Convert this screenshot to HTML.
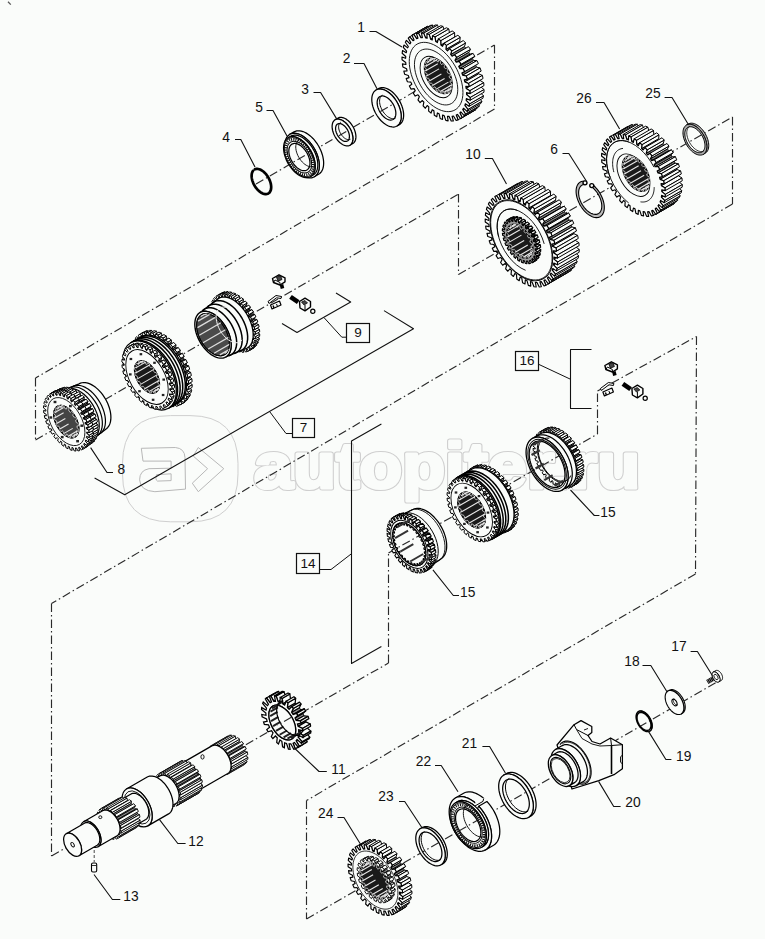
<!DOCTYPE html>
<html><head><meta charset="utf-8"><style>
html,body{margin:0;padding:0;background:#fafcfa;width:765px;height:939px;overflow:hidden}
svg{display:block}
text{font-family:"Liberation Sans",sans-serif;fill:#111}
</style></head><body>
<svg width="765" height="939" viewBox="0 0 765 939">
<defs><clipPath id="c1"><path d="M452.12,83.75 L452.05,82.14 L451.86,80.47 L451.52,78.76 L451.07,77.02 L450.49,75.26 L449.79,73.51 L448.98,71.78 L448.06,70.09 L447.06,68.46 L445.96,66.89 L444.80,65.41 L443.57,64.03 L442.29,62.76 L440.97,61.62 L439.62,60.61 L438.27,59.75 L436.91,59.04 L435.56,58.50 L434.24,58.12 L432.96,57.91 L431.73,57.87 L430.57,58.00 L429.47,58.31 L428.47,58.78 L427.55,59.42 L426.74,60.21 L426.04,61.15 L425.46,62.24 L425.01,63.45 L424.67,64.78 L424.48,66.22 L424.41,67.75 L424.48,69.36 L424.67,71.03 L425.01,72.74 L425.46,74.48 L426.04,76.24 L426.74,77.99 L427.55,79.72 L428.47,81.41 L429.47,83.04 L430.57,84.61 L431.73,86.09 L432.96,87.47 L434.24,88.74 L435.56,89.88 L436.91,90.89 L438.27,91.75 L439.62,92.46 L440.97,93.00 L442.29,93.38 L443.57,93.59 L444.80,93.63 L445.96,93.50 L447.06,93.19 L448.06,92.72 L448.98,92.08 L449.79,91.29 L450.49,90.35 L451.07,89.26 L451.52,88.05 L451.86,86.72 L452.05,85.28Z"/></clipPath><clipPath id="c2"><path d="M532.96,248.80 L532.90,247.27 L532.71,245.69 L532.40,244.06 L531.96,242.40 L531.41,240.74 L530.75,239.07 L529.98,237.43 L529.11,235.83 L528.15,234.27 L527.11,232.78 L526.01,231.38 L524.84,230.07 L523.62,228.86 L522.37,227.77 L521.09,226.82 L519.80,226.00 L518.51,225.33 L517.23,224.81 L515.98,224.45 L514.76,224.25 L513.59,224.21 L512.49,224.34 L511.45,224.63 L510.49,225.08 L509.62,225.68 L508.85,226.44 L508.19,227.33 L507.64,228.36 L507.20,229.51 L506.89,230.78 L506.70,232.15 L506.64,233.60 L506.70,235.13 L506.89,236.71 L507.20,238.34 L507.64,240.00 L508.19,241.66 L508.85,243.33 L509.62,244.97 L510.49,246.57 L511.45,248.13 L512.49,249.62 L513.59,251.02 L514.76,252.33 L515.98,253.54 L517.23,254.63 L518.51,255.58 L519.80,256.40 L521.09,257.07 L522.37,257.59 L523.62,257.95 L524.84,258.15 L526.01,258.19 L527.11,258.06 L528.15,257.77 L529.11,257.32 L529.98,256.72 L530.75,255.96 L531.41,255.07 L531.96,254.04 L532.40,252.89 L532.71,251.62 L532.90,250.25Z"/></clipPath><clipPath id="c3"><path d="M649.68,181.60 L649.62,180.01 L649.42,178.37 L649.09,176.67 L648.64,174.95 L648.07,173.22 L647.38,171.49 L646.58,169.78 L645.67,168.11 L644.68,166.50 L643.60,164.95 L642.45,163.49 L641.23,162.13 L639.97,160.87 L638.67,159.74 L637.34,158.75 L636.00,157.90 L634.66,157.20 L633.33,156.66 L632.03,156.29 L630.76,156.08 L629.55,156.04 L628.40,156.17 L627.32,156.47 L626.32,156.94 L625.42,157.57 L624.62,158.35 L623.93,159.28 L623.36,160.35 L622.90,161.55 L622.58,162.87 L622.38,164.29 L622.31,165.80 L622.38,167.39 L622.58,169.03 L622.90,170.73 L623.36,172.45 L623.93,174.18 L624.62,175.91 L625.42,177.62 L626.32,179.29 L627.32,180.90 L628.40,182.45 L629.55,183.91 L630.76,185.27 L632.03,186.53 L633.33,187.66 L634.66,188.65 L636.00,189.50 L637.34,190.20 L638.67,190.74 L639.97,191.11 L641.23,191.32 L642.45,191.36 L643.60,191.23 L644.68,190.93 L645.67,190.46 L646.58,189.83 L647.38,189.05 L648.07,188.12 L648.64,187.05 L649.09,185.85 L649.42,184.53 L649.62,183.11Z"/></clipPath><clipPath id="c4"><path d="M78.86,428.85 L78.80,427.39 L78.62,425.88 L78.32,424.33 L77.90,422.75 L77.37,421.16 L76.74,419.57 L76.01,418.01 L75.18,416.47 L74.27,414.99 L73.28,413.57 L72.22,412.23 L71.11,410.98 L69.95,409.83 L68.75,408.79 L67.53,407.88 L66.30,407.10 L65.07,406.46 L63.85,405.96 L62.65,405.62 L61.49,405.43 L60.38,405.39 L59.32,405.52 L58.33,405.79 L57.42,406.22 L56.59,406.80 L55.86,407.52 L55.23,408.37 L54.70,409.35 L54.28,410.45 L53.98,411.66 L53.80,412.96 L53.74,414.35 L53.80,415.81 L53.98,417.32 L54.28,418.87 L54.70,420.45 L55.23,422.04 L55.86,423.63 L56.59,425.19 L57.42,426.73 L58.33,428.21 L59.32,429.63 L60.38,430.97 L61.49,432.22 L62.65,433.37 L63.85,434.41 L65.07,435.32 L66.30,436.10 L67.53,436.74 L68.75,437.24 L69.95,437.58 L71.11,437.77 L72.22,437.81 L73.28,437.68 L74.27,437.41 L75.18,436.98 L76.01,436.40 L76.74,435.68 L77.37,434.83 L77.90,433.85 L78.32,432.75 L78.62,431.54 L78.80,430.24Z"/></clipPath><clipPath id="c5"><path d="M159.56,384.25 L159.50,382.79 L159.32,381.28 L159.02,379.73 L158.60,378.15 L158.07,376.56 L157.44,374.97 L156.71,373.41 L155.88,371.87 L154.97,370.39 L153.98,368.97 L152.92,367.63 L151.81,366.38 L150.65,365.23 L149.45,364.19 L148.23,363.28 L147.00,362.50 L145.77,361.86 L144.55,361.36 L143.35,361.02 L142.19,360.83 L141.08,360.79 L140.02,360.92 L139.03,361.19 L138.12,361.62 L137.29,362.20 L136.56,362.92 L135.93,363.77 L135.40,364.75 L134.98,365.85 L134.68,367.06 L134.50,368.36 L134.44,369.75 L134.50,371.21 L134.68,372.72 L134.98,374.27 L135.40,375.85 L135.93,377.44 L136.56,379.03 L137.29,380.59 L138.12,382.13 L139.03,383.61 L140.02,385.03 L141.08,386.37 L142.19,387.62 L143.35,388.77 L144.55,389.81 L145.77,390.72 L147.00,391.50 L148.23,392.14 L149.45,392.64 L150.65,392.98 L151.81,393.17 L152.92,393.21 L153.98,393.08 L154.97,392.81 L155.88,392.38 L156.71,391.80 L157.44,391.08 L158.07,390.23 L158.60,389.25 L159.02,388.15 L159.32,386.94 L159.50,385.64Z"/></clipPath><clipPath id="c6"><path d="M229.28,344.10 L229.20,342.21 L228.97,340.25 L228.58,338.24 L228.04,336.19 L227.36,334.13 L226.54,332.07 L225.59,330.04 L224.51,328.05 L223.33,326.13 L222.05,324.29 L220.67,322.55 L219.23,320.93 L217.73,319.44 L216.18,318.10 L214.60,316.91 L213.00,315.90 L211.40,315.07 L209.82,314.43 L208.27,313.98 L206.77,313.73 L205.33,313.69 L203.95,313.85 L202.67,314.20 L201.49,314.76 L200.41,315.51 L199.46,316.44 L198.64,317.55 L197.96,318.82 L197.42,320.25 L197.03,321.81 L196.80,323.50 L196.72,325.30 L196.80,327.19 L197.03,329.15 L197.42,331.16 L197.96,333.21 L198.64,335.27 L199.46,337.33 L200.41,339.36 L201.49,341.35 L202.67,343.27 L203.95,345.11 L205.33,346.85 L206.77,348.47 L208.27,349.96 L209.82,351.30 L211.40,352.49 L213.00,353.50 L214.60,354.33 L216.18,354.97 L217.73,355.42 L219.23,355.67 L220.67,355.71 L222.05,355.55 L223.33,355.20 L224.51,354.64 L225.59,353.89 L226.54,352.96 L227.36,351.85 L228.04,350.58 L228.58,349.15 L228.97,347.59 L229.20,345.90Z"/></clipPath><clipPath id="c7"><path d="M485.56,518.00 L485.49,516.39 L485.29,514.72 L484.96,513.01 L484.50,511.27 L483.92,509.51 L483.22,507.76 L482.41,506.03 L481.50,504.34 L480.49,502.71 L479.40,501.14 L478.23,499.66 L477.00,498.28 L475.72,497.01 L474.40,495.87 L473.06,494.86 L471.70,494.00 L470.34,493.29 L469.00,492.75 L467.68,492.37 L466.40,492.16 L465.17,492.12 L464.00,492.25 L462.91,492.56 L461.90,493.03 L460.99,493.67 L460.18,494.46 L459.48,495.40 L458.90,496.49 L458.44,497.70 L458.11,499.03 L457.91,500.47 L457.84,502.00 L457.91,503.61 L458.11,505.28 L458.44,506.99 L458.90,508.73 L459.48,510.49 L460.18,512.24 L460.99,513.97 L461.90,515.66 L462.91,517.29 L464.00,518.86 L465.17,520.34 L466.40,521.72 L467.68,522.99 L469.00,524.13 L470.34,525.14 L471.70,526.00 L473.06,526.71 L474.40,527.25 L475.72,527.63 L477.00,527.84 L478.23,527.88 L479.40,527.75 L480.49,527.44 L481.50,526.97 L482.41,526.33 L483.22,525.54 L483.92,524.60 L484.50,523.51 L484.96,522.30 L485.29,520.97 L485.49,519.53Z"/></clipPath><clipPath id="c8"><path d="M297.46,727.35 L297.40,725.99 L297.23,724.59 L296.95,723.14 L296.57,721.67 L296.07,720.19 L295.49,718.71 L294.80,717.25 L294.03,715.83 L293.18,714.45 L292.26,713.13 L291.28,711.88 L290.24,710.71 L289.16,709.64 L288.04,708.68 L286.91,707.83 L285.76,707.10 L284.62,706.50 L283.48,706.04 L282.37,705.72 L281.29,705.54 L280.25,705.51 L279.27,705.63 L278.35,705.88 L277.50,706.28 L276.73,706.82 L276.04,707.49 L275.45,708.28 L274.96,709.20 L274.58,710.22 L274.30,711.35 L274.13,712.56 L274.07,713.85 L274.13,715.21 L274.30,716.61 L274.58,718.06 L274.96,719.53 L275.45,721.01 L276.04,722.49 L276.73,723.95 L277.50,725.37 L278.35,726.75 L279.27,728.07 L280.25,729.32 L281.29,730.49 L282.37,731.56 L283.48,732.52 L284.62,733.37 L285.76,734.10 L286.91,734.70 L288.04,735.16 L289.16,735.48 L290.24,735.66 L291.28,735.69 L292.26,735.57 L293.18,735.32 L294.03,734.92 L294.80,734.38 L295.49,733.71 L296.07,732.92 L296.57,732.00 L296.95,730.98 L297.23,729.85 L297.40,728.64Z"/></clipPath><clipPath id="c9"><path d="M388.69,888.85 L388.62,887.19 L388.41,885.47 L388.07,883.71 L387.60,881.91 L387.00,880.10 L386.28,878.29 L385.45,876.51 L384.50,874.77 L383.47,873.08 L382.34,871.46 L381.14,869.94 L379.87,868.51 L378.55,867.21 L377.19,866.03 L375.80,864.99 L374.40,864.10 L373.00,863.37 L371.61,862.81 L370.25,862.42 L368.93,862.20 L367.66,862.16 L366.46,862.30 L365.33,862.61 L364.30,863.10 L363.35,863.76 L362.52,864.57 L361.80,865.55 L361.20,866.66 L360.73,867.92 L360.39,869.29 L360.18,870.77 L360.11,872.35 L360.18,874.01 L360.39,875.73 L360.73,877.49 L361.20,879.29 L361.80,881.10 L362.52,882.91 L363.35,884.69 L364.30,886.43 L365.33,888.12 L366.46,889.74 L367.66,891.26 L368.93,892.69 L370.25,893.99 L371.61,895.17 L373.00,896.21 L374.40,897.10 L375.80,897.83 L377.19,898.39 L378.55,898.78 L379.87,899.00 L381.14,899.04 L382.34,898.90 L383.47,898.59 L384.50,898.10 L385.45,897.44 L386.28,896.63 L387.00,895.65 L387.60,894.54 L388.07,893.28 L388.41,891.91 L388.62,890.43Z"/></clipPath></defs>
<rect width="765" height="939" fill="#fafcfa"/>
<path d="M170.5,415.6 L190,415.6 Q238,415.6 238,463.6 L238,473.8 Q238,521.8 190,521.8 L170.5,521.8 Q122.5,521.8 122.5,473.8 L122.5,463.6 Q122.5,415.6 170.5,415.6 Z" fill="none" stroke="#cfcfcf" stroke-width="1"/>
<text x="254" y="488" font-size="64" font-weight="bold" textLength="386" lengthAdjust="spacingAndGlyphs" style="font-family:'Liberation Sans',sans-serif;fill:#fafcfa;stroke:#cfcfcf;stroke-width:5.2;stroke-linejoin:round">autopiter.ru</text>
<text x="254" y="488" font-size="64" font-weight="bold" textLength="386" lengthAdjust="spacingAndGlyphs" style="font-family:'Liberation Sans',sans-serif;fill:#fafcfa;stroke:#fafcfa;stroke-width:3.2;stroke-linejoin:round">autopiter.ru</text>
<path d="M141.3,448.3 L175.3,447.5 Q184.7,448.3 185.0,457.7 L185.5,489.1 L154.9,491.7 Q140.1,490.8 139.6,479.8 Q139.6,470.4 149.0,468.7 L171.1,468.2 L171.1,461.1 L143.0,461.1 Z M156.6,474.7 L171.1,473.8 L171.1,480.6 L157.5,481.1 Q154.9,479.8 156.6,474.7 Z" fill="none" stroke="#b8b8b8" stroke-width="1"/>
<polygon points="193.2,456.0 198.3,447.5 223.8,468.7 198.3,491.7 192.3,483.2 207.6,468.7" fill="none" stroke="#b8b8b8" stroke-width="1" stroke-linejoin="miter"/>
<polyline points="8.00,1.80 10.80,4.60" fill="none" stroke="#555" stroke-width="1.30" stroke-linejoin="round" />
<polyline points="256.00,184.00 494.50,45.00" fill="none" stroke="#2a2a2a" stroke-width="1.15" stroke-linejoin="round" stroke-dasharray="8.5 3 1.5 3" stroke-linecap="butt"/>
<polyline points="494.50,45.00 494.50,109.00" fill="none" stroke="#2a2a2a" stroke-width="1.15" stroke-linejoin="round" stroke-dasharray="8.5 3 1.5 3" stroke-linecap="butt"/>
<polyline points="494.50,109.00 35.50,378.00" fill="none" stroke="#2a2a2a" stroke-width="1.15" stroke-linejoin="round" stroke-dasharray="8.5 3 1.5 3" stroke-linecap="butt"/>
<polyline points="35.50,378.00 35.50,440.00" fill="none" stroke="#2a2a2a" stroke-width="1.15" stroke-linejoin="round" stroke-dasharray="8.5 3 1.5 3" stroke-linecap="butt"/>
<polyline points="35.50,440.00 458.50,194.00" fill="none" stroke="#2a2a2a" stroke-width="1.15" stroke-linejoin="round" stroke-dasharray="8.5 3 1.5 3" stroke-linecap="butt"/>
<polyline points="458.50,194.00 458.50,274.50" fill="none" stroke="#2a2a2a" stroke-width="1.15" stroke-linejoin="round" stroke-dasharray="8.5 3 1.5 3" stroke-linecap="butt"/>
<polyline points="458.50,274.50 732.50,117.00" fill="none" stroke="#2a2a2a" stroke-width="1.15" stroke-linejoin="round" stroke-dasharray="8.5 3 1.5 3" stroke-linecap="butt"/>
<polyline points="732.50,117.00 732.50,204.00" fill="none" stroke="#2a2a2a" stroke-width="1.15" stroke-linejoin="round" stroke-dasharray="8.5 3 1.5 3" stroke-linecap="butt"/>
<polyline points="732.50,204.00 51.50,603.50" fill="none" stroke="#2a2a2a" stroke-width="1.15" stroke-linejoin="round" stroke-dasharray="8.5 3 1.5 3" stroke-linecap="butt"/>
<polyline points="51.50,603.50 51.50,856.00" fill="none" stroke="#2a2a2a" stroke-width="1.15" stroke-linejoin="round" stroke-dasharray="8.5 3 1.5 3" stroke-linecap="butt"/>
<polyline points="51.50,856.00 388.50,663.00" fill="none" stroke="#2a2a2a" stroke-width="1.15" stroke-linejoin="round" stroke-dasharray="8.5 3 1.5 3" stroke-linecap="butt"/>
<polyline points="388.50,663.00 388.50,553.00" fill="none" stroke="#2a2a2a" stroke-width="1.15" stroke-linejoin="round" stroke-dasharray="8.5 3 1.5 3" stroke-linecap="butt"/>
<polyline points="388.50,553.00 597.50,434.00" fill="none" stroke="#2a2a2a" stroke-width="1.15" stroke-linejoin="round" stroke-dasharray="8.5 3 1.5 3" stroke-linecap="butt"/>
<polyline points="597.50,434.00 597.50,391.00" fill="none" stroke="#2a2a2a" stroke-width="1.15" stroke-linejoin="round" stroke-dasharray="8.5 3 1.5 3" stroke-linecap="butt"/>
<polyline points="597.50,391.00 696.50,336.50" fill="none" stroke="#2a2a2a" stroke-width="1.15" stroke-linejoin="round" stroke-dasharray="8.5 3 1.5 3" stroke-linecap="butt"/>
<polyline points="696.50,336.50 695.50,574.00" fill="none" stroke="#2a2a2a" stroke-width="1.15" stroke-linejoin="round" stroke-dasharray="8.5 3 1.5 3" stroke-linecap="butt"/>
<polyline points="695.50,574.00 306.50,800.50" fill="none" stroke="#2a2a2a" stroke-width="1.15" stroke-linejoin="round" stroke-dasharray="8.5 3 1.5 3" stroke-linecap="butt"/>
<polyline points="306.50,800.50 306.50,919.00" fill="none" stroke="#2a2a2a" stroke-width="1.15" stroke-linejoin="round" stroke-dasharray="8.5 3 1.5 3" stroke-linecap="butt"/>
<polyline points="306.50,919.00 722.00,679.00" fill="none" stroke="#2a2a2a" stroke-width="1.15" stroke-linejoin="round" stroke-dasharray="8.5 3 1.5 3" stroke-linecap="butt"/>
<polyline points="282.00,323.50 297.00,332.50 350.70,302.00 336.00,293.00" fill="none" stroke="#111" stroke-width="1.10" stroke-linejoin="round" />
<polyline points="324.00,317.60 341.80,337.20 346.50,337.20" fill="none" stroke="#111" stroke-width="1.00" stroke-linejoin="round" />
<polyline points="94.60,478.00 124.70,494.70 413.50,328.70 384.00,310.60" fill="none" stroke="#111" stroke-width="1.10" stroke-linejoin="round" />
<polyline points="269.60,411.50 286.00,433.50 292.00,433.50" fill="none" stroke="#111" stroke-width="1.00" stroke-linejoin="round" />
<polyline points="381.40,424.00 351.50,441.00 351.50,663.40 381.40,646.40" fill="none" stroke="#111" stroke-width="1.10" stroke-linejoin="round" />
<polyline points="319.20,569.50 331.00,569.50 351.50,553.70" fill="none" stroke="#111" stroke-width="1.00" stroke-linejoin="round" />
<polyline points="591.50,349.50 570.50,349.50 570.50,408.50 591.50,408.50" fill="none" stroke="#111" stroke-width="1.10" stroke-linejoin="round" />
<polyline points="538.00,364.00 570.00,379.00" fill="none" stroke="#111" stroke-width="1.00" stroke-linejoin="round" />
<rect x="346.5" y="323.5" width="23.0" height="19.0" fill="#fafcfa" stroke="#111" stroke-width="1.2"/>
<text x="358.0" y="337.0" font-size="13.5" text-anchor="middle" >9</text>
<rect x="292.5" y="418.5" width="22.0" height="19.0" fill="#fafcfa" stroke="#111" stroke-width="1.2"/>
<text x="303.5" y="432.0" font-size="13.5" text-anchor="middle" >7</text>
<rect x="296.5" y="553.5" width="23.0" height="20.0" fill="#fafcfa" stroke="#111" stroke-width="1.2"/>
<text x="308.0" y="568.0" font-size="13.5" text-anchor="middle" >14</text>
<rect x="515.5" y="351.5" width="23.0" height="19.0" fill="#fafcfa" stroke="#111" stroke-width="1.2"/>
<text x="527.0" y="365.0" font-size="13.5" text-anchor="middle" >16</text>
<polyline points="252.92,170.96 252.48,171.70 252.13,172.54 251.86,173.47 251.69,174.48 251.62,175.56 251.64,176.69 251.76,177.88 251.97,179.10 252.28,180.34 252.68,181.60 253.16,182.85 253.73,184.09 254.37,185.31 255.08,186.48 255.86,187.61 256.69,188.68 257.56,189.68 258.47,190.59 259.42,191.42 260.38,192.15 261.35,192.77 262.32,193.28 263.28,193.68 264.23,193.95 265.14,194.10 266.02,194.13 266.86,194.03 267.64,193.81 268.36,193.46 269.01,193.00 269.58,192.43 270.07,191.74 270.48,190.96 270.80,190.08 271.02,189.11 271.15,188.08 271.18,186.97 271.12,185.81 270.96,184.61 270.71,183.38 270.36,182.13 269.93,180.88 269.41,179.62 268.81,178.39 268.14,177.19 267.40,176.03 266.60,174.93 265.75,173.89 264.86,172.93 263.93,172.05 262.98,171.26 262.01,170.58 261.04,170.00 260.07,169.54 259.12,169.19 258.18,168.97 257.28,168.87 256.42,168.90 255.61,169.05 254.85,169.32" fill="none" stroke="#000" stroke-width="2.70" stroke-linejoin="round" stroke-linecap="round"/>
<polygon points="314.25,176.81 315.39,176.02 316.40,175.03 317.27,173.85 318.00,172.49 318.57,170.98 318.99,169.31 319.24,167.51 319.32,165.60 319.24,163.59 318.99,161.51 318.57,159.36 318.00,157.19 317.27,154.99 316.40,152.80 315.39,150.64 314.25,148.53 312.99,146.48 311.62,144.53 310.16,142.68 308.63,140.95 307.03,139.36 305.38,137.94 303.70,136.68 302.00,135.60 300.30,134.72 298.62,134.03 296.97,133.56 295.37,133.30 293.83,133.25 292.38,133.41 291.01,133.80 289.75,134.39 294.08,131.89 295.34,131.30 296.71,130.91 298.16,130.75 299.70,130.80 301.30,131.06 302.95,131.53 304.63,132.22 306.33,133.10 308.03,134.18 309.71,135.44 311.36,136.86 312.96,138.45 314.49,140.18 315.95,142.03 317.32,143.98 318.58,146.03 319.72,148.14 320.73,150.30 321.60,152.49 322.33,154.69 322.90,156.86 323.32,159.01 323.57,161.09 323.65,163.10 323.57,165.01 323.32,166.81 322.90,168.48 322.33,169.99 321.60,171.35 320.73,172.53 319.72,173.52 318.58,174.31" fill="#fafcfa" stroke="#000" stroke-width="1.25" stroke-linejoin="round" />
<path d="M319.32,165.60 L319.24,163.59 L318.99,161.51 L318.57,159.36 L318.00,157.19 L317.27,154.99 L316.40,152.80 L315.39,150.64 L314.25,148.53 L312.99,146.48 L311.62,144.53 L310.16,142.68 L308.63,140.95 L307.03,139.36 L305.38,137.94 L303.70,136.68 L302.00,135.60 L300.30,134.72 L298.62,134.03 L296.97,133.56 L295.37,133.30 L293.83,133.25 L292.38,133.41 L291.01,133.80 L289.75,134.39 L288.61,135.18 L287.60,136.17 L286.72,137.35 L286.00,138.71 L285.42,140.22 L285.01,141.89 L284.76,143.69 L284.68,145.60 L284.76,147.61 L285.01,149.69 L285.42,151.84 L286.00,154.01 L286.72,156.21 L287.60,158.40 L288.61,160.56 L289.75,162.67 L291.01,164.72 L292.38,166.67 L293.83,168.52 L295.37,170.25 L296.97,171.84 L298.62,173.26 L300.30,174.52 L302.00,175.60 L303.70,176.48 L305.38,177.17 L307.03,177.64 L308.63,177.90 L310.16,177.95 L311.62,177.79 L312.99,177.40 L314.25,176.81 L315.39,176.02 L316.40,175.03 L317.27,173.85 L318.00,172.49 L318.57,170.98 L318.99,169.31 L319.24,167.51Z M317.15,164.35 L317.08,162.59 L316.86,160.77 L316.50,158.89 L316.00,156.99 L315.36,155.07 L314.60,153.15 L313.71,151.26 L312.71,149.41 L311.61,147.62 L310.42,145.91 L309.14,144.29 L307.80,142.78 L306.40,141.39 L304.95,140.14 L303.48,139.04 L302.00,138.10 L300.51,137.33 L299.04,136.73 L297.60,136.31 L296.20,136.08 L294.85,136.04 L293.58,136.19 L292.38,136.52 L291.28,137.04 L290.28,137.73 L289.40,138.60 L288.63,139.63 L288.00,140.82 L287.50,142.15 L287.13,143.60 L286.92,145.18 L286.84,146.85 L286.92,148.61 L287.13,150.43 L287.50,152.31 L288.00,154.21 L288.63,156.13 L289.40,158.05 L290.28,159.94 L291.28,161.79 L292.38,163.58 L293.58,165.29 L294.85,166.91 L296.20,168.42 L297.60,169.81 L299.04,171.06 L300.51,172.16 L302.00,173.10 L303.48,173.87 L304.95,174.47 L306.40,174.89 L307.80,175.12 L309.14,175.16 L310.42,175.01 L311.61,174.68 L312.71,174.16 L313.71,173.47 L314.60,172.60 L315.36,171.57 L316.00,170.38 L316.50,169.05 L316.86,167.60 L317.08,166.02Z" fill="#fafcfa" stroke="#000" stroke-width="1.25" fill-rule="evenodd"/>
<polygon points="310.61,176.51 311.65,175.78 312.58,174.87 313.38,173.80 314.04,172.56 314.57,171.17 314.94,169.64 315.17,168.00 315.25,166.25 315.17,164.41 314.94,162.50 314.57,160.54 314.04,158.55 313.38,156.54 312.58,154.54 311.65,152.56 310.61,150.63 309.45,148.76 308.20,146.97 306.87,145.27 305.46,143.69 304.00,142.24 302.49,140.94 300.95,139.78 299.40,138.80 297.85,137.99 296.31,137.37 294.80,136.93 293.34,136.69 291.93,136.65 290.60,136.80 289.35,137.15 288.19,137.69 290.79,136.19 291.94,135.65 293.19,135.30 294.53,135.15 295.93,135.19 297.40,135.43 298.91,135.87 300.44,136.49 302.00,137.30 303.55,138.28 305.09,139.44 306.60,140.74 308.06,142.19 309.47,143.77 310.80,145.47 312.05,147.26 313.20,149.13 314.25,151.06 315.18,153.04 315.97,155.04 316.64,157.05 317.16,159.04 317.54,161.00 317.77,162.91 317.85,164.75 317.77,166.50 317.54,168.14 317.16,169.67 316.64,171.06 315.97,172.30 315.18,173.37 314.25,174.28 313.20,175.01" fill="#fafcfa" stroke="#000" stroke-width="1.25" stroke-linejoin="round" />
<path d="M315.25,166.25 L315.17,164.41 L314.94,162.50 L314.57,160.54 L314.04,158.55 L313.38,156.54 L312.58,154.54 L311.65,152.56 L310.61,150.63 L309.45,148.76 L308.20,146.97 L306.87,145.27 L305.46,143.69 L304.00,142.24 L302.49,140.94 L300.95,139.78 L299.40,138.80 L297.85,137.99 L296.31,137.37 L294.80,136.93 L293.34,136.69 L291.93,136.65 L290.60,136.80 L289.35,137.15 L288.19,137.69 L287.15,138.42 L286.22,139.33 L285.42,140.40 L284.76,141.64 L284.23,143.03 L283.86,144.56 L283.63,146.20 L283.55,147.95 L283.63,149.79 L283.86,151.70 L284.23,153.66 L284.76,155.65 L285.42,157.66 L286.22,159.66 L287.15,161.64 L288.19,163.57 L289.35,165.44 L290.60,167.23 L291.93,168.93 L293.34,170.51 L294.80,171.96 L296.31,173.26 L297.85,174.42 L299.40,175.40 L300.95,176.21 L302.49,176.83 L304.00,177.27 L305.46,177.51 L306.87,177.55 L308.20,177.40 L309.45,177.05 L310.61,176.51 L311.65,175.78 L312.58,174.87 L313.38,173.80 L314.04,172.56 L314.57,171.17 L314.94,169.64 L315.17,168.00Z M309.97,163.20 L309.91,161.97 L309.76,160.70 L309.51,159.40 L309.16,158.07 L308.72,156.73 L308.18,155.39 L307.57,154.08 L306.87,152.79 L306.10,151.54 L305.27,150.35 L304.38,149.22 L303.44,148.16 L302.47,147.20 L301.46,146.32 L300.44,145.56 L299.40,144.90 L298.36,144.36 L297.34,143.94 L296.33,143.65 L295.36,143.49 L294.42,143.47 L293.53,143.57 L292.70,143.80 L291.93,144.16 L291.23,144.65 L290.62,145.25 L290.08,145.97 L289.64,146.80 L289.29,147.72 L289.04,148.74 L288.89,149.83 L288.83,151.00 L288.89,152.23 L289.04,153.50 L289.29,154.80 L289.64,156.13 L290.08,157.47 L290.62,158.81 L291.23,160.12 L291.93,161.41 L292.70,162.66 L293.53,163.85 L294.42,164.98 L295.36,166.04 L296.33,167.00 L297.34,167.88 L298.36,168.64 L299.40,169.30 L300.44,169.84 L301.46,170.26 L302.47,170.55 L303.44,170.71 L304.38,170.73 L305.27,170.63 L306.10,170.40 L306.87,170.04 L307.57,169.55 L308.18,168.95 L308.72,168.23 L309.16,167.40 L309.51,166.48 L309.76,165.46 L309.91,164.37Z" fill="#fafcfa" stroke="#000" stroke-width="1.25" fill-rule="evenodd"/>
<ellipse cx="299.40" cy="157.10" rx="11.24" ry="19.47" transform="rotate(-30 299.40 157.10)" fill="none" stroke="#111" stroke-width="2.6" stroke-dasharray="1.1 1.1"/>
<ellipse cx="299.40" cy="157.10" rx="12.30" ry="21.31" transform="rotate(-30 299.40 157.10)" fill="none" stroke="#000" stroke-width="0.90" />
<ellipse cx="299.40" cy="157.10" rx="10.04" ry="17.39" transform="rotate(-30 299.40 157.10)" fill="none" stroke="#000" stroke-width="0.90" />
<polyline points="298.86,140.16 297.95,140.83 297.18,141.72 296.57,142.80 296.12,144.05 295.85,145.46 295.76,147.00 295.85,148.64 296.12,150.37 296.57,152.13 297.18,153.92 297.95,155.69 298.86,157.41 299.90,159.07 301.05,160.62 302.28,162.04 303.59,163.31 304.95,164.40 306.33,165.30 307.71,165.99 309.06,166.46 310.37,166.71 311.61,166.72 312.76,166.49 313.80,166.04" fill="none" stroke="#000" stroke-width="0.90" stroke-linejoin="round" />
<polygon points="349.85,145.23 350.53,144.75 351.14,144.16 351.67,143.45 352.10,142.64 352.44,141.73 352.69,140.73 352.84,139.65 352.89,138.50 352.84,137.29 352.69,136.04 352.44,134.76 352.10,133.45 351.67,132.13 351.14,130.82 350.53,129.53 349.85,128.26 349.09,127.03 348.27,125.86 347.40,124.75 346.48,123.71 345.52,122.76 344.53,121.90 343.52,121.15 342.50,120.50 341.48,119.97 340.47,119.56 339.48,119.28 338.52,119.12 337.60,119.09 336.73,119.19 335.91,119.42 335.15,119.77 338.18,118.02 338.94,117.67 339.76,117.44 340.63,117.34 341.55,117.37 342.51,117.53 343.50,117.81 344.51,118.22 345.53,118.75 346.55,119.40 347.56,120.15 348.55,121.01 349.51,121.96 350.43,123.00 351.30,124.11 352.12,125.28 352.88,126.51 353.56,127.78 354.17,129.07 354.70,130.38 355.13,131.70 355.48,133.01 355.72,134.29 355.87,135.54 355.92,136.75 355.87,137.90 355.72,138.98 355.48,139.98 355.13,140.89 354.70,141.70 354.17,142.41 353.56,143.00 352.88,143.48" fill="#fafcfa" stroke="#000" stroke-width="1.25" stroke-linejoin="round" />
<path d="M352.89,138.50 L352.84,137.29 L352.69,136.04 L352.44,134.76 L352.10,133.45 L351.67,132.13 L351.14,130.82 L350.53,129.53 L349.85,128.26 L349.09,127.03 L348.27,125.86 L347.40,124.75 L346.48,123.71 L345.52,122.76 L344.53,121.90 L343.52,121.15 L342.50,120.50 L341.48,119.97 L340.47,119.56 L339.48,119.28 L338.52,119.12 L337.60,119.09 L336.73,119.19 L335.91,119.42 L335.15,119.77 L334.47,120.25 L333.86,120.84 L333.33,121.55 L332.90,122.36 L332.56,123.27 L332.31,124.27 L332.16,125.35 L332.11,126.50 L332.16,127.71 L332.31,128.96 L332.56,130.24 L332.90,131.55 L333.33,132.87 L333.86,134.18 L334.47,135.47 L335.15,136.74 L335.91,137.97 L336.73,139.14 L337.60,140.25 L338.52,141.29 L339.48,142.24 L340.47,143.10 L341.48,143.85 L342.50,144.50 L343.52,145.03 L344.53,145.44 L345.52,145.72 L346.48,145.88 L347.40,145.91 L348.27,145.81 L349.09,145.58 L349.85,145.23 L350.53,144.75 L351.14,144.16 L351.67,143.45 L352.10,142.64 L352.44,141.73 L352.69,140.73 L352.84,139.65Z M349.43,136.50 L349.39,135.70 L349.30,134.86 L349.13,134.01 L348.90,133.13 L348.61,132.26 L348.26,131.38 L347.86,130.52 L347.40,129.67 L346.90,128.85 L346.35,128.07 L345.77,127.33 L345.15,126.64 L344.51,126.01 L343.85,125.43 L343.18,124.93 L342.50,124.50 L341.82,124.15 L341.15,123.87 L340.49,123.68 L339.85,123.58 L339.23,123.56 L338.65,123.63 L338.10,123.78 L337.60,124.01 L337.14,124.33 L336.74,124.73 L336.39,125.20 L336.10,125.74 L335.87,126.35 L335.70,127.02 L335.61,127.74 L335.57,128.50 L335.61,129.30 L335.70,130.14 L335.87,130.99 L336.10,131.87 L336.39,132.74 L336.74,133.62 L337.14,134.48 L337.60,135.33 L338.10,136.15 L338.65,136.93 L339.23,137.67 L339.85,138.36 L340.49,138.99 L341.15,139.57 L341.82,140.07 L342.50,140.50 L343.18,140.85 L343.85,141.13 L344.51,141.32 L345.15,141.42 L345.77,141.44 L346.35,141.37 L346.90,141.22 L347.40,140.99 L347.86,140.67 L348.26,140.27 L348.61,139.80 L348.90,139.26 L349.13,138.65 L349.30,137.98 L349.39,137.26Z" fill="#fafcfa" stroke="#000" stroke-width="1.25" fill-rule="evenodd"/>
<polyline points="340.63,122.26 340.03,122.71 339.53,123.29 339.13,123.99 338.84,124.82 338.66,125.74 338.60,126.75 338.66,127.83 338.84,128.96 339.13,130.12 339.53,131.29 340.03,132.45 340.63,133.58 341.31,134.66 342.07,135.68 342.88,136.61 343.74,137.44 344.63,138.16 345.53,138.75 346.44,139.20 347.32,139.51 348.18,139.67 349.00,139.68 349.75,139.53 350.43,139.24" fill="none" stroke="#000" stroke-width="1.00" stroke-linejoin="round" />
<polygon points="396.91,126.03 397.88,125.36 398.74,124.51 399.48,123.51 400.10,122.36 400.59,121.07 400.94,119.65 401.15,118.13 401.22,116.50 401.15,114.79 400.94,113.02 400.59,111.20 400.10,109.35 399.48,107.48 398.74,105.62 397.88,103.79 396.91,101.99 395.84,100.25 394.68,98.59 393.44,97.01 392.13,95.55 390.77,94.20 389.37,92.98 387.94,91.92 386.50,91.00 385.06,90.25 383.63,89.67 382.23,89.26 380.87,89.04 379.56,89.00 378.32,89.14 377.16,89.47 376.09,89.97 378.51,88.57 379.59,88.07 380.75,87.74 381.98,87.60 383.29,87.64 384.65,87.86 386.05,88.27 387.48,88.85 388.92,89.60 390.37,90.52 391.80,91.58 393.20,92.80 394.56,94.15 395.86,95.61 397.10,97.19 398.26,98.85 399.34,100.59 400.31,102.39 401.17,104.22 401.91,106.08 402.53,107.95 403.01,109.80 403.36,111.62 403.58,113.39 403.65,115.10 403.58,116.73 403.36,118.25 403.01,119.67 402.53,120.96 401.91,122.11 401.17,123.11 400.31,123.96 399.34,124.63" fill="#fafcfa" stroke="#000" stroke-width="1.25" stroke-linejoin="round" />
<path d="M401.22,116.50 L401.15,114.79 L400.94,113.02 L400.59,111.20 L400.10,109.35 L399.48,107.48 L398.74,105.62 L397.88,103.79 L396.91,101.99 L395.84,100.25 L394.68,98.59 L393.44,97.01 L392.13,95.55 L390.77,94.20 L389.37,92.98 L387.94,91.92 L386.50,91.00 L385.06,90.25 L383.63,89.67 L382.23,89.26 L380.87,89.04 L379.56,89.00 L378.32,89.14 L377.16,89.47 L376.09,89.97 L375.12,90.64 L374.26,91.49 L373.52,92.49 L372.90,93.64 L372.41,94.93 L372.06,96.35 L371.85,97.87 L371.78,99.50 L371.85,101.21 L372.06,102.98 L372.41,104.80 L372.90,106.65 L373.52,108.52 L374.26,110.38 L375.12,112.21 L376.09,114.01 L377.16,115.75 L378.32,117.41 L379.56,118.99 L380.87,120.45 L382.23,121.80 L383.63,123.02 L385.06,124.08 L386.50,125.00 L387.94,125.75 L389.37,126.33 L390.77,126.74 L392.13,126.96 L393.44,127.00 L394.68,126.86 L395.84,126.53 L396.91,126.03 L397.88,125.36 L398.74,124.51 L399.48,123.51 L400.10,122.36 L400.59,121.07 L400.94,119.65 L401.15,118.13Z M395.85,113.40 L395.81,112.32 L395.67,111.19 L395.45,110.03 L395.14,108.86 L394.75,107.67 L394.28,106.49 L393.73,105.32 L393.11,104.18 L392.43,103.08 L391.70,102.02 L390.91,101.02 L390.08,100.09 L389.22,99.23 L388.32,98.46 L387.42,97.78 L386.50,97.20 L385.58,96.72 L384.68,96.35 L383.78,96.10 L382.92,95.96 L382.09,95.93 L381.30,96.02 L380.57,96.23 L379.89,96.54 L379.27,96.97 L378.72,97.51 L378.25,98.15 L377.86,98.88 L377.55,99.70 L377.33,100.60 L377.19,101.57 L377.15,102.60 L377.19,103.68 L377.33,104.81 L377.55,105.97 L377.86,107.14 L378.25,108.33 L378.72,109.51 L379.27,110.68 L379.89,111.82 L380.57,112.92 L381.30,113.98 L382.09,114.98 L382.92,115.91 L383.78,116.77 L384.68,117.54 L385.58,118.22 L386.50,118.80 L387.42,119.28 L388.32,119.65 L389.22,119.90 L390.08,120.04 L390.91,120.07 L391.70,119.98 L392.43,119.77 L393.11,119.46 L393.73,119.03 L394.28,118.49 L394.75,117.85 L395.14,117.12 L395.45,116.30 L395.67,115.40 L395.81,114.43Z" fill="#fafcfa" stroke="#000" stroke-width="1.25" fill-rule="evenodd"/>
<polyline points="382.31,95.14 381.50,95.74 380.82,96.52 380.28,97.48 379.89,98.59 379.65,99.84 379.57,101.20 379.65,102.66 379.89,104.18 380.28,105.74 380.82,107.32 381.50,108.89 382.31,110.42 383.23,111.88 384.25,113.25 385.35,114.51 386.50,115.63 387.70,116.60 388.92,117.40 390.15,118.01 391.35,118.43 392.50,118.64 393.60,118.65 394.62,118.46 395.54,118.06" fill="none" stroke="#000" stroke-width="1.00" stroke-linejoin="round" />
<polygon points="457.66,114.34 459.66,112.94 461.45,111.19 462.98,109.11 464.26,106.73 465.27,104.06 466.00,101.13 466.44,97.97 466.58,94.60 466.44,91.07 466.00,87.39 465.27,83.62 464.26,79.79 462.98,75.93 461.45,72.08 459.66,68.27 457.66,64.55 455.44,60.96 453.04,57.51 450.47,54.25 447.77,51.21 444.95,48.42 442.05,45.91 439.09,43.69 436.10,41.80 433.11,40.24 430.15,39.04 427.25,38.21 424.43,37.74 421.73,37.66 419.16,37.95 416.76,38.62 414.54,39.66 428.40,31.66 430.62,30.62 433.02,29.95 435.59,29.66 438.29,29.74 441.11,30.21 444.01,31.04 446.97,32.24 449.96,33.80 452.94,35.69 455.90,37.91 458.81,40.42 461.62,43.21 464.33,46.25 466.89,49.51 469.30,52.96 471.51,56.55 473.52,60.27 475.30,64.08 476.84,67.93 478.12,71.79 479.13,75.62 479.85,79.39 480.29,83.07 480.44,86.60 480.29,89.97 479.85,93.13 479.13,96.06 478.12,98.73 476.84,101.11 475.30,103.19 473.52,104.94 471.51,106.34" fill="#777" stroke="none" stroke-width="0.00" stroke-linejoin="round" />
<polygon points="412.98,40.71 409.74,36.77 423.59,28.77 426.84,32.71" fill="#fafcfa" stroke="#000" stroke-width="1.00" stroke-linejoin="round" />
<polygon points="458.07,119.83 456.24,115.05 470.10,107.05 471.93,111.83" fill="#fafcfa" stroke="#000" stroke-width="1.00" stroke-linejoin="round" />
<polygon points="413.78,34.31 411.99,35.20 425.85,27.20 427.63,26.31" fill="#fafcfa" stroke="#000" stroke-width="1.00" stroke-linejoin="round" />
<polygon points="460.53,118.61 462.17,117.47 476.02,109.47 474.39,110.61" fill="#fafcfa" stroke="#000" stroke-width="1.00" stroke-linejoin="round" />
<polygon points="416.67,38.66 413.78,34.31 427.63,26.31 430.53,30.66" fill="#fafcfa" stroke="#000" stroke-width="1.00" stroke-linejoin="round" />
<polygon points="462.17,117.47 459.82,112.81 473.67,104.81 476.02,109.47" fill="#fafcfa" stroke="#000" stroke-width="1.00" stroke-linejoin="round" />
<polygon points="417.97,38.23 416.67,38.66 430.53,30.66 431.83,30.23" fill="#777" stroke="#000" stroke-width="0.70" stroke-linejoin="round" />
<polygon points="459.82,112.81 460.82,111.87 474.68,103.87 473.67,104.81" fill="#777" stroke="#000" stroke-width="0.70" stroke-linejoin="round" />
<polygon points="418.46,33.09 416.42,33.45 430.28,25.45 432.31,25.09" fill="#fafcfa" stroke="#000" stroke-width="1.00" stroke-linejoin="round" />
<polygon points="464.21,115.57 465.51,113.95 479.37,105.95 478.06,107.57" fill="#fafcfa" stroke="#000" stroke-width="1.00" stroke-linejoin="round" />
<polygon points="420.92,37.71 418.46,33.09 432.31,25.09 434.77,29.71" fill="#fafcfa" stroke="#000" stroke-width="1.00" stroke-linejoin="round" />
<polygon points="465.51,113.95 462.71,109.53 476.57,101.53 479.37,105.95" fill="#fafcfa" stroke="#000" stroke-width="1.00" stroke-linejoin="round" />
<polygon points="422.38,37.65 420.92,37.71 434.77,29.71 436.23,29.65" fill="#777" stroke="#000" stroke-width="0.70" stroke-linejoin="round" />
<polygon points="462.71,109.53 463.48,108.28 477.34,100.28 476.57,101.53" fill="#777" stroke="#000" stroke-width="0.70" stroke-linejoin="round" />
<polygon points="423.65,33.13 421.41,32.96 435.27,24.96 437.50,25.13" fill="#fafcfa" stroke="#000" stroke-width="1.00" stroke-linejoin="round" />
<polygon points="467.07,111.41 468.01,109.37 481.87,101.37 480.93,103.41" fill="#fafcfa" stroke="#000" stroke-width="1.00" stroke-linejoin="round" />
<polygon points="425.60,37.89 423.65,33.13 437.50,25.13 439.46,29.89" fill="#fafcfa" stroke="#000" stroke-width="1.00" stroke-linejoin="round" />
<polygon points="427.17,38.19 425.60,37.89 439.46,29.89 441.03,30.19" fill="#777" stroke="#000" stroke-width="0.70" stroke-linejoin="round" />
<polygon points="468.01,109.37 464.84,105.32 478.70,97.32 481.87,101.37" fill="#fafcfa" stroke="#000" stroke-width="1.00" stroke-linejoin="round" />
<polygon points="464.84,105.32 465.35,103.80 479.21,95.80 478.70,97.32" fill="#777" stroke="#000" stroke-width="0.70" stroke-linejoin="round" />
<polygon points="429.19,34.43 426.83,33.73 440.69,25.73 443.05,26.43" fill="#fafcfa" stroke="#000" stroke-width="1.00" stroke-linejoin="round" />
<polygon points="432.23,39.85 430.59,39.20 444.45,31.20 446.08,31.85" fill="#777" stroke="#000" stroke-width="0.70" stroke-linejoin="round" />
<polygon points="430.59,39.20 429.19,34.43 443.05,26.43 444.45,31.20" fill="#fafcfa" stroke="#000" stroke-width="1.00" stroke-linejoin="round" />
<polygon points="469.05,106.27 469.60,103.85 483.45,95.85 482.90,98.27" fill="#fafcfa" stroke="#000" stroke-width="1.00" stroke-linejoin="round" />
<polygon points="466.15,100.30 466.38,98.54 480.24,90.54 480.00,92.30" fill="#777" stroke="#000" stroke-width="0.70" stroke-linejoin="round" />
<polygon points="469.60,103.85 466.15,100.30 480.00,92.30 483.45,95.85" fill="#fafcfa" stroke="#000" stroke-width="1.00" stroke-linejoin="round" />
<polygon points="437.39,42.58 435.74,41.59 449.59,33.59 451.25,34.58" fill="#777" stroke="#000" stroke-width="0.70" stroke-linejoin="round" />
<polygon points="466.58,94.60 466.54,92.66 480.40,84.66 480.44,86.60" fill="#777" stroke="#000" stroke-width="0.70" stroke-linejoin="round" />
<polygon points="435.74,41.59 434.94,36.95 448.80,28.95 449.59,33.59" fill="#fafcfa" stroke="#000" stroke-width="1.00" stroke-linejoin="round" />
<polygon points="434.94,36.95 432.51,35.75 446.37,27.75 448.80,28.95" fill="#fafcfa" stroke="#000" stroke-width="1.00" stroke-linejoin="round" />
<polygon points="470.21,97.56 466.58,94.60 480.44,86.60 484.07,89.56" fill="#fafcfa" stroke="#000" stroke-width="1.00" stroke-linejoin="round" />
<polygon points="470.07,100.29 470.21,97.56 484.07,89.56 483.93,92.29" fill="#fafcfa" stroke="#000" stroke-width="1.00" stroke-linejoin="round" />
<polygon points="442.52,46.30 440.89,45.01 454.75,37.01 456.38,38.30" fill="#777" stroke="#000" stroke-width="0.70" stroke-linejoin="round" />
<polygon points="466.15,88.40 465.82,86.34 479.68,78.34 480.00,80.40" fill="#777" stroke="#000" stroke-width="0.70" stroke-linejoin="round" />
<polygon points="440.89,45.01 440.72,40.63 454.58,32.63 454.75,37.01" fill="#fafcfa" stroke="#000" stroke-width="1.00" stroke-linejoin="round" />
<polygon points="469.85,90.69 466.15,88.40 480.00,80.40 483.71,82.69" fill="#fafcfa" stroke="#000" stroke-width="1.00" stroke-linejoin="round" />
<polygon points="440.72,40.63 438.30,38.95 452.16,30.95 454.58,32.63" fill="#fafcfa" stroke="#000" stroke-width="1.00" stroke-linejoin="round" />
<polygon points="470.12,93.63 469.85,90.69 483.71,82.69 483.98,85.63" fill="#fafcfa" stroke="#000" stroke-width="1.00" stroke-linejoin="round" />
<polygon points="447.47,50.90 445.91,49.34 459.77,41.34 461.32,42.90" fill="#777" stroke="#000" stroke-width="0.70" stroke-linejoin="round" />
<polygon points="464.84,81.87 464.25,79.74 478.11,71.74 478.70,73.87" fill="#777" stroke="#000" stroke-width="0.70" stroke-linejoin="round" />
<polygon points="445.91,49.34 446.37,45.35 460.22,37.35 459.77,41.34" fill="#fafcfa" stroke="#000" stroke-width="1.00" stroke-linejoin="round" />
<polygon points="468.52,83.41 464.84,81.87 478.70,73.87 482.37,75.41" fill="#fafcfa" stroke="#000" stroke-width="1.00" stroke-linejoin="round" />
<polygon points="452.08,56.25 450.65,54.47 464.51,46.47 465.94,48.25" fill="#777" stroke="#000" stroke-width="0.70" stroke-linejoin="round" />
<polygon points="462.71,75.20 461.87,73.07 475.72,65.07 476.57,67.20" fill="#777" stroke="#000" stroke-width="0.70" stroke-linejoin="round" />
<polygon points="446.37,45.35 444.02,43.25 457.88,35.25 460.22,37.35" fill="#fafcfa" stroke="#000" stroke-width="1.00" stroke-linejoin="round" />
<polygon points="469.19,86.50 468.52,83.41 482.37,75.41 483.05,78.50" fill="#fafcfa" stroke="#000" stroke-width="1.00" stroke-linejoin="round" />
<polygon points="456.24,62.20 454.97,60.25 468.82,52.25 470.10,54.20" fill="#777" stroke="#000" stroke-width="0.70" stroke-linejoin="round" />
<polygon points="459.82,68.58 458.74,66.50 472.60,58.50 473.67,60.58" fill="#777" stroke="#000" stroke-width="0.70" stroke-linejoin="round" />
<polygon points="450.65,54.47 451.72,50.99 465.58,42.99 464.51,46.47" fill="#fafcfa" stroke="#000" stroke-width="1.00" stroke-linejoin="round" />
<polygon points="466.25,75.96 462.71,75.20 476.57,67.20 480.10,67.96" fill="#fafcfa" stroke="#000" stroke-width="1.00" stroke-linejoin="round" />
<polygon points="454.97,60.25 456.62,57.37 470.48,49.37 468.82,52.25" fill="#fafcfa" stroke="#000" stroke-width="1.00" stroke-linejoin="round" />
<polygon points="463.11,68.53 459.82,68.58 473.67,60.58 476.97,60.53" fill="#fafcfa" stroke="#000" stroke-width="1.00" stroke-linejoin="round" />
<polygon points="451.72,50.99 449.52,48.52 463.37,40.52 465.58,42.99" fill="#fafcfa" stroke="#000" stroke-width="1.00" stroke-linejoin="round" />
<polygon points="467.31,79.10 466.25,75.96 480.10,67.96 481.17,71.10" fill="#fafcfa" stroke="#000" stroke-width="1.00" stroke-linejoin="round" />
<polygon points="459.20,61.34 456.24,62.20 470.10,54.20 473.06,53.34" fill="#fafcfa" stroke="#000" stroke-width="1.00" stroke-linejoin="round" />
<polygon points="458.74,66.50 460.93,64.32 474.79,56.32 472.60,58.50" fill="#fafcfa" stroke="#000" stroke-width="1.00" stroke-linejoin="round" />
<polygon points="456.62,57.37 454.63,54.61 468.48,46.61 470.48,49.37" fill="#fafcfa" stroke="#000" stroke-width="1.00" stroke-linejoin="round" />
<polygon points="464.53,71.63 463.11,68.53 476.97,60.53 478.39,63.63" fill="#fafcfa" stroke="#000" stroke-width="1.00" stroke-linejoin="round" />
<polygon points="460.93,64.32 459.20,61.34 473.06,53.34 474.79,56.32" fill="#fafcfa" stroke="#000" stroke-width="1.00" stroke-linejoin="round" />
<polygon points="466.58,94.60 466.54,92.66 470.12,93.63 469.85,90.69 466.15,88.40 465.82,86.34 469.19,86.50 468.52,83.41 464.84,81.87 464.25,79.74 467.31,79.10 466.25,75.96 462.71,75.20 461.87,73.07 464.53,71.63 463.11,68.53 459.82,68.58 458.74,66.50 460.93,64.32 459.20,61.34 456.24,62.20 454.97,60.25 456.62,57.37 454.63,54.61 452.08,56.25 450.65,54.47 451.72,50.99 449.52,48.52 447.47,50.90 445.91,49.34 446.37,45.35 444.02,43.25 442.52,46.30 440.89,45.01 440.72,40.63 438.30,38.95 437.39,42.58 435.74,41.59 434.94,36.95 432.51,35.75 432.23,39.85 430.59,39.20 429.19,34.43 426.83,33.73 427.17,38.19 425.60,37.89 423.65,33.13 421.41,32.96 422.38,37.65 420.92,37.71 418.46,33.09 416.42,33.45 417.97,38.23 416.67,38.66 413.78,34.31 411.99,35.20 414.09,39.94 412.98,40.71 409.74,36.77 408.26,38.15 410.84,42.71 409.95,43.81 406.45,40.38 405.33,42.21 408.32,46.46 407.68,47.86 404.03,45.04 403.28,47.28 406.60,51.10 406.23,52.75 402.52,50.62 402.17,53.21 405.73,56.48 405.63,58.33 401.98,56.97 402.05,59.81 405.73,62.45 405.91,64.46 402.42,63.88 402.90,66.91 406.60,68.84 407.06,70.94 403.83,71.18 404.70,74.31 408.32,75.46 409.05,77.60 406.17,78.64 407.42,81.78 410.84,82.13 411.81,84.24 409.37,86.06 410.95,89.11 414.09,88.65 415.27,90.67 413.34,93.21 415.21,96.09 417.97,94.84 419.33,96.71 417.96,99.90 420.07,102.53 422.38,100.51 423.87,102.19 423.11,105.93 425.39,108.23 427.17,105.50 428.77,106.94 428.63,111.13 431.02,113.03 432.23,109.68 433.88,110.82 434.36,115.35 436.80,116.79 437.39,112.92 439.05,113.74 440.15,118.46 442.55,119.41 442.52,115.12 444.13,115.59 445.81,120.38 448.12,120.81 447.47,116.22 448.99,116.34 451.20,121.05 453.34,120.95 452.08,116.20 453.47,115.96 456.16,120.45 458.07,119.83 456.24,115.05 457.45,114.45 460.53,118.61 462.17,117.47 459.82,112.81 460.82,111.87 464.21,115.57 465.51,113.95 462.71,109.53 463.48,108.28 467.07,111.41 468.01,109.37 464.84,105.32 465.35,103.80 469.05,106.27 469.60,103.85 466.15,100.30 466.38,98.54 470.07,100.29 470.21,97.56" fill="#fafcfa" stroke="#000" stroke-width="1.15" stroke-linejoin="round" />
<polyline points="462.95,92.50 462.82,89.39 462.43,86.15 461.79,82.83 460.90,79.46 459.78,76.06 458.42,72.67 456.85,69.32 455.08,66.04 453.13,62.87 451.02,59.84 448.76,56.97 446.37,54.29 443.89,51.83 441.34,49.62 438.73,47.67 436.10,46.00 433.47,44.63 430.86,43.57 428.31,42.84 425.83,42.43 423.44,42.35 421.18,42.61 419.07,43.20 417.12,44.12 415.35,45.35 413.78,46.89 412.42,48.72 411.30,50.82 410.41,53.17 409.77,55.75 409.38,58.54 409.25,61.50 409.38,64.61 409.77,67.85 410.41,71.17 411.30,74.54 412.42,77.94 413.78,81.33 415.35,84.68 417.12,87.96 419.07,91.13 421.18,94.16 423.44,97.03 425.83,99.71 428.31,102.17 430.86,104.38 433.47,106.33 436.10,108.00 438.73,109.37 441.34,110.43 443.89,111.16 446.37,111.57 448.76,111.65 451.02,111.39 453.13,110.80 455.08,109.88 456.85,108.65 458.42,107.11 459.78,105.28 460.90,103.18 461.79,100.83 462.43,98.25 462.82,95.46 462.95,92.50" fill="none" stroke="#000" stroke-width="0.90" stroke-linejoin="round" />
<polyline points="457.75,89.50 457.65,86.99 457.33,84.38 456.82,81.70 456.10,78.98 455.19,76.24 454.10,73.50 452.84,70.80 451.41,68.16 449.84,65.60 448.13,63.16 446.31,60.84 444.39,58.69 442.38,56.71 440.32,54.92 438.22,53.35 436.10,52.00 433.98,50.90 431.88,50.04 429.82,49.45 427.81,49.12 425.89,49.06 424.07,49.27 422.36,49.74 420.79,50.48 419.36,51.48 418.10,52.72 417.01,54.19 416.10,55.88 415.38,57.78 414.87,59.86 414.55,62.11 414.45,64.50 414.55,67.01 414.87,69.62 415.38,72.30 416.10,75.02 417.01,77.76 418.10,80.50 419.36,83.20 420.79,85.84 422.36,88.40 424.07,90.84 425.89,93.16 427.81,95.31 429.82,97.29 431.88,99.08 433.98,100.65 436.10,102.00 438.22,103.10 440.32,103.96 442.38,104.55 444.39,104.88 446.31,104.94 448.13,104.73 449.84,104.26 451.41,103.52 452.84,102.52 454.10,101.28 455.19,99.81 456.10,98.12 456.82,96.22 457.33,94.14 457.65,91.89 457.75,89.50" fill="none" stroke="#000" stroke-width="0.90" stroke-linejoin="round" />
<ellipse cx="436.10" cy="77.00" rx="13.08" ry="22.66" transform="rotate(-30 436.10 77.00)" fill="none" stroke="#000" stroke-width="0.90" />
<polygon points="452.12,83.75 452.05,82.14 451.86,80.47 451.52,78.76 451.07,77.02 450.49,75.26 449.79,73.51 448.98,71.78 448.06,70.09 447.06,68.46 445.96,66.89 444.80,65.41 443.57,64.03 442.29,62.76 440.97,61.62 439.62,60.61 438.27,59.75 436.91,59.04 435.56,58.50 434.24,58.12 432.96,57.91 431.73,57.87 430.57,58.00 429.47,58.31 428.47,58.78 427.55,59.42 426.74,60.21 426.04,61.15 425.46,62.24 425.01,63.45 424.67,64.78 424.48,66.22 424.41,67.75 424.48,69.36 424.67,71.03 425.01,72.74 425.46,74.48 426.04,76.24 426.74,77.99 427.55,79.72 428.47,81.41 429.47,83.04 430.57,84.61 431.73,86.09 432.96,87.47 434.24,88.74 435.56,89.88 436.91,90.89 438.27,91.75 439.62,92.46 440.97,93.00 442.29,93.38 443.57,93.59 444.80,93.63 445.96,93.50 447.06,93.19 448.06,92.72 448.98,92.08 449.79,91.29 450.49,90.35 451.07,89.26 451.52,88.05 451.86,86.72 452.05,85.28" fill="#1a1a1a" stroke="#000" stroke-width="1.25" stroke-linejoin="round" />
<g clip-path="url(#c1)"><line x1="429.25" y1="60.14" x2="441.38" y2="53.14" stroke="#e8e8e8" stroke-width="1.1"/><line x1="426.91" y1="62.51" x2="439.03" y2="55.51" stroke="#e8e8e8" stroke-width="1.1"/><line x1="425.67" y1="66.18" x2="437.80" y2="59.18" stroke="#e8e8e8" stroke-width="1.1"/><line x1="425.67" y1="70.78" x2="437.80" y2="63.78" stroke="#e8e8e8" stroke-width="1.1"/><line x1="426.91" y1="75.87" x2="439.03" y2="68.87" stroke="#e8e8e8" stroke-width="1.1"/><line x1="429.25" y1="80.95" x2="441.38" y2="73.95" stroke="#e8e8e8" stroke-width="1.1"/><line x1="432.48" y1="85.52" x2="444.60" y2="78.52" stroke="#e8e8e8" stroke-width="1.1"/><line x1="436.27" y1="89.14" x2="448.40" y2="82.14" stroke="#e8e8e8" stroke-width="1.1"/><line x1="440.26" y1="91.44" x2="452.38" y2="84.44" stroke="#e8e8e8" stroke-width="1.1"/><line x1="444.05" y1="92.21" x2="456.18" y2="85.21" stroke="#e8e8e8" stroke-width="1.1"/><line x1="447.28" y1="91.36" x2="459.40" y2="84.36" stroke="#e8e8e8" stroke-width="1.1"/></g>
<polygon points="450.18,82.63 450.09,80.90 451.97,81.31 451.55,78.86 449.60,78.04 449.06,76.16 450.67,75.78 449.68,73.26 447.91,73.23 446.98,71.39 448.15,70.25 446.69,67.91 445.27,68.66 444.04,67.05 444.67,65.26 442.88,63.32 441.95,64.79 440.53,63.55 440.56,61.30 438.61,59.96 438.27,61.99 436.81,61.25 436.23,58.75 434.32,58.13 434.58,60.54 433.23,60.37 432.09,57.86 430.40,58.04 431.26,60.57 430.13,61.00 428.56,58.73 427.26,59.67 428.62,62.10 427.84,63.06 425.98,61.26 425.20,62.88 426.93,64.95 426.57,66.38 424.60,65.21 424.41,67.35 426.35,68.87 426.44,70.60 424.56,70.19 424.98,72.64 426.93,73.46 427.47,75.34 425.86,75.72 426.85,78.24 428.62,78.27 429.55,80.11 428.38,81.25 429.84,83.59 431.26,82.84 432.49,84.45 431.86,86.24 433.65,88.18 434.58,86.71 436.00,87.95 435.97,90.20 437.92,91.54 438.27,89.51 439.72,90.25 440.30,92.75 442.21,93.37 441.95,90.96 443.30,91.13 444.44,93.64 446.13,93.46 445.27,90.93 446.40,90.50 447.97,92.77 449.27,91.83 447.91,89.40 448.69,88.44 450.55,90.24 451.33,88.62 449.60,86.55 449.96,85.12 451.93,86.29 452.12,84.15" fill="none" stroke="#e8e8e8" stroke-width="0.70" stroke-linejoin="round" />
<polygon points="544.43,280.18 546.57,278.69 548.47,276.82 550.12,274.60 551.48,272.06 552.56,269.21 553.34,266.07 553.81,262.69 553.96,259.10 553.81,255.32 553.34,251.40 552.56,247.38 551.48,243.28 550.12,239.16 548.47,235.04 546.57,230.98 544.43,227.01 542.06,223.16 539.49,219.48 536.75,216.00 533.86,212.76 530.85,209.78 527.75,207.09 524.59,204.72 521.40,202.70 518.21,201.04 515.05,199.75 511.95,198.86 508.94,198.37 506.05,198.28 503.31,198.59 500.74,199.31 498.37,200.42 520.03,187.92 522.39,186.81 524.96,186.09 527.70,185.78 530.59,185.87 533.60,186.36 536.70,187.25 539.86,188.54 543.05,190.20 546.24,192.22 549.40,194.59 552.50,197.28 555.51,200.26 558.40,203.50 561.14,206.98 563.71,210.66 566.08,214.51 568.22,218.48 570.13,222.54 571.77,226.66 573.13,230.78 574.21,234.88 574.99,238.90 575.46,242.82 575.61,246.60 575.46,250.19 574.99,253.57 574.21,256.71 573.13,259.56 571.77,262.10 570.13,264.32 568.22,266.19 566.08,267.68" fill="#777" stroke="none" stroke-width="0.00" stroke-linejoin="round" />
<polygon points="545.92,285.21 543.96,280.44 565.61,267.94 567.57,272.71" fill="#fafcfa" stroke="#000" stroke-width="1.00" stroke-linejoin="round" />
<polygon points="543.96,280.44 545.14,279.74 566.79,267.24 565.61,267.94" fill="#777" stroke="#000" stroke-width="0.70" stroke-linejoin="round" />
<polygon points="499.53,199.81 496.53,195.57 518.19,183.07 521.18,187.31" fill="#fafcfa" stroke="#000" stroke-width="1.00" stroke-linejoin="round" />
<polygon points="500.81,199.28 499.53,199.81 521.18,187.31 522.46,186.78" fill="#777" stroke="#000" stroke-width="0.70" stroke-linejoin="round" />
<polygon points="548.30,283.80 549.88,282.55 571.53,270.05 569.95,271.30" fill="#fafcfa" stroke="#000" stroke-width="1.00" stroke-linejoin="round" />
<polygon points="549.88,282.55 547.43,277.92 569.08,265.42 571.53,270.05" fill="#fafcfa" stroke="#000" stroke-width="1.00" stroke-linejoin="round" />
<polygon points="547.43,277.92 548.41,276.90 570.06,264.40 569.08,265.42" fill="#777" stroke="#000" stroke-width="0.70" stroke-linejoin="round" />
<polygon points="501.08,193.98 499.10,194.50 520.75,182.00 522.73,181.48" fill="#fafcfa" stroke="#000" stroke-width="1.00" stroke-linejoin="round" />
<polygon points="503.69,198.52 501.08,193.98 522.73,181.48 525.34,186.02" fill="#fafcfa" stroke="#000" stroke-width="1.00" stroke-linejoin="round" />
<polygon points="505.12,198.34 503.69,198.52 525.34,186.02 526.77,185.84" fill="#777" stroke="#000" stroke-width="0.70" stroke-linejoin="round" />
<polygon points="551.84,280.50 553.09,278.79 574.74,266.29 573.49,268.00" fill="#fafcfa" stroke="#000" stroke-width="1.00" stroke-linejoin="round" />
<polygon points="553.09,278.79 550.23,274.42 571.88,261.92 574.74,266.29" fill="#fafcfa" stroke="#000" stroke-width="1.00" stroke-linejoin="round" />
<polygon points="550.23,274.42 550.97,273.11 572.62,260.61 571.88,261.92" fill="#777" stroke="#000" stroke-width="0.70" stroke-linejoin="round" />
<polygon points="506.15,193.59 503.96,193.60 525.61,181.10 527.80,181.09" fill="#fafcfa" stroke="#000" stroke-width="1.00" stroke-linejoin="round" />
<polygon points="508.30,198.31 506.15,193.59 527.80,181.09 529.95,185.81" fill="#fafcfa" stroke="#000" stroke-width="1.00" stroke-linejoin="round" />
<polygon points="509.85,198.48 508.30,198.31 529.95,185.81 531.50,185.98" fill="#777" stroke="#000" stroke-width="0.70" stroke-linejoin="round" />
<polygon points="554.59,276.15 555.49,274.05 577.14,261.55 576.24,263.65" fill="#fafcfa" stroke="#000" stroke-width="1.00" stroke-linejoin="round" />
<polygon points="555.49,274.05 552.29,270.04 573.94,257.54 577.14,261.55" fill="#fafcfa" stroke="#000" stroke-width="1.00" stroke-linejoin="round" />
<polygon points="552.29,270.04 552.78,268.47 574.43,255.97 573.94,257.54" fill="#777" stroke="#000" stroke-width="0.70" stroke-linejoin="round" />
<polygon points="511.61,194.41 509.28,193.91 530.93,181.41 533.26,181.91" fill="#fafcfa" stroke="#000" stroke-width="1.00" stroke-linejoin="round" />
<polygon points="513.25,199.19 511.61,194.41 533.26,181.91 534.90,186.69" fill="#fafcfa" stroke="#000" stroke-width="1.00" stroke-linejoin="round" />
<polygon points="514.89,199.70 513.25,199.19 534.90,186.69 536.54,187.20" fill="#777" stroke="#000" stroke-width="0.70" stroke-linejoin="round" />
<polygon points="556.48,270.88 557.00,268.42 578.65,255.92 578.13,258.38" fill="#fafcfa" stroke="#000" stroke-width="1.00" stroke-linejoin="round" />
<polygon points="553.54,264.89 553.77,263.10 575.42,250.60 575.19,252.39" fill="#777" stroke="#000" stroke-width="0.70" stroke-linejoin="round" />
<polygon points="557.00,268.42 553.54,264.89 575.19,252.39 578.65,255.92" fill="#fafcfa" stroke="#000" stroke-width="1.00" stroke-linejoin="round" />
<polygon points="520.09,201.97 518.41,201.13 540.06,188.63 541.74,189.47" fill="#777" stroke="#000" stroke-width="0.70" stroke-linejoin="round" />
<polygon points="517.33,196.41 514.90,195.43 536.55,182.93 538.98,183.91" fill="#fafcfa" stroke="#000" stroke-width="1.00" stroke-linejoin="round" />
<polygon points="518.41,201.13 517.33,196.41 538.98,183.91 540.06,188.63" fill="#fafcfa" stroke="#000" stroke-width="1.00" stroke-linejoin="round" />
<polygon points="553.96,259.10 553.92,257.14 575.57,244.64 575.61,246.60" fill="#777" stroke="#000" stroke-width="0.70" stroke-linejoin="round" />
<polygon points="557.59,262.07 553.96,259.10 575.61,246.60 579.24,249.57" fill="#fafcfa" stroke="#000" stroke-width="1.00" stroke-linejoin="round" />
<polygon points="557.46,264.82 557.59,262.07 579.24,249.57 579.11,252.32" fill="#fafcfa" stroke="#000" stroke-width="1.00" stroke-linejoin="round" />
<polygon points="525.32,205.24 523.65,204.09 545.30,191.59 546.98,192.74" fill="#777" stroke="#000" stroke-width="0.70" stroke-linejoin="round" />
<polygon points="523.65,204.09 523.15,199.56 544.80,187.06 545.30,191.59" fill="#fafcfa" stroke="#000" stroke-width="1.00" stroke-linejoin="round" />
<polygon points="523.15,199.56 520.70,198.10 542.35,185.60 544.80,187.06" fill="#fafcfa" stroke="#000" stroke-width="1.00" stroke-linejoin="round" />
<polygon points="553.54,252.83 553.23,250.74 574.88,238.24 575.19,240.33" fill="#777" stroke="#000" stroke-width="0.70" stroke-linejoin="round" />
<polygon points="557.24,255.16 553.54,252.83 575.19,240.33 578.90,242.66" fill="#fafcfa" stroke="#000" stroke-width="1.00" stroke-linejoin="round" />
<polygon points="530.46,209.42 528.84,207.99 550.49,195.49 552.11,196.92" fill="#777" stroke="#000" stroke-width="0.70" stroke-linejoin="round" />
<polygon points="557.50,258.12 557.24,255.16 578.90,242.66 579.16,245.62" fill="#fafcfa" stroke="#000" stroke-width="1.00" stroke-linejoin="round" />
<polygon points="528.84,207.99 528.93,203.76 550.58,191.26 550.49,195.49" fill="#fafcfa" stroke="#000" stroke-width="1.00" stroke-linejoin="round" />
<polygon points="552.29,246.23 551.71,244.07 573.37,231.57 573.94,233.73" fill="#777" stroke="#000" stroke-width="0.70" stroke-linejoin="round" />
<polygon points="528.93,203.76 526.52,201.87 548.17,189.37 550.58,191.26" fill="#fafcfa" stroke="#000" stroke-width="1.00" stroke-linejoin="round" />
<polygon points="535.36,214.39 533.82,212.72 555.48,200.22 557.01,201.89" fill="#777" stroke="#000" stroke-width="0.70" stroke-linejoin="round" />
<polygon points="555.97,247.86 552.29,246.23 573.94,233.73 577.62,235.36" fill="#fafcfa" stroke="#000" stroke-width="1.00" stroke-linejoin="round" />
<polygon points="550.23,239.47 549.41,237.31 571.07,224.81 571.88,226.97" fill="#777" stroke="#000" stroke-width="0.70" stroke-linejoin="round" />
<polygon points="556.62,250.96 555.97,247.86 577.62,235.36 578.27,238.46" fill="#fafcfa" stroke="#000" stroke-width="1.00" stroke-linejoin="round" />
<polygon points="533.82,212.72 534.51,208.91 556.16,196.41 555.48,200.22" fill="#fafcfa" stroke="#000" stroke-width="1.00" stroke-linejoin="round" />
<polygon points="539.90,220.04 538.49,218.16 560.14,205.66 561.55,207.54" fill="#777" stroke="#000" stroke-width="0.70" stroke-linejoin="round" />
<polygon points="547.43,232.74 546.39,230.62 568.04,218.12 569.08,220.24" fill="#777" stroke="#000" stroke-width="0.70" stroke-linejoin="round" />
<polygon points="543.96,226.21 542.72,224.18 564.37,211.68 565.61,213.71" fill="#777" stroke="#000" stroke-width="0.70" stroke-linejoin="round" />
<polygon points="534.51,208.91 532.20,206.64 553.85,194.14 556.16,196.41" fill="#fafcfa" stroke="#000" stroke-width="1.00" stroke-linejoin="round" />
<polygon points="553.80,240.36 550.23,239.47 571.88,226.97 575.45,227.86" fill="#fafcfa" stroke="#000" stroke-width="1.00" stroke-linejoin="round" />
<polygon points="538.49,218.16 539.75,214.87 561.40,202.37 560.14,205.66" fill="#fafcfa" stroke="#000" stroke-width="1.00" stroke-linejoin="round" />
<polygon points="542.58,218.63 539.90,220.04 561.55,207.54 564.23,206.13" fill="#fafcfa" stroke="#000" stroke-width="1.00" stroke-linejoin="round" />
<polygon points="554.82,243.52 553.80,240.36 575.45,227.86 576.47,231.02" fill="#fafcfa" stroke="#000" stroke-width="1.00" stroke-linejoin="round" />
<polygon points="550.79,232.86 547.43,232.74 569.08,220.24 572.44,220.36" fill="#fafcfa" stroke="#000" stroke-width="1.00" stroke-linejoin="round" />
<polygon points="542.72,224.18 544.52,221.48 566.17,208.98 564.37,211.68" fill="#fafcfa" stroke="#000" stroke-width="1.00" stroke-linejoin="round" />
<polygon points="546.39,230.62 548.69,228.59 570.34,216.09 568.04,218.12" fill="#fafcfa" stroke="#000" stroke-width="1.00" stroke-linejoin="round" />
<polygon points="547.02,225.56 543.96,226.21 565.61,213.71 568.67,213.06" fill="#fafcfa" stroke="#000" stroke-width="1.00" stroke-linejoin="round" />
<polygon points="539.75,214.87 537.60,212.27 559.25,199.77 561.40,202.37" fill="#fafcfa" stroke="#000" stroke-width="1.00" stroke-linejoin="round" />
<polygon points="552.15,236.00 550.79,232.86 572.44,220.36 573.80,223.50" fill="#fafcfa" stroke="#000" stroke-width="1.00" stroke-linejoin="round" />
<polygon points="544.52,221.48 542.58,218.63 564.23,206.13 566.17,208.98" fill="#fafcfa" stroke="#000" stroke-width="1.00" stroke-linejoin="round" />
<polygon points="548.69,228.59 547.02,225.56 568.67,213.06 570.34,216.09" fill="#fafcfa" stroke="#000" stroke-width="1.00" stroke-linejoin="round" />
<polygon points="553.96,259.10 553.92,257.14 557.50,258.12 557.24,255.16 553.54,252.83 553.23,250.74 556.62,250.96 555.97,247.86 552.29,246.23 551.71,244.07 554.82,243.52 553.80,240.36 550.23,239.47 549.41,237.31 552.15,236.00 550.79,232.86 547.43,232.74 546.39,230.62 548.69,228.59 547.02,225.56 543.96,226.21 542.72,224.18 544.52,221.48 542.58,218.63 539.90,220.04 538.49,218.16 539.75,214.87 537.60,212.27 535.36,214.39 533.82,212.72 534.51,208.91 532.20,206.64 530.46,209.42 528.84,207.99 528.93,203.76 526.52,201.87 525.32,205.24 523.65,204.09 523.15,199.56 520.70,198.10 520.09,201.97 518.41,201.13 517.33,196.41 514.90,195.43 514.89,199.70 513.25,199.19 511.61,194.41 509.28,193.91 509.85,198.48 508.30,198.31 506.15,193.59 503.96,193.60 505.12,198.34 503.69,198.52 501.08,193.98 499.10,194.50 500.81,199.28 499.53,199.81 496.53,195.57 494.81,196.58 497.03,201.29 495.95,202.15 492.64,198.31 491.22,199.80 493.88,204.31 493.02,205.48 489.48,202.15 488.40,204.06 491.44,208.27 490.83,209.71 487.16,206.97 486.44,209.27 489.78,213.05 489.42,214.73 485.72,212.66 485.39,215.27 488.94,218.54 488.85,220.42 485.20,219.06 485.26,221.93 488.94,224.59 489.12,226.62 485.62,226.02 486.08,229.06 489.78,231.04 490.23,233.17 486.97,233.34 487.81,236.48 491.44,237.74 492.14,239.91 489.21,240.84 490.41,244.00 493.88,244.51 494.81,246.66 492.29,248.33 493.81,251.43 497.03,251.16 498.17,253.24 496.11,255.61 497.92,258.56 500.81,257.54 502.13,259.49 500.60,262.50 502.65,265.23 505.12,263.46 506.59,265.24 505.62,268.81 507.86,271.25 509.85,268.79 511.44,270.35 511.05,274.38 513.42,276.46 514.89,273.38 516.54,274.67 516.75,279.07 519.19,280.74 520.09,277.11 521.77,278.11 522.57,282.75 525.01,283.98 525.32,279.89 526.99,280.57 528.35,285.34 530.74,286.08 530.46,281.65 532.06,281.98 533.96,286.76 536.23,286.99 535.36,282.33 536.86,282.32 539.25,286.97 541.34,286.70 539.90,281.92 541.25,281.57 544.07,285.98 545.92,285.21 543.96,280.44 545.14,279.74 548.30,283.80 549.88,282.55 547.43,277.92 548.41,276.90 551.84,280.50 553.09,278.79 550.23,274.42 550.97,273.11 554.59,276.15 555.49,274.05 552.29,270.04 552.78,268.47 556.48,270.88 557.00,268.42 553.54,264.89 553.77,263.10 557.46,264.82 557.59,262.07" fill="#fafcfa" stroke="#000" stroke-width="1.15" stroke-linejoin="round" />
<ellipse cx="521.40" cy="240.30" rx="25.60" ry="44.34" transform="rotate(-30 521.40 240.30)" fill="none" stroke="#000" stroke-width="0.90" />
<polyline points="552.14,258.05 552.00,254.48 551.55,250.78 550.82,246.98 549.80,243.11 548.51,239.22 546.96,235.34 545.17,231.50 543.14,227.75 540.90,224.12 538.48,220.64 535.89,217.36 533.17,214.29 530.32,211.48 527.40,208.94 524.41,206.71 521.40,204.80 518.39,203.23 515.40,202.02 512.48,201.18 509.63,200.71 506.91,200.62 504.32,200.92 501.90,201.60 499.66,202.65 497.63,204.06 495.84,205.82 494.29,207.91 493.00,210.32 491.98,213.01 491.25,215.97 490.80,219.16 490.66,222.55 490.80,226.12 491.25,229.82 491.98,233.62 493.00,237.49 494.29,241.38 495.84,245.26 497.63,249.10 499.66,252.85 501.90,256.48 504.32,259.96 506.91,263.24 509.63,266.31 512.48,269.12 515.40,271.66 518.39,273.89 521.40,275.80 524.41,277.37 527.40,278.58 530.32,279.42 533.17,279.89 535.89,279.98 538.48,279.68 540.90,279.00 543.14,277.95 545.17,276.54 546.96,274.78 548.51,272.69 549.80,270.28 550.82,267.59 551.55,264.63 552.00,261.44 552.14,258.05" fill="none" stroke="#000" stroke-width="0.90" stroke-linejoin="round" />
<polyline points="517.19,210.29 515.47,209.73 513.77,209.32 512.12,209.07 510.52,209.00 508.97,209.08 507.49,209.33 506.09,209.75 504.76,210.33 503.52,211.06 502.38,211.95 501.34,212.99 500.40,214.18 499.57,215.50 498.86,216.95 498.27,218.53 497.80,220.22 497.46,222.02 497.24,223.91 497.15,225.89 497.19,227.95 497.36,230.07 497.65,232.25 498.07,234.47 498.61,236.72" fill="none" stroke="#000" stroke-width="0.90" stroke-linejoin="round" />
<polyline points="525.61,270.31 521.05,268.09 516.50,264.89 512.12,260.81 508.08,256.00 504.50,250.63 501.54,244.89 499.28,238.99 497.80,233.13 497.17,227.53 497.41,222.39 498.50,217.88 500.40,214.18 503.05,211.40 506.36,209.65 510.20,209.00 514.45,209.46 518.94,211.02 523.51,213.63 528.02,217.18 532.28,221.56 536.16,226.61 539.51,232.14 542.22,237.97 544.19,243.88" fill="none" stroke="#000" stroke-width="0.90" stroke-linejoin="round" />
<polygon points="530.70,260.08 531.72,259.37 532.62,258.49 533.40,257.44 534.04,256.23 534.55,254.88 534.92,253.40 535.14,251.80 535.22,250.10 535.14,248.31 534.92,246.46 534.55,244.55 534.04,242.61 533.40,240.66 532.62,238.71 531.72,236.79 530.70,234.91 529.58,233.09 528.36,231.34 527.07,229.70 525.70,228.16 524.27,226.75 522.81,225.48 521.31,224.36 519.80,223.40 518.29,222.61 516.79,222.01 515.33,221.58 513.90,221.35 512.53,221.31 511.24,221.46 510.02,221.79 508.90,222.32 512.36,220.32 513.48,219.79 514.70,219.46 516.00,219.31 517.36,219.35 518.79,219.58 520.26,220.01 521.75,220.61 523.26,221.40 524.78,222.36 526.27,223.48 527.74,224.75 529.16,226.16 530.53,227.70 531.83,229.34 533.04,231.09 534.16,232.91 535.18,234.79 536.08,236.71 536.86,238.66 537.51,240.61 538.02,242.55 538.38,244.46 538.61,246.31 538.68,248.10 538.61,249.80 538.38,251.40 538.02,252.88 537.51,254.23 536.86,255.44 536.08,256.49 535.18,257.37 534.16,258.08" fill="#333" stroke="none" stroke-width="0.00" stroke-linejoin="round" />
<polygon points="509.27,222.12 507.57,219.70 511.03,217.70 512.74,220.12" fill="#fafcfa" stroke="#000" stroke-width="1.10" stroke-linejoin="round" />
<polygon points="532.03,262.70 533.23,261.90 536.69,259.90 535.49,260.70" fill="#fafcfa" stroke="#000" stroke-width="1.10" stroke-linejoin="round" />
<polygon points="510.19,221.73 509.27,222.12 512.74,220.12 513.65,219.73" fill="#333" stroke="#000" stroke-width="0.77" stroke-linejoin="round" />
<polygon points="533.23,261.90 531.85,259.26 535.32,257.26 536.69,259.90" fill="#fafcfa" stroke="#000" stroke-width="1.10" stroke-linejoin="round" />
<polygon points="531.85,259.26 532.57,258.54 536.03,256.54 535.32,257.26" fill="#333" stroke="#000" stroke-width="0.77" stroke-linejoin="round" />
<polygon points="510.66,218.70 509.20,219.01 512.67,217.01 514.12,216.70" fill="#fafcfa" stroke="#000" stroke-width="1.10" stroke-linejoin="round" />
<polygon points="512.04,221.34 510.66,218.70 514.12,216.70 515.51,219.34" fill="#fafcfa" stroke="#000" stroke-width="1.10" stroke-linejoin="round" />
<polygon points="513.11,221.30 512.04,221.34 515.51,219.34 516.58,219.30" fill="#333" stroke="#000" stroke-width="0.77" stroke-linejoin="round" />
<polygon points="534.51,260.63 535.39,259.37 538.85,257.37 537.97,258.63" fill="#fafcfa" stroke="#000" stroke-width="1.10" stroke-linejoin="round" />
<polygon points="535.39,259.37 533.69,256.94 537.15,254.94 538.85,257.37" fill="#fafcfa" stroke="#000" stroke-width="1.10" stroke-linejoin="round" />
<polygon points="533.69,256.94 534.17,255.94 537.63,253.94 537.15,254.94" fill="#333" stroke="#000" stroke-width="0.77" stroke-linejoin="round" />
<polygon points="514.21,218.83 512.57,218.63 516.03,216.63 517.67,216.83" fill="#fafcfa" stroke="#000" stroke-width="1.10" stroke-linejoin="round" />
<polygon points="515.20,221.56 514.21,218.83 517.67,216.83 518.67,219.56" fill="#fafcfa" stroke="#000" stroke-width="1.10" stroke-linejoin="round" />
<polygon points="516.37,221.87 515.20,221.56 518.67,219.56 519.83,219.87" fill="#333" stroke="#000" stroke-width="0.77" stroke-linejoin="round" />
<polygon points="536.25,257.58 536.76,255.93 540.23,253.93 539.71,255.58" fill="#fafcfa" stroke="#000" stroke-width="1.10" stroke-linejoin="round" />
<polygon points="536.76,255.93 534.83,253.84 538.29,251.84 540.23,253.93" fill="#fafcfa" stroke="#000" stroke-width="1.10" stroke-linejoin="round" />
<polygon points="534.83,253.84 535.05,252.59 538.52,250.59 538.29,251.84" fill="#333" stroke="#000" stroke-width="0.77" stroke-linejoin="round" />
<polygon points="518.04,220.08 516.29,219.38 519.76,217.38 521.50,218.08" fill="#fafcfa" stroke="#000" stroke-width="1.10" stroke-linejoin="round" />
<polygon points="519.80,223.40 518.59,222.76 522.05,220.76 523.26,221.40" fill="#333" stroke="#000" stroke-width="0.77" stroke-linejoin="round" />
<polygon points="518.59,222.76 518.04,220.08 521.50,218.08 522.05,220.76" fill="#fafcfa" stroke="#000" stroke-width="1.10" stroke-linejoin="round" />
<polygon points="535.22,250.10 535.17,248.68 538.63,246.68 538.68,248.10" fill="#333" stroke="#000" stroke-width="0.77" stroke-linejoin="round" />
<polygon points="537.16,253.71 537.29,251.75 540.75,249.75 540.62,251.71" fill="#fafcfa" stroke="#000" stroke-width="1.10" stroke-linejoin="round" />
<polygon points="537.29,251.75 535.22,250.10 538.68,248.10 540.75,249.75" fill="#fafcfa" stroke="#000" stroke-width="1.10" stroke-linejoin="round" />
<polygon points="523.23,225.83 522.04,224.88 525.50,222.88 526.69,223.83" fill="#333" stroke="#000" stroke-width="0.77" stroke-linejoin="round" />
<polygon points="522.04,224.88 521.95,222.40 525.42,220.40 525.50,222.88" fill="#fafcfa" stroke="#000" stroke-width="1.10" stroke-linejoin="round" />
<polygon points="521.95,222.40 520.19,221.23 523.66,219.23 525.42,220.40" fill="#fafcfa" stroke="#000" stroke-width="1.10" stroke-linejoin="round" />
<polygon points="534.83,245.92 534.51,244.38 537.98,242.38 538.29,243.92" fill="#333" stroke="#000" stroke-width="0.77" stroke-linejoin="round" />
<polygon points="536.94,247.04 534.83,245.92 538.29,243.92 540.40,245.04" fill="#fafcfa" stroke="#000" stroke-width="1.10" stroke-linejoin="round" />
<polygon points="537.20,249.21 536.94,247.04 540.40,245.04 540.67,247.21" fill="#fafcfa" stroke="#000" stroke-width="1.10" stroke-linejoin="round" />
<polygon points="526.49,229.02 525.38,227.83 528.84,225.83 529.95,227.02" fill="#333" stroke="#000" stroke-width="0.77" stroke-linejoin="round" />
<polygon points="533.69,241.50 533.12,239.93 536.59,237.93 537.15,239.50" fill="#333" stroke="#000" stroke-width="0.77" stroke-linejoin="round" />
<polygon points="525.38,227.83 525.76,225.65 529.23,223.65 528.84,225.83" fill="#fafcfa" stroke="#000" stroke-width="1.10" stroke-linejoin="round" />
<polygon points="529.41,232.83 528.44,231.44 531.90,229.44 532.88,230.83" fill="#333" stroke="#000" stroke-width="0.77" stroke-linejoin="round" />
<polygon points="531.85,237.06 531.06,235.55 534.52,233.55 535.32,235.06" fill="#333" stroke="#000" stroke-width="0.77" stroke-linejoin="round" />
<polygon points="525.76,225.65 524.07,224.08 527.54,222.08 529.23,223.65" fill="#fafcfa" stroke="#000" stroke-width="1.10" stroke-linejoin="round" />
<polygon points="535.73,242.04 533.69,241.50 537.15,239.50 539.19,240.04" fill="#fafcfa" stroke="#000" stroke-width="1.10" stroke-linejoin="round" />
<polygon points="536.38,244.31 535.73,242.04 539.19,240.04 539.84,242.31" fill="#fafcfa" stroke="#000" stroke-width="1.10" stroke-linejoin="round" />
<polygon points="528.44,231.44 529.27,229.69 532.74,227.69 531.90,229.44" fill="#fafcfa" stroke="#000" stroke-width="1.10" stroke-linejoin="round" />
<polygon points="533.72,237.00 531.85,237.06 535.32,235.06 537.18,235.00" fill="#fafcfa" stroke="#000" stroke-width="1.10" stroke-linejoin="round" />
<polygon points="531.01,232.17 529.41,232.83 532.88,230.83 534.48,230.17" fill="#fafcfa" stroke="#000" stroke-width="1.10" stroke-linejoin="round" />
<polygon points="531.06,235.55 532.31,234.30 535.77,232.30 534.52,233.55" fill="#fafcfa" stroke="#000" stroke-width="1.10" stroke-linejoin="round" />
<polygon points="529.27,229.69 527.74,227.79 531.21,225.79 532.74,227.69" fill="#fafcfa" stroke="#000" stroke-width="1.10" stroke-linejoin="round" />
<polygon points="534.72,239.26 533.72,237.00 537.18,235.00 538.18,237.26" fill="#fafcfa" stroke="#000" stroke-width="1.10" stroke-linejoin="round" />
<polygon points="532.31,234.30 531.01,232.17 534.48,230.17 535.77,232.30" fill="#fafcfa" stroke="#000" stroke-width="1.10" stroke-linejoin="round" />
<polygon points="535.22,250.10 535.17,248.68 537.20,249.21 536.94,247.04 534.83,245.92 534.51,244.38 536.38,244.31 535.73,242.04 533.69,241.50 533.12,239.93 534.72,239.26 533.72,237.00 531.85,237.06 531.06,235.55 532.31,234.30 531.01,232.17 529.41,232.83 528.44,231.44 529.27,229.69 527.74,227.79 526.49,229.02 525.38,227.83 525.76,225.65 524.07,224.08 523.23,225.83 522.04,224.88 521.95,222.40 520.19,221.23 519.80,223.40 518.59,222.76 518.04,220.08 516.29,219.38 516.37,221.87 515.20,221.56 514.21,218.83 512.57,218.63 513.11,221.30 512.04,221.34 510.66,218.70 509.20,219.01 510.19,221.73 509.27,222.12 507.57,219.70 506.37,220.50 507.75,223.14 507.03,223.86 505.09,221.77 504.21,223.03 505.91,225.46 505.43,226.46 503.35,224.82 502.84,226.47 504.77,228.56 504.55,229.81 502.44,228.69 502.31,230.65 504.38,232.30 504.43,233.72 502.40,233.19 502.66,235.36 504.77,236.48 505.09,238.02 503.22,238.09 503.87,240.36 505.91,240.90 506.48,242.47 504.88,243.14 505.88,245.40 507.75,245.34 508.54,246.85 507.29,248.10 508.59,250.23 510.19,249.57 511.16,250.96 510.33,252.71 511.86,254.61 513.11,253.38 514.22,254.57 513.84,256.75 515.53,258.32 516.37,256.57 517.56,257.52 517.65,260.00 519.41,261.17 519.80,259.00 521.01,259.64 521.56,262.32 523.31,263.02 523.23,260.53 524.40,260.84 525.39,263.57 527.03,263.77 526.49,261.10 527.56,261.06 528.94,263.70 530.40,263.39 529.41,260.67 530.33,260.28 532.03,262.70 533.23,261.90 531.85,259.26 532.57,258.54 534.51,260.63 535.39,259.37 533.69,256.94 534.17,255.94 536.25,257.58 536.76,255.93 534.83,253.84 535.05,252.59 537.16,253.71 537.29,251.75" fill="#999" stroke="#000" stroke-width="1.10" stroke-linejoin="round" />
<polygon points="532.96,248.80 532.90,247.27 532.71,245.69 532.40,244.06 531.96,242.40 531.41,240.74 530.75,239.07 529.98,237.43 529.11,235.83 528.15,234.27 527.11,232.78 526.01,231.38 524.84,230.07 523.62,228.86 522.37,227.77 521.09,226.82 519.80,226.00 518.51,225.33 517.23,224.81 515.98,224.45 514.76,224.25 513.59,224.21 512.49,224.34 511.45,224.63 510.49,225.08 509.62,225.68 508.85,226.44 508.19,227.33 507.64,228.36 507.20,229.51 506.89,230.78 506.70,232.15 506.64,233.60 506.70,235.13 506.89,236.71 507.20,238.34 507.64,240.00 508.19,241.66 508.85,243.33 509.62,244.97 510.49,246.57 511.45,248.13 512.49,249.62 513.59,251.02 514.76,252.33 515.98,253.54 517.23,254.63 518.51,255.58 519.80,256.40 521.09,257.07 522.37,257.59 523.62,257.95 524.84,258.15 526.01,258.19 527.11,258.06 528.15,257.77 529.11,257.32 529.98,256.72 530.75,255.96 531.41,255.07 531.96,254.04 532.40,252.89 532.71,251.62 532.90,250.25" fill="#1a1a1a" stroke="#000" stroke-width="1.25" stroke-linejoin="round" />
<g clip-path="url(#c2)"><line x1="512.02" y1="225.99" x2="524.14" y2="218.99" stroke="#e8e8e8" stroke-width="1.1"/><line x1="509.31" y1="228.15" x2="521.44" y2="221.15" stroke="#e8e8e8" stroke-width="1.1"/><line x1="507.87" y1="231.89" x2="520.00" y2="224.89" stroke="#e8e8e8" stroke-width="1.1"/><line x1="507.87" y1="236.74" x2="520.00" y2="229.74" stroke="#e8e8e8" stroke-width="1.1"/><line x1="509.31" y1="242.14" x2="521.44" y2="235.14" stroke="#e8e8e8" stroke-width="1.1"/><line x1="512.02" y1="247.42" x2="524.14" y2="240.42" stroke="#e8e8e8" stroke-width="1.1"/><line x1="515.66" y1="251.95" x2="527.78" y2="244.95" stroke="#e8e8e8" stroke-width="1.1"/><line x1="519.80" y1="255.18" x2="531.92" y2="248.18" stroke="#e8e8e8" stroke-width="1.1"/><line x1="523.94" y1="256.73" x2="536.07" y2="249.73" stroke="#e8e8e8" stroke-width="1.1"/><line x1="527.58" y1="256.41" x2="539.71" y2="249.41" stroke="#e8e8e8" stroke-width="1.1"/></g>
<polygon points="531.12,247.74 531.02,245.90 532.79,246.22 532.29,243.61 530.44,242.87 529.81,240.89 531.27,240.36 530.12,237.71 528.47,237.80 527.40,235.91 528.37,234.60 526.70,232.24 525.46,233.15 524.08,231.57 524.43,229.65 522.45,227.84 521.77,229.46 520.23,228.39 519.94,226.08 517.88,225.05 517.83,227.19 516.34,226.76 515.43,224.34 513.54,224.21 514.14,226.61 512.86,226.87 511.44,224.63 509.96,225.43 511.13,227.79 510.22,228.70 508.47,226.92 507.56,228.54 509.16,230.59 508.73,232.05 506.86,230.93 506.64,233.18 508.48,234.66 508.58,236.50 506.81,236.18 507.31,238.79 509.16,239.53 509.79,241.51 508.33,242.04 509.48,244.69 511.13,244.60 512.20,246.49 511.23,247.80 512.90,250.16 514.14,249.25 515.52,250.83 515.17,252.75 517.15,254.56 517.83,252.94 519.37,254.01 519.66,256.32 521.72,257.35 521.77,255.21 523.26,255.64 524.17,258.06 526.06,258.19 525.46,255.79 526.74,255.53 528.16,257.77 529.64,256.97 528.47,254.61 529.38,253.70 531.13,255.48 532.04,253.86 530.44,251.81 530.87,250.35 532.74,251.47 532.96,249.22" fill="none" stroke="#e8e8e8" stroke-width="0.70" stroke-linejoin="round" />
<polygon points="584.91,181.23 583.67,181.18 582.49,181.29 581.38,181.58 580.36,182.03 579.43,182.65 578.59,183.42 577.87,184.34 577.26,185.41 576.78,186.60 576.42,187.92 576.19,189.34 576.09,190.85 576.12,192.45 576.29,194.11 576.58,195.82 577.00,197.57 577.55,199.33 578.22,201.09 578.99,202.84 579.88,204.56 580.86,206.22 581.92,207.82 583.07,209.35 584.28,210.78 585.55,212.10 586.86,213.31 588.20,214.38 589.56,215.31 590.93,216.10 592.29,216.73 593.63,217.19 594.94,217.49 596.20,217.62 597.41,217.58 598.55,217.36 599.61,216.98 600.58,216.44 601.46,215.73 602.23,214.87 602.89,213.87 603.43,212.73 603.84,211.47 604.13,210.09 604.29,208.61 604.31,207.05 604.20,205.41 603.96,203.72 603.59,201.99 603.10,200.23 602.49,198.47 601.76,196.71 600.92,194.98 599.98,193.29 598.95,191.66 597.84,190.10 596.65,188.63 595.41,187.26 594.11,186.00 592.78,184.87 591.43,183.87 591.21,186.63 592.32,187.45 593.42,188.38 594.48,189.42 595.50,190.54 596.48,191.75 597.39,193.04 598.24,194.38 599.01,195.77 599.70,197.19 600.30,198.63 600.81,200.08 601.21,201.53 601.51,202.95 601.71,204.34 601.80,205.69 601.78,206.97 601.65,208.19 601.41,209.32 601.07,210.36 600.63,211.30 600.09,212.12 599.46,212.83 598.74,213.41 597.93,213.86 597.06,214.17 596.12,214.34 595.13,214.38 594.09,214.27 593.02,214.03 591.92,213.64 590.80,213.13 589.67,212.48 588.55,211.71 587.45,210.83 586.37,209.84 585.33,208.75 584.34,207.58 583.40,206.33 582.52,205.01 581.71,203.64 580.99,202.23 580.35,200.79 579.80,199.34 579.35,197.90 579.00,196.46 578.76,195.05 578.63,193.69 578.60,192.37 578.68,191.13 578.87,189.96 579.17,188.88 579.57,187.90 580.07,187.02 580.66,186.26 581.34,185.63 582.11,185.12 582.95,184.75 583.86,184.52 584.83,184.42 585.85,184.47" fill="#bbb" stroke="#000" stroke-width="1.10" stroke-linejoin="round" />
<circle cx="584.99" cy="182.87" r="2.0" fill="#fafcfa" stroke="#000" stroke-width="1.4"/>
<circle cx="591.76" cy="185.61" r="2.0" fill="#fafcfa" stroke="#000" stroke-width="1.4"/>
<polygon points="653.49,209.99 655.36,208.69 657.02,207.06 658.45,205.13 659.64,202.90 660.58,200.42 661.26,197.68 661.67,194.74 661.81,191.60 661.67,188.31 661.26,184.89 660.58,181.37 659.64,177.80 658.45,174.20 657.02,170.61 655.36,167.07 653.49,163.60 651.42,160.25 649.18,157.04 646.79,154.00 644.27,151.17 641.65,148.57 638.94,146.23 636.18,144.17 633.40,142.40 630.62,140.95 627.86,139.83 625.15,139.05 622.53,138.62 620.01,138.54 617.62,138.82 615.38,139.44 613.31,140.41 630.37,130.56 632.44,129.59 634.68,128.97 637.07,128.69 639.59,128.77 642.21,129.20 644.92,129.98 647.68,131.10 650.46,132.55 653.24,134.32 656.00,136.38 658.71,138.72 661.33,141.32 663.85,144.15 666.24,147.19 668.48,150.40 670.55,153.75 672.42,157.22 674.08,160.76 675.51,164.35 676.70,167.95 677.64,171.52 678.32,175.04 678.73,178.46 678.87,181.75 678.73,184.89 678.32,187.83 677.64,190.57 676.70,193.05 675.51,195.28 674.08,197.21 672.42,198.84 670.55,200.14" fill="#777" stroke="none" stroke-width="0.00" stroke-linejoin="round" />
<polygon points="653.33,215.42 651.66,210.87 668.72,201.02 670.39,205.57" fill="#fafcfa" stroke="#000" stroke-width="1.00" stroke-linejoin="round" />
<polygon points="613.96,140.06 611.06,136.06 628.12,126.21 631.02,130.21" fill="#fafcfa" stroke="#000" stroke-width="1.00" stroke-linejoin="round" />
<polygon points="655.74,214.34 657.34,213.31 674.40,203.46 672.80,204.49" fill="#fafcfa" stroke="#000" stroke-width="1.00" stroke-linejoin="round" />
<polygon points="615.14,139.53 613.96,140.06 631.02,130.21 632.20,129.68" fill="#777" stroke="#000" stroke-width="0.70" stroke-linejoin="round" />
<polygon points="657.34,213.31 655.16,208.85 672.22,199.00 674.40,203.46" fill="#fafcfa" stroke="#000" stroke-width="1.00" stroke-linejoin="round" />
<polygon points="655.16,208.85 656.15,207.98 673.21,198.13 672.22,199.00" fill="#777" stroke="#000" stroke-width="0.70" stroke-linejoin="round" />
<polygon points="615.35,134.45 613.47,134.98 630.53,125.13 632.41,124.60" fill="#fafcfa" stroke="#000" stroke-width="1.00" stroke-linejoin="round" />
<polygon points="617.85,138.77 615.35,134.45 632.41,124.60 634.91,128.92" fill="#fafcfa" stroke="#000" stroke-width="1.00" stroke-linejoin="round" />
<polygon points="659.35,211.55 660.63,210.04 677.69,200.19 676.41,201.70" fill="#fafcfa" stroke="#000" stroke-width="1.00" stroke-linejoin="round" />
<polygon points="619.20,138.59 617.85,138.77 634.91,128.92 636.26,128.74" fill="#777" stroke="#000" stroke-width="0.70" stroke-linejoin="round" />
<polygon points="660.63,210.04 658.00,205.80 675.06,195.95 677.69,200.19" fill="#fafcfa" stroke="#000" stroke-width="1.00" stroke-linejoin="round" />
<polygon points="658.00,205.80 658.75,204.63 675.82,194.78 675.06,195.95" fill="#777" stroke="#000" stroke-width="0.70" stroke-linejoin="round" />
<polygon points="620.18,134.08 618.10,134.08 635.16,124.23 637.24,124.23" fill="#fafcfa" stroke="#000" stroke-width="1.00" stroke-linejoin="round" />
<polygon points="622.21,138.59 620.18,134.08 637.24,124.23 639.27,128.74" fill="#fafcfa" stroke="#000" stroke-width="1.00" stroke-linejoin="round" />
<polygon points="623.68,138.77 622.21,138.59 639.27,128.74 640.75,128.92" fill="#777" stroke="#000" stroke-width="0.70" stroke-linejoin="round" />
<polygon points="662.17,207.65 663.09,205.71 680.15,195.86 679.23,197.80" fill="#fafcfa" stroke="#000" stroke-width="1.00" stroke-linejoin="round" />
<polygon points="663.09,205.71 660.09,201.83 677.15,191.98 680.15,195.86" fill="#fafcfa" stroke="#000" stroke-width="1.00" stroke-linejoin="round" />
<polygon points="660.09,201.83 660.59,200.38 677.65,190.53 677.15,191.98" fill="#777" stroke="#000" stroke-width="0.70" stroke-linejoin="round" />
<polygon points="625.42,134.97 623.18,134.44 640.24,124.59 642.48,125.12" fill="#fafcfa" stroke="#000" stroke-width="1.00" stroke-linejoin="round" />
<polygon points="626.91,139.52 625.42,134.97 642.48,125.12 643.97,129.67" fill="#fafcfa" stroke="#000" stroke-width="1.00" stroke-linejoin="round" />
<polygon points="628.47,140.05 626.91,139.52 643.97,129.67 645.53,130.20" fill="#777" stroke="#000" stroke-width="0.70" stroke-linejoin="round" />
<polygon points="664.11,202.77 664.65,200.45 681.71,190.60 681.17,192.92" fill="#fafcfa" stroke="#000" stroke-width="1.00" stroke-linejoin="round" />
<polygon points="661.37,197.05 661.61,195.37 678.67,185.52 678.43,187.20" fill="#777" stroke="#000" stroke-width="0.70" stroke-linejoin="round" />
<polygon points="664.65,200.45 661.37,197.05 678.43,187.20 681.71,190.60" fill="#fafcfa" stroke="#000" stroke-width="1.00" stroke-linejoin="round" />
<polygon points="633.40,142.40 631.81,141.54 648.88,131.69 650.46,132.55" fill="#777" stroke="#000" stroke-width="0.70" stroke-linejoin="round" />
<polygon points="630.90,137.07 628.58,136.04 645.64,126.19 647.96,127.22" fill="#fafcfa" stroke="#000" stroke-width="1.00" stroke-linejoin="round" />
<polygon points="631.81,141.54 630.90,137.07 647.96,127.22 648.88,131.69" fill="#fafcfa" stroke="#000" stroke-width="1.00" stroke-linejoin="round" />
<polygon points="661.81,191.60 661.76,189.74 678.82,179.89 678.87,181.75" fill="#777" stroke="#000" stroke-width="0.70" stroke-linejoin="round" />
<polygon points="665.26,194.43 661.81,191.60 678.87,181.75 682.32,184.58" fill="#fafcfa" stroke="#000" stroke-width="1.00" stroke-linejoin="round" />
<polygon points="665.12,197.04 665.26,194.43 682.32,184.58 682.18,187.19" fill="#fafcfa" stroke="#000" stroke-width="1.00" stroke-linejoin="round" />
<polygon points="638.33,145.75 636.76,144.57 653.82,134.72 655.39,135.90" fill="#777" stroke="#000" stroke-width="0.70" stroke-linejoin="round" />
<polygon points="636.76,144.57 636.45,140.33 653.52,130.48 653.82,134.72" fill="#fafcfa" stroke="#000" stroke-width="1.00" stroke-linejoin="round" />
<polygon points="661.37,185.66 661.06,183.68 678.12,173.83 678.43,175.81" fill="#777" stroke="#000" stroke-width="0.70" stroke-linejoin="round" />
<polygon points="636.45,140.33 634.12,138.83 651.18,128.98 653.52,130.48" fill="#fafcfa" stroke="#000" stroke-width="1.00" stroke-linejoin="round" />
<polygon points="664.90,187.82 661.37,185.66 678.43,175.81 681.96,177.97" fill="#fafcfa" stroke="#000" stroke-width="1.00" stroke-linejoin="round" />
<polygon points="665.17,190.66 664.90,187.82 681.96,177.97 682.23,180.81" fill="#fafcfa" stroke="#000" stroke-width="1.00" stroke-linejoin="round" />
<polygon points="643.12,149.99 641.61,148.54 658.67,138.69 660.18,140.14" fill="#777" stroke="#000" stroke-width="0.70" stroke-linejoin="round" />
<polygon points="660.09,179.39 659.51,177.35 676.57,167.50 677.15,169.54" fill="#777" stroke="#000" stroke-width="0.70" stroke-linejoin="round" />
<polygon points="641.61,148.54 641.92,144.66 658.98,134.81 658.67,138.69" fill="#fafcfa" stroke="#000" stroke-width="1.00" stroke-linejoin="round" />
<polygon points="641.92,144.66 639.64,142.72 656.71,132.87 658.98,134.81" fill="#fafcfa" stroke="#000" stroke-width="1.00" stroke-linejoin="round" />
<polygon points="663.59,180.83 660.09,179.39 677.15,169.54 680.65,170.98" fill="#fafcfa" stroke="#000" stroke-width="1.00" stroke-linejoin="round" />
<polygon points="647.60,154.99 646.21,153.32 663.27,143.47 664.66,145.14" fill="#777" stroke="#000" stroke-width="0.70" stroke-linejoin="round" />
<polygon points="658.00,173.00 657.17,170.96 674.23,161.11 675.06,163.15" fill="#777" stroke="#000" stroke-width="0.70" stroke-linejoin="round" />
<polygon points="664.25,183.80 663.59,180.83 680.65,170.98 681.32,173.95" fill="#fafcfa" stroke="#000" stroke-width="1.00" stroke-linejoin="round" />
<polygon points="651.66,160.62 650.42,158.76 667.48,148.91 668.72,150.77" fill="#777" stroke="#000" stroke-width="0.70" stroke-linejoin="round" />
<polygon points="655.16,166.68 654.11,164.70 671.17,154.85 672.22,156.83" fill="#777" stroke="#000" stroke-width="0.70" stroke-linejoin="round" />
<polygon points="646.21,153.32 647.12,149.91 664.18,140.06 663.27,143.47" fill="#fafcfa" stroke="#000" stroke-width="1.00" stroke-linejoin="round" />
<polygon points="661.35,173.67 658.00,173.00 675.06,163.15 678.42,163.82" fill="#fafcfa" stroke="#000" stroke-width="1.00" stroke-linejoin="round" />
<polygon points="657.17,170.96 659.66,169.52 676.73,159.67 674.23,161.11" fill="#fafcfa" stroke="#000" stroke-width="1.00" stroke-linejoin="round" />
<polygon points="647.12,149.91 644.98,147.60 662.04,137.75 664.18,140.06" fill="#fafcfa" stroke="#000" stroke-width="1.00" stroke-linejoin="round" />
<polygon points="650.42,158.76 651.91,155.93 668.97,146.08 667.48,148.91" fill="#fafcfa" stroke="#000" stroke-width="1.00" stroke-linejoin="round" />
<polygon points="658.27,166.55 655.16,166.68 672.22,156.83 675.33,156.70" fill="#fafcfa" stroke="#000" stroke-width="1.00" stroke-linejoin="round" />
<polygon points="654.43,159.70 651.66,160.62 668.72,150.77 671.49,149.85" fill="#fafcfa" stroke="#000" stroke-width="1.00" stroke-linejoin="round" />
<polygon points="654.11,164.70 656.13,162.53 673.19,152.68 671.17,154.85" fill="#fafcfa" stroke="#000" stroke-width="1.00" stroke-linejoin="round" />
<polygon points="662.40,176.68 661.35,173.67 678.42,163.82 679.46,166.83" fill="#fafcfa" stroke="#000" stroke-width="1.00" stroke-linejoin="round" />
<polygon points="651.91,155.93 649.96,153.32 667.02,143.47 668.97,146.08" fill="#fafcfa" stroke="#000" stroke-width="1.00" stroke-linejoin="round" />
<polygon points="659.66,169.52 658.27,166.55 675.33,156.70 676.73,159.67" fill="#fafcfa" stroke="#000" stroke-width="1.00" stroke-linejoin="round" />
<polygon points="656.13,162.53 654.43,159.70 671.49,149.85 673.19,152.68" fill="#fafcfa" stroke="#000" stroke-width="1.00" stroke-linejoin="round" />
<polygon points="661.81,191.60 661.76,189.74 665.17,190.66 664.90,187.82 661.37,185.66 661.06,183.68 664.25,183.80 663.59,180.83 660.09,179.39 659.51,177.35 662.40,176.68 661.35,173.67 658.00,173.00 657.17,170.96 659.66,169.52 658.27,166.55 655.16,166.68 654.11,164.70 656.13,162.53 654.43,159.70 651.66,160.62 650.42,158.76 651.91,155.93 649.96,153.32 647.60,154.99 646.21,153.32 647.12,149.91 644.98,147.60 643.12,149.99 641.61,148.54 641.92,144.66 639.64,142.72 638.33,145.75 636.76,144.57 636.45,140.33 634.12,138.83 633.40,142.40 631.81,141.54 630.90,137.07 628.58,136.04 628.47,140.05 626.91,139.52 625.42,134.97 623.18,134.44 623.68,138.77 622.21,138.59 620.18,134.08 618.10,134.08 619.20,138.59 617.85,138.77 615.35,134.45 613.47,134.98 615.14,139.53 613.96,140.06 611.06,136.06 609.46,137.09 611.64,141.55 610.65,142.42 607.45,138.85 606.17,140.36 608.80,144.60 608.05,145.77 604.63,142.75 603.71,144.69 606.71,148.57 606.21,150.02 602.69,147.63 602.15,149.95 605.43,153.35 605.19,155.03 601.68,153.36 601.54,155.97 604.99,158.80 605.04,160.66 601.63,159.74 601.90,162.58 605.43,164.74 605.74,166.72 602.55,166.60 603.21,169.57 606.71,171.01 607.29,173.05 604.40,173.72 605.45,176.73 608.80,177.40 609.63,179.44 607.14,180.88 608.53,183.85 611.64,183.72 612.69,185.70 610.67,187.87 612.37,190.70 615.14,189.78 616.38,191.64 614.89,194.47 616.84,197.08 619.20,195.41 620.59,197.08 619.68,200.49 621.82,202.80 623.68,200.41 625.19,201.86 624.88,205.74 627.16,207.68 628.47,204.65 630.04,205.83 630.35,210.07 632.68,211.57 633.40,208.00 634.99,208.86 635.90,213.33 638.22,214.36 638.33,210.35 639.89,210.88 641.38,215.43 643.62,215.96 643.12,211.63 644.59,211.81 646.62,216.32 648.70,216.32 647.60,211.81 648.95,211.63 651.45,215.95 653.33,215.42 651.66,210.87 652.84,210.34 655.74,214.34 657.34,213.31 655.16,208.85 656.15,207.98 659.35,211.55 660.63,210.04 658.00,205.80 658.75,204.63 662.17,207.65 663.09,205.71 660.09,201.83 660.59,200.38 664.11,202.77 664.65,200.45 661.37,197.05 661.61,195.37 665.12,197.04 665.26,194.43" fill="#fafcfa" stroke="#000" stroke-width="1.15" stroke-linejoin="round" />
<polyline points="628.74,141.98 626.64,141.30 624.59,140.83 622.59,140.58 620.66,140.56 618.81,140.75 617.06,141.17 615.41,141.80 613.87,142.65 612.46,143.71 611.19,144.97 610.05,146.42 609.07,148.05 608.24,149.86 607.57,151.83 607.07,153.95 606.73,156.21 606.57,158.58 606.58,161.07 606.76,163.64 607.11,166.29 607.63,168.99 608.31,171.74 609.15,174.51 610.15,177.28" fill="none" stroke="#000" stroke-width="0.90" stroke-linejoin="round" />
<polyline points="628.74,203.04 624.59,199.39 620.66,195.13 617.06,190.36 613.87,185.20 611.19,179.78 609.07,174.25 607.57,168.75 606.73,163.40 606.58,158.36 607.11,153.75 608.31,149.69 610.15,146.28 612.59,143.60 615.55,141.74 618.98,140.73 622.77,140.60 626.83,141.35 631.06,142.97 635.35,145.41 639.59,148.61 643.67,152.49 647.49,156.95 650.95,161.88 653.97,167.15" fill="none" stroke="#000" stroke-width="0.90" stroke-linejoin="round" />
<polyline points="623.01,148.42 621.98,148.55 620.99,148.78 620.04,149.10 619.14,149.51 618.28,150.00 617.48,150.58 616.73,151.24 616.03,151.99 615.40,152.81 614.83,153.71 614.32,154.68 613.87,155.72 613.49,156.82 613.18,157.99 612.93,159.21 612.76,160.49 612.65,161.82 612.62,163.20 612.65,164.62 612.76,166.07 612.93,167.55 613.18,169.06 613.49,170.59 613.87,172.13" fill="none" stroke="#000" stroke-width="0.90" stroke-linejoin="round" />
<polyline points="640.51,201.86 641.49,201.98 642.46,202.03 643.40,202.01 644.31,201.93 645.20,201.77 646.05,201.55 646.88,201.25 647.66,200.89 648.41,200.46 649.13,199.97 649.80,199.42 650.43,198.80 651.01,198.11 651.55,197.37 652.04,196.58 652.48,195.72 652.88,194.82 653.22,193.86 653.51,192.86 653.76,191.81 653.94,190.71 654.08,189.58 654.16,188.41 654.18,187.20" fill="none" stroke="#000" stroke-width="0.90" stroke-linejoin="round" />
<ellipse cx="633.40" cy="175.20" rx="13.44" ry="23.27" transform="rotate(-30 633.40 175.20)" fill="none" stroke="#000" stroke-width="0.90" />
<polygon points="649.68,181.60 649.62,180.01 649.42,178.37 649.09,176.67 648.64,174.95 648.07,173.22 647.38,171.49 646.58,169.78 645.67,168.11 644.68,166.50 643.60,164.95 642.45,163.49 641.23,162.13 639.97,160.87 638.67,159.74 637.34,158.75 636.00,157.90 634.66,157.20 633.33,156.66 632.03,156.29 630.76,156.08 629.55,156.04 628.40,156.17 627.32,156.47 626.32,156.94 625.42,157.57 624.62,158.35 623.93,159.28 623.36,160.35 622.90,161.55 622.58,162.87 622.38,164.29 622.31,165.80 622.38,167.39 622.58,169.03 622.90,170.73 623.36,172.45 623.93,174.18 624.62,175.91 625.42,177.62 626.32,179.29 627.32,180.90 628.40,182.45 629.55,183.91 630.76,185.27 632.03,186.53 633.33,187.66 634.66,188.65 636.00,189.50 637.34,190.20 638.67,190.74 639.97,191.11 641.23,191.32 642.45,191.36 643.60,191.23 644.68,190.93 645.67,190.46 646.58,189.83 647.38,189.05 648.07,188.12 648.64,187.05 649.09,185.85 649.42,184.53 649.62,183.11" fill="#1a1a1a" stroke="#000" stroke-width="1.25" stroke-linejoin="round" />
<g clip-path="url(#c3)"><line x1="627.10" y1="158.28" x2="640.95" y2="150.28" stroke="#e8e8e8" stroke-width="1.1"/><line x1="624.78" y1="160.62" x2="638.64" y2="152.62" stroke="#e8e8e8" stroke-width="1.1"/><line x1="623.56" y1="164.25" x2="637.42" y2="156.25" stroke="#e8e8e8" stroke-width="1.1"/><line x1="623.56" y1="168.80" x2="637.42" y2="160.80" stroke="#e8e8e8" stroke-width="1.1"/><line x1="624.78" y1="173.82" x2="638.64" y2="165.82" stroke="#e8e8e8" stroke-width="1.1"/><line x1="627.10" y1="178.84" x2="640.95" y2="170.84" stroke="#e8e8e8" stroke-width="1.1"/><line x1="630.28" y1="183.35" x2="644.14" y2="175.35" stroke="#e8e8e8" stroke-width="1.1"/><line x1="634.03" y1="186.92" x2="647.89" y2="178.92" stroke="#e8e8e8" stroke-width="1.1"/><line x1="637.97" y1="189.19" x2="651.82" y2="181.19" stroke="#e8e8e8" stroke-width="1.1"/><line x1="641.71" y1="189.95" x2="655.57" y2="181.95" stroke="#e8e8e8" stroke-width="1.1"/><line x1="644.90" y1="189.12" x2="658.76" y2="181.12" stroke="#e8e8e8" stroke-width="1.1"/></g>
<polygon points="647.77,180.49 647.68,178.78 649.53,179.19 649.11,176.77 647.19,175.96 646.66,174.11 648.25,173.73 647.27,171.24 645.52,171.21 644.60,169.40 645.76,168.27 644.32,165.96 642.91,166.70 641.70,165.11 642.32,163.34 640.55,161.43 639.63,162.88 638.24,161.65 638.27,159.43 636.34,158.10 636.00,160.11 634.56,159.38 633.99,156.91 632.10,156.30 632.36,158.68 631.02,158.51 629.90,156.04 628.24,156.21 629.08,158.71 627.97,159.13 626.41,156.89 625.13,157.82 626.48,160.22 625.70,161.17 623.87,159.39 623.09,160.99 624.81,163.04 624.45,164.44 622.50,163.29 622.32,165.41 624.23,166.91 624.32,168.62 622.46,168.21 622.88,170.63 624.81,171.44 625.33,173.29 623.75,173.67 624.73,176.16 626.48,176.19 627.39,178.00 626.23,179.13 627.68,181.44 629.08,180.70 630.30,182.29 629.67,184.06 631.44,185.97 632.36,184.52 633.76,185.75 633.73,187.97 635.65,189.30 636.00,187.29 637.44,188.02 638.01,190.49 639.90,191.10 639.63,188.72 640.97,188.89 642.09,191.36 643.76,191.19 642.91,188.69 644.03,188.27 645.58,190.51 646.86,189.58 645.52,187.18 646.29,186.23 648.13,188.01 648.90,186.41 647.19,184.36 647.55,182.96 649.49,184.11 649.68,181.99" fill="none" stroke="#e8e8e8" stroke-width="0.70" stroke-linejoin="round" />
<polygon points="703.35,154.34 704.14,153.79 704.84,153.10 705.44,152.29 705.94,151.36 706.34,150.31 706.62,149.16 706.79,147.92 706.85,146.60 706.79,145.21 706.62,143.78 706.34,142.30 705.94,140.79 705.44,139.28 704.84,137.77 704.14,136.28 703.35,134.82 702.48,133.41 701.54,132.06 700.53,130.78 699.47,129.59 698.37,128.50 697.23,127.51 696.07,126.64 694.90,125.90 693.73,125.29 692.57,124.82 691.43,124.49 690.33,124.31 689.27,124.28 688.26,124.39 687.32,124.66 686.45,125.06 688.35,123.96 689.22,123.56 690.17,123.29 691.17,123.18 692.23,123.21 693.34,123.39 694.47,123.72 695.63,124.19 696.81,124.80 697.98,125.54 699.14,126.41 700.27,127.40 701.38,128.49 702.44,129.68 703.44,130.96 704.39,132.31 705.26,133.72 706.04,135.18 706.74,136.67 707.35,138.18 707.85,139.69 708.24,141.20 708.53,142.68 708.70,144.11 708.76,145.50 708.70,146.82 708.53,148.06 708.24,149.21 707.85,150.26 707.35,151.19 706.74,152.00 706.04,152.69 705.26,153.24" fill="#aaa" stroke="#000" stroke-width="1.00" stroke-linejoin="round" />
<path d="M706.85,146.60 L706.79,145.21 L706.62,143.78 L706.34,142.30 L705.94,140.79 L705.44,139.28 L704.84,137.77 L704.14,136.28 L703.35,134.82 L702.48,133.41 L701.54,132.06 L700.53,130.78 L699.47,129.59 L698.37,128.50 L697.23,127.51 L696.07,126.64 L694.90,125.90 L693.73,125.29 L692.57,124.82 L691.43,124.49 L690.33,124.31 L689.27,124.28 L688.26,124.39 L687.32,124.66 L686.45,125.06 L685.66,125.61 L684.96,126.30 L684.36,127.11 L683.86,128.04 L683.46,129.09 L683.18,130.24 L683.01,131.48 L682.95,132.80 L683.01,134.19 L683.18,135.62 L683.46,137.10 L683.86,138.61 L684.36,140.12 L684.96,141.63 L685.66,143.12 L686.45,144.58 L687.32,145.99 L688.26,147.34 L689.27,148.62 L690.33,149.81 L691.43,150.90 L692.57,151.89 L693.73,152.76 L694.90,153.50 L696.07,154.11 L697.23,154.58 L698.37,154.91 L699.47,155.09 L700.53,155.12 L701.54,155.01 L702.48,154.74 L703.35,154.34 L704.14,153.79 L704.84,153.10 L705.44,152.29 L705.94,151.36 L706.34,150.31 L706.62,149.16 L706.79,147.92Z M704.95,145.50 L704.90,144.34 L704.75,143.13 L704.51,141.88 L704.18,140.62 L703.76,139.35 L703.25,138.08 L702.67,136.82 L702.00,135.60 L701.27,134.41 L700.48,133.28 L699.64,132.20 L698.74,131.20 L697.82,130.28 L696.86,129.45 L695.88,128.72 L694.90,128.10 L693.92,127.59 L692.94,127.19 L691.98,126.92 L691.06,126.76 L690.16,126.74 L689.32,126.83 L688.53,127.05 L687.80,127.40 L687.13,127.86 L686.55,128.43 L686.04,129.12 L685.62,129.90 L685.29,130.78 L685.05,131.75 L684.90,132.79 L684.85,133.90 L684.90,135.06 L685.05,136.27 L685.29,137.52 L685.62,138.78 L686.04,140.05 L686.55,141.32 L687.13,142.58 L687.80,143.80 L688.53,144.99 L689.32,146.12 L690.16,147.20 L691.06,148.20 L691.98,149.12 L692.94,149.95 L693.92,150.68 L694.90,151.30 L695.88,151.81 L696.86,152.21 L697.82,152.48 L698.74,152.64 L699.64,152.66 L700.48,152.57 L701.27,152.35 L702.00,152.00 L702.67,151.54 L703.25,150.97 L703.76,150.28 L704.18,149.50 L704.51,148.62 L704.75,147.65 L704.90,146.61Z" fill="#aaa" stroke="#000" stroke-width="1.00" fill-rule="evenodd"/>
<polyline points="689.70,126.30 688.84,126.94 688.11,127.78 687.52,128.80 687.10,130.00 686.85,131.34 686.76,132.80 686.85,134.36 687.10,136.00 687.52,137.68 688.11,139.38 688.84,141.06 689.70,142.70 690.69,144.27 691.78,145.75 692.96,147.10 694.21,148.30 695.49,149.34 696.81,150.20 698.12,150.86 699.41,151.31 700.65,151.54 701.83,151.55 702.92,151.33 703.91,150.90" fill="none" stroke="#000" stroke-width="0.80" stroke-linejoin="round" />
<polygon points="90.22,441.03 91.56,440.09 92.75,438.93 93.77,437.54 94.63,435.95 95.30,434.17 95.79,432.21 96.08,430.10 96.18,427.85 96.08,425.49 95.79,423.04 95.30,420.52 94.63,417.96 93.77,415.38 92.75,412.81 91.56,410.27 90.22,407.79 88.74,405.39 87.13,403.09 85.42,400.91 83.61,398.89 81.73,397.02 79.80,395.34 77.82,393.86 75.83,392.60 73.83,391.56 71.86,390.76 69.92,390.20 68.04,389.89 66.23,389.84 64.52,390.03 62.92,390.48 61.44,391.17 79.11,383.80 80.47,383.16 81.94,382.75 83.50,382.57 85.16,382.62 86.88,382.91 88.65,383.42 90.46,384.15 92.28,385.10 94.11,386.26 95.91,387.61 97.69,389.15 99.41,390.85 101.06,392.71 102.63,394.70 104.09,396.80 105.45,399.00 106.67,401.27 107.76,403.59 108.70,405.95 109.48,408.30 110.10,410.65 110.54,412.95 110.81,415.19 110.90,417.35 110.81,419.41 110.54,421.34 110.10,423.13 109.48,424.76 108.70,426.22 107.76,427.48 106.67,428.55 105.45,429.40" fill="#fafcfa" stroke="#000" stroke-width="1.25" stroke-linejoin="round" />
<polyline points="92.14,439.20 94.12,438.13 95.83,436.61 97.22,434.66 98.26,432.31 98.95,429.62 99.26,426.64 99.19,423.41 98.74,420.01 97.92,416.49 96.74,412.93 95.24,409.39 93.42,405.94 91.34,402.65 89.03,399.57 86.53,396.77 83.90,394.30 81.18,392.21 78.42,390.54 75.68,389.32 73.00,388.56 70.45,388.30 68.07,388.52 65.89,389.24 63.98,390.43" fill="none" stroke="#000" stroke-width="1.20" stroke-linejoin="round" />
<polyline points="95.37,436.74 97.32,435.69 98.99,434.20 100.35,432.28 101.38,429.98 102.05,427.34 102.36,424.41 102.29,421.24 101.85,417.90 101.04,414.45 99.89,410.95 98.41,407.48 96.63,404.09 94.59,400.86 92.32,397.84 89.87,395.09 87.28,392.67 84.61,390.61 81.90,388.97 79.21,387.77 76.58,387.03 74.08,386.77 71.73,386.99 69.60,387.69 67.72,388.86" fill="none" stroke="#000" stroke-width="1.20" stroke-linejoin="round" />
<polyline points="98.60,434.28 100.51,433.26 102.15,431.79 103.49,429.91 104.50,427.65 105.16,425.06 105.46,422.18 105.39,419.07 104.96,415.79 104.17,412.40 103.03,408.97 101.58,405.56 99.84,402.24 97.83,399.06 95.60,396.10 93.20,393.40 90.66,391.03 88.04,389.01 85.38,387.40 82.74,386.22 80.16,385.49 77.70,385.24 75.40,385.46 73.31,386.14 71.47,387.29" fill="none" stroke="#000" stroke-width="1.20" stroke-linejoin="round" />
<ellipse cx="75.83" cy="416.10" rx="16.62" ry="28.78" transform="rotate(-30 75.83 416.10)" fill="#fafcfa" stroke="#000" stroke-width="1.25" />
<polygon points="84.96,443.92 86.30,442.99 87.48,441.83 88.50,440.45 89.35,438.86 90.02,437.09 90.51,435.14 90.80,433.04 90.90,430.80 90.80,428.45 90.51,426.01 90.02,423.50 89.35,420.95 88.50,418.39 87.48,415.83 86.30,413.30 84.96,410.83 83.49,408.43 81.89,406.14 80.18,403.98 78.39,401.96 76.51,400.10 74.58,398.43 72.62,396.96 70.63,395.70 68.64,394.67 66.68,393.87 64.75,393.31 62.88,393.00 61.08,392.95 59.37,393.14 57.77,393.59 56.30,394.28 61.50,391.28 62.97,390.59 64.57,390.14 66.27,389.95 68.07,390.00 69.94,390.31 71.87,390.87 73.84,391.67 75.83,392.70 77.81,393.96 79.78,395.43 81.71,397.10 83.58,398.96 85.38,400.98 87.08,403.14 88.68,405.43 90.16,407.83 91.49,410.30 92.68,412.83 93.70,415.39 94.55,417.95 95.22,420.50 95.70,423.01 95.99,425.45 96.09,427.80 95.99,430.04 95.70,432.14 95.22,434.09 94.55,435.86 93.70,437.45 92.68,438.83 91.49,439.99 90.16,440.92" fill="#555" stroke="none" stroke-width="0.00" stroke-linejoin="round" />
<polygon points="55.89,391.20 54.40,392.00 59.60,389.00 61.08,388.20" fill="#fafcfa" stroke="#000" stroke-width="1.00" stroke-linejoin="round" />
<polygon points="86.86,446.20 85.61,443.51 90.80,440.51 92.06,443.20" fill="#fafcfa" stroke="#000" stroke-width="1.00" stroke-linejoin="round" />
<polygon points="85.61,443.51 86.34,442.95 91.54,439.95 90.80,440.51" fill="#555" stroke="#000" stroke-width="0.70" stroke-linejoin="round" />
<polygon points="57.54,393.68 55.89,391.20 61.08,388.20 62.74,390.68" fill="#fafcfa" stroke="#000" stroke-width="1.00" stroke-linejoin="round" />
<polygon points="58.42,393.38 57.54,393.68 62.74,390.68 63.61,390.38" fill="#555" stroke="#000" stroke-width="0.70" stroke-linejoin="round" />
<polygon points="88.21,445.17 89.41,443.93 94.60,440.93 93.40,442.17" fill="#fafcfa" stroke="#000" stroke-width="1.00" stroke-linejoin="round" />
<polygon points="59.22,390.33 57.50,390.64 62.69,387.64 64.42,387.33" fill="#fafcfa" stroke="#000" stroke-width="1.00" stroke-linejoin="round" />
<polygon points="89.41,443.93 87.86,441.37 93.06,438.37 94.60,440.93" fill="#fafcfa" stroke="#000" stroke-width="1.00" stroke-linejoin="round" />
<polygon points="87.86,441.37 88.42,440.57 93.62,437.57 93.06,438.37" fill="#555" stroke="#000" stroke-width="0.70" stroke-linejoin="round" />
<polygon points="60.61,392.98 59.22,390.33 64.42,387.33 65.80,389.98" fill="#fafcfa" stroke="#000" stroke-width="1.00" stroke-linejoin="round" />
<polygon points="61.60,392.94 60.61,392.98 65.80,389.98 66.79,389.94" fill="#555" stroke="#000" stroke-width="0.70" stroke-linejoin="round" />
<polygon points="90.44,442.46 91.31,440.80 96.51,437.80 95.64,439.46" fill="#fafcfa" stroke="#000" stroke-width="1.00" stroke-linejoin="round" />
<polygon points="91.31,440.80 89.53,438.46 94.72,435.46 96.51,437.80" fill="#fafcfa" stroke="#000" stroke-width="1.00" stroke-linejoin="round" />
<polygon points="62.95,390.44 61.04,390.26 66.24,387.26 68.14,387.44" fill="#fafcfa" stroke="#000" stroke-width="1.00" stroke-linejoin="round" />
<polygon points="89.53,438.46 89.90,437.46 95.10,434.46 94.72,435.46" fill="#555" stroke="#000" stroke-width="0.70" stroke-linejoin="round" />
<polygon points="64.01,393.16 62.95,390.44 68.14,387.44 69.21,390.16" fill="#fafcfa" stroke="#000" stroke-width="1.00" stroke-linejoin="round" />
<polygon points="65.08,393.39 64.01,393.16 69.21,390.16 70.28,390.39" fill="#555" stroke="#000" stroke-width="0.70" stroke-linejoin="round" />
<polygon points="92.00,438.96 92.51,436.94 97.71,433.94 97.20,435.96" fill="#fafcfa" stroke="#000" stroke-width="1.00" stroke-linejoin="round" />
<polygon points="92.51,436.94 90.55,434.90 95.75,431.90 97.71,433.94" fill="#fafcfa" stroke="#000" stroke-width="1.00" stroke-linejoin="round" />
<polygon points="90.55,434.90 90.73,433.72 95.92,430.72 95.75,431.90" fill="#555" stroke="#000" stroke-width="0.70" stroke-linejoin="round" />
<polygon points="66.93,391.52 64.91,390.86 70.11,387.86 72.13,388.52" fill="#fafcfa" stroke="#000" stroke-width="1.00" stroke-linejoin="round" />
<polygon points="68.76,394.72 67.65,394.23 72.84,391.23 73.96,391.72" fill="#555" stroke="#000" stroke-width="0.70" stroke-linejoin="round" />
<polygon points="67.65,394.23 66.93,391.52 72.13,388.52 72.84,391.23" fill="#fafcfa" stroke="#000" stroke-width="1.00" stroke-linejoin="round" />
<polygon points="90.90,430.80 90.86,429.49 96.06,426.49 96.09,427.80" fill="#555" stroke="#000" stroke-width="0.70" stroke-linejoin="round" />
<polygon points="92.84,434.78 92.97,432.47 98.17,429.47 98.03,431.78" fill="#fafcfa" stroke="#000" stroke-width="1.00" stroke-linejoin="round" />
<polygon points="92.97,432.47 90.90,430.80 96.09,427.80 98.17,429.47" fill="#fafcfa" stroke="#000" stroke-width="1.00" stroke-linejoin="round" />
<polygon points="72.50,396.88 71.38,396.15 76.58,393.15 77.70,393.88" fill="#555" stroke="#000" stroke-width="0.70" stroke-linejoin="round" />
<polygon points="71.04,393.54 68.98,392.42 74.18,389.42 76.24,390.54" fill="#fafcfa" stroke="#000" stroke-width="1.00" stroke-linejoin="round" />
<polygon points="71.38,396.15 71.04,393.54 76.24,390.54 76.58,393.15" fill="#fafcfa" stroke="#000" stroke-width="1.00" stroke-linejoin="round" />
<polygon points="90.55,426.30 90.31,424.90 95.51,421.90 95.75,423.30" fill="#555" stroke="#000" stroke-width="0.70" stroke-linejoin="round" />
<polygon points="76.18,399.80 75.09,398.85 80.28,395.85 81.37,396.80" fill="#555" stroke="#000" stroke-width="0.70" stroke-linejoin="round" />
<polygon points="92.67,427.55 90.55,426.30 95.75,423.30 97.86,424.55" fill="#fafcfa" stroke="#000" stroke-width="1.00" stroke-linejoin="round" />
<polygon points="92.91,430.06 92.67,427.55 97.86,424.55 98.11,427.06" fill="#fafcfa" stroke="#000" stroke-width="1.00" stroke-linejoin="round" />
<polygon points="75.09,398.85 75.14,396.44 80.34,393.44 80.28,395.85" fill="#fafcfa" stroke="#000" stroke-width="1.00" stroke-linejoin="round" />
<polygon points="75.14,396.44 73.10,394.89 78.30,391.89 80.34,393.44" fill="#fafcfa" stroke="#000" stroke-width="1.00" stroke-linejoin="round" />
<polygon points="89.53,421.56 89.09,420.11 94.29,417.11 94.72,418.56" fill="#555" stroke="#000" stroke-width="0.70" stroke-linejoin="round" />
<polygon points="79.66,403.37 78.64,402.23 83.84,399.23 84.86,400.37" fill="#555" stroke="#000" stroke-width="0.70" stroke-linejoin="round" />
<polygon points="91.61,422.34 89.53,421.56 94.72,418.56 96.81,419.34" fill="#fafcfa" stroke="#000" stroke-width="1.00" stroke-linejoin="round" />
<polygon points="78.64,402.23 79.09,400.10 84.28,397.10 83.84,399.23" fill="#fafcfa" stroke="#000" stroke-width="1.00" stroke-linejoin="round" />
<polygon points="92.23,424.97 91.61,422.34 96.81,419.34 97.43,421.97" fill="#fafcfa" stroke="#000" stroke-width="1.00" stroke-linejoin="round" />
<polygon points="87.86,416.73 87.24,415.29 92.44,412.29 93.06,413.73" fill="#555" stroke="#000" stroke-width="0.70" stroke-linejoin="round" />
<polygon points="82.84,407.48 81.93,406.20 87.12,403.20 88.04,404.48" fill="#555" stroke="#000" stroke-width="0.70" stroke-linejoin="round" />
<polygon points="79.09,400.10 77.14,398.18 82.34,395.18 84.28,397.10" fill="#fafcfa" stroke="#000" stroke-width="1.00" stroke-linejoin="round" />
<polygon points="85.61,411.98 84.83,410.60 90.02,407.60 90.80,408.98" fill="#555" stroke="#000" stroke-width="0.70" stroke-linejoin="round" />
<polygon points="89.84,417.02 87.86,416.73 93.06,413.73 95.04,414.02" fill="#fafcfa" stroke="#000" stroke-width="1.00" stroke-linejoin="round" />
<polygon points="81.93,406.20 82.74,404.41 87.94,401.41 87.12,403.20" fill="#fafcfa" stroke="#000" stroke-width="1.00" stroke-linejoin="round" />
<polygon points="87.24,415.29 88.71,414.37 93.90,411.37 92.44,412.29" fill="#fafcfa" stroke="#000" stroke-width="1.00" stroke-linejoin="round" />
<polygon points="84.42,406.76 82.84,407.48 88.04,404.48 89.62,403.76" fill="#fafcfa" stroke="#000" stroke-width="1.00" stroke-linejoin="round" />
<polygon points="87.42,411.77 85.61,411.98 90.80,408.98 92.61,408.77" fill="#fafcfa" stroke="#000" stroke-width="1.00" stroke-linejoin="round" />
<polygon points="84.83,410.60 85.99,409.22 91.18,406.22 90.02,407.60" fill="#fafcfa" stroke="#000" stroke-width="1.00" stroke-linejoin="round" />
<polygon points="90.81,419.68 89.84,417.02 95.04,414.02 96.01,416.68" fill="#fafcfa" stroke="#000" stroke-width="1.00" stroke-linejoin="round" />
<polygon points="82.74,404.41 80.96,402.18 86.15,399.18 87.94,401.41" fill="#fafcfa" stroke="#000" stroke-width="1.00" stroke-linejoin="round" />
<polygon points="88.71,414.37 87.42,411.77 92.61,408.77 93.90,411.37" fill="#fafcfa" stroke="#000" stroke-width="1.00" stroke-linejoin="round" />
<polygon points="85.99,409.22 84.42,406.76 89.62,403.76 91.18,406.22" fill="#fafcfa" stroke="#000" stroke-width="1.00" stroke-linejoin="round" />
<polygon points="90.90,430.80 90.86,429.49 92.91,430.06 92.67,427.55 90.55,426.30 90.31,424.90 92.23,424.97 91.61,422.34 89.53,421.56 89.09,420.11 90.81,419.68 89.84,417.02 87.86,416.73 87.24,415.29 88.71,414.37 87.42,411.77 85.61,411.98 84.83,410.60 85.99,409.22 84.42,406.76 82.84,407.48 81.93,406.20 82.74,404.41 80.96,402.18 79.66,403.37 78.64,402.23 79.09,400.10 77.14,398.18 76.18,399.80 75.09,398.85 75.14,396.44 73.10,394.89 72.50,396.88 71.38,396.15 71.04,393.54 68.98,392.42 68.76,394.72 67.65,394.23 66.93,391.52 64.91,390.86 65.08,393.39 64.01,393.16 62.95,390.44 61.04,390.26 61.60,392.94 60.61,392.98 59.22,390.33 57.50,390.64 58.42,393.38 57.54,393.68 55.89,391.20 54.40,392.00 55.65,394.69 54.92,395.25 53.05,393.03 51.85,394.27 53.40,396.83 52.84,397.63 50.82,395.74 49.95,397.40 51.73,399.74 51.36,400.74 49.26,399.24 48.75,401.26 50.71,403.30 50.53,404.48 48.42,403.42 48.29,405.73 50.37,407.40 50.40,408.71 48.35,408.14 48.59,410.65 50.71,411.90 50.95,413.30 49.03,413.23 49.65,415.86 51.73,416.64 52.17,418.09 50.45,418.52 51.42,421.18 53.40,421.47 54.02,422.91 52.55,423.83 53.84,426.43 55.65,426.22 56.43,427.60 55.27,428.98 56.84,431.44 58.42,430.72 59.33,432.00 58.52,433.79 60.30,436.02 61.60,434.83 62.62,435.97 62.18,438.10 64.12,440.02 65.08,438.40 66.17,439.35 66.12,441.76 68.16,443.31 68.76,441.32 69.88,442.05 70.22,444.66 72.28,445.78 72.50,443.48 73.62,443.97 74.33,446.68 76.35,447.34 76.18,444.81 77.25,445.04 78.32,447.76 80.22,447.94 79.66,445.26 80.65,445.22 82.04,447.87 83.76,447.56 82.84,444.82 83.72,444.52 85.38,447.00 86.86,446.20 85.61,443.51 86.34,442.95 88.21,445.17 89.41,443.93 87.86,441.37 88.42,440.57 90.44,442.46 91.31,440.80 89.53,438.46 89.90,437.46 92.00,438.96 92.51,436.94 90.55,434.90 90.73,433.72 92.84,434.78 92.97,432.47" fill="#fafcfa" stroke="#000" stroke-width="1.00" stroke-linejoin="round" />
<polygon points="80.75,446.63 82.10,445.69 83.29,444.52 84.32,443.13 85.18,441.53 85.86,439.74 86.35,437.78 86.64,435.66 86.74,433.40 86.64,431.03 86.35,428.57 85.86,426.04 85.18,423.47 84.32,420.88 83.29,418.30 82.10,415.75 80.75,413.26 79.27,410.84 77.65,408.53 75.93,406.35 74.12,404.31 72.23,402.44 70.29,400.76 68.30,399.27 66.30,398.00 64.30,396.96 62.31,396.15 60.37,395.59 58.48,395.28 56.67,395.22 54.95,395.42 53.33,395.87 51.85,396.57 56.18,394.07 57.66,393.37 59.28,392.92 61.00,392.72 62.81,392.78 64.70,393.09 66.64,393.65 68.63,394.46 70.63,395.50 72.63,396.77 74.62,398.26 76.56,399.94 78.45,401.81 80.26,403.85 81.98,406.03 83.60,408.34 85.08,410.76 86.43,413.25 87.62,415.80 88.66,418.38 89.51,420.97 90.19,423.54 90.68,426.07 90.97,428.53 91.07,430.90 90.97,433.16 90.68,435.28 90.19,437.24 89.51,439.03 88.66,440.63 87.62,442.02 86.43,443.19 85.08,444.13" fill="#555" stroke="none" stroke-width="0.00" stroke-linejoin="round" />
<polygon points="51.27,393.16 49.75,393.97 54.08,391.47 55.60,390.66" fill="#fafcfa" stroke="#000" stroke-width="1.00" stroke-linejoin="round" />
<polygon points="82.85,449.23 81.40,446.22 85.73,443.72 87.18,446.73" fill="#fafcfa" stroke="#000" stroke-width="1.00" stroke-linejoin="round" />
<polygon points="81.40,446.22 82.14,445.66 86.47,443.16 85.73,443.72" fill="#555" stroke="#000" stroke-width="0.70" stroke-linejoin="round" />
<polygon points="53.10,395.96 51.27,393.16 55.60,390.66 57.43,393.46" fill="#fafcfa" stroke="#000" stroke-width="1.00" stroke-linejoin="round" />
<polygon points="53.98,395.66 53.10,395.96 57.43,393.46 58.31,393.16" fill="#555" stroke="#000" stroke-width="0.70" stroke-linejoin="round" />
<polygon points="84.22,448.18 85.44,446.91 89.77,444.41 88.55,445.68" fill="#fafcfa" stroke="#000" stroke-width="1.00" stroke-linejoin="round" />
<polygon points="54.67,392.27 52.91,392.59 57.24,390.09 59.00,389.77" fill="#fafcfa" stroke="#000" stroke-width="1.00" stroke-linejoin="round" />
<polygon points="85.44,446.91 83.68,444.06 88.01,441.56 89.77,444.41" fill="#fafcfa" stroke="#000" stroke-width="1.00" stroke-linejoin="round" />
<polygon points="83.68,444.06 84.25,443.25 88.58,440.75 88.01,441.56" fill="#555" stroke="#000" stroke-width="0.70" stroke-linejoin="round" />
<polygon points="56.19,395.25 54.67,392.27 59.00,389.77 60.52,392.75" fill="#fafcfa" stroke="#000" stroke-width="1.00" stroke-linejoin="round" />
<polygon points="57.19,395.21 56.19,395.25 60.52,392.75 61.52,392.71" fill="#555" stroke="#000" stroke-width="0.70" stroke-linejoin="round" />
<polygon points="86.50,445.42 87.38,443.72 91.71,441.22 90.83,442.92" fill="#fafcfa" stroke="#000" stroke-width="1.00" stroke-linejoin="round" />
<polygon points="87.38,443.72 85.36,441.13 89.69,438.63 91.71,441.22" fill="#fafcfa" stroke="#000" stroke-width="1.00" stroke-linejoin="round" />
<polygon points="58.47,392.38 56.53,392.20 60.86,389.70 62.80,389.88" fill="#fafcfa" stroke="#000" stroke-width="1.00" stroke-linejoin="round" />
<polygon points="85.36,441.13 85.74,440.12 90.07,437.62 89.69,438.63" fill="#555" stroke="#000" stroke-width="0.70" stroke-linejoin="round" />
<polygon points="59.63,395.44 58.47,392.38 62.80,389.88 63.96,392.94" fill="#fafcfa" stroke="#000" stroke-width="1.00" stroke-linejoin="round" />
<polygon points="60.71,395.67 59.63,395.44 63.96,392.94 65.04,393.17" fill="#555" stroke="#000" stroke-width="0.70" stroke-linejoin="round" />
<polygon points="88.09,441.84 88.61,439.79 92.94,437.29 92.42,439.34" fill="#fafcfa" stroke="#000" stroke-width="1.00" stroke-linejoin="round" />
<polygon points="86.39,437.54 86.57,436.35 90.90,433.85 90.72,435.04" fill="#555" stroke="#000" stroke-width="0.70" stroke-linejoin="round" />
<polygon points="88.61,439.79 86.39,437.54 90.72,435.04 92.94,437.29" fill="#fafcfa" stroke="#000" stroke-width="1.00" stroke-linejoin="round" />
<polygon points="62.53,393.49 60.47,392.81 64.80,390.31 66.86,390.99" fill="#fafcfa" stroke="#000" stroke-width="1.00" stroke-linejoin="round" />
<polygon points="64.41,397.01 63.29,396.52 67.62,394.02 68.74,394.51" fill="#555" stroke="#000" stroke-width="0.70" stroke-linejoin="round" />
<polygon points="63.29,396.52 62.53,393.49 66.86,390.99 67.62,394.02" fill="#fafcfa" stroke="#000" stroke-width="1.00" stroke-linejoin="round" />
<polygon points="86.74,433.40 86.71,432.07 91.04,429.57 91.07,430.90" fill="#555" stroke="#000" stroke-width="0.70" stroke-linejoin="round" />
<polygon points="88.94,437.58 89.07,435.23 93.40,432.73 93.27,435.08" fill="#fafcfa" stroke="#000" stroke-width="1.00" stroke-linejoin="round" />
<polygon points="89.07,435.23 86.74,433.40 91.07,430.90 93.40,432.73" fill="#fafcfa" stroke="#000" stroke-width="1.00" stroke-linejoin="round" />
<polygon points="68.19,399.19 67.06,398.45 71.39,395.95 72.52,396.69" fill="#555" stroke="#000" stroke-width="0.70" stroke-linejoin="round" />
<polygon points="66.72,395.55 64.62,394.40 68.95,391.90 71.05,393.05" fill="#fafcfa" stroke="#000" stroke-width="1.00" stroke-linejoin="round" />
<polygon points="67.06,398.45 66.72,395.55 71.05,393.05 71.39,395.95" fill="#fafcfa" stroke="#000" stroke-width="1.00" stroke-linejoin="round" />
<polygon points="86.39,428.86 86.15,427.45 90.48,424.95 90.72,426.36" fill="#555" stroke="#000" stroke-width="0.70" stroke-linejoin="round" />
<polygon points="71.89,402.13 70.80,401.17 75.13,398.67 76.22,399.63" fill="#555" stroke="#000" stroke-width="0.70" stroke-linejoin="round" />
<polygon points="88.76,430.21 86.39,428.86 90.72,426.36 93.09,427.71" fill="#fafcfa" stroke="#000" stroke-width="1.00" stroke-linejoin="round" />
<polygon points="89.01,432.77 88.76,430.21 93.09,427.71 93.34,430.27" fill="#fafcfa" stroke="#000" stroke-width="1.00" stroke-linejoin="round" />
<polygon points="70.80,401.17 70.90,398.50 75.23,396.00 75.13,398.67" fill="#fafcfa" stroke="#000" stroke-width="1.00" stroke-linejoin="round" />
<polygon points="70.90,398.50 68.82,396.92 73.15,394.42 75.23,396.00" fill="#fafcfa" stroke="#000" stroke-width="1.00" stroke-linejoin="round" />
<polygon points="85.36,424.08 84.92,422.62 89.25,420.12 89.69,421.58" fill="#555" stroke="#000" stroke-width="0.70" stroke-linejoin="round" />
<polygon points="75.41,405.73 74.38,404.59 78.71,402.09 79.74,403.23" fill="#555" stroke="#000" stroke-width="0.70" stroke-linejoin="round" />
<polygon points="87.69,424.90 85.36,424.08 89.69,421.58 92.02,422.40" fill="#fafcfa" stroke="#000" stroke-width="1.00" stroke-linejoin="round" />
<polygon points="74.38,404.59 74.92,402.23 79.25,399.73 78.71,402.09" fill="#fafcfa" stroke="#000" stroke-width="1.00" stroke-linejoin="round" />
<polygon points="83.68,419.21 83.05,417.76 87.38,415.26 88.01,416.71" fill="#555" stroke="#000" stroke-width="0.70" stroke-linejoin="round" />
<polygon points="78.62,409.88 77.69,408.59 82.02,406.09 82.95,407.38" fill="#555" stroke="#000" stroke-width="0.70" stroke-linejoin="round" />
<polygon points="88.32,427.58 87.69,424.90 92.02,422.40 92.65,425.08" fill="#fafcfa" stroke="#000" stroke-width="1.00" stroke-linejoin="round" />
<polygon points="81.40,414.42 80.62,413.03 84.95,410.53 85.73,411.92" fill="#555" stroke="#000" stroke-width="0.70" stroke-linejoin="round" />
<polygon points="74.92,402.23 72.94,400.27 77.27,397.77 79.25,399.73" fill="#fafcfa" stroke="#000" stroke-width="1.00" stroke-linejoin="round" />
<polygon points="85.88,419.48 83.68,419.21 88.01,416.71 90.21,416.98" fill="#fafcfa" stroke="#000" stroke-width="1.00" stroke-linejoin="round" />
<polygon points="77.69,408.59 78.65,406.63 82.98,404.13 82.02,406.09" fill="#fafcfa" stroke="#000" stroke-width="1.00" stroke-linejoin="round" />
<polygon points="83.05,417.76 84.73,416.78 89.06,414.28 87.38,415.26" fill="#fafcfa" stroke="#000" stroke-width="1.00" stroke-linejoin="round" />
<polygon points="80.36,409.03 78.62,409.88 82.95,407.38 84.69,406.53" fill="#fafcfa" stroke="#000" stroke-width="1.00" stroke-linejoin="round" />
<polygon points="83.41,414.12 81.40,414.42 85.73,411.92 87.74,411.62" fill="#fafcfa" stroke="#000" stroke-width="1.00" stroke-linejoin="round" />
<polygon points="80.62,413.03 81.95,411.53 86.28,409.03 84.95,410.53" fill="#fafcfa" stroke="#000" stroke-width="1.00" stroke-linejoin="round" />
<polygon points="86.87,422.19 85.88,419.48 90.21,416.98 91.20,419.69" fill="#fafcfa" stroke="#000" stroke-width="1.00" stroke-linejoin="round" />
<polygon points="78.65,406.63 76.83,404.36 81.16,401.86 82.98,404.13" fill="#fafcfa" stroke="#000" stroke-width="1.00" stroke-linejoin="round" />
<polygon points="84.73,416.78 83.41,414.12 87.74,411.62 89.06,414.28" fill="#fafcfa" stroke="#000" stroke-width="1.00" stroke-linejoin="round" />
<polygon points="81.95,411.53 80.36,409.03 84.69,406.53 86.28,409.03" fill="#fafcfa" stroke="#000" stroke-width="1.00" stroke-linejoin="round" />
<path d="M86.74,433.40 L86.71,432.07 L89.01,432.77 L88.76,430.21 L86.39,428.86 L86.15,427.45 L88.32,427.58 L87.69,424.90 L85.36,424.08 L84.92,422.62 L86.87,422.19 L85.88,419.48 L83.68,419.21 L83.05,417.76 L84.73,416.78 L83.41,414.12 L81.40,414.42 L80.62,413.03 L81.95,411.53 L80.36,409.03 L78.62,409.88 L77.69,408.59 L78.65,406.63 L76.83,404.36 L75.41,405.73 L74.38,404.59 L74.92,402.23 L72.94,400.27 L71.89,402.13 L70.80,401.17 L70.90,398.50 L68.82,396.92 L68.19,399.19 L67.06,398.45 L66.72,395.55 L64.62,394.40 L64.41,397.01 L63.29,396.52 L62.53,393.49 L60.47,392.81 L60.71,395.67 L59.63,395.44 L58.47,392.38 L56.53,392.20 L57.19,395.21 L56.19,395.25 L54.67,392.27 L52.91,392.59 L53.98,395.66 L53.10,395.96 L51.27,393.16 L49.75,393.97 L51.20,396.98 L50.46,397.54 L48.38,395.02 L47.16,396.29 L48.92,399.14 L48.35,399.95 L46.10,397.78 L45.22,399.48 L47.24,402.07 L46.86,403.08 L44.51,401.36 L43.99,403.41 L46.21,405.66 L46.03,406.85 L43.66,405.62 L43.53,407.97 L45.86,409.80 L45.89,411.13 L43.59,410.43 L43.84,412.99 L46.21,414.34 L46.45,415.75 L44.28,415.62 L44.91,418.30 L47.24,419.12 L47.68,420.58 L45.73,421.01 L46.72,423.72 L48.92,423.99 L49.55,425.44 L47.87,426.42 L49.19,429.08 L51.20,428.78 L51.98,430.17 L50.65,431.67 L52.24,434.17 L53.98,433.32 L54.91,434.61 L53.95,436.57 L55.77,438.84 L57.19,437.47 L58.22,438.61 L57.68,440.97 L59.66,442.93 L60.71,441.07 L61.80,442.03 L61.70,444.70 L63.78,446.28 L64.41,444.01 L65.54,444.75 L65.88,447.65 L67.98,448.80 L68.19,446.19 L69.31,446.68 L70.07,449.71 L72.13,450.39 L71.89,447.53 L72.97,447.76 L74.13,450.82 L76.07,451.00 L75.41,447.99 L76.41,447.95 L77.93,450.93 L79.69,450.61 L78.62,447.54 L79.50,447.24 L81.33,450.04 L82.85,449.23 L81.40,446.22 L82.14,445.66 L84.22,448.18 L85.44,446.91 L83.68,444.06 L84.25,443.25 L86.50,445.42 L87.38,443.72 L85.36,441.13 L85.74,440.12 L88.09,441.84 L88.61,439.79 L86.39,437.54 L86.57,436.35 L88.94,437.58 L89.07,435.23Z M78.86,428.85 L78.80,427.39 L78.62,425.88 L78.32,424.33 L77.90,422.75 L77.37,421.16 L76.74,419.57 L76.01,418.01 L75.18,416.47 L74.27,414.99 L73.28,413.57 L72.22,412.23 L71.11,410.98 L69.95,409.83 L68.75,408.79 L67.53,407.88 L66.30,407.10 L65.07,406.46 L63.85,405.96 L62.65,405.62 L61.49,405.43 L60.38,405.39 L59.32,405.52 L58.33,405.79 L57.42,406.22 L56.59,406.80 L55.86,407.52 L55.23,408.37 L54.70,409.35 L54.28,410.45 L53.98,411.66 L53.80,412.96 L53.74,414.35 L53.80,415.81 L53.98,417.32 L54.28,418.87 L54.70,420.45 L55.23,422.04 L55.86,423.63 L56.59,425.19 L57.42,426.73 L58.33,428.21 L59.32,429.63 L60.38,430.97 L61.49,432.22 L62.65,433.37 L63.85,434.41 L65.07,435.32 L66.30,436.10 L67.53,436.74 L68.75,437.24 L69.95,437.58 L71.11,437.77 L72.22,437.81 L73.28,437.68 L74.27,437.41 L75.18,436.98 L76.01,436.40 L76.74,435.68 L77.37,434.83 L77.90,433.85 L78.32,432.75 L78.62,431.54 L78.80,430.24Z" fill="#fafcfa" stroke="#000" stroke-width="1.00" fill-rule="evenodd"/>
<ellipse cx="66.30" cy="421.60" rx="15.20" ry="26.33" transform="rotate(-30 66.30 421.60)" fill="none" stroke="#000" stroke-width="0.80" />
<rect x="80.4" y="424.5" width="2.8" height="2.4" fill="#222"/>
<rect x="69.0" y="404.9" width="2.8" height="2.4" fill="#222"/>
<rect x="53.6" y="400.8" width="2.8" height="2.4" fill="#222"/>
<rect x="49.4" y="416.3" width="2.8" height="2.4" fill="#222"/>
<rect x="60.8" y="435.9" width="2.8" height="2.4" fill="#222"/>
<rect x="76.2" y="440.0" width="2.8" height="2.4" fill="#222"/>
<polygon points="78.86,428.85 78.80,427.39 78.62,425.88 78.32,424.33 77.90,422.75 77.37,421.16 76.74,419.57 76.01,418.01 75.18,416.47 74.27,414.99 73.28,413.57 72.22,412.23 71.11,410.98 69.95,409.83 68.75,408.79 67.53,407.88 66.30,407.10 65.07,406.46 63.85,405.96 62.65,405.62 61.49,405.43 60.38,405.39 59.32,405.52 58.33,405.79 57.42,406.22 56.59,406.80 55.86,407.52 55.23,408.37 54.70,409.35 54.28,410.45 53.98,411.66 53.80,412.96 53.74,414.35 53.80,415.81 53.98,417.32 54.28,418.87 54.70,420.45 55.23,422.04 55.86,423.63 56.59,425.19 57.42,426.73 58.33,428.21 59.32,429.63 60.38,430.97 61.49,432.22 62.65,433.37 63.85,434.41 65.07,435.32 66.30,436.10 67.53,436.74 68.75,437.24 69.95,437.58 71.11,437.77 72.22,437.81 73.28,437.68 74.27,437.41 75.18,436.98 76.01,436.40 76.74,435.68 77.37,434.83 77.90,433.85 78.32,432.75 78.62,431.54 78.80,430.24" fill="#444" stroke="#000" stroke-width="1.25" stroke-linejoin="round" />
<g clip-path="url(#c4)"><line x1="59.88" y1="406.80" x2="68.54" y2="401.80" stroke="#e8e8e8" stroke-width="1.1"/><line x1="56.69" y1="408.64" x2="65.35" y2="403.64" stroke="#e8e8e8" stroke-width="1.1"/><line x1="54.97" y1="412.46" x2="63.63" y2="407.46" stroke="#e8e8e8" stroke-width="1.1"/><line x1="54.97" y1="417.66" x2="63.63" y2="412.66" stroke="#e8e8e8" stroke-width="1.1"/><line x1="56.69" y1="423.47" x2="65.35" y2="418.47" stroke="#e8e8e8" stroke-width="1.1"/><line x1="59.88" y1="428.99" x2="68.54" y2="423.99" stroke="#e8e8e8" stroke-width="1.1"/><line x1="64.05" y1="433.38" x2="72.71" y2="428.38" stroke="#e8e8e8" stroke-width="1.1"/><line x1="68.55" y1="435.98" x2="77.21" y2="430.98" stroke="#e8e8e8" stroke-width="1.1"/><line x1="72.72" y1="436.40" x2="81.38" y2="431.40" stroke="#e8e8e8" stroke-width="1.1"/><line x1="75.91" y1="434.56" x2="84.57" y2="429.56" stroke="#e8e8e8" stroke-width="1.1"/></g>
<polygon points="77.10,427.84 76.97,425.86 78.64,426.07 78.05,423.26 76.28,422.59 75.53,420.46 76.82,419.76 75.45,416.96 73.94,417.19 72.68,415.23 73.40,413.74 71.47,411.37 70.43,412.47 68.86,410.97 68.89,408.91 66.69,407.33 66.30,409.13 64.65,408.32 64.00,406.02 61.86,405.47 62.17,407.69 60.69,407.71 59.45,405.49 57.70,406.07 58.66,408.37 57.59,409.20 55.94,407.42 54.86,409.03 56.32,411.07 55.81,412.58 54.01,411.51 53.75,413.90 55.50,415.37 55.63,417.34 53.96,417.13 54.55,419.94 56.32,420.61 57.07,422.74 55.78,423.44 57.15,426.24 58.66,426.01 59.92,427.97 59.20,429.46 61.13,431.83 62.17,430.73 63.74,432.23 63.71,434.29 65.91,435.87 66.30,434.07 67.95,434.88 68.60,437.18 70.74,437.73 70.43,435.51 71.91,435.49 73.15,437.71 74.90,437.13 73.94,434.83 75.01,434.00 76.66,435.78 77.74,434.17 76.28,432.13 76.79,430.62 78.59,431.69 78.85,429.30" fill="none" stroke="#e8e8e8" stroke-width="0.70" stroke-linejoin="round" />
<polygon points="179.10,402.59 180.88,401.35 182.46,399.80 183.82,397.97 184.95,395.85 185.85,393.49 186.49,390.89 186.88,388.08 187.01,385.10 186.88,381.97 186.49,378.71 185.85,375.37 184.95,371.97 183.82,368.55 182.46,365.14 180.88,361.77 179.10,358.47 177.13,355.28 175.00,352.23 172.73,349.34 170.33,346.64 167.83,344.17 165.26,341.94 162.64,339.98 159.99,338.30 157.34,336.92 154.72,335.86 152.15,335.12 149.65,334.71 147.25,334.63 144.98,334.89 142.85,335.49 140.88,336.41 144.35,334.41 146.31,333.49 148.44,332.89 150.72,332.63 153.11,332.71 155.61,333.12 158.18,333.86 160.81,334.92 163.45,336.30 166.10,337.98 168.73,339.94 171.30,342.17 173.79,344.64 176.19,347.34 178.47,350.23 180.60,353.28 182.56,356.47 184.34,359.77 185.92,363.14 187.28,366.55 188.42,369.97 189.31,373.37 189.96,376.71 190.34,379.97 190.47,383.10 190.34,386.08 189.96,388.89 189.31,391.49 188.42,393.85 187.28,395.97 185.92,397.80 184.34,399.35 182.56,400.59" fill="#555" stroke="none" stroke-width="0.00" stroke-linejoin="round" />
<polygon points="178.08,405.75 177.36,403.43 180.82,401.43 181.55,403.75" fill="#fafcfa" stroke="#000" stroke-width="1.00" stroke-linejoin="round" />
<polygon points="141.56,336.04 140.02,334.09 143.48,332.09 145.03,334.04" fill="#fafcfa" stroke="#000" stroke-width="1.00" stroke-linejoin="round" />
<polygon points="179.96,404.91 181.69,403.81 185.15,401.81 183.43,402.91" fill="#fafcfa" stroke="#000" stroke-width="1.00" stroke-linejoin="round" />
<polygon points="142.62,335.57 141.56,336.04 145.03,334.04 146.09,333.57" fill="#555" stroke="#000" stroke-width="0.70" stroke-linejoin="round" />
<polygon points="181.69,403.81 180.69,401.51 184.15,399.51 185.15,401.81" fill="#fafcfa" stroke="#000" stroke-width="1.00" stroke-linejoin="round" />
<polygon points="180.69,401.51 181.57,400.74 185.03,398.74 184.15,399.51" fill="#555" stroke="#000" stroke-width="0.70" stroke-linejoin="round" />
<polygon points="143.91,332.69 141.90,333.25 145.36,331.25 147.38,330.69" fill="#fafcfa" stroke="#000" stroke-width="1.00" stroke-linejoin="round" />
<polygon points="145.27,334.84 143.91,332.69 147.38,330.69 148.74,332.84" fill="#fafcfa" stroke="#000" stroke-width="1.00" stroke-linejoin="round" />
<polygon points="183.25,402.44 184.64,400.83 188.10,398.83 186.72,400.44" fill="#fafcfa" stroke="#000" stroke-width="1.00" stroke-linejoin="round" />
<polygon points="146.48,334.68 145.27,334.84 148.74,332.84 149.94,332.68" fill="#555" stroke="#000" stroke-width="0.70" stroke-linejoin="round" />
<polygon points="184.64,400.83 183.39,398.61 186.85,396.61 188.10,398.83" fill="#fafcfa" stroke="#000" stroke-width="1.00" stroke-linejoin="round" />
<polygon points="183.39,398.61 184.07,397.56 187.53,395.56 186.85,396.61" fill="#555" stroke="#000" stroke-width="0.70" stroke-linejoin="round" />
<polygon points="148.30,332.42 146.05,332.41 149.52,330.41 151.76,330.42" fill="#fafcfa" stroke="#000" stroke-width="1.00" stroke-linejoin="round" />
<polygon points="149.43,334.68 148.30,332.42 151.76,330.42 152.90,332.68" fill="#fafcfa" stroke="#000" stroke-width="1.00" stroke-linejoin="round" />
<polygon points="185.83,398.97 186.83,396.90 190.30,394.90 189.30,396.97" fill="#fafcfa" stroke="#000" stroke-width="1.00" stroke-linejoin="round" />
<polygon points="150.75,334.85 149.43,334.68 152.90,332.68 154.21,332.85" fill="#555" stroke="#000" stroke-width="0.70" stroke-linejoin="round" />
<polygon points="186.83,396.90 185.38,394.83 188.84,392.83 190.30,394.90" fill="#fafcfa" stroke="#000" stroke-width="1.00" stroke-linejoin="round" />
<polygon points="185.38,394.83 185.83,393.54 189.29,391.54 188.84,392.83" fill="#555" stroke="#000" stroke-width="0.70" stroke-linejoin="round" />
<polygon points="153.03,333.27 150.63,332.70 154.09,330.70 156.50,331.27" fill="#fafcfa" stroke="#000" stroke-width="1.00" stroke-linejoin="round" />
<polygon points="153.91,335.59 153.03,333.27 156.50,331.27 157.38,333.59" fill="#fafcfa" stroke="#000" stroke-width="1.00" stroke-linejoin="round" />
<polygon points="155.30,336.07 153.91,335.59 157.38,333.59 158.76,334.07" fill="#555" stroke="#000" stroke-width="0.70" stroke-linejoin="round" />
<polygon points="187.63,394.61 188.21,392.13 191.68,390.13 191.09,392.61" fill="#fafcfa" stroke="#000" stroke-width="1.00" stroke-linejoin="round" />
<polygon points="188.21,392.13 186.60,390.28 190.06,388.28 191.68,390.13" fill="#fafcfa" stroke="#000" stroke-width="1.00" stroke-linejoin="round" />
<polygon points="186.60,390.28 186.81,388.79 190.27,386.79 190.06,388.28" fill="#555" stroke="#000" stroke-width="0.70" stroke-linejoin="round" />
<polygon points="157.98,335.22 155.49,334.11 158.96,332.11 161.45,333.22" fill="#fafcfa" stroke="#000" stroke-width="1.00" stroke-linejoin="round" />
<polygon points="158.58,337.53 157.98,335.22 161.45,333.22 162.04,335.53" fill="#fafcfa" stroke="#000" stroke-width="1.00" stroke-linejoin="round" />
<polygon points="159.99,338.30 158.58,337.53 162.04,335.53 163.45,336.30" fill="#555" stroke="#000" stroke-width="0.70" stroke-linejoin="round" />
<polygon points="188.58,389.48 188.74,386.68 192.20,384.68 192.05,387.48" fill="#fafcfa" stroke="#000" stroke-width="1.00" stroke-linejoin="round" />
<polygon points="188.74,386.68 187.01,385.10 190.47,383.10 192.20,384.68" fill="#fafcfa" stroke="#000" stroke-width="1.00" stroke-linejoin="round" />
<polygon points="187.01,385.10 186.97,383.45 190.44,381.45 190.47,383.10" fill="#555" stroke="#000" stroke-width="0.70" stroke-linejoin="round" />
<polygon points="163.00,338.22 160.49,336.59 163.96,334.59 166.46,336.22" fill="#fafcfa" stroke="#000" stroke-width="1.00" stroke-linejoin="round" />
<polygon points="164.68,341.48 163.28,340.43 166.75,338.43 168.15,339.48" fill="#555" stroke="#000" stroke-width="0.70" stroke-linejoin="round" />
<polygon points="163.28,340.43 163.00,338.22 166.46,336.22 166.75,338.43" fill="#fafcfa" stroke="#000" stroke-width="1.00" stroke-linejoin="round" />
<polygon points="188.67,383.74 188.39,380.70 191.85,378.70 192.14,381.74" fill="#fafcfa" stroke="#000" stroke-width="1.00" stroke-linejoin="round" />
<polygon points="186.60,379.45 186.32,377.68 189.78,375.68 190.06,377.45" fill="#555" stroke="#000" stroke-width="0.70" stroke-linejoin="round" />
<polygon points="188.39,380.70 186.60,379.45 190.06,377.45 191.85,378.70" fill="#fafcfa" stroke="#000" stroke-width="1.00" stroke-linejoin="round" />
<polygon points="169.23,345.52 167.89,344.22 171.35,342.22 172.70,343.52" fill="#555" stroke="#000" stroke-width="0.70" stroke-linejoin="round" />
<polygon points="167.92,342.16 165.48,340.08 168.94,338.08 171.38,340.16" fill="#fafcfa" stroke="#000" stroke-width="1.00" stroke-linejoin="round" />
<polygon points="167.89,344.22 167.92,342.16 171.38,340.16 171.35,342.22" fill="#fafcfa" stroke="#000" stroke-width="1.00" stroke-linejoin="round" />
<polygon points="185.38,373.49 184.86,371.67 188.33,369.67 188.84,371.49" fill="#555" stroke="#000" stroke-width="0.70" stroke-linejoin="round" />
<polygon points="187.18,374.39 185.38,373.49 188.84,371.49 190.64,372.39" fill="#fafcfa" stroke="#000" stroke-width="1.00" stroke-linejoin="round" />
<polygon points="187.89,377.58 187.18,374.39 190.64,372.39 191.35,375.58" fill="#fafcfa" stroke="#000" stroke-width="1.00" stroke-linejoin="round" />
<polygon points="173.50,350.28 172.26,348.78 175.72,346.78 176.96,348.28" fill="#555" stroke="#000" stroke-width="0.70" stroke-linejoin="round" />
<polygon points="183.39,367.41 182.65,365.59 186.12,363.59 186.85,365.41" fill="#555" stroke="#000" stroke-width="0.70" stroke-linejoin="round" />
<polygon points="172.26,348.78 172.59,346.94 176.06,344.94 175.72,346.78" fill="#fafcfa" stroke="#000" stroke-width="1.00" stroke-linejoin="round" />
<polygon points="172.59,346.94 170.29,344.45 173.76,342.45 176.06,344.94" fill="#fafcfa" stroke="#000" stroke-width="1.00" stroke-linejoin="round" />
<polygon points="177.36,355.63 176.25,353.97 179.72,351.97 180.82,353.63" fill="#555" stroke="#000" stroke-width="0.70" stroke-linejoin="round" />
<polygon points="185.14,367.92 183.39,367.41 186.85,365.41 188.60,365.92" fill="#fafcfa" stroke="#000" stroke-width="1.00" stroke-linejoin="round" />
<polygon points="180.69,361.40 179.75,359.63 183.22,357.63 184.15,359.40" fill="#555" stroke="#000" stroke-width="0.70" stroke-linejoin="round" />
<polygon points="174.80,349.59 173.50,350.28 176.96,348.28 178.26,347.59" fill="#fafcfa" stroke="#000" stroke-width="1.00" stroke-linejoin="round" />
<polygon points="186.26,371.16 185.14,367.92 188.60,365.92 189.72,369.16" fill="#fafcfa" stroke="#000" stroke-width="1.00" stroke-linejoin="round" />
<polygon points="182.65,365.59 183.83,364.70 187.29,362.70 186.12,363.59" fill="#fafcfa" stroke="#000" stroke-width="1.00" stroke-linejoin="round" />
<polygon points="176.25,353.97 176.89,352.40 180.35,350.40 179.72,351.97" fill="#fafcfa" stroke="#000" stroke-width="1.00" stroke-linejoin="round" />
<polygon points="182.33,361.51 180.69,361.40 184.15,359.40 185.80,359.51" fill="#fafcfa" stroke="#000" stroke-width="1.00" stroke-linejoin="round" />
<polygon points="178.85,355.33 177.36,355.63 180.82,353.63 182.32,353.33" fill="#fafcfa" stroke="#000" stroke-width="1.00" stroke-linejoin="round" />
<polygon points="179.75,359.63 180.67,358.38 184.14,356.38 183.22,357.63" fill="#fafcfa" stroke="#000" stroke-width="1.00" stroke-linejoin="round" />
<polygon points="176.89,352.40 174.80,349.59 178.26,347.59 180.35,350.40" fill="#fafcfa" stroke="#000" stroke-width="1.00" stroke-linejoin="round" />
<polygon points="183.83,364.70 182.33,361.51 185.80,359.51 187.29,362.70" fill="#fafcfa" stroke="#000" stroke-width="1.00" stroke-linejoin="round" />
<polygon points="180.67,358.38 178.85,355.33 182.32,353.33 184.14,356.38" fill="#fafcfa" stroke="#000" stroke-width="1.00" stroke-linejoin="round" />
<polygon points="187.01,385.10 186.97,383.45 188.67,383.74 188.39,380.70 186.60,379.45 186.32,377.68 187.89,377.58 187.18,374.39 185.38,373.49 184.86,371.67 186.26,371.16 185.14,367.92 183.39,367.41 182.65,365.59 183.83,364.70 182.33,361.51 180.69,361.40 179.75,359.63 180.67,358.38 178.85,355.33 177.36,355.63 176.25,353.97 176.89,352.40 174.80,349.59 173.50,350.28 172.26,348.78 172.59,346.94 170.29,344.45 169.23,345.52 167.89,344.22 167.92,342.16 165.48,340.08 164.68,341.48 163.28,340.43 163.00,338.22 160.49,336.59 159.99,338.30 158.58,337.53 157.98,335.22 155.49,334.11 155.30,336.07 153.91,335.59 153.03,333.27 150.63,332.70 150.75,334.85 149.43,334.68 148.30,332.42 146.05,332.41 146.48,334.68 145.27,334.84 143.91,332.69 141.90,333.25 142.62,335.57 141.56,336.04 140.02,334.09 138.29,335.19 139.29,337.49 138.41,338.26 136.73,336.56 135.35,338.17 136.59,340.39 135.92,341.44 134.15,340.03 133.15,342.10 134.60,344.17 134.15,345.46 132.35,344.39 131.77,346.87 133.38,348.72 133.17,350.21 131.40,349.52 131.24,352.32 132.97,353.90 133.01,355.55 131.31,355.26 131.59,358.30 133.38,359.55 133.66,361.32 132.09,361.42 132.80,364.61 134.60,365.51 135.12,367.33 133.72,367.84 134.84,371.08 136.59,371.59 137.33,373.41 136.15,374.30 137.65,377.49 139.29,377.60 140.23,379.37 139.31,380.62 141.13,383.67 142.62,383.37 143.73,385.03 143.09,386.60 145.18,389.41 146.48,388.72 147.72,390.22 147.39,392.06 149.69,394.55 150.75,393.48 152.09,394.78 152.07,396.84 154.50,398.92 155.30,397.52 156.70,398.57 156.98,400.78 159.49,402.41 159.99,400.70 161.40,401.47 162.00,403.78 164.49,404.89 164.68,402.93 166.07,403.41 166.95,405.73 169.35,406.30 169.23,404.15 170.55,404.32 171.68,406.58 173.93,406.59 173.50,404.32 174.71,404.16 176.07,406.31 178.08,405.75 177.36,403.43 178.42,402.96 179.96,404.91 181.69,403.81 180.69,401.51 181.57,400.74 183.25,402.44 184.64,400.83 183.39,398.61 184.07,397.56 185.83,398.97 186.83,396.90 185.38,394.83 185.83,393.54 187.63,394.61 188.21,392.13 186.60,390.28 186.81,388.79 188.58,389.48 188.74,386.68" fill="#fafcfa" stroke="#000" stroke-width="1.00" stroke-linejoin="round" />
<polygon points="168.46,408.17 170.22,406.94 171.78,405.42 173.12,403.60 174.24,401.51 175.12,399.18 175.76,396.61 176.14,393.84 176.27,390.90 176.14,387.81 175.76,384.60 175.12,381.30 174.24,377.94 173.12,374.56 171.78,371.19 170.22,367.87 168.46,364.61 166.52,361.46 164.42,358.45 162.17,355.60 159.81,352.94 157.34,350.50 154.80,348.30 152.21,346.36 149.60,344.70 146.98,343.34 144.39,342.29 141.86,341.56 139.39,341.15 137.02,341.08 134.78,341.33 132.68,341.92 130.74,342.83 141.13,336.83 143.07,335.92 145.17,335.33 147.42,335.08 149.78,335.15 152.25,335.56 154.79,336.29 157.38,337.34 159.99,338.70 162.60,340.36 165.19,342.30 167.73,344.50 170.20,346.94 172.56,349.60 174.81,352.45 176.91,355.46 178.85,358.61 180.61,361.87 182.17,365.19 183.51,368.56 184.63,371.94 185.52,375.30 186.15,378.60 186.54,381.81 186.66,384.90 186.54,387.84 186.15,390.61 185.52,393.18 184.63,395.51 183.51,397.60 182.17,399.42 180.61,400.94 178.85,402.17" fill="#fafcfa" stroke="#000" stroke-width="1.25" stroke-linejoin="round" />
<polyline points="168.04,408.24 170.69,406.82 172.97,404.79 174.82,402.18 176.22,399.06 177.13,395.46 177.55,391.48 177.45,387.17 176.85,382.63 175.76,377.94 174.19,373.19 172.18,368.46 169.76,363.86 166.98,359.46 163.90,355.36 160.56,351.63 157.05,348.33 153.42,345.54 149.73,343.31 146.07,341.67 142.51,340.67 139.10,340.32 135.92,340.62 133.02,341.57 130.46,343.16" fill="none" stroke="#000" stroke-width="1.50" stroke-linejoin="round" />
<polyline points="170.64,406.74 173.29,405.32 175.57,403.29 177.42,400.68 178.81,397.56 179.73,393.96 180.14,389.98 180.05,385.67 179.45,381.13 178.36,376.44 176.79,371.69 174.77,366.96 172.36,362.36 169.58,357.96 166.49,353.86 163.16,350.13 159.65,346.83 156.01,344.04 152.33,341.81 148.67,340.17 145.11,339.17 141.70,338.82 138.52,339.12 135.62,340.07 133.06,341.66" fill="none" stroke="#000" stroke-width="1.50" stroke-linejoin="round" />
<polyline points="173.24,405.24 175.89,403.82 178.16,401.79 180.02,399.18 181.41,396.06 182.33,392.46 182.74,388.48 182.65,384.17 182.05,379.63 180.95,374.94 179.38,370.19 177.37,365.46 174.95,360.86 172.18,356.46 169.09,352.36 165.76,348.63 162.24,345.33 158.61,342.54 154.93,340.31 151.27,338.67 147.70,337.67 144.30,337.32 141.11,337.62 138.22,338.57 135.66,340.16" fill="none" stroke="#000" stroke-width="1.50" stroke-linejoin="round" />
<polyline points="175.84,403.74 178.49,402.32 180.76,400.29 182.61,397.68 184.01,394.56 184.93,390.96 185.34,386.98 185.25,382.67 184.65,378.13 183.55,373.44 181.98,368.69 179.97,363.96 177.55,359.36 174.77,354.96 171.69,350.86 168.36,347.13 164.84,343.83 161.21,341.04 157.53,338.81 153.87,337.17 150.30,336.17 146.89,335.82 143.71,336.12 140.81,337.07 138.26,338.66" fill="none" stroke="#000" stroke-width="1.50" stroke-linejoin="round" />
<ellipse cx="149.60" cy="375.50" rx="21.78" ry="37.72" transform="rotate(-30 149.60 375.50)" fill="#fafcfa" stroke="#000" stroke-width="1.20" />
<polygon points="163.17,405.00 164.67,403.95 166.01,402.64 167.16,401.09 168.12,399.30 168.88,397.30 169.42,395.10 169.75,392.72 169.86,390.20 169.75,387.55 169.42,384.80 168.88,381.97 168.12,379.09 167.16,376.20 166.01,373.31 164.67,370.46 163.17,367.67 161.50,364.97 159.70,362.38 157.78,359.94 155.75,357.66 153.64,355.57 151.46,353.68 149.24,352.02 147.00,350.60 144.76,349.43 142.54,348.53 140.36,347.91 138.25,347.56 136.22,347.49 134.30,347.72 132.50,348.22 130.83,349.00 133.43,347.50 135.09,346.72 136.90,346.22 138.82,345.99 140.85,346.06 142.96,346.41 145.14,347.03 147.36,347.93 149.60,349.10 151.84,350.52 154.06,352.18 156.23,354.07 158.35,356.16 160.38,358.44 162.30,360.88 164.10,363.47 165.76,366.17 167.27,368.96 168.61,371.81 169.76,374.70 170.72,377.59 171.48,380.47 172.02,383.30 172.35,386.05 172.46,388.70 172.35,391.22 172.02,393.60 171.48,395.80 170.72,397.80 169.76,399.59 168.61,401.14 167.27,402.45 165.76,403.50" fill="#555" stroke="none" stroke-width="0.00" stroke-linejoin="round" />
<polygon points="129.91,349.60 127.90,347.14 130.50,345.64 132.51,348.10" fill="#fafcfa" stroke="#000" stroke-width="1.00" stroke-linejoin="round" />
<polygon points="164.41,407.95 163.17,405.00 165.76,403.50 167.00,406.45" fill="#fafcfa" stroke="#000" stroke-width="1.00" stroke-linejoin="round" />
<polygon points="163.17,405.00 164.09,404.40 166.69,402.90 165.76,403.50" fill="#555" stroke="#000" stroke-width="0.70" stroke-linejoin="round" />
<polygon points="131.45,345.25 129.59,346.05 132.19,344.55 134.05,343.75" fill="#fafcfa" stroke="#000" stroke-width="1.00" stroke-linejoin="round" />
<polygon points="133.20,347.98 131.45,345.25 134.05,343.75 135.80,346.48" fill="#fafcfa" stroke="#000" stroke-width="1.00" stroke-linejoin="round" />
<polygon points="166.10,406.86 167.60,405.48 170.20,403.98 168.70,405.36" fill="#fafcfa" stroke="#000" stroke-width="1.00" stroke-linejoin="round" />
<polygon points="134.30,347.72 133.20,347.98 135.80,346.48 136.90,346.22" fill="#555" stroke="#000" stroke-width="0.70" stroke-linejoin="round" />
<polygon points="167.60,405.48 166.01,402.64 168.61,401.14 170.20,403.98" fill="#fafcfa" stroke="#000" stroke-width="1.00" stroke-linejoin="round" />
<polygon points="166.01,402.64 166.72,401.74 169.32,400.24 168.61,401.14" fill="#555" stroke="#000" stroke-width="0.70" stroke-linejoin="round" />
<polygon points="135.60,344.58 133.46,344.76 136.06,343.26 138.20,343.08" fill="#fafcfa" stroke="#000" stroke-width="1.00" stroke-linejoin="round" />
<polygon points="137.02,347.49 135.60,344.58 138.20,343.08 139.62,345.99" fill="#fafcfa" stroke="#000" stroke-width="1.00" stroke-linejoin="round" />
<polygon points="168.91,403.82 170.01,401.91 172.61,400.41 171.51,402.32" fill="#fafcfa" stroke="#000" stroke-width="1.00" stroke-linejoin="round" />
<polygon points="138.25,347.56 137.02,347.49 139.62,345.99 140.85,346.06" fill="#555" stroke="#000" stroke-width="0.70" stroke-linejoin="round" />
<polygon points="170.01,401.91 168.12,399.30 170.72,397.80 172.61,400.41" fill="#fafcfa" stroke="#000" stroke-width="1.00" stroke-linejoin="round" />
<polygon points="168.12,399.30 168.60,398.12 171.20,396.62 170.72,397.80" fill="#555" stroke="#000" stroke-width="0.70" stroke-linejoin="round" />
<polygon points="140.18,345.15 137.85,344.71 140.44,343.21 142.78,343.65" fill="#fafcfa" stroke="#000" stroke-width="1.00" stroke-linejoin="round" />
<polygon points="141.23,348.12 140.18,345.15 142.78,343.65 143.83,346.62" fill="#fafcfa" stroke="#000" stroke-width="1.00" stroke-linejoin="round" />
<polygon points="142.54,348.53 141.23,348.12 143.83,346.62 145.14,347.03" fill="#555" stroke="#000" stroke-width="0.70" stroke-linejoin="round" />
<polygon points="170.89,399.75 171.53,397.38 174.13,395.88 173.48,398.25" fill="#fafcfa" stroke="#000" stroke-width="1.00" stroke-linejoin="round" />
<polygon points="171.53,397.38 169.42,395.10 172.02,393.60 174.13,395.88" fill="#fafcfa" stroke="#000" stroke-width="1.00" stroke-linejoin="round" />
<polygon points="169.42,395.10 169.65,393.69 172.25,392.19 172.02,393.60" fill="#555" stroke="#000" stroke-width="0.70" stroke-linejoin="round" />
<polygon points="145.03,346.95 142.58,345.90 145.18,344.40 147.63,345.45" fill="#fafcfa" stroke="#000" stroke-width="1.00" stroke-linejoin="round" />
<polygon points="147.00,350.60 145.65,349.87 148.25,348.37 149.60,349.10" fill="#555" stroke="#000" stroke-width="0.70" stroke-linejoin="round" />
<polygon points="145.65,349.87 145.03,346.95 147.63,345.45 148.25,348.37" fill="#fafcfa" stroke="#000" stroke-width="1.00" stroke-linejoin="round" />
<polygon points="171.94,394.81 172.11,392.07 174.71,390.57 174.54,393.31" fill="#fafcfa" stroke="#000" stroke-width="1.00" stroke-linejoin="round" />
<polygon points="169.86,390.20 169.82,388.62 172.42,387.12 172.46,388.70" fill="#555" stroke="#000" stroke-width="0.70" stroke-linejoin="round" />
<polygon points="172.11,392.07 169.86,390.20 172.46,388.70 174.71,390.57" fill="#fafcfa" stroke="#000" stroke-width="1.00" stroke-linejoin="round" />
<polygon points="151.46,353.68 150.13,352.66 152.73,351.16 154.06,352.18" fill="#555" stroke="#000" stroke-width="0.70" stroke-linejoin="round" />
<polygon points="149.95,349.91 147.49,348.29 150.09,346.79 152.55,348.41" fill="#fafcfa" stroke="#000" stroke-width="1.00" stroke-linejoin="round" />
<polygon points="150.13,352.66 149.95,349.91 152.55,348.41 152.73,351.16" fill="#fafcfa" stroke="#000" stroke-width="1.00" stroke-linejoin="round" />
<polygon points="169.42,384.80 169.12,383.11 171.72,381.61 172.02,383.30" fill="#555" stroke="#000" stroke-width="0.70" stroke-linejoin="round" />
<polygon points="171.72,386.18 169.42,384.80 172.02,383.30 174.32,384.68" fill="#fafcfa" stroke="#000" stroke-width="1.00" stroke-linejoin="round" />
<polygon points="172.04,389.18 171.72,386.18 174.32,384.68 174.64,387.68" fill="#fafcfa" stroke="#000" stroke-width="1.00" stroke-linejoin="round" />
<polygon points="155.75,357.66 154.49,356.38 157.09,354.88 158.35,356.16" fill="#555" stroke="#000" stroke-width="0.70" stroke-linejoin="round" />
<polygon points="168.12,379.09 167.57,377.36 170.17,375.86 170.72,377.59" fill="#555" stroke="#000" stroke-width="0.70" stroke-linejoin="round" />
<polygon points="154.49,356.38 154.76,353.90 157.36,352.40 157.09,354.88" fill="#fafcfa" stroke="#000" stroke-width="1.00" stroke-linejoin="round" />
<polygon points="154.76,353.90 152.38,351.78 154.98,350.28 157.36,352.40" fill="#fafcfa" stroke="#000" stroke-width="1.00" stroke-linejoin="round" />
<polygon points="170.39,379.93 168.12,379.09 170.72,377.59 172.99,378.43" fill="#fafcfa" stroke="#000" stroke-width="1.00" stroke-linejoin="round" />
<polygon points="159.70,362.38 158.56,360.90 161.16,359.40 162.30,360.88" fill="#555" stroke="#000" stroke-width="0.70" stroke-linejoin="round" />
<polygon points="171.17,383.08 170.39,379.93 172.99,378.43 173.77,381.58" fill="#fafcfa" stroke="#000" stroke-width="1.00" stroke-linejoin="round" />
<polygon points="166.01,373.31 165.23,371.59 167.83,370.09 168.61,371.81" fill="#555" stroke="#000" stroke-width="0.70" stroke-linejoin="round" />
<polygon points="163.17,367.67 162.19,366.03 164.78,364.53 165.76,366.17" fill="#555" stroke="#000" stroke-width="0.70" stroke-linejoin="round" />
<polygon points="158.56,360.90 159.27,358.78 161.87,357.28 161.16,359.40" fill="#fafcfa" stroke="#000" stroke-width="1.00" stroke-linejoin="round" />
<polygon points="168.15,373.58 166.01,373.31 168.61,371.81 170.75,372.08" fill="#fafcfa" stroke="#000" stroke-width="1.00" stroke-linejoin="round" />
<polygon points="161.36,361.50 159.70,362.38 162.30,360.88 163.96,360.00" fill="#fafcfa" stroke="#000" stroke-width="1.00" stroke-linejoin="round" />
<polygon points="159.27,358.78 157.06,356.24 159.66,354.74 161.87,357.28" fill="#fafcfa" stroke="#000" stroke-width="1.00" stroke-linejoin="round" />
<polygon points="165.23,371.59 166.72,370.43 169.32,368.93 167.83,370.09" fill="#fafcfa" stroke="#000" stroke-width="1.00" stroke-linejoin="round" />
<polygon points="162.19,366.03 163.31,364.37 165.91,362.87 164.78,364.53" fill="#fafcfa" stroke="#000" stroke-width="1.00" stroke-linejoin="round" />
<polygon points="165.10,367.35 163.17,367.67 165.76,366.17 167.70,365.85" fill="#fafcfa" stroke="#000" stroke-width="1.00" stroke-linejoin="round" />
<polygon points="169.38,376.75 168.15,373.58 170.75,372.08 171.98,375.25" fill="#fafcfa" stroke="#000" stroke-width="1.00" stroke-linejoin="round" />
<polygon points="163.31,364.37 161.36,361.50 163.96,360.00 165.91,362.87" fill="#fafcfa" stroke="#000" stroke-width="1.00" stroke-linejoin="round" />
<polygon points="166.72,370.43 165.10,367.35 167.70,365.85 169.32,368.93" fill="#fafcfa" stroke="#000" stroke-width="1.00" stroke-linejoin="round" />
<path d="M169.86,390.20 L169.82,388.62 L172.04,389.18 L171.72,386.18 L169.42,384.80 L169.12,383.11 L171.17,383.08 L170.39,379.93 L168.12,379.09 L167.57,377.36 L169.38,376.75 L168.15,373.58 L166.01,373.31 L165.23,371.59 L166.72,370.43 L165.10,367.35 L163.17,367.67 L162.19,366.03 L163.31,364.37 L161.36,361.50 L159.70,362.38 L158.56,360.90 L159.27,358.78 L157.06,356.24 L155.75,357.66 L154.49,356.38 L154.76,353.90 L152.38,351.78 L151.46,353.68 L150.13,352.66 L149.95,349.91 L147.49,348.29 L147.00,350.60 L145.65,349.87 L145.03,346.95 L142.58,345.90 L142.54,348.53 L141.23,348.12 L140.18,345.15 L137.85,344.71 L138.25,347.56 L137.02,347.49 L135.60,344.58 L133.46,344.76 L134.30,347.72 L133.20,347.98 L131.45,345.25 L129.59,346.05 L130.83,349.00 L129.91,349.60 L127.90,347.14 L126.40,348.52 L127.99,351.36 L127.28,352.26 L125.09,350.18 L123.99,352.09 L125.88,354.70 L125.40,355.88 L123.11,354.25 L122.47,356.62 L124.58,358.90 L124.35,360.31 L122.06,359.19 L121.89,361.93 L124.14,363.80 L124.18,365.38 L121.96,364.82 L122.28,367.82 L124.58,369.20 L124.88,370.89 L122.83,370.92 L123.61,374.07 L125.88,374.91 L126.43,376.64 L124.62,377.25 L125.85,380.42 L127.99,380.69 L128.77,382.41 L127.28,383.57 L128.90,386.65 L130.83,386.33 L131.81,387.97 L130.69,389.63 L132.64,392.50 L134.30,391.62 L135.44,393.10 L134.73,395.22 L136.94,397.76 L138.25,396.34 L139.51,397.62 L139.24,400.10 L141.62,402.22 L142.54,400.32 L143.87,401.34 L144.05,404.09 L146.51,405.71 L147.00,403.40 L148.35,404.13 L148.97,407.05 L151.42,408.10 L151.46,405.47 L152.77,405.88 L153.82,408.85 L156.15,409.29 L155.75,406.44 L156.98,406.51 L158.40,409.42 L160.54,409.24 L159.70,406.28 L160.80,406.02 L162.55,408.75 L164.41,407.95 L163.17,405.00 L164.09,404.40 L166.10,406.86 L167.60,405.48 L166.01,402.64 L166.72,401.74 L168.91,403.82 L170.01,401.91 L168.12,399.30 L168.60,398.12 L170.89,399.75 L171.53,397.38 L169.42,395.10 L169.65,393.69 L171.94,394.81 L172.11,392.07Z M159.56,384.25 L159.50,382.79 L159.32,381.28 L159.02,379.73 L158.60,378.15 L158.07,376.56 L157.44,374.97 L156.71,373.41 L155.88,371.87 L154.97,370.39 L153.98,368.97 L152.92,367.63 L151.81,366.38 L150.65,365.23 L149.45,364.19 L148.23,363.28 L147.00,362.50 L145.77,361.86 L144.55,361.36 L143.35,361.02 L142.19,360.83 L141.08,360.79 L140.02,360.92 L139.03,361.19 L138.12,361.62 L137.29,362.20 L136.56,362.92 L135.93,363.77 L135.40,364.75 L134.98,365.85 L134.68,367.06 L134.50,368.36 L134.44,369.75 L134.50,371.21 L134.68,372.72 L134.98,374.27 L135.40,375.85 L135.93,377.44 L136.56,379.03 L137.29,380.59 L138.12,382.13 L139.03,383.61 L140.02,385.03 L141.08,386.37 L142.19,387.62 L143.35,388.77 L144.55,389.81 L145.77,390.72 L147.00,391.50 L148.23,392.14 L149.45,392.64 L150.65,392.98 L151.81,393.17 L152.92,393.21 L153.98,393.08 L154.97,392.81 L155.88,392.38 L156.71,391.80 L157.44,391.08 L158.07,390.23 L158.60,389.25 L159.02,388.15 L159.32,386.94 L159.50,385.64Z" fill="#fafcfa" stroke="#000" stroke-width="1.00" fill-rule="evenodd"/>
<ellipse cx="147.00" cy="377.00" rx="17.32" ry="30.01" transform="rotate(-30 147.00 377.00)" fill="none" stroke="#000" stroke-width="0.90" />
<rect x="162.4" y="378.5" width="2.6" height="2.2" fill="#222"/>
<rect x="153.2" y="361.7" width="2.6" height="2.2" fill="#222"/>
<rect x="139.6" y="353.1" width="2.6" height="2.2" fill="#222"/>
<rect x="129.6" y="357.9" width="2.6" height="2.2" fill="#222"/>
<rect x="129.0" y="373.3" width="2.6" height="2.2" fill="#222"/>
<rect x="138.2" y="390.1" width="2.6" height="2.2" fill="#222"/>
<rect x="151.8" y="398.7" width="2.6" height="2.2" fill="#222"/>
<rect x="161.8" y="393.9" width="2.6" height="2.2" fill="#222"/>
<polygon points="159.56,384.25 159.50,382.79 159.32,381.28 159.02,379.73 158.60,378.15 158.07,376.56 157.44,374.97 156.71,373.41 155.88,371.87 154.97,370.39 153.98,368.97 152.92,367.63 151.81,366.38 150.65,365.23 149.45,364.19 148.23,363.28 147.00,362.50 145.77,361.86 144.55,361.36 143.35,361.02 142.19,360.83 141.08,360.79 140.02,360.92 139.03,361.19 138.12,361.62 137.29,362.20 136.56,362.92 135.93,363.77 135.40,364.75 134.98,365.85 134.68,367.06 134.50,368.36 134.44,369.75 134.50,371.21 134.68,372.72 134.98,374.27 135.40,375.85 135.93,377.44 136.56,379.03 137.29,380.59 138.12,382.13 139.03,383.61 140.02,385.03 141.08,386.37 142.19,387.62 143.35,388.77 144.55,389.81 145.77,390.72 147.00,391.50 148.23,392.14 149.45,392.64 150.65,392.98 151.81,393.17 152.92,393.21 153.98,393.08 154.97,392.81 155.88,392.38 156.71,391.80 157.44,391.08 158.07,390.23 158.60,389.25 159.02,388.15 159.32,386.94 159.50,385.64" fill="#1a1a1a" stroke="#000" stroke-width="1.10" stroke-linejoin="round" />
<g clip-path="url(#c5)"><line x1="140.58" y1="362.20" x2="157.04" y2="352.70" stroke="#e8e8e8" stroke-width="1.1"/><line x1="137.39" y1="364.04" x2="153.85" y2="354.54" stroke="#e8e8e8" stroke-width="1.1"/><line x1="135.67" y1="367.86" x2="152.12" y2="358.36" stroke="#e8e8e8" stroke-width="1.1"/><line x1="135.67" y1="373.06" x2="152.12" y2="363.56" stroke="#e8e8e8" stroke-width="1.1"/><line x1="137.39" y1="378.87" x2="153.85" y2="369.37" stroke="#e8e8e8" stroke-width="1.1"/><line x1="140.58" y1="384.39" x2="157.04" y2="374.89" stroke="#e8e8e8" stroke-width="1.1"/><line x1="144.75" y1="388.78" x2="161.20" y2="379.28" stroke="#e8e8e8" stroke-width="1.1"/><line x1="149.25" y1="391.38" x2="165.71" y2="381.88" stroke="#e8e8e8" stroke-width="1.1"/><line x1="153.42" y1="391.80" x2="169.87" y2="382.30" stroke="#e8e8e8" stroke-width="1.1"/><line x1="156.61" y1="389.96" x2="173.06" y2="380.46" stroke="#e8e8e8" stroke-width="1.1"/></g>
<polygon points="157.80,383.24 157.67,381.26 159.34,381.47 158.75,378.66 156.98,377.99 156.23,375.86 157.52,375.16 156.15,372.36 154.64,372.59 153.38,370.63 154.10,369.14 152.17,366.77 151.13,367.87 149.56,366.37 149.59,364.31 147.39,362.73 147.00,364.53 145.35,363.72 144.70,361.42 142.56,360.87 142.87,363.09 141.39,363.11 140.15,360.89 138.40,361.47 139.36,363.77 138.29,364.60 136.64,362.82 135.56,364.43 137.02,366.47 136.51,367.98 134.71,366.91 134.45,369.30 136.20,370.76 136.33,372.74 134.66,372.53 135.25,375.34 137.02,376.01 137.77,378.14 136.48,378.84 137.85,381.64 139.36,381.41 140.62,383.37 139.90,384.86 141.83,387.23 142.87,386.13 144.44,387.63 144.41,389.69 146.61,391.27 147.00,389.47 148.65,390.28 149.30,392.58 151.44,393.13 151.13,390.91 152.61,390.89 153.85,393.11 155.60,392.53 154.64,390.23 155.71,389.40 157.36,391.18 158.44,389.57 156.98,387.53 157.49,386.02 159.29,387.09 159.55,384.70" fill="none" stroke="#e8e8e8" stroke-width="0.70" stroke-linejoin="round" />
<polygon points="247.25,348.02 248.58,347.09 249.77,345.93 250.79,344.55 251.64,342.96 252.31,341.19 252.79,339.24 253.09,337.14 253.18,334.90 253.09,332.55 252.79,330.11 252.31,327.60 251.64,325.05 250.79,322.49 249.77,319.93 248.58,317.40 247.25,314.93 245.77,312.53 244.18,310.24 242.47,308.08 240.67,306.06 238.80,304.20 236.87,302.53 234.90,301.06 232.92,299.80 230.93,298.77 228.97,297.97 227.04,297.41 225.16,297.10 223.37,297.05 221.66,297.24 220.06,297.69 218.59,298.38 222.92,295.88 224.39,295.19 225.99,294.74 227.70,294.55 229.49,294.60 231.37,294.91 233.30,295.47 235.26,296.27 237.25,297.30 239.24,298.56 241.20,300.03 243.13,301.70 245.00,303.56 246.80,305.58 248.51,307.74 250.10,310.03 251.58,312.43 252.91,314.90 254.10,317.43 255.12,319.99 255.97,322.55 256.64,325.10 257.12,327.61 257.42,330.05 257.51,332.40 257.42,334.64 257.12,336.74 256.64,338.69 255.97,340.46 255.12,342.05 254.10,343.43 252.91,344.59 251.58,345.52" fill="#555" stroke="none" stroke-width="0.00" stroke-linejoin="round" />
<polygon points="247.09,351.59 245.94,348.65 250.27,346.15 251.42,349.09" fill="#fafcfa" stroke="#000" stroke-width="1.00" stroke-linejoin="round" />
<polygon points="219.10,298.11 217.28,295.47 221.61,292.97 223.43,295.61" fill="#fafcfa" stroke="#000" stroke-width="1.00" stroke-linejoin="round" />
<polygon points="248.56,350.93 249.91,350.07 254.24,347.57 252.89,348.43" fill="#fafcfa" stroke="#000" stroke-width="1.00" stroke-linejoin="round" />
<polygon points="219.89,297.75 219.10,298.11 223.43,295.61 224.22,295.25" fill="#555" stroke="#000" stroke-width="0.70" stroke-linejoin="round" />
<polygon points="249.91,350.07 248.44,347.20 252.77,344.70 254.24,347.57" fill="#fafcfa" stroke="#000" stroke-width="1.00" stroke-linejoin="round" />
<polygon points="248.44,347.20 249.10,346.63 253.43,344.13 252.77,344.70" fill="#555" stroke="#000" stroke-width="0.70" stroke-linejoin="round" />
<polygon points="220.33,294.38 218.75,294.81 223.08,292.31 224.66,291.88" fill="#fafcfa" stroke="#000" stroke-width="1.00" stroke-linejoin="round" />
<polygon points="221.88,297.20 220.33,294.38 224.66,291.88 226.21,294.70" fill="#fafcfa" stroke="#000" stroke-width="1.00" stroke-linejoin="round" />
<polygon points="251.13,349.00 252.22,347.73 256.55,345.23 255.47,346.50" fill="#fafcfa" stroke="#000" stroke-width="1.00" stroke-linejoin="round" />
<polygon points="222.79,297.09 221.88,297.20 226.21,294.70 227.12,294.59" fill="#555" stroke="#000" stroke-width="0.70" stroke-linejoin="round" />
<polygon points="252.22,347.73 250.47,345.03 254.80,342.53 256.55,345.23" fill="#fafcfa" stroke="#000" stroke-width="1.00" stroke-linejoin="round" />
<polygon points="250.47,345.03 250.97,344.25 255.30,341.75 254.80,342.53" fill="#555" stroke="#000" stroke-width="0.70" stroke-linejoin="round" />
<polygon points="223.76,294.16 222.00,294.16 226.33,291.66 228.09,291.66" fill="#fafcfa" stroke="#000" stroke-width="1.00" stroke-linejoin="round" />
<polygon points="225.00,297.09 223.76,294.16 228.09,291.66 229.33,294.59" fill="#fafcfa" stroke="#000" stroke-width="1.00" stroke-linejoin="round" />
<polygon points="225.99,297.21 225.00,297.09 229.33,294.59 230.32,294.71" fill="#555" stroke="#000" stroke-width="0.70" stroke-linejoin="round" />
<polygon points="253.16,346.28 253.94,344.65 258.27,342.15 257.49,343.78" fill="#fafcfa" stroke="#000" stroke-width="1.00" stroke-linejoin="round" />
<polygon points="253.94,344.65 251.96,342.20 256.29,339.70 258.27,342.15" fill="#fafcfa" stroke="#000" stroke-width="1.00" stroke-linejoin="round" />
<polygon points="251.96,342.20 252.30,341.23 256.63,338.73 256.29,339.70" fill="#555" stroke="#000" stroke-width="0.70" stroke-linejoin="round" />
<polygon points="227.47,294.83 225.59,294.38 229.92,291.88 231.80,292.33" fill="#fafcfa" stroke="#000" stroke-width="1.00" stroke-linejoin="round" />
<polygon points="228.36,297.77 227.47,294.83 231.80,292.33 232.69,295.27" fill="#fafcfa" stroke="#000" stroke-width="1.00" stroke-linejoin="round" />
<polygon points="229.40,298.12 228.36,297.77 232.69,295.27 233.73,295.62" fill="#555" stroke="#000" stroke-width="0.70" stroke-linejoin="round" />
<polygon points="254.56,342.86 255.02,340.92 259.35,338.42 258.89,340.36" fill="#fafcfa" stroke="#000" stroke-width="1.00" stroke-linejoin="round" />
<polygon points="252.88,338.79 253.03,337.66 257.36,335.16 257.21,336.29" fill="#555" stroke="#000" stroke-width="0.70" stroke-linejoin="round" />
<polygon points="255.02,340.92 252.88,338.79 257.21,336.29 259.35,338.42" fill="#fafcfa" stroke="#000" stroke-width="1.00" stroke-linejoin="round" />
<polygon points="232.92,299.80 231.86,299.22 236.19,296.72 237.25,297.30" fill="#555" stroke="#000" stroke-width="0.70" stroke-linejoin="round" />
<polygon points="231.35,296.36 229.40,295.49 233.73,292.99 235.68,293.86" fill="#fafcfa" stroke="#000" stroke-width="1.00" stroke-linejoin="round" />
<polygon points="231.86,299.22 231.35,296.36 235.68,293.86 236.19,296.72" fill="#fafcfa" stroke="#000" stroke-width="1.00" stroke-linejoin="round" />
<polygon points="253.18,334.90 253.16,333.66 257.49,331.16 257.51,332.40" fill="#555" stroke="#000" stroke-width="0.70" stroke-linejoin="round" />
<polygon points="255.31,338.85 255.43,336.65 259.76,334.15 259.64,336.35" fill="#fafcfa" stroke="#000" stroke-width="1.00" stroke-linejoin="round" />
<polygon points="255.43,336.65 253.18,334.90 257.51,332.40 259.76,334.15" fill="#fafcfa" stroke="#000" stroke-width="1.00" stroke-linejoin="round" />
<polygon points="236.44,302.19 235.39,301.40 239.72,298.90 240.77,299.69" fill="#555" stroke="#000" stroke-width="0.70" stroke-linejoin="round" />
<polygon points="235.39,301.40 235.27,298.70 239.60,296.20 239.72,298.90" fill="#fafcfa" stroke="#000" stroke-width="1.00" stroke-linejoin="round" />
<polygon points="235.27,298.70 233.31,297.43 237.64,294.93 239.60,296.20" fill="#fafcfa" stroke="#000" stroke-width="1.00" stroke-linejoin="round" />
<polygon points="252.88,330.66 252.66,329.34 256.99,326.84 257.21,328.16" fill="#555" stroke="#000" stroke-width="0.70" stroke-linejoin="round" />
<polygon points="255.16,331.97 252.88,330.66 257.21,328.16 259.49,329.47" fill="#fafcfa" stroke="#000" stroke-width="1.00" stroke-linejoin="round" />
<polygon points="255.38,334.35 255.16,331.97 259.49,329.47 259.71,331.85" fill="#fafcfa" stroke="#000" stroke-width="1.00" stroke-linejoin="round" />
<polygon points="239.85,305.21 238.84,304.24 243.17,301.74 244.18,302.71" fill="#555" stroke="#000" stroke-width="0.70" stroke-linejoin="round" />
<polygon points="251.96,326.19 251.57,324.83 255.90,322.33 256.29,323.69" fill="#555" stroke="#000" stroke-width="0.70" stroke-linejoin="round" />
<polygon points="238.84,304.24 239.13,301.79 243.46,299.29 243.17,301.74" fill="#fafcfa" stroke="#000" stroke-width="1.00" stroke-linejoin="round" />
<polygon points="239.13,301.79 237.21,300.16 241.55,297.66 243.46,299.29" fill="#fafcfa" stroke="#000" stroke-width="1.00" stroke-linejoin="round" />
<polygon points="254.21,327.03 251.96,326.19 256.29,323.69 258.54,324.53" fill="#fafcfa" stroke="#000" stroke-width="1.00" stroke-linejoin="round" />
<polygon points="243.05,308.79 242.12,307.66 246.45,305.16 247.38,306.29" fill="#555" stroke="#000" stroke-width="0.70" stroke-linejoin="round" />
<polygon points="250.47,321.63 249.91,320.27 254.24,317.77 254.80,319.13" fill="#555" stroke="#000" stroke-width="0.70" stroke-linejoin="round" />
<polygon points="254.77,329.52 254.21,327.03 258.54,324.53 259.10,327.02" fill="#fafcfa" stroke="#000" stroke-width="1.00" stroke-linejoin="round" />
<polygon points="245.94,312.80 245.11,311.55 249.44,309.05 250.27,310.30" fill="#555" stroke="#000" stroke-width="0.70" stroke-linejoin="round" />
<polygon points="248.44,317.12 247.74,315.80 252.07,313.30 252.77,314.62" fill="#555" stroke="#000" stroke-width="0.70" stroke-linejoin="round" />
<polygon points="242.12,307.66 242.79,305.53 247.12,303.03 246.45,305.16" fill="#fafcfa" stroke="#000" stroke-width="1.00" stroke-linejoin="round" />
<polygon points="252.61,321.97 250.47,321.63 254.80,319.13 256.94,319.47" fill="#fafcfa" stroke="#000" stroke-width="1.00" stroke-linejoin="round" />
<polygon points="242.79,305.53 240.99,303.59 245.32,301.09 247.12,303.03" fill="#fafcfa" stroke="#000" stroke-width="1.00" stroke-linejoin="round" />
<polygon points="245.11,311.55 246.15,309.81 250.48,307.31 249.44,309.05" fill="#fafcfa" stroke="#000" stroke-width="1.00" stroke-linejoin="round" />
<polygon points="250.42,316.94 248.44,317.12 252.77,314.62 254.75,314.44" fill="#fafcfa" stroke="#000" stroke-width="1.00" stroke-linejoin="round" />
<polygon points="247.69,312.11 245.94,312.80 250.27,310.30 252.02,309.61" fill="#fafcfa" stroke="#000" stroke-width="1.00" stroke-linejoin="round" />
<polygon points="253.49,324.50 252.61,321.97 256.94,319.47 257.82,322.00" fill="#fafcfa" stroke="#000" stroke-width="1.00" stroke-linejoin="round" />
<polygon points="247.74,315.80 249.12,314.49 253.45,311.99 252.07,313.30" fill="#fafcfa" stroke="#000" stroke-width="1.00" stroke-linejoin="round" />
<polygon points="246.15,309.81 244.52,307.61 248.85,305.11 250.48,307.31" fill="#fafcfa" stroke="#000" stroke-width="1.00" stroke-linejoin="round" />
<polygon points="251.59,319.44 250.42,316.94 254.75,314.44 255.92,316.94" fill="#fafcfa" stroke="#000" stroke-width="1.00" stroke-linejoin="round" />
<polygon points="249.12,314.49 247.69,312.11 252.02,309.61 253.45,311.99" fill="#fafcfa" stroke="#000" stroke-width="1.00" stroke-linejoin="round" />
<path d="M253.18,334.90 L253.16,333.66 L255.38,334.35 L255.16,331.97 L252.88,330.66 L252.66,329.34 L254.77,329.52 L254.21,327.03 L251.96,326.19 L251.57,324.83 L253.49,324.50 L252.61,321.97 L250.47,321.63 L249.91,320.27 L251.59,319.44 L250.42,316.94 L248.44,317.12 L247.74,315.80 L249.12,314.49 L247.69,312.11 L245.94,312.80 L245.11,311.55 L246.15,309.81 L244.52,307.61 L243.05,308.79 L242.12,307.66 L242.79,305.53 L240.99,303.59 L239.85,305.21 L238.84,304.24 L239.13,301.79 L237.21,300.16 L236.44,302.19 L235.39,301.40 L235.27,298.70 L233.31,297.43 L232.92,299.80 L231.86,299.22 L231.35,296.36 L229.40,295.49 L229.40,298.12 L228.36,297.77 L227.47,294.83 L225.59,294.38 L225.99,297.21 L225.00,297.09 L223.76,294.16 L222.00,294.16 L222.79,297.09 L221.88,297.20 L220.33,294.38 L218.75,294.81 L219.89,297.75 L219.10,298.11 L217.28,295.47 L215.93,296.33 L217.39,299.20 L216.73,299.77 L214.70,297.40 L213.62,298.67 L215.37,301.37 L214.86,302.15 L212.68,300.12 L211.90,301.75 L213.88,304.20 L213.54,305.17 L211.27,303.54 L210.82,305.48 L212.96,307.61 L212.80,308.74 L210.53,307.55 L210.41,309.75 L212.65,311.50 L212.68,312.74 L210.46,312.05 L210.68,314.43 L212.96,315.74 L213.17,317.06 L211.07,316.88 L211.63,319.37 L213.88,320.21 L214.26,321.57 L212.35,321.90 L213.23,324.43 L215.37,324.77 L215.92,326.13 L214.25,326.96 L215.42,329.46 L217.39,329.28 L218.10,330.60 L216.72,331.91 L218.15,334.29 L219.89,333.60 L220.72,334.85 L219.68,336.59 L221.32,338.79 L222.79,337.61 L223.72,338.74 L223.05,340.87 L224.85,342.81 L225.99,341.19 L226.99,342.16 L226.71,344.61 L228.62,346.24 L229.40,344.21 L230.45,345.00 L230.56,347.70 L232.53,348.97 L232.92,346.60 L233.98,347.18 L234.49,350.04 L236.44,350.91 L236.44,348.28 L237.48,348.63 L238.37,351.57 L240.25,352.02 L239.85,349.19 L240.84,349.31 L242.08,352.24 L243.83,352.24 L243.05,349.31 L243.96,349.20 L245.51,352.02 L247.09,351.59 L245.94,348.65 L246.74,348.29 L248.56,350.93 L249.91,350.07 L248.44,347.20 L249.10,346.63 L251.13,349.00 L252.22,347.73 L250.47,345.03 L250.97,344.25 L253.16,346.28 L253.94,344.65 L251.96,342.20 L252.30,341.23 L254.56,342.86 L255.02,340.92 L252.88,338.79 L253.03,337.66 L255.31,338.85 L255.43,336.65Z M250.24,333.20 L250.16,331.19 L249.91,329.11 L249.49,326.96 L248.92,324.79 L248.19,322.59 L247.32,320.40 L246.31,318.24 L245.17,316.13 L243.91,314.08 L242.54,312.13 L241.08,310.28 L239.55,308.55 L237.95,306.96 L236.30,305.54 L234.62,304.28 L232.92,303.20 L231.22,302.32 L229.54,301.63 L227.89,301.16 L226.29,300.90 L224.75,300.85 L223.30,301.01 L221.93,301.40 L220.67,301.99 L219.53,302.78 L218.52,303.77 L217.64,304.95 L216.92,306.31 L216.34,307.82 L215.93,309.49 L215.68,311.29 L215.60,313.20 L215.68,315.21 L215.93,317.29 L216.34,319.44 L216.92,321.61 L217.64,323.81 L218.52,326.00 L219.53,328.16 L220.67,330.27 L221.93,332.32 L223.30,334.27 L224.75,336.12 L226.29,337.85 L227.89,339.44 L229.54,340.86 L231.22,342.12 L232.92,343.20 L234.62,344.08 L236.30,344.77 L237.95,345.24 L239.55,345.50 L241.08,345.55 L242.54,345.39 L243.91,345.00 L245.17,344.41 L246.31,343.62 L247.32,342.63 L248.19,341.45 L248.92,340.09 L249.49,338.58 L249.91,336.91 L250.16,335.11Z" fill="#fafcfa" stroke="#000" stroke-width="1.00" fill-rule="evenodd"/>
<polygon points="225.86,356.97 227.06,356.14 228.12,355.10 229.04,353.86 229.80,352.44 230.40,350.84 230.84,349.10 231.10,347.21 231.19,345.20 231.10,343.09 230.84,340.90 230.40,338.65 229.80,336.36 229.04,334.06 228.12,331.76 227.06,329.49 225.86,327.28 224.54,325.13 223.10,323.07 221.57,321.13 219.96,319.32 218.28,317.65 216.55,316.15 214.78,314.83 213.00,313.70 211.22,312.77 209.45,312.06 207.72,311.56 206.04,311.28 204.43,311.23 202.90,311.41 201.46,311.81 200.14,312.43 218.59,298.38 220.06,297.69 221.66,297.24 223.37,297.05 225.16,297.10 227.04,297.41 228.97,297.97 230.93,298.77 232.92,299.80 234.90,301.06 236.87,302.53 238.80,304.20 240.67,306.06 242.47,308.08 244.18,310.24 245.77,312.53 247.25,314.93 248.58,317.40 249.77,319.93 250.79,322.49 251.64,325.05 252.31,327.60 252.79,330.11 253.09,332.55 253.18,334.90 253.09,337.14 252.79,339.24 252.31,341.19 251.64,342.96 250.79,344.55 249.77,345.93 248.58,347.09 247.25,348.02" fill="#fafcfa" stroke="#000" stroke-width="1.25" stroke-linejoin="round" />
<polyline points="228.71,355.71 230.82,354.95 232.65,353.69 234.18,351.98 235.36,349.84 236.18,347.32 236.61,344.47 236.65,341.35 236.30,338.03 235.56,334.59 234.44,331.08 232.98,327.59 231.21,324.19 229.15,320.95 226.86,317.94 224.38,315.22 221.76,312.86 219.07,310.89 216.35,309.37 213.67,308.32 211.07,307.76 208.63,307.72 206.38,308.18 204.37,309.15 202.66,310.59" fill="none" stroke="#000" stroke-width="1.50" stroke-linejoin="round" />
<polyline points="233.99,353.50 236.15,352.71 238.04,351.43 239.61,349.66 240.83,347.46 241.67,344.87 242.11,341.94 242.15,338.74 241.79,335.33 241.03,331.79 239.88,328.18 238.38,324.60 236.55,321.10 234.44,317.77 232.08,314.68 229.53,311.89 226.85,309.45 224.08,307.43 221.28,305.87 218.53,304.79 215.86,304.22 213.35,304.17 211.03,304.65 208.97,305.64 207.21,307.12" fill="none" stroke="#000" stroke-width="1.50" stroke-linejoin="round" />
<polyline points="239.26,351.29 241.49,350.48 243.43,349.16 245.04,347.35 246.29,345.09 247.15,342.43 247.61,339.42 247.65,336.13 247.28,332.63 246.49,328.99 245.32,325.29 243.78,321.60 241.90,318.01 239.73,314.59 237.31,311.42 234.69,308.55 231.93,306.05 229.09,303.98 226.22,302.37 223.39,301.26 220.65,300.68 218.07,300.63 215.69,301.12 213.58,302.14 211.76,303.66" fill="none" stroke="#000" stroke-width="1.50" stroke-linejoin="round" />
<path d="M231.19,345.20 L231.10,343.09 L230.84,340.90 L230.40,338.65 L229.80,336.36 L229.04,334.06 L228.12,331.76 L227.06,329.49 L225.86,327.28 L224.54,325.13 L223.10,323.07 L221.57,321.13 L219.96,319.32 L218.28,317.65 L216.55,316.15 L214.78,314.83 L213.00,313.70 L211.22,312.77 L209.45,312.06 L207.72,311.56 L206.04,311.28 L204.43,311.23 L202.90,311.41 L201.46,311.81 L200.14,312.43 L198.94,313.26 L197.88,314.30 L196.96,315.54 L196.20,316.96 L195.60,318.56 L195.16,320.30 L194.90,322.19 L194.81,324.20 L194.90,326.31 L195.16,328.50 L195.60,330.75 L196.20,333.04 L196.96,335.34 L197.88,337.64 L198.94,339.91 L200.14,342.12 L201.46,344.27 L202.90,346.33 L204.43,348.27 L206.04,350.08 L207.72,351.75 L209.45,353.25 L211.22,354.57 L213.00,355.70 L214.78,356.63 L216.55,357.34 L218.28,357.84 L219.96,358.12 L221.57,358.17 L223.10,357.99 L224.54,357.59 L225.86,356.97 L227.06,356.14 L228.12,355.10 L229.04,353.86 L229.80,352.44 L230.40,350.84 L230.84,349.10 L231.10,347.21Z M229.28,344.10 L229.20,342.21 L228.97,340.25 L228.58,338.24 L228.04,336.19 L227.36,334.13 L226.54,332.07 L225.59,330.04 L224.51,328.05 L223.33,326.13 L222.05,324.29 L220.67,322.55 L219.23,320.93 L217.73,319.44 L216.18,318.10 L214.60,316.91 L213.00,315.90 L211.40,315.07 L209.82,314.43 L208.27,313.98 L206.77,313.73 L205.33,313.69 L203.95,313.85 L202.67,314.20 L201.49,314.76 L200.41,315.51 L199.46,316.44 L198.64,317.55 L197.96,318.82 L197.42,320.25 L197.03,321.81 L196.80,323.50 L196.72,325.30 L196.80,327.19 L197.03,329.15 L197.42,331.16 L197.96,333.21 L198.64,335.27 L199.46,337.33 L200.41,339.36 L201.49,341.35 L202.67,343.27 L203.95,345.11 L205.33,346.85 L206.77,348.47 L208.27,349.96 L209.82,351.30 L211.40,352.49 L213.00,353.50 L214.60,354.33 L216.18,354.97 L217.73,355.42 L219.23,355.67 L220.67,355.71 L222.05,355.55 L223.33,355.20 L224.51,354.64 L225.59,353.89 L226.54,352.96 L227.36,351.85 L228.04,350.58 L228.58,349.15 L228.97,347.59 L229.20,345.90Z" fill="#fafcfa" stroke="#000" stroke-width="1.40" fill-rule="evenodd"/>
<polygon points="229.28,344.10 229.20,342.21 228.97,340.25 228.58,338.24 228.04,336.19 227.36,334.13 226.54,332.07 225.59,330.04 224.51,328.05 223.33,326.13 222.05,324.29 220.67,322.55 219.23,320.93 217.73,319.44 216.18,318.10 214.60,316.91 213.00,315.90 211.40,315.07 209.82,314.43 208.27,313.98 206.77,313.73 205.33,313.69 203.95,313.85 202.67,314.20 201.49,314.76 200.41,315.51 199.46,316.44 198.64,317.55 197.96,318.82 197.42,320.25 197.03,321.81 196.80,323.50 196.72,325.30 196.80,327.19 197.03,329.15 197.42,331.16 197.96,333.21 198.64,335.27 199.46,337.33 200.41,339.36 201.49,341.35 202.67,343.27 203.95,345.11 205.33,346.85 206.77,348.47 208.27,349.96 209.82,351.30 211.40,352.49 213.00,353.50 214.60,354.33 216.18,354.97 217.73,355.42 219.23,355.67 220.67,355.71 222.05,355.55 223.33,355.20 224.51,354.64 225.59,353.89 226.54,352.96 227.36,351.85 228.04,350.58 228.58,349.15 228.97,347.59 229.20,345.90" fill="#4a4a4a" stroke="#000" stroke-width="1.00" stroke-linejoin="round" />
<g clip-path="url(#c6)"><line x1="205.21" y1="314.61" x2="229.45" y2="300.61" stroke="#ddd" stroke-width="1.3"/><line x1="200.72" y1="316.53" x2="224.96" y2="302.53" stroke="#ddd" stroke-width="1.3"/><line x1="198.02" y1="321.09" x2="222.26" y2="307.09" stroke="#ddd" stroke-width="1.3"/><line x1="197.50" y1="327.63" x2="221.75" y2="313.63" stroke="#ddd" stroke-width="1.3"/><line x1="199.24" y1="335.20" x2="223.48" y2="321.20" stroke="#ddd" stroke-width="1.3"/><line x1="202.98" y1="342.70" x2="227.23" y2="328.70" stroke="#ddd" stroke-width="1.3"/><line x1="208.18" y1="349.04" x2="232.43" y2="335.04" stroke="#ddd" stroke-width="1.3"/><line x1="214.09" y1="353.28" x2="238.34" y2="339.28" stroke="#ddd" stroke-width="1.3"/><line x1="219.83" y1="354.82" x2="244.08" y2="340.82" stroke="#ddd" stroke-width="1.3"/><line x1="224.58" y1="353.43" x2="248.83" y2="339.43" stroke="#ddd" stroke-width="1.3"/></g>
<polyline points="227.57,307.75 225.33,307.14 223.22,307.03 221.30,307.41 219.62,308.29 218.23,309.62 217.17,311.39 216.47,313.53 216.14,315.98 216.20,318.69 216.64,321.57 217.46,324.54 218.62,327.52 220.11,330.43 221.86,333.19 223.85,335.71 226.00,337.93 228.27,339.79 230.58,341.23 232.87,342.22 235.09,342.72 237.16,342.73 239.03,342.24 240.65,341.26 241.97,339.83" fill="none" stroke="#eee" stroke-width="1.00" stroke-linejoin="round" />
<polygon points="272.50,278.50 279.00,274.80 285.00,277.80 285.00,281.80 280.00,285.00 273.50,282.50" fill="#fafcfa" stroke="#000" stroke-width="1.40" stroke-linejoin="round" />
<polygon points="276.50,277.20 280.50,275.60 282.00,279.50 278.00,281.20" fill="#444" stroke="#000" stroke-width="0.80" stroke-linejoin="round" />
<polyline points="273.50,282.50 275.00,280.00 280.00,282.50 280.00,285.00" fill="none" stroke="#000" stroke-width="1.00" stroke-linejoin="round" />
<polyline points="281.50,284.50 282.50,288.50" fill="none" stroke="#000" stroke-width="3.60" stroke-linejoin="round" />
<polygon points="268.00,301.50 276.00,295.50 281.50,296.50 281.00,298.50 276.50,297.80 269.00,303.50" fill="#fafcfa" stroke="#000" stroke-width="1.00" stroke-linejoin="round" />
<polygon points="270.50,305.00 279.50,301.00 281.00,305.00 272.00,309.00" fill="#fafcfa" stroke="#000" stroke-width="1.20" stroke-linejoin="round" />
<polyline points="273.00,305.50 274.00,308.00" fill="none" stroke="#000" stroke-width="1.40" stroke-linejoin="round" />
<polyline points="276.50,304.00 277.50,306.50" fill="none" stroke="#000" stroke-width="1.00" stroke-linejoin="round" />
<polyline points="290.50,296.80 298.20,302.20" fill="none" stroke="#000" stroke-width="4.60" stroke-linejoin="round" />
<polygon points="299.50,301.50 305.00,298.20 310.50,301.50 310.50,307.00 305.00,310.80 300.00,308.00" fill="#fafcfa" stroke="#000" stroke-width="1.40" stroke-linejoin="round" />
<polygon points="301.50,302.00 305.00,300.50 307.50,303.00 304.00,305.00" fill="#444" stroke="#000" stroke-width="0.70" stroke-linejoin="round" />
<polyline points="305.00,305.00 305.00,310.80" fill="none" stroke="#000" stroke-width="1.00" stroke-linejoin="round" />
<circle cx="312.8" cy="311.3" r="2.1" fill="#fafcfa" stroke="#000" stroke-width="1.2"/>
<polygon points="604.90,365.50 611.40,361.80 617.40,364.80 617.40,368.80 612.40,372.00 605.90,369.50" fill="#fafcfa" stroke="#000" stroke-width="1.40" stroke-linejoin="round" />
<polygon points="608.90,364.20 612.90,362.60 614.40,366.50 610.40,368.20" fill="#444" stroke="#000" stroke-width="0.80" stroke-linejoin="round" />
<polyline points="605.90,369.50 607.40,367.00 612.40,369.50 612.40,372.00" fill="none" stroke="#000" stroke-width="1.00" stroke-linejoin="round" />
<polyline points="613.90,371.50 614.90,375.50" fill="none" stroke="#000" stroke-width="3.60" stroke-linejoin="round" />
<polygon points="600.40,388.50 608.40,382.50 613.90,383.50 613.40,385.50 608.90,384.80 601.40,390.50" fill="#fafcfa" stroke="#000" stroke-width="1.00" stroke-linejoin="round" />
<polygon points="602.90,392.00 611.90,388.00 613.40,392.00 604.40,396.00" fill="#fafcfa" stroke="#000" stroke-width="1.20" stroke-linejoin="round" />
<polyline points="605.40,392.50 606.40,395.00" fill="none" stroke="#000" stroke-width="1.40" stroke-linejoin="round" />
<polyline points="608.90,391.00 609.90,393.50" fill="none" stroke="#000" stroke-width="1.00" stroke-linejoin="round" />
<polyline points="622.90,383.80 630.60,389.20" fill="none" stroke="#000" stroke-width="4.60" stroke-linejoin="round" />
<polygon points="631.90,388.50 637.40,385.20 642.90,388.50 642.90,394.00 637.40,397.80 632.40,395.00" fill="#fafcfa" stroke="#000" stroke-width="1.40" stroke-linejoin="round" />
<polygon points="633.90,389.00 637.40,387.50 639.90,390.00 636.40,392.00" fill="#444" stroke="#000" stroke-width="0.70" stroke-linejoin="round" />
<polyline points="637.40,392.00 637.40,397.80" fill="none" stroke="#000" stroke-width="1.00" stroke-linejoin="round" />
<circle cx="645.2" cy="398.3" r="2.1" fill="#fafcfa" stroke="#000" stroke-width="1.2"/>
<polygon points="428.45,567.47 429.83,566.51 431.06,565.31 432.11,563.88 432.99,562.24 433.69,560.40 434.19,558.39 434.49,556.21 434.59,553.90 434.49,551.47 434.19,548.95 433.69,546.35 432.99,543.72 432.11,541.06 431.06,538.42 429.83,535.80 428.45,533.24 426.93,530.77 425.27,528.40 423.51,526.16 421.65,524.07 419.71,522.15 417.72,520.43 415.68,518.90 413.63,517.60 411.58,516.53 409.54,515.70 407.55,515.13 405.61,514.81 403.75,514.75 401.99,514.96 400.33,515.42 398.81,516.13 412.41,509.69 413.87,509.01 415.46,508.57 417.15,508.37 418.93,508.43 420.79,508.73 422.70,509.28 424.65,510.07 426.62,511.10 428.59,512.35 430.54,513.81 432.45,515.47 434.31,517.31 436.09,519.31 437.78,521.45 439.37,523.73 440.83,526.10 442.15,528.55 443.33,531.06 444.34,533.59 445.18,536.14 445.85,538.67 446.33,541.15 446.62,543.57 446.71,545.90 446.62,548.12 446.33,550.20 445.85,552.14 445.18,553.90 444.34,555.47 443.33,556.83 442.15,557.98 440.83,558.91" fill="#fafcfa" stroke="#000" stroke-width="1.25" stroke-linejoin="round" />
<polyline points="429.40,565.98 431.73,565.13 433.76,563.75 435.45,561.85 436.76,559.48 437.67,556.69 438.15,553.54 438.19,550.09 437.80,546.42 436.98,542.61 435.75,538.73 434.13,534.86 432.16,531.10 429.89,527.52 427.35,524.18 424.61,521.18 421.71,518.56 418.73,516.39 415.72,514.70 412.75,513.54 409.89,512.93 407.18,512.88 404.69,513.39 402.47,514.46 400.57,516.05" fill="none" stroke="#000" stroke-width="1.00" stroke-linejoin="round" />
<polyline points="436.35,561.41 438.64,560.58 440.64,559.22 442.30,557.35 443.59,555.02 444.47,552.28 444.95,549.18 444.99,545.79 444.60,542.18 443.80,538.43 442.59,534.61 441.00,530.82 439.06,527.12 436.83,523.59 434.33,520.32 431.63,517.36 428.79,514.79 425.86,512.65 422.90,510.99 419.98,509.85 417.16,509.25 414.50,509.20 412.05,509.70 409.87,510.75 408.00,512.32" fill="none" stroke="#000" stroke-width="0.90" stroke-linejoin="round" />
<polygon points="423.32,568.59 424.63,567.68 425.79,566.54 426.79,565.19 427.62,563.64 428.28,561.90 428.75,560.00 429.04,557.94 429.13,555.75 429.04,553.45 428.75,551.06 428.28,548.61 427.62,546.11 426.79,543.60 425.79,541.10 424.63,538.62 423.32,536.20 421.88,533.86 420.32,531.62 418.65,529.50 416.89,527.52 415.06,525.71 413.17,524.07 411.24,522.63 409.30,521.40 407.36,520.39 405.43,519.61 403.54,519.06 401.71,518.76 399.95,518.71 398.28,518.90 396.72,519.33 395.28,520.01 399.61,517.51 401.05,516.83 402.61,516.40 404.28,516.21 406.04,516.26 407.87,516.56 409.76,517.11 411.69,517.89 413.63,518.90 415.57,520.13 417.50,521.57 419.39,523.21 421.22,525.02 422.98,527.00 424.65,529.12 426.21,531.36 427.65,533.70 428.96,536.12 430.12,538.60 431.12,541.10 431.95,543.61 432.61,546.11 433.08,548.56 433.37,550.95 433.46,553.25 433.37,555.44 433.08,557.50 432.61,559.40 431.95,561.14 431.12,562.69 430.12,564.04 428.96,565.18 427.65,566.09" fill="#555" stroke="none" stroke-width="0.00" stroke-linejoin="round" />
<polygon points="394.48,520.53 392.38,517.84 396.71,515.34 398.81,518.03" fill="#fafcfa" stroke="#000" stroke-width="1.05" stroke-linejoin="round" />
<polygon points="424.73,571.73 423.32,568.59 427.65,566.09 429.06,569.23" fill="#fafcfa" stroke="#000" stroke-width="1.05" stroke-linejoin="round" />
<polygon points="423.32,568.59 424.12,568.07 428.45,565.57 427.65,566.09" fill="#555" stroke="#000" stroke-width="0.73" stroke-linejoin="round" />
<polygon points="395.52,516.16 393.87,516.87 398.20,514.37 399.85,513.66" fill="#fafcfa" stroke="#000" stroke-width="1.05" stroke-linejoin="round" />
<polygon points="397.33,519.13 395.52,516.16 399.85,513.66 401.66,516.63" fill="#fafcfa" stroke="#000" stroke-width="1.05" stroke-linejoin="round" />
<polygon points="426.22,570.76 427.56,569.54 431.89,567.04 430.55,568.26" fill="#fafcfa" stroke="#000" stroke-width="1.05" stroke-linejoin="round" />
<polygon points="398.28,518.90 397.33,519.13 401.66,516.63 402.61,516.40" fill="#555" stroke="#000" stroke-width="0.73" stroke-linejoin="round" />
<polygon points="427.56,569.54 425.79,566.54 430.12,564.04 431.89,567.04" fill="#fafcfa" stroke="#000" stroke-width="1.05" stroke-linejoin="round" />
<polygon points="425.79,566.54 426.41,565.76 430.74,563.26 430.12,564.04" fill="#555" stroke="#000" stroke-width="0.73" stroke-linejoin="round" />
<polygon points="399.20,515.57 397.30,515.73 401.63,513.23 403.53,513.07" fill="#fafcfa" stroke="#000" stroke-width="1.05" stroke-linejoin="round" />
<polygon points="400.65,518.70 399.20,515.57 403.53,513.07 404.98,516.20" fill="#fafcfa" stroke="#000" stroke-width="1.05" stroke-linejoin="round" />
<polygon points="401.71,518.76 400.65,518.70 404.98,516.20 406.04,516.26" fill="#555" stroke="#000" stroke-width="0.73" stroke-linejoin="round" />
<polygon points="428.72,568.07 429.69,566.37 434.02,563.87 433.05,565.57" fill="#fafcfa" stroke="#000" stroke-width="1.05" stroke-linejoin="round" />
<polygon points="429.69,566.37 427.62,563.64 431.95,561.14 434.02,563.87" fill="#fafcfa" stroke="#000" stroke-width="1.05" stroke-linejoin="round" />
<polygon points="427.62,563.64 428.04,562.62 432.37,560.12 431.95,561.14" fill="#555" stroke="#000" stroke-width="0.73" stroke-linejoin="round" />
<polygon points="403.26,516.08 401.19,515.68 405.52,513.18 407.59,513.58" fill="#fafcfa" stroke="#000" stroke-width="1.05" stroke-linejoin="round" />
<polygon points="404.29,519.25 403.26,516.08 407.59,513.58 408.62,516.75" fill="#fafcfa" stroke="#000" stroke-width="1.05" stroke-linejoin="round" />
<polygon points="405.43,519.61 404.29,519.25 408.62,516.75 409.76,517.11" fill="#555" stroke="#000" stroke-width="0.73" stroke-linejoin="round" />
<polygon points="430.47,564.46 431.04,562.36 435.37,559.86 434.80,561.96" fill="#fafcfa" stroke="#000" stroke-width="1.05" stroke-linejoin="round" />
<polygon points="428.75,560.00 428.94,558.78 433.28,556.28 433.08,557.50" fill="#555" stroke="#000" stroke-width="0.73" stroke-linejoin="round" />
<polygon points="431.04,562.36 428.75,560.00 433.08,557.50 435.37,559.86" fill="#fafcfa" stroke="#000" stroke-width="1.05" stroke-linejoin="round" />
<polygon points="407.55,517.67 405.39,516.74 409.72,514.24 411.88,515.17" fill="#fafcfa" stroke="#000" stroke-width="1.05" stroke-linejoin="round" />
<polygon points="409.30,521.40 408.13,520.77 412.46,518.27 413.63,518.90" fill="#555" stroke="#000" stroke-width="0.73" stroke-linejoin="round" />
<polygon points="408.13,520.77 407.55,517.67 411.88,515.17 412.46,518.27" fill="#fafcfa" stroke="#000" stroke-width="1.05" stroke-linejoin="round" />
<polygon points="429.13,555.75 429.10,554.38 433.43,551.88 433.46,553.25" fill="#555" stroke="#000" stroke-width="0.73" stroke-linejoin="round" />
<polygon points="431.40,560.08 431.55,557.65 435.88,555.15 435.73,557.58" fill="#fafcfa" stroke="#000" stroke-width="1.05" stroke-linejoin="round" />
<polygon points="431.55,557.65 429.13,555.75 433.46,553.25 435.88,555.15" fill="#fafcfa" stroke="#000" stroke-width="1.05" stroke-linejoin="round" />
<polygon points="413.17,524.07 412.02,523.18 416.35,520.68 417.50,521.57" fill="#555" stroke="#000" stroke-width="0.73" stroke-linejoin="round" />
<polygon points="412.02,523.18 411.92,520.29 416.25,517.79 416.35,520.68" fill="#fafcfa" stroke="#000" stroke-width="1.05" stroke-linejoin="round" />
<polygon points="411.92,520.29 409.74,518.86 414.07,516.36 416.25,517.79" fill="#fafcfa" stroke="#000" stroke-width="1.05" stroke-linejoin="round" />
<polygon points="428.75,551.06 428.49,549.60 432.82,547.10 433.08,548.56" fill="#555" stroke="#000" stroke-width="0.73" stroke-linejoin="round" />
<polygon points="431.21,552.43 428.75,551.06 433.08,548.56 435.54,549.93" fill="#fafcfa" stroke="#000" stroke-width="1.05" stroke-linejoin="round" />
<polygon points="431.49,555.09 431.21,552.43 435.54,549.93 435.82,552.59" fill="#fafcfa" stroke="#000" stroke-width="1.05" stroke-linejoin="round" />
<polygon points="416.89,527.52 415.80,526.42 420.13,523.92 421.22,525.02" fill="#555" stroke="#000" stroke-width="0.73" stroke-linejoin="round" />
<polygon points="427.62,546.11 427.14,544.61 431.47,542.11 431.95,543.61" fill="#555" stroke="#000" stroke-width="0.73" stroke-linejoin="round" />
<polygon points="415.80,526.42 416.18,523.83 420.51,521.33 420.13,523.92" fill="#fafcfa" stroke="#000" stroke-width="1.05" stroke-linejoin="round" />
<polygon points="416.18,523.83 414.07,521.95 418.40,519.45 420.51,521.33" fill="#fafcfa" stroke="#000" stroke-width="1.05" stroke-linejoin="round" />
<polygon points="420.32,531.62 419.33,530.33 423.66,527.83 424.65,529.12" fill="#555" stroke="#000" stroke-width="0.73" stroke-linejoin="round" />
<polygon points="430.03,546.90 427.62,546.11 431.95,543.61 434.36,544.40" fill="#fafcfa" stroke="#000" stroke-width="1.05" stroke-linejoin="round" />
<polygon points="425.79,541.10 425.11,539.61 429.44,537.11 430.12,538.60" fill="#555" stroke="#000" stroke-width="0.73" stroke-linejoin="round" />
<polygon points="423.32,536.20 422.47,534.79 426.80,532.29 427.65,533.70" fill="#555" stroke="#000" stroke-width="0.73" stroke-linejoin="round" />
<polygon points="430.72,549.69 430.03,546.90 434.36,544.40 435.05,547.19" fill="#fafcfa" stroke="#000" stroke-width="1.05" stroke-linejoin="round" />
<polygon points="419.33,530.33 420.18,528.16 424.51,525.66 423.66,527.83" fill="#fafcfa" stroke="#000" stroke-width="1.05" stroke-linejoin="round" />
<polygon points="428.05,541.27 425.79,541.10 430.12,538.60 432.38,538.77" fill="#fafcfa" stroke="#000" stroke-width="1.05" stroke-linejoin="round" />
<polygon points="425.11,539.61 426.78,538.48 431.11,535.98 429.44,537.11" fill="#fafcfa" stroke="#000" stroke-width="1.05" stroke-linejoin="round" />
<polygon points="422.47,534.79 423.75,533.10 428.08,530.60 426.80,532.29" fill="#fafcfa" stroke="#000" stroke-width="1.05" stroke-linejoin="round" />
<polygon points="425.34,535.75 423.32,536.20 427.65,533.70 429.67,533.25" fill="#fafcfa" stroke="#000" stroke-width="1.05" stroke-linejoin="round" />
<polygon points="420.18,528.16 418.22,525.90 422.55,523.40 424.51,525.66" fill="#fafcfa" stroke="#000" stroke-width="1.05" stroke-linejoin="round" />
<polygon points="429.13,544.08 428.05,541.27 432.38,538.77 433.46,541.58" fill="#fafcfa" stroke="#000" stroke-width="1.05" stroke-linejoin="round" />
<polygon points="423.75,533.10 422.03,530.56 426.36,528.06 428.08,530.60" fill="#fafcfa" stroke="#000" stroke-width="1.05" stroke-linejoin="round" />
<polygon points="426.78,538.48 425.34,535.75 429.67,533.25 431.11,535.98" fill="#fafcfa" stroke="#000" stroke-width="1.05" stroke-linejoin="round" />
<path d="M429.13,555.75 L429.10,554.38 L431.49,555.09 L431.21,552.43 L428.75,551.06 L428.49,549.60 L430.72,549.69 L430.03,546.90 L427.62,546.11 L427.14,544.61 L429.13,544.08 L428.05,541.27 L425.79,541.10 L425.11,539.61 L426.78,538.48 L425.34,535.75 L423.32,536.20 L422.47,534.79 L423.75,533.10 L422.03,530.56 L420.32,531.62 L419.33,530.33 L420.18,528.16 L418.22,525.90 L416.89,527.52 L415.80,526.42 L416.18,523.83 L414.07,521.95 L413.17,524.07 L412.02,523.18 L411.92,520.29 L409.74,518.86 L409.30,521.40 L408.13,520.77 L407.55,517.67 L405.39,516.74 L405.43,519.61 L404.29,519.25 L403.26,516.08 L401.19,515.68 L401.71,518.76 L400.65,518.70 L399.20,515.57 L397.30,515.73 L398.28,518.90 L397.33,519.13 L395.52,516.16 L393.87,516.87 L395.28,520.01 L394.48,520.53 L392.38,517.84 L391.04,519.06 L392.81,522.06 L392.19,522.84 L389.88,520.53 L388.91,522.23 L390.98,524.96 L390.56,525.98 L388.13,524.14 L387.56,526.24 L389.85,528.60 L389.66,529.82 L387.20,528.52 L387.05,530.95 L389.47,532.85 L389.50,534.22 L387.11,533.51 L387.39,536.17 L389.85,537.54 L390.11,539.00 L387.88,538.91 L388.57,541.70 L390.98,542.49 L391.46,543.99 L389.47,544.52 L390.55,547.33 L392.81,547.50 L393.49,548.99 L391.82,550.12 L393.26,552.85 L395.28,552.40 L396.13,553.81 L394.85,555.50 L396.57,558.04 L398.28,556.98 L399.27,558.27 L398.42,560.44 L400.38,562.70 L401.71,561.08 L402.80,562.18 L402.42,564.77 L404.53,566.65 L405.43,564.53 L406.58,565.42 L406.68,568.31 L408.86,569.74 L409.30,567.20 L410.47,567.83 L411.05,570.93 L413.21,571.86 L413.17,568.99 L414.31,569.35 L415.34,572.52 L417.41,572.92 L416.89,569.84 L417.95,569.90 L419.40,573.03 L421.30,572.87 L420.32,569.70 L421.27,569.47 L423.08,572.44 L424.73,571.73 L423.32,568.59 L424.12,568.07 L426.22,570.76 L427.56,569.54 L425.79,566.54 L426.41,565.76 L428.72,568.07 L429.69,566.37 L427.62,563.64 L428.04,562.62 L430.47,564.46 L431.04,562.36 L428.75,560.00 L428.94,558.78 L431.40,560.08 L431.55,557.65Z M425.93,553.90 L425.85,551.97 L425.61,549.97 L425.21,547.91 L424.66,545.82 L423.96,543.72 L423.13,541.62 L422.15,539.54 L421.06,537.51 L419.85,535.55 L418.54,533.67 L417.14,531.89 L415.66,530.24 L414.13,528.71 L412.54,527.34 L410.93,526.13 L409.30,525.10 L407.67,524.25 L406.06,523.60 L404.47,523.14 L402.94,522.89 L401.46,522.84 L400.06,523.00 L398.75,523.37 L397.54,523.94 L396.45,524.70 L395.47,525.65 L394.64,526.78 L393.94,528.08 L393.39,529.54 L392.99,531.14 L392.75,532.86 L392.67,534.70 L392.75,536.63 L392.99,538.63 L393.39,540.69 L393.94,542.78 L394.64,544.88 L395.47,546.98 L396.45,549.06 L397.54,551.09 L398.75,553.05 L400.06,554.93 L401.46,556.71 L402.94,558.36 L404.47,559.89 L406.06,561.26 L407.67,562.47 L409.30,563.50 L410.93,564.35 L412.54,565.00 L414.13,565.46 L415.66,565.71 L417.14,565.76 L418.54,565.60 L419.85,565.23 L421.06,564.66 L422.15,563.90 L423.13,562.95 L423.96,561.82 L424.66,560.52 L425.21,559.06 L425.61,557.46 L425.85,555.74Z" fill="#fafcfa" stroke="#000" stroke-width="1.05" fill-rule="evenodd"/>
<ellipse cx="409.30" cy="544.30" rx="15.20" ry="26.33" transform="rotate(-30 409.30 544.30)" fill="none" stroke="#000" stroke-width="1.00" />
<polygon points="424.37,553.00 424.34,551.89 425.87,552.26 425.63,550.13 424.04,549.19 423.81,548.00 425.22,547.94 424.63,545.71 423.07,545.17 422.65,543.95 423.87,543.46 422.95,541.23 421.49,541.11 420.91,539.91 421.89,539.02 420.68,536.88 419.38,537.19 418.66,536.07 419.35,534.81 417.91,532.85 416.83,533.58 416.00,532.58 416.38,531.01 414.77,529.33 413.96,530.44 413.05,529.61 413.10,527.80 411.38,526.45 410.88,527.90 409.93,527.28 409.65,525.31 407.91,524.36 407.72,526.09 406.79,525.69 406.18,523.64 404.49,523.14 404.64,525.06 403.75,524.92 402.86,522.88 401.29,522.85 401.77,524.88 400.96,524.99 399.81,523.06 398.44,523.49 399.22,525.55 398.53,525.91 397.18,524.16 396.06,525.05 397.11,527.03 396.58,527.63 395.08,526.14 394.25,527.44 395.53,529.27 395.18,530.08 393.60,528.92 393.11,530.57 394.56,532.17 394.39,533.15 392.80,532.37 392.68,534.30 394.23,535.60 394.26,536.71 392.73,536.34 392.97,538.47 394.56,539.41 394.79,540.60 393.38,540.66 393.97,542.89 395.53,543.43 395.95,544.65 394.73,545.14 395.65,547.37 397.11,547.49 397.69,548.69 396.71,549.58 397.92,551.72 399.22,551.41 399.94,552.53 399.25,553.79 400.69,555.75 401.77,555.02 402.60,556.02 402.22,557.59 403.83,559.27 404.64,558.16 405.55,558.99 405.50,560.80 407.22,562.15 407.72,560.70 408.67,561.32 408.95,563.29 410.69,564.24 410.88,562.51 411.81,562.91 412.42,564.96 414.11,565.46 413.96,563.54 414.85,563.68 415.74,565.72 417.31,565.75 416.83,563.72 417.64,563.61 418.79,565.54 420.16,565.11 419.38,563.05 420.07,562.69 421.42,564.44 422.54,563.55 421.49,561.57 422.02,560.97 423.52,562.46 424.35,561.16 423.07,559.33 423.42,558.52 425.00,559.68 425.49,558.03 424.04,556.43 424.21,555.45 425.80,556.23 425.92,554.30" fill="none" stroke="#000" stroke-width="1.10" stroke-linejoin="round" />
<polyline points="396.89,527.29 409.88,519.79" fill="none" stroke="#333" stroke-width="2.00" stroke-linejoin="round" />
<polyline points="395.07,538.16 408.06,530.66" fill="none" stroke="#333" stroke-width="2.00" stroke-linejoin="round" />
<polyline points="400.31,551.67 413.30,544.17" fill="none" stroke="#333" stroke-width="2.00" stroke-linejoin="round" />
<polyline points="410.17,561.50 423.16,554.00" fill="none" stroke="#333" stroke-width="2.00" stroke-linejoin="round" />
<polyline points="420.02,563.05 433.01,555.55" fill="none" stroke="#333" stroke-width="2.00" stroke-linejoin="round" />
<polygon points="506.04,529.49 507.63,528.38 509.04,527.00 510.25,525.36 511.26,523.48 512.06,521.37 512.63,519.06 512.98,516.56 513.10,513.90 512.98,511.11 512.63,508.21 512.06,505.23 511.26,502.20 510.25,499.15 509.04,496.11 507.63,493.11 506.04,490.17 504.29,487.33 502.40,484.61 500.37,482.04 498.23,479.64 496.01,477.43 493.72,475.45 491.38,473.70 489.02,472.20 486.66,470.97 484.32,470.02 482.03,469.36 479.81,469.00 477.67,468.93 475.64,469.16 473.75,469.69 472.00,470.51 475.46,468.51 477.21,467.69 479.11,467.16 481.14,466.93 483.27,467.00 485.50,467.36 487.79,468.02 490.12,468.97 492.48,470.20 494.84,471.70 497.18,473.45 499.47,475.43 501.70,477.64 503.83,480.04 505.86,482.61 507.76,485.33 509.51,488.17 511.10,491.11 512.50,494.11 513.72,497.15 514.73,500.20 515.52,503.23 516.10,506.21 516.44,509.11 516.56,511.90 516.44,514.56 516.10,517.06 515.52,519.37 514.73,521.48 513.72,523.36 512.50,525.00 511.10,526.38 509.51,527.49" fill="#555" stroke="none" stroke-width="0.00" stroke-linejoin="round" />
<polygon points="505.26,532.54 504.50,530.23 507.96,528.23 508.73,530.54" fill="#fafcfa" stroke="#000" stroke-width="1.00" stroke-linejoin="round" />
<polygon points="472.60,470.19 471.09,468.21 474.56,466.21 476.07,468.19" fill="#fafcfa" stroke="#000" stroke-width="1.00" stroke-linejoin="round" />
<polygon points="506.95,531.79 508.50,530.80 511.96,528.80 510.41,529.79" fill="#fafcfa" stroke="#000" stroke-width="1.00" stroke-linejoin="round" />
<polygon points="473.55,469.77 472.60,470.19 476.07,468.19 477.01,467.77" fill="#555" stroke="#000" stroke-width="0.70" stroke-linejoin="round" />
<polygon points="508.50,530.80 507.46,528.52 510.93,526.52 511.96,528.80" fill="#fafcfa" stroke="#000" stroke-width="1.00" stroke-linejoin="round" />
<polygon points="507.46,528.52 508.25,527.83 511.71,525.83 510.93,526.52" fill="#555" stroke="#000" stroke-width="0.70" stroke-linejoin="round" />
<polygon points="474.59,466.96 472.78,467.46 476.24,465.46 478.05,464.96" fill="#fafcfa" stroke="#000" stroke-width="1.00" stroke-linejoin="round" />
<polygon points="475.91,469.11 474.59,466.96 478.05,464.96 479.37,467.11" fill="#fafcfa" stroke="#000" stroke-width="1.00" stroke-linejoin="round" />
<polygon points="509.90,529.57 511.14,528.12 514.61,526.12 513.36,527.57" fill="#fafcfa" stroke="#000" stroke-width="1.00" stroke-linejoin="round" />
<polygon points="476.98,468.97 475.91,469.11 479.37,467.11 480.45,466.97" fill="#555" stroke="#000" stroke-width="0.70" stroke-linejoin="round" />
<polygon points="511.14,528.12 509.87,525.94 513.33,523.94 514.61,526.12" fill="#fafcfa" stroke="#000" stroke-width="1.00" stroke-linejoin="round" />
<polygon points="509.87,525.94 510.47,525.01 513.94,523.01 513.33,523.94" fill="#555" stroke="#000" stroke-width="0.70" stroke-linejoin="round" />
<polygon points="478.52,466.72 476.51,466.71 479.97,464.71 481.99,464.72" fill="#fafcfa" stroke="#000" stroke-width="1.00" stroke-linejoin="round" />
<polygon points="479.61,468.98 478.52,466.72 481.99,464.72 483.08,466.98" fill="#fafcfa" stroke="#000" stroke-width="1.00" stroke-linejoin="round" />
<polygon points="512.22,526.46 513.11,524.59 516.58,522.59 515.68,524.46" fill="#fafcfa" stroke="#000" stroke-width="1.00" stroke-linejoin="round" />
<polygon points="480.79,469.12 479.61,468.98 483.08,466.98 484.25,467.12" fill="#555" stroke="#000" stroke-width="0.70" stroke-linejoin="round" />
<polygon points="513.11,524.59 511.64,522.57 515.11,520.57 516.58,522.59" fill="#fafcfa" stroke="#000" stroke-width="1.00" stroke-linejoin="round" />
<polygon points="511.64,522.57 512.04,521.42 515.51,519.42 515.11,520.57" fill="#555" stroke="#000" stroke-width="0.70" stroke-linejoin="round" />
<polygon points="482.78,467.48 480.62,466.97 484.08,464.97 486.24,465.48" fill="#fafcfa" stroke="#000" stroke-width="1.00" stroke-linejoin="round" />
<polygon points="483.60,469.79 482.78,467.48 486.24,465.48 487.07,467.79" fill="#fafcfa" stroke="#000" stroke-width="1.00" stroke-linejoin="round" />
<polygon points="484.84,470.21 483.60,469.79 487.07,467.79 488.30,468.21" fill="#555" stroke="#000" stroke-width="0.70" stroke-linejoin="round" />
<polygon points="513.83,522.54 514.35,520.31 517.82,518.31 517.29,520.54" fill="#fafcfa" stroke="#000" stroke-width="1.00" stroke-linejoin="round" />
<polygon points="514.35,520.31 512.73,518.52 516.19,516.52 517.82,518.31" fill="#fafcfa" stroke="#000" stroke-width="1.00" stroke-linejoin="round" />
<polygon points="512.73,518.52 512.92,517.18 516.38,515.18 516.19,516.52" fill="#555" stroke="#000" stroke-width="0.70" stroke-linejoin="round" />
<polygon points="487.22,469.23 484.98,468.24 488.45,466.24 490.68,467.23" fill="#fafcfa" stroke="#000" stroke-width="1.00" stroke-linejoin="round" />
<polygon points="487.76,471.51 487.22,469.23 490.68,467.23 491.22,469.51" fill="#fafcfa" stroke="#000" stroke-width="1.00" stroke-linejoin="round" />
<polygon points="489.02,472.20 487.76,471.51 491.22,469.51 492.48,470.20" fill="#555" stroke="#000" stroke-width="0.70" stroke-linejoin="round" />
<polygon points="514.69,517.93 514.82,515.42 518.29,513.42 518.15,515.93" fill="#fafcfa" stroke="#000" stroke-width="1.00" stroke-linejoin="round" />
<polygon points="513.10,513.90 513.06,512.43 516.53,510.43 516.56,511.90" fill="#555" stroke="#000" stroke-width="0.70" stroke-linejoin="round" />
<polygon points="514.82,515.42 513.10,513.90 516.56,511.90 518.29,513.42" fill="#fafcfa" stroke="#000" stroke-width="1.00" stroke-linejoin="round" />
<polygon points="491.72,471.92 489.47,470.46 492.94,468.46 495.18,469.92" fill="#fafcfa" stroke="#000" stroke-width="1.00" stroke-linejoin="round" />
<polygon points="493.20,475.04 491.95,474.10 495.42,472.10 496.67,473.04" fill="#555" stroke="#000" stroke-width="0.70" stroke-linejoin="round" />
<polygon points="491.95,474.10 491.72,471.92 495.18,469.92 495.42,472.10" fill="#fafcfa" stroke="#000" stroke-width="1.00" stroke-linejoin="round" />
<polygon points="512.73,508.86 512.48,507.29 515.94,505.29 516.19,506.86" fill="#555" stroke="#000" stroke-width="0.70" stroke-linejoin="round" />
<polygon points="514.77,512.78 514.51,510.05 517.97,508.05 518.23,510.78" fill="#fafcfa" stroke="#000" stroke-width="1.00" stroke-linejoin="round" />
<polygon points="514.51,510.05 512.73,508.86 516.19,506.86 517.97,508.05" fill="#fafcfa" stroke="#000" stroke-width="1.00" stroke-linejoin="round" />
<polygon points="497.25,478.63 496.06,477.48 499.52,475.48 500.72,476.63" fill="#555" stroke="#000" stroke-width="0.70" stroke-linejoin="round" />
<polygon points="496.06,477.48 496.13,475.46 499.60,473.46 499.52,475.48" fill="#fafcfa" stroke="#000" stroke-width="1.00" stroke-linejoin="round" />
<polygon points="496.13,475.46 493.94,473.59 497.41,471.59 499.60,473.46" fill="#fafcfa" stroke="#000" stroke-width="1.00" stroke-linejoin="round" />
<polygon points="511.64,503.55 511.18,501.93 514.65,499.93 515.11,501.55" fill="#555" stroke="#000" stroke-width="0.70" stroke-linejoin="round" />
<polygon points="513.42,504.39 511.64,503.55 515.11,501.55 516.89,502.39" fill="#fafcfa" stroke="#000" stroke-width="1.00" stroke-linejoin="round" />
<polygon points="514.06,507.25 513.42,504.39 516.89,502.39 517.53,505.25" fill="#fafcfa" stroke="#000" stroke-width="1.00" stroke-linejoin="round" />
<polygon points="501.06,482.87 499.95,481.54 503.41,479.54 504.52,480.87" fill="#555" stroke="#000" stroke-width="0.70" stroke-linejoin="round" />
<polygon points="509.87,498.14 509.21,496.52 512.68,494.52 513.33,496.14" fill="#555" stroke="#000" stroke-width="0.70" stroke-linejoin="round" />
<polygon points="499.95,481.54 500.33,479.75 503.80,477.75 503.41,479.54" fill="#fafcfa" stroke="#000" stroke-width="1.00" stroke-linejoin="round" />
<polygon points="504.50,487.64 503.51,486.16 506.97,484.16 507.96,485.64" fill="#555" stroke="#000" stroke-width="0.70" stroke-linejoin="round" />
<polygon points="500.33,479.75 498.27,477.52 501.73,475.52 503.80,477.75" fill="#fafcfa" stroke="#000" stroke-width="1.00" stroke-linejoin="round" />
<polygon points="507.46,492.78 506.63,491.21 510.09,489.21 510.93,490.78" fill="#555" stroke="#000" stroke-width="0.70" stroke-linejoin="round" />
<polygon points="511.59,498.58 509.87,498.14 513.33,496.14 515.06,496.58" fill="#fafcfa" stroke="#000" stroke-width="1.00" stroke-linejoin="round" />
<polygon points="509.21,496.52 510.42,495.69 513.88,493.69 512.68,494.52" fill="#fafcfa" stroke="#000" stroke-width="1.00" stroke-linejoin="round" />
<polygon points="512.60,501.49 511.59,498.58 515.06,496.58 516.06,499.49" fill="#fafcfa" stroke="#000" stroke-width="1.00" stroke-linejoin="round" />
<polygon points="503.51,486.16 504.19,484.65 507.65,482.65 506.97,484.16" fill="#fafcfa" stroke="#000" stroke-width="1.00" stroke-linejoin="round" />
<polygon points="509.08,492.83 507.46,492.78 510.93,490.78 512.54,490.83" fill="#fafcfa" stroke="#000" stroke-width="1.00" stroke-linejoin="round" />
<polygon points="505.95,487.28 504.50,487.64 507.96,485.64 509.42,485.28" fill="#fafcfa" stroke="#000" stroke-width="1.00" stroke-linejoin="round" />
<polygon points="506.63,491.21 507.58,490.02 511.05,488.02 510.09,489.21" fill="#fafcfa" stroke="#000" stroke-width="1.00" stroke-linejoin="round" />
<polygon points="504.19,484.65 502.31,482.13 505.78,480.13 507.65,482.65" fill="#fafcfa" stroke="#000" stroke-width="1.00" stroke-linejoin="round" />
<polygon points="510.42,495.69 509.08,492.83 512.54,490.83 513.88,493.69" fill="#fafcfa" stroke="#000" stroke-width="1.00" stroke-linejoin="round" />
<polygon points="507.58,490.02 505.95,487.28 509.42,485.28 511.05,488.02" fill="#fafcfa" stroke="#000" stroke-width="1.00" stroke-linejoin="round" />
<polygon points="513.10,513.90 513.06,512.43 514.77,512.78 514.51,510.05 512.73,508.86 512.48,507.29 514.06,507.25 513.42,504.39 511.64,503.55 511.18,501.93 512.60,501.49 511.59,498.58 509.87,498.14 509.21,496.52 510.42,495.69 509.08,492.83 507.46,492.78 506.63,491.21 507.58,490.02 505.95,487.28 504.50,487.64 503.51,486.16 504.19,484.65 502.31,482.13 501.06,482.87 499.95,481.54 500.33,479.75 498.27,477.52 497.25,478.63 496.06,477.48 496.13,475.46 493.94,473.59 493.20,475.04 491.95,474.10 491.72,471.92 489.47,470.46 489.02,472.20 487.76,471.51 487.22,469.23 484.98,468.24 484.84,470.21 483.60,469.79 482.78,467.48 480.62,466.97 480.79,469.12 479.61,468.98 478.52,466.72 476.51,466.71 476.98,468.97 475.91,469.11 474.59,466.96 472.78,467.46 473.55,469.77 472.60,470.19 471.09,468.21 469.54,469.20 470.58,471.48 469.79,472.17 468.14,470.43 466.90,471.88 468.17,474.06 467.57,474.99 465.82,473.54 464.93,475.41 466.40,477.43 466.00,478.58 464.21,477.46 463.69,479.69 465.31,481.48 465.12,482.82 463.35,482.07 463.22,484.58 464.95,486.10 464.98,487.57 463.28,487.22 463.53,489.95 465.31,491.14 465.56,492.71 463.98,492.75 464.62,495.61 466.40,496.45 466.86,498.07 465.44,498.51 466.45,501.42 468.17,501.86 468.83,503.48 467.63,504.31 468.96,507.17 470.58,507.22 471.41,508.79 470.46,509.98 472.09,512.72 473.55,512.36 474.53,513.84 473.85,515.35 475.73,517.87 476.98,517.13 478.09,518.46 477.71,520.25 479.77,522.48 480.79,521.37 481.98,522.52 481.91,524.54 484.10,526.41 484.84,524.96 486.09,525.90 486.32,528.08 488.57,529.54 489.02,527.80 490.28,528.49 490.82,530.77 493.06,531.76 493.20,529.79 494.44,530.21 495.26,532.52 497.42,533.03 497.25,530.88 498.43,531.02 499.52,533.28 501.53,533.29 501.06,531.03 502.13,530.89 503.45,533.04 505.26,532.54 504.50,530.23 505.44,529.81 506.95,531.79 508.50,530.80 507.46,528.52 508.25,527.83 509.90,529.57 511.14,528.12 509.87,525.94 510.47,525.01 512.22,526.46 513.11,524.59 511.64,522.57 512.04,521.42 513.83,522.54 514.35,520.31 512.73,518.52 512.92,517.18 514.69,517.93 514.82,515.42" fill="#fafcfa" stroke="#000" stroke-width="1.00" stroke-linejoin="round" />
<polygon points="492.00,539.15 493.65,538.00 495.11,536.57 496.37,534.87 497.42,532.91 498.25,530.72 498.85,528.31 499.21,525.71 499.33,522.95 499.21,520.05 498.85,517.03 498.25,513.94 497.42,510.79 496.37,507.62 495.11,504.46 493.65,501.34 492.00,498.28 490.18,495.33 488.20,492.50 486.10,489.82 483.88,487.33 481.56,485.04 479.18,482.97 476.75,481.16 474.30,479.60 471.84,478.32 469.42,477.34 467.03,476.65 464.72,476.27 462.50,476.20 460.39,476.44 458.42,476.99 456.60,477.85 471.32,469.35 473.14,468.49 475.12,467.94 477.22,467.70 479.44,467.77 481.76,468.15 484.14,468.84 486.57,469.82 489.02,471.10 491.47,472.66 493.90,474.47 496.29,476.54 498.60,478.83 500.82,481.32 502.93,484.00 504.90,486.83 506.72,489.78 508.37,492.84 509.83,495.96 511.09,499.12 512.14,502.29 512.97,505.44 513.57,508.53 513.93,511.55 514.05,514.45 513.93,517.21 513.57,519.81 512.97,522.22 512.14,524.41 511.09,526.37 509.83,528.07 508.37,529.50 506.72,530.65" fill="#fafcfa" stroke="#000" stroke-width="1.25" stroke-linejoin="round" />
<polyline points="491.68,539.18 494.17,537.84 496.31,535.94 498.04,533.49 499.35,530.56 500.21,527.19 500.60,523.45 500.51,519.41 499.95,515.15 498.92,510.74 497.45,506.28 495.56,501.85 493.29,497.53 490.69,493.41 487.79,489.56 484.67,486.05 481.37,482.96 477.96,480.34 474.51,478.25 471.07,476.71 467.72,475.77 464.53,475.44 461.54,475.72 458.82,476.62 456.42,478.10" fill="none" stroke="#000" stroke-width="1.50" stroke-linejoin="round" />
<polyline points="494.28,537.68 496.77,536.34 498.90,534.44 500.64,531.99 501.95,529.06 502.81,525.69 503.20,521.95 503.11,517.91 502.55,513.65 501.52,509.24 500.05,504.78 498.16,500.35 495.89,496.03 493.29,491.91 490.39,488.06 487.27,484.55 483.97,481.46 480.56,478.84 477.10,476.75 473.67,475.21 470.32,474.27 467.13,473.94 464.14,474.22 461.42,475.12 459.02,476.60" fill="none" stroke="#000" stroke-width="1.50" stroke-linejoin="round" />
<polyline points="496.88,536.18 499.37,534.84 501.50,532.94 503.24,530.49 504.55,527.56 505.41,524.19 505.80,520.45 505.71,516.41 505.15,512.15 504.12,507.74 502.65,503.28 500.76,498.85 498.49,494.53 495.88,490.41 492.99,486.56 489.86,483.05 486.57,479.96 483.16,477.34 479.70,475.25 476.27,473.71 472.92,472.77 469.72,472.44 466.74,472.72 464.02,473.62 461.62,475.10" fill="none" stroke="#000" stroke-width="1.50" stroke-linejoin="round" />
<polyline points="499.48,534.68 501.97,533.34 504.10,531.44 505.84,528.99 507.15,526.06 508.01,522.69 508.40,518.95 508.31,514.91 507.74,510.65 506.72,506.24 505.25,501.78 503.36,497.35 501.09,493.03 498.48,488.91 495.59,485.06 492.46,481.55 489.16,478.46 485.75,475.84 482.30,473.75 478.87,472.21 475.52,471.27 472.32,470.94 469.34,471.22 466.62,472.12 464.22,473.60" fill="none" stroke="#000" stroke-width="1.50" stroke-linejoin="round" />
<ellipse cx="474.30" cy="508.50" rx="20.44" ry="35.40" transform="rotate(-30 474.30 508.50)" fill="#fafcfa" stroke="#000" stroke-width="1.20" />
<polygon points="487.56,537.47 489.04,536.44 490.35,535.16 491.48,533.63 492.42,531.88 493.16,529.91 493.70,527.75 494.02,525.43 494.13,522.95 494.02,520.35 493.70,517.65 493.16,514.87 492.42,512.05 491.48,509.21 490.35,506.38 489.04,503.58 487.56,500.84 485.93,498.19 484.16,495.66 482.27,493.26 480.28,491.03 478.21,488.97 476.08,487.12 473.90,485.49 471.70,484.10 469.50,482.96 467.32,482.07 465.19,481.46 463.12,481.12 461.13,481.05 459.24,481.27 457.47,481.76 455.84,482.53 458.44,481.03 460.07,480.26 461.84,479.77 463.72,479.55 465.71,479.62 467.79,479.96 469.92,480.57 472.10,481.46 474.30,482.60 476.50,483.99 478.67,485.62 480.81,487.47 482.88,489.53 484.87,491.76 486.76,494.16 488.53,496.69 490.16,499.34 491.64,502.08 492.95,504.88 494.08,507.71 495.02,510.55 495.76,513.37 496.30,516.15 496.62,518.85 496.73,521.45 496.62,523.93 496.30,526.25 495.76,528.41 495.02,530.38 494.08,532.13 492.95,533.66 491.64,534.94 490.16,535.97" fill="#555" stroke="none" stroke-width="0.00" stroke-linejoin="round" />
<polygon points="454.93,483.12 452.93,480.65 455.53,479.15 457.53,481.62" fill="#fafcfa" stroke="#000" stroke-width="1.00" stroke-linejoin="round" />
<polygon points="488.81,540.42 487.56,537.47 490.16,535.97 491.40,538.92" fill="#fafcfa" stroke="#000" stroke-width="1.00" stroke-linejoin="round" />
<polygon points="487.56,537.47 488.47,536.88 491.06,535.38 490.16,535.97" fill="#555" stroke="#000" stroke-width="0.70" stroke-linejoin="round" />
<polygon points="456.42,478.80 454.59,479.58 457.19,478.08 459.02,477.30" fill="#fafcfa" stroke="#000" stroke-width="1.00" stroke-linejoin="round" />
<polygon points="458.16,481.53 456.42,478.80 459.02,477.30 460.76,480.03" fill="#fafcfa" stroke="#000" stroke-width="1.00" stroke-linejoin="round" />
<polygon points="490.47,539.35 491.95,537.99 494.55,536.49 493.07,537.85" fill="#fafcfa" stroke="#000" stroke-width="1.00" stroke-linejoin="round" />
<polygon points="459.24,481.27 458.16,481.53 460.76,480.03 461.84,479.77" fill="#555" stroke="#000" stroke-width="0.70" stroke-linejoin="round" />
<polygon points="491.95,537.99 490.35,535.16 492.95,533.66 494.55,536.49" fill="#fafcfa" stroke="#000" stroke-width="1.00" stroke-linejoin="round" />
<polygon points="490.35,535.16 491.05,534.27 493.65,532.77 492.95,533.66" fill="#555" stroke="#000" stroke-width="0.70" stroke-linejoin="round" />
<polygon points="460.49,478.14 458.39,478.31 460.99,476.81 463.09,476.64" fill="#fafcfa" stroke="#000" stroke-width="1.00" stroke-linejoin="round" />
<polygon points="461.91,481.05 460.49,478.14 463.09,476.64 464.51,479.55" fill="#fafcfa" stroke="#000" stroke-width="1.00" stroke-linejoin="round" />
<polygon points="493.23,536.36 494.31,534.48 496.91,532.98 495.83,534.86" fill="#fafcfa" stroke="#000" stroke-width="1.00" stroke-linejoin="round" />
<polygon points="463.12,481.12 461.91,481.05 464.51,479.55 465.71,479.62" fill="#555" stroke="#000" stroke-width="0.70" stroke-linejoin="round" />
<polygon points="494.31,534.48 492.42,531.88 495.02,530.38 496.91,532.98" fill="#fafcfa" stroke="#000" stroke-width="1.00" stroke-linejoin="round" />
<polygon points="492.42,531.88 492.89,530.72 495.49,529.22 495.02,530.38" fill="#555" stroke="#000" stroke-width="0.70" stroke-linejoin="round" />
<polygon points="465.00,478.70 462.70,478.27 465.30,476.77 467.60,477.20" fill="#fafcfa" stroke="#000" stroke-width="1.00" stroke-linejoin="round" />
<polygon points="466.04,481.67 465.00,478.70 467.60,477.20 468.63,480.17" fill="#fafcfa" stroke="#000" stroke-width="1.00" stroke-linejoin="round" />
<polygon points="467.32,482.07 466.04,481.67 468.63,480.17 469.92,480.57" fill="#555" stroke="#000" stroke-width="0.70" stroke-linejoin="round" />
<polygon points="495.17,532.36 495.81,530.03 498.41,528.53 497.77,530.86" fill="#fafcfa" stroke="#000" stroke-width="1.00" stroke-linejoin="round" />
<polygon points="495.81,530.03 493.70,527.75 496.30,526.25 498.41,528.53" fill="#fafcfa" stroke="#000" stroke-width="1.00" stroke-linejoin="round" />
<polygon points="493.70,527.75 493.92,526.38 496.52,524.88 496.30,526.25" fill="#555" stroke="#000" stroke-width="0.70" stroke-linejoin="round" />
<polygon points="469.76,480.47 467.36,479.44 469.96,477.94 472.36,478.97" fill="#fafcfa" stroke="#000" stroke-width="1.00" stroke-linejoin="round" />
<polygon points="471.70,484.10 470.38,483.38 472.98,481.88 474.30,482.60" fill="#555" stroke="#000" stroke-width="0.70" stroke-linejoin="round" />
<polygon points="470.38,483.38 469.76,480.47 472.36,478.97 472.98,481.88" fill="#fafcfa" stroke="#000" stroke-width="1.00" stroke-linejoin="round" />
<polygon points="496.21,527.50 496.38,524.81 498.98,523.31 498.81,526.00" fill="#fafcfa" stroke="#000" stroke-width="1.00" stroke-linejoin="round" />
<polygon points="494.13,522.95 494.09,521.40 496.69,519.90 496.73,521.45" fill="#555" stroke="#000" stroke-width="0.70" stroke-linejoin="round" />
<polygon points="496.38,524.81 494.13,522.95 496.73,521.45 498.98,523.31" fill="#fafcfa" stroke="#000" stroke-width="1.00" stroke-linejoin="round" />
<polygon points="476.08,487.12 474.77,486.12 477.37,484.62 478.67,485.62" fill="#555" stroke="#000" stroke-width="0.70" stroke-linejoin="round" />
<polygon points="474.60,483.37 472.18,481.79 474.78,480.29 477.20,481.87" fill="#fafcfa" stroke="#000" stroke-width="1.00" stroke-linejoin="round" />
<polygon points="474.77,486.12 474.60,483.37 477.20,481.87 477.37,484.62" fill="#fafcfa" stroke="#000" stroke-width="1.00" stroke-linejoin="round" />
<polygon points="493.70,517.65 493.40,515.99 496.00,514.49 496.30,516.15" fill="#555" stroke="#000" stroke-width="0.70" stroke-linejoin="round" />
<polygon points="496.00,519.02 493.70,517.65 496.30,516.15 498.60,517.52" fill="#fafcfa" stroke="#000" stroke-width="1.00" stroke-linejoin="round" />
<polygon points="496.31,521.97 496.00,519.02 498.60,517.52 498.90,520.47" fill="#fafcfa" stroke="#000" stroke-width="1.00" stroke-linejoin="round" />
<polygon points="480.28,491.03 479.05,489.77 481.65,488.27 482.88,489.53" fill="#555" stroke="#000" stroke-width="0.70" stroke-linejoin="round" />
<polygon points="492.42,512.05 491.88,510.35 494.48,508.85 495.02,510.55" fill="#555" stroke="#000" stroke-width="0.70" stroke-linejoin="round" />
<polygon points="479.05,489.77 479.33,487.30 481.93,485.80 481.65,488.27" fill="#fafcfa" stroke="#000" stroke-width="1.00" stroke-linejoin="round" />
<polygon points="479.33,487.30 476.99,485.22 479.59,483.72 481.93,485.80" fill="#fafcfa" stroke="#000" stroke-width="1.00" stroke-linejoin="round" />
<polygon points="494.68,512.88 492.42,512.05 495.02,510.55 497.28,511.38" fill="#fafcfa" stroke="#000" stroke-width="1.00" stroke-linejoin="round" />
<polygon points="484.16,495.66 483.04,494.20 485.64,492.70 486.76,494.16" fill="#555" stroke="#000" stroke-width="0.70" stroke-linejoin="round" />
<polygon points="495.46,515.98 494.68,512.88 497.28,511.38 498.05,514.48" fill="#fafcfa" stroke="#000" stroke-width="1.00" stroke-linejoin="round" />
<polygon points="490.35,506.38 489.58,504.69 492.18,503.19 492.95,504.88" fill="#555" stroke="#000" stroke-width="0.70" stroke-linejoin="round" />
<polygon points="487.56,500.84 486.60,499.24 489.20,497.74 490.16,499.34" fill="#555" stroke="#000" stroke-width="0.70" stroke-linejoin="round" />
<polygon points="483.04,494.20 483.76,492.10 486.36,490.60 485.64,492.70" fill="#fafcfa" stroke="#000" stroke-width="1.00" stroke-linejoin="round" />
<polygon points="492.49,506.64 490.35,506.38 492.95,504.88 495.09,505.14" fill="#fafcfa" stroke="#000" stroke-width="1.00" stroke-linejoin="round" />
<polygon points="485.81,494.77 484.16,495.66 486.76,494.16 488.41,493.27" fill="#fafcfa" stroke="#000" stroke-width="1.00" stroke-linejoin="round" />
<polygon points="489.58,504.69 491.08,503.55 493.68,502.05 492.18,503.19" fill="#fafcfa" stroke="#000" stroke-width="1.00" stroke-linejoin="round" />
<polygon points="483.76,492.10 481.59,489.60 484.19,488.10 486.36,490.60" fill="#fafcfa" stroke="#000" stroke-width="1.00" stroke-linejoin="round" />
<polygon points="486.60,499.24 487.73,497.58 490.33,496.08 489.20,497.74" fill="#fafcfa" stroke="#000" stroke-width="1.00" stroke-linejoin="round" />
<polygon points="489.49,500.52 487.56,500.84 490.16,499.34 492.09,499.02" fill="#fafcfa" stroke="#000" stroke-width="1.00" stroke-linejoin="round" />
<polygon points="493.69,509.76 492.49,506.64 495.09,505.14 496.29,508.26" fill="#fafcfa" stroke="#000" stroke-width="1.00" stroke-linejoin="round" />
<polygon points="487.73,497.58 485.81,494.77 488.41,493.27 490.33,496.08" fill="#fafcfa" stroke="#000" stroke-width="1.00" stroke-linejoin="round" />
<polygon points="491.08,503.55 489.49,500.52 492.09,499.02 493.68,502.05" fill="#fafcfa" stroke="#000" stroke-width="1.00" stroke-linejoin="round" />
<path d="M494.13,522.95 L494.09,521.40 L496.31,521.97 L496.00,519.02 L493.70,517.65 L493.40,515.99 L495.46,515.98 L494.68,512.88 L492.42,512.05 L491.88,510.35 L493.69,509.76 L492.49,506.64 L490.35,506.38 L489.58,504.69 L491.08,503.55 L489.49,500.52 L487.56,500.84 L486.60,499.24 L487.73,497.58 L485.81,494.77 L484.16,495.66 L483.04,494.20 L483.76,492.10 L481.59,489.60 L480.28,491.03 L479.05,489.77 L479.33,487.30 L476.99,485.22 L476.08,487.12 L474.77,486.12 L474.60,483.37 L472.18,481.79 L471.70,484.10 L470.38,483.38 L469.76,480.47 L467.36,479.44 L467.32,482.07 L466.04,481.67 L465.00,478.70 L462.70,478.27 L463.12,481.12 L461.91,481.05 L460.49,478.14 L458.39,478.31 L459.24,481.27 L458.16,481.53 L456.42,478.80 L454.59,479.58 L455.84,482.53 L454.93,483.12 L452.93,480.65 L451.45,482.01 L453.05,484.84 L452.35,485.73 L450.17,483.64 L449.09,485.52 L450.98,488.12 L450.51,489.28 L448.23,487.64 L447.59,489.97 L449.70,492.25 L449.48,493.62 L447.19,492.50 L447.02,495.19 L449.27,497.05 L449.31,498.60 L447.09,498.03 L447.40,500.98 L449.70,502.35 L450.00,504.01 L447.94,504.02 L448.72,507.12 L450.98,507.95 L451.52,509.65 L449.71,510.24 L450.91,513.36 L453.05,513.62 L453.82,515.31 L452.32,516.45 L453.91,519.48 L455.84,519.16 L456.80,520.76 L455.67,522.42 L457.59,525.23 L459.24,524.34 L460.36,525.80 L459.64,527.90 L461.81,530.40 L463.12,528.97 L464.35,530.23 L464.07,532.70 L466.41,534.78 L467.32,532.88 L468.63,533.88 L468.80,536.63 L471.22,538.21 L471.70,535.90 L473.02,536.62 L473.64,539.53 L476.04,540.56 L476.08,537.93 L477.36,538.33 L478.40,541.30 L480.70,541.73 L480.28,538.88 L481.49,538.95 L482.91,541.86 L485.01,541.69 L484.16,538.73 L485.24,538.47 L486.98,541.20 L488.81,540.42 L487.56,537.47 L488.47,536.88 L490.47,539.35 L491.95,537.99 L490.35,535.16 L491.05,534.27 L493.23,536.36 L494.31,534.48 L492.42,531.88 L492.89,530.72 L495.17,532.36 L495.81,530.03 L493.70,527.75 L493.92,526.38 L496.21,527.50 L496.38,524.81Z M485.56,518.00 L485.49,516.39 L485.29,514.72 L484.96,513.01 L484.50,511.27 L483.92,509.51 L483.22,507.76 L482.41,506.03 L481.50,504.34 L480.49,502.71 L479.40,501.14 L478.23,499.66 L477.00,498.28 L475.72,497.01 L474.40,495.87 L473.06,494.86 L471.70,494.00 L470.34,493.29 L469.00,492.75 L467.68,492.37 L466.40,492.16 L465.17,492.12 L464.00,492.25 L462.91,492.56 L461.90,493.03 L460.99,493.67 L460.18,494.46 L459.48,495.40 L458.90,496.49 L458.44,497.70 L458.11,499.03 L457.91,500.47 L457.84,502.00 L457.91,503.61 L458.11,505.28 L458.44,506.99 L458.90,508.73 L459.48,510.49 L460.18,512.24 L460.99,513.97 L461.90,515.66 L462.91,517.29 L464.00,518.86 L465.17,520.34 L466.40,521.72 L467.68,522.99 L469.00,524.13 L470.34,525.14 L471.70,526.00 L473.06,526.71 L474.40,527.25 L475.72,527.63 L477.00,527.84 L478.23,527.88 L479.40,527.75 L480.49,527.44 L481.50,526.97 L482.41,526.33 L483.22,525.54 L483.92,524.60 L484.50,523.51 L484.96,522.30 L485.29,520.97 L485.49,519.53Z" fill="#fafcfa" stroke="#000" stroke-width="1.00" fill-rule="evenodd"/>
<ellipse cx="471.70" cy="510.00" rx="16.97" ry="29.39" transform="rotate(-30 471.70 510.00)" fill="none" stroke="#000" stroke-width="0.90" />
<rect x="486.7" y="511.5" width="2.6" height="2.2" fill="#222"/>
<rect x="477.7" y="495.0" width="2.6" height="2.2" fill="#222"/>
<rect x="464.5" y="486.7" width="2.6" height="2.2" fill="#222"/>
<rect x="454.7" y="491.4" width="2.6" height="2.2" fill="#222"/>
<rect x="454.1" y="506.3" width="2.6" height="2.2" fill="#222"/>
<rect x="463.1" y="522.8" width="2.6" height="2.2" fill="#222"/>
<rect x="476.3" y="531.1" width="2.6" height="2.2" fill="#222"/>
<rect x="486.1" y="526.4" width="2.6" height="2.2" fill="#222"/>
<polygon points="485.56,518.00 485.49,516.39 485.29,514.72 484.96,513.01 484.50,511.27 483.92,509.51 483.22,507.76 482.41,506.03 481.50,504.34 480.49,502.71 479.40,501.14 478.23,499.66 477.00,498.28 475.72,497.01 474.40,495.87 473.06,494.86 471.70,494.00 470.34,493.29 469.00,492.75 467.68,492.37 466.40,492.16 465.17,492.12 464.00,492.25 462.91,492.56 461.90,493.03 460.99,493.67 460.18,494.46 459.48,495.40 458.90,496.49 458.44,497.70 458.11,499.03 457.91,500.47 457.84,502.00 457.91,503.61 458.11,505.28 458.44,506.99 458.90,508.73 459.48,510.49 460.18,512.24 460.99,513.97 461.90,515.66 462.91,517.29 464.00,518.86 465.17,520.34 466.40,521.72 467.68,522.99 469.00,524.13 470.34,525.14 471.70,526.00 473.06,526.71 474.40,527.25 475.72,527.63 477.00,527.84 478.23,527.88 479.40,527.75 480.49,527.44 481.50,526.97 482.41,526.33 483.22,525.54 483.92,524.60 484.50,523.51 484.96,522.30 485.29,520.97 485.49,519.53" fill="#1a1a1a" stroke="#000" stroke-width="1.10" stroke-linejoin="round" />
<g clip-path="url(#c7)"><line x1="464.62" y1="493.67" x2="485.40" y2="481.67" stroke="#e8e8e8" stroke-width="1.1"/><line x1="461.10" y1="495.70" x2="481.89" y2="483.70" stroke="#e8e8e8" stroke-width="1.1"/><line x1="459.20" y1="499.91" x2="479.98" y2="487.91" stroke="#e8e8e8" stroke-width="1.1"/><line x1="459.20" y1="505.65" x2="479.98" y2="493.65" stroke="#e8e8e8" stroke-width="1.1"/><line x1="461.10" y1="512.06" x2="481.89" y2="500.06" stroke="#e8e8e8" stroke-width="1.1"/><line x1="464.62" y1="518.15" x2="485.40" y2="506.15" stroke="#e8e8e8" stroke-width="1.1"/><line x1="469.21" y1="523.00" x2="490.00" y2="511.00" stroke="#e8e8e8" stroke-width="1.1"/><line x1="474.19" y1="525.87" x2="494.97" y2="513.87" stroke="#e8e8e8" stroke-width="1.1"/><line x1="478.78" y1="526.33" x2="499.57" y2="514.33" stroke="#e8e8e8" stroke-width="1.1"/><line x1="482.30" y1="524.30" x2="503.08" y2="512.30" stroke="#e8e8e8" stroke-width="1.1"/></g>
<polygon points="483.62,516.88 483.48,514.70 485.32,514.93 484.66,511.83 482.71,511.09 481.88,508.74 483.31,507.97 481.80,504.88 480.13,505.14 478.74,502.97 479.53,501.32 477.40,498.71 476.26,499.92 474.53,498.27 474.56,496.00 472.14,494.26 471.70,496.24 469.88,495.35 469.16,492.80 466.80,492.21 467.14,494.65 465.51,494.67 464.14,492.23 462.21,492.86 463.27,495.41 462.09,496.32 460.27,494.36 459.07,496.12 460.69,498.38 460.12,500.05 458.14,498.87 457.85,501.50 459.78,503.12 459.92,505.30 458.08,505.07 458.74,508.17 460.69,508.91 461.52,511.26 460.09,512.03 461.60,515.12 463.27,514.86 464.66,517.03 463.87,518.68 466.00,521.29 467.14,520.08 468.87,521.73 468.84,524.00 471.26,525.74 471.70,523.76 473.52,524.65 474.24,527.20 476.60,527.79 476.26,525.35 477.89,525.33 479.26,527.77 481.19,527.14 480.13,524.59 481.31,523.68 483.13,525.64 484.33,523.88 482.71,521.62 483.28,519.95 485.26,521.13 485.55,518.50" fill="none" stroke="#e8e8e8" stroke-width="0.70" stroke-linejoin="round" />
<polygon points="569.74,484.32 571.08,483.39 572.26,482.23 573.29,480.85 574.14,479.26 574.81,477.49 575.29,475.54 575.58,473.44 575.68,471.20 575.58,468.85 575.29,466.41 574.81,463.90 574.14,461.35 573.29,458.79 572.26,456.23 571.08,453.70 569.74,451.23 568.27,448.83 566.67,446.54 564.97,444.38 563.17,442.36 561.30,440.50 559.37,438.83 557.40,437.36 555.41,436.10 553.43,435.07 551.46,434.27 549.53,433.71 547.66,433.40 545.86,433.35 544.16,433.54 542.56,433.99 541.08,434.68 547.15,431.18 548.62,430.49 550.22,430.04 551.92,429.85 553.72,429.90 555.59,430.21 557.52,430.77 559.49,431.57 561.48,432.60 563.46,433.86 565.43,435.33 567.36,437.00 569.23,438.86 571.03,440.88 572.73,443.04 574.33,445.33 575.81,447.73 577.14,450.20 578.33,452.73 579.35,455.29 580.20,457.85 580.87,460.40 581.35,462.91 581.64,465.35 581.74,467.70 581.64,469.94 581.35,472.04 580.87,473.99 580.20,475.76 579.35,477.35 578.33,478.73 577.14,479.89 575.81,480.82" fill="#555" stroke="none" stroke-width="0.00" stroke-linejoin="round" />
<polygon points="569.53,487.78 568.44,484.95 574.50,481.45 575.59,484.28" fill="#fafcfa" stroke="#000" stroke-width="1.00" stroke-linejoin="round" />
<polygon points="541.59,434.41 539.83,431.87 545.89,428.37 547.66,430.91" fill="#fafcfa" stroke="#000" stroke-width="1.00" stroke-linejoin="round" />
<polygon points="571.00,487.13 572.34,486.27 578.40,482.77 577.06,483.63" fill="#fafcfa" stroke="#000" stroke-width="1.00" stroke-linejoin="round" />
<polygon points="542.39,434.05 541.59,434.41 547.66,430.91 548.45,430.55" fill="#555" stroke="#000" stroke-width="0.70" stroke-linejoin="round" />
<polygon points="572.34,486.27 570.94,483.50 577.00,480.00 578.40,482.77" fill="#fafcfa" stroke="#000" stroke-width="1.00" stroke-linejoin="round" />
<polygon points="570.94,483.50 571.60,482.93 577.66,479.43 577.00,480.00" fill="#555" stroke="#000" stroke-width="0.70" stroke-linejoin="round" />
<polygon points="542.87,430.79 541.30,431.22 547.36,427.72 548.93,427.29" fill="#fafcfa" stroke="#000" stroke-width="1.00" stroke-linejoin="round" />
<polygon points="544.38,433.50 542.87,430.79 548.93,427.29 550.44,430.00" fill="#fafcfa" stroke="#000" stroke-width="1.00" stroke-linejoin="round" />
<polygon points="573.56,485.20 574.64,483.94 580.70,480.44 579.62,481.70" fill="#fafcfa" stroke="#000" stroke-width="1.00" stroke-linejoin="round" />
<polygon points="545.28,433.39 544.38,433.50 550.44,430.00 551.34,429.89" fill="#555" stroke="#000" stroke-width="0.70" stroke-linejoin="round" />
<polygon points="574.64,483.94 572.96,481.33 579.03,477.83 580.70,480.44" fill="#fafcfa" stroke="#000" stroke-width="1.00" stroke-linejoin="round" />
<polygon points="572.96,481.33 573.47,480.55 579.53,477.05 579.03,477.83" fill="#555" stroke="#000" stroke-width="0.70" stroke-linejoin="round" />
<polygon points="546.29,430.57 544.54,430.57 550.60,427.07 552.35,427.07" fill="#fafcfa" stroke="#000" stroke-width="1.00" stroke-linejoin="round" />
<polygon points="547.50,433.39 546.29,430.57 552.35,427.07 553.56,429.89" fill="#fafcfa" stroke="#000" stroke-width="1.00" stroke-linejoin="round" />
<polygon points="548.48,433.51 547.50,433.39 553.56,429.89 554.54,430.01" fill="#555" stroke="#000" stroke-width="0.70" stroke-linejoin="round" />
<polygon points="575.57,482.49 576.35,480.87 582.42,477.37 581.64,478.99" fill="#fafcfa" stroke="#000" stroke-width="1.00" stroke-linejoin="round" />
<polygon points="576.35,480.87 574.46,478.50 580.52,475.00 582.42,477.37" fill="#fafcfa" stroke="#000" stroke-width="1.00" stroke-linejoin="round" />
<polygon points="574.46,478.50 574.79,477.53 580.86,474.03 580.52,475.00" fill="#555" stroke="#000" stroke-width="0.70" stroke-linejoin="round" />
<polygon points="549.99,431.24 548.11,430.79 554.17,427.29 556.05,427.74" fill="#fafcfa" stroke="#000" stroke-width="1.00" stroke-linejoin="round" />
<polygon points="550.86,434.07 549.99,431.24 556.05,427.74 556.92,430.57" fill="#fafcfa" stroke="#000" stroke-width="1.00" stroke-linejoin="round" />
<polygon points="551.89,434.42 550.86,434.07 556.92,430.57 557.96,430.92" fill="#555" stroke="#000" stroke-width="0.70" stroke-linejoin="round" />
<polygon points="576.97,479.09 577.43,477.15 583.49,473.65 583.04,475.59" fill="#fafcfa" stroke="#000" stroke-width="1.00" stroke-linejoin="round" />
<polygon points="575.37,475.09 575.53,473.96 581.59,470.46 581.43,471.59" fill="#555" stroke="#000" stroke-width="0.70" stroke-linejoin="round" />
<polygon points="577.43,477.15 575.37,475.09 581.43,471.59 583.49,473.65" fill="#fafcfa" stroke="#000" stroke-width="1.00" stroke-linejoin="round" />
<polygon points="555.41,436.10 554.35,435.52 560.42,432.02 561.48,432.60" fill="#555" stroke="#000" stroke-width="0.70" stroke-linejoin="round" />
<polygon points="553.85,432.76 551.91,431.89 557.97,428.39 559.91,429.26" fill="#fafcfa" stroke="#000" stroke-width="1.00" stroke-linejoin="round" />
<polygon points="554.35,435.52 553.85,432.76 559.91,429.26 560.42,432.02" fill="#fafcfa" stroke="#000" stroke-width="1.00" stroke-linejoin="round" />
<polygon points="575.68,471.20 575.65,469.96 581.71,466.46 581.74,467.70" fill="#555" stroke="#000" stroke-width="0.70" stroke-linejoin="round" />
<polygon points="577.72,475.09 577.84,472.90 583.90,469.40 583.78,471.59" fill="#fafcfa" stroke="#000" stroke-width="1.00" stroke-linejoin="round" />
<polygon points="577.84,472.90 575.68,471.20 581.74,467.70 583.90,469.40" fill="#fafcfa" stroke="#000" stroke-width="1.00" stroke-linejoin="round" />
<polygon points="558.93,438.49 557.88,437.70 563.95,434.20 565.00,434.99" fill="#555" stroke="#000" stroke-width="0.70" stroke-linejoin="round" />
<polygon points="557.88,437.70 557.76,435.10 563.82,431.60 563.95,434.20" fill="#fafcfa" stroke="#000" stroke-width="1.00" stroke-linejoin="round" />
<polygon points="557.76,435.10 555.81,433.83 561.87,430.33 563.82,431.60" fill="#fafcfa" stroke="#000" stroke-width="1.00" stroke-linejoin="round" />
<polygon points="575.37,466.96 575.16,465.64 581.22,462.14 581.43,463.46" fill="#555" stroke="#000" stroke-width="0.70" stroke-linejoin="round" />
<polygon points="577.57,468.24 575.37,466.96 581.43,463.46 583.63,464.74" fill="#fafcfa" stroke="#000" stroke-width="1.00" stroke-linejoin="round" />
<polygon points="577.79,470.61 577.57,468.24 583.63,464.74 583.85,467.11" fill="#fafcfa" stroke="#000" stroke-width="1.00" stroke-linejoin="round" />
<polygon points="562.34,441.51 561.34,440.54 567.40,437.04 568.41,438.01" fill="#555" stroke="#000" stroke-width="0.70" stroke-linejoin="round" />
<polygon points="574.46,462.49 574.07,461.13 580.13,457.63 580.52,458.99" fill="#555" stroke="#000" stroke-width="0.70" stroke-linejoin="round" />
<polygon points="561.34,440.54 561.60,438.17 567.66,434.67 567.40,437.04" fill="#fafcfa" stroke="#000" stroke-width="1.00" stroke-linejoin="round" />
<polygon points="561.60,438.17 559.69,436.55 565.76,433.05 567.66,434.67" fill="#fafcfa" stroke="#000" stroke-width="1.00" stroke-linejoin="round" />
<polygon points="576.62,463.31 574.46,462.49 580.52,458.99 582.68,459.81" fill="#fafcfa" stroke="#000" stroke-width="1.00" stroke-linejoin="round" />
<polygon points="565.55,445.09 564.61,443.96 570.68,440.46 571.61,441.59" fill="#555" stroke="#000" stroke-width="0.70" stroke-linejoin="round" />
<polygon points="577.18,465.80 576.62,463.31 582.68,459.81 583.24,462.30" fill="#fafcfa" stroke="#000" stroke-width="1.00" stroke-linejoin="round" />
<polygon points="572.96,457.93 572.41,456.57 578.47,453.07 579.03,454.43" fill="#555" stroke="#000" stroke-width="0.70" stroke-linejoin="round" />
<polygon points="568.44,449.10 567.61,447.85 573.67,444.35 574.50,445.60" fill="#555" stroke="#000" stroke-width="0.70" stroke-linejoin="round" />
<polygon points="570.94,453.42 570.23,452.10 576.30,448.60 577.00,449.92" fill="#555" stroke="#000" stroke-width="0.70" stroke-linejoin="round" />
<polygon points="564.61,443.96 565.25,441.90 571.31,438.40 570.68,440.46" fill="#fafcfa" stroke="#000" stroke-width="1.00" stroke-linejoin="round" />
<polygon points="575.03,458.27 572.96,457.93 579.03,454.43 581.09,454.77" fill="#fafcfa" stroke="#000" stroke-width="1.00" stroke-linejoin="round" />
<polygon points="565.25,441.90 563.45,439.96 569.51,436.46 571.31,438.40" fill="#fafcfa" stroke="#000" stroke-width="1.00" stroke-linejoin="round" />
<polygon points="567.61,447.85 568.60,446.16 574.66,442.66 573.67,444.35" fill="#fafcfa" stroke="#000" stroke-width="1.00" stroke-linejoin="round" />
<polygon points="572.85,453.26 570.94,453.42 577.00,449.92 578.91,449.76" fill="#fafcfa" stroke="#000" stroke-width="1.00" stroke-linejoin="round" />
<polygon points="575.90,460.80 575.03,458.27 581.09,454.77 581.97,457.30" fill="#fafcfa" stroke="#000" stroke-width="1.00" stroke-linejoin="round" />
<polygon points="570.13,448.45 568.44,449.10 574.50,445.60 576.19,444.95" fill="#fafcfa" stroke="#000" stroke-width="1.00" stroke-linejoin="round" />
<polygon points="570.23,452.10 571.55,450.82 577.61,447.32 576.30,448.60" fill="#fafcfa" stroke="#000" stroke-width="1.00" stroke-linejoin="round" />
<polygon points="568.60,446.16 566.97,443.97 573.03,440.47 574.66,442.66" fill="#fafcfa" stroke="#000" stroke-width="1.00" stroke-linejoin="round" />
<polygon points="574.01,455.75 572.85,453.26 578.91,449.76 580.07,452.25" fill="#fafcfa" stroke="#000" stroke-width="1.00" stroke-linejoin="round" />
<polygon points="571.55,450.82 570.13,448.45 576.19,444.95 577.61,447.32" fill="#fafcfa" stroke="#000" stroke-width="1.00" stroke-linejoin="round" />
<path d="M575.68,471.20 L575.65,469.96 L577.79,470.61 L577.57,468.24 L575.37,466.96 L575.16,465.64 L577.18,465.80 L576.62,463.31 L574.46,462.49 L574.07,461.13 L575.90,460.80 L575.03,458.27 L572.96,457.93 L572.41,456.57 L574.01,455.75 L572.85,453.26 L570.94,453.42 L570.23,452.10 L571.55,450.82 L570.13,448.45 L568.44,449.10 L567.61,447.85 L568.60,446.16 L566.97,443.97 L565.55,445.09 L564.61,443.96 L565.25,441.90 L563.45,439.96 L562.34,441.51 L561.34,440.54 L561.60,438.17 L559.69,436.55 L558.93,438.49 L557.88,437.70 L557.76,435.10 L555.81,433.83 L555.41,436.10 L554.35,435.52 L553.85,432.76 L551.91,431.89 L551.89,434.42 L550.86,434.07 L549.99,431.24 L548.11,430.79 L548.48,433.51 L547.50,433.39 L546.29,430.57 L544.54,430.57 L545.28,433.39 L544.38,433.50 L542.87,430.79 L541.30,431.22 L542.39,434.05 L541.59,434.41 L539.83,431.87 L538.49,432.73 L539.89,435.50 L539.23,436.07 L537.27,433.80 L536.19,435.06 L537.86,437.67 L537.36,438.45 L535.25,436.51 L534.47,438.13 L536.37,440.50 L536.03,441.47 L533.85,439.91 L533.40,441.85 L535.46,443.91 L535.30,445.04 L533.11,443.91 L532.99,446.10 L535.15,447.80 L535.18,449.04 L533.04,448.39 L533.26,450.76 L535.46,452.04 L535.67,453.36 L533.65,453.20 L534.21,455.69 L536.37,456.51 L536.76,457.87 L534.92,458.20 L535.80,460.73 L537.86,461.07 L538.42,462.43 L536.82,463.25 L537.98,465.74 L539.89,465.58 L540.59,466.90 L539.28,468.18 L540.70,470.55 L542.39,469.90 L543.22,471.15 L542.23,472.84 L543.86,475.03 L545.28,473.91 L546.21,475.04 L545.58,477.10 L547.38,479.04 L548.48,477.49 L549.49,478.46 L549.23,480.83 L551.13,482.45 L551.89,480.51 L552.94,481.30 L553.07,483.90 L555.02,485.17 L555.41,482.90 L556.47,483.48 L556.98,486.24 L558.92,487.11 L558.93,484.58 L559.97,484.93 L560.84,487.76 L562.72,488.21 L562.34,485.49 L563.33,485.61 L564.54,488.43 L566.29,488.43 L565.55,485.61 L566.45,485.50 L567.96,488.21 L569.53,487.78 L568.44,484.95 L569.23,484.59 L571.00,487.13 L572.34,486.27 L570.94,483.50 L571.60,482.93 L573.56,485.20 L574.64,483.94 L572.96,481.33 L573.47,480.55 L575.57,482.49 L576.35,480.87 L574.46,478.50 L574.79,477.53 L576.97,479.09 L577.43,477.15 L575.37,475.09 L575.53,473.96 L577.72,475.09 L577.84,472.90Z M573.51,469.95 L573.43,467.85 L573.17,465.67 L572.73,463.43 L572.14,461.16 L571.38,458.86 L570.46,456.58 L569.41,454.32 L568.21,452.11 L566.90,449.97 L565.47,447.93 L563.95,445.99 L562.34,444.19 L560.67,442.53 L558.94,441.04 L557.19,439.72 L555.41,438.60 L553.64,437.68 L551.88,436.96 L550.16,436.47 L548.49,436.19 L546.88,436.14 L545.36,436.32 L543.93,436.71 L542.62,437.33 L541.42,438.16 L540.36,439.20 L539.45,440.43 L538.69,441.85 L538.09,443.43 L537.66,445.17 L537.40,447.05 L537.31,449.05 L537.40,451.15 L537.66,453.33 L538.09,455.57 L538.69,457.84 L539.45,460.14 L540.36,462.42 L541.42,464.68 L542.62,466.89 L543.93,469.03 L545.36,471.07 L546.88,473.01 L548.49,474.81 L550.16,476.47 L551.88,477.96 L553.64,479.28 L555.41,480.40 L557.19,481.32 L558.94,482.04 L560.67,482.53 L562.34,482.81 L563.95,482.86 L565.47,482.68 L566.90,482.29 L568.21,481.67 L569.41,480.84 L570.46,479.80 L571.38,478.57 L572.14,477.15 L572.73,475.57 L573.17,473.83 L573.43,471.95Z" fill="#fafcfa" stroke="#000" stroke-width="1.00" fill-rule="evenodd"/>
<polygon points="561.98,490.07 563.37,489.11 564.60,487.90 565.66,486.47 566.54,484.82 567.24,482.98 567.74,480.96 568.04,478.77 568.14,476.45 568.04,474.01 567.74,471.48 567.24,468.87 566.54,466.23 565.66,463.56 564.60,460.90 563.37,458.28 561.98,455.71 560.45,453.22 558.79,450.85 557.02,448.60 555.15,446.50 553.21,444.57 551.21,442.84 549.16,441.31 547.10,440.00 545.04,438.93 542.99,438.10 540.99,437.52 539.05,437.20 537.18,437.14 535.41,437.35 533.75,437.81 532.22,438.53 540.53,433.73 542.06,433.01 543.72,432.55 545.49,432.34 547.36,432.40 549.30,432.72 551.31,433.30 553.35,434.13 555.41,435.20 557.48,436.51 559.52,438.04 561.52,439.77 563.47,441.70 565.33,443.80 567.11,446.05 568.76,448.42 570.29,450.91 571.68,453.48 572.91,456.10 573.97,458.76 574.86,461.43 575.55,464.07 576.05,466.68 576.36,469.21 576.46,471.65 576.36,473.97 576.05,476.16 575.55,478.18 574.86,480.02 573.97,481.67 572.91,483.10 571.68,484.31 570.29,485.27" fill="#fafcfa" stroke="#000" stroke-width="1.25" stroke-linejoin="round" />
<polyline points="563.33,488.77 565.70,487.91 567.76,486.50 569.48,484.57 570.81,482.16 571.73,479.33 572.22,476.12 572.27,472.62 571.87,468.89 571.03,465.01 569.78,461.06 568.14,457.13 566.14,453.31 563.82,449.66 561.24,446.28 558.45,443.22 555.51,440.56 552.48,438.35 549.42,436.63 546.40,435.45 543.49,434.83 540.73,434.78 538.20,435.30 535.95,436.39 534.02,438.01" fill="none" stroke="#000" stroke-width="1.20" stroke-linejoin="round" />
<path d="M568.14,476.45 L568.04,474.01 L567.74,471.48 L567.24,468.87 L566.54,466.23 L565.66,463.56 L564.60,460.90 L563.37,458.28 L561.98,455.71 L560.45,453.22 L558.79,450.85 L557.02,448.60 L555.15,446.50 L553.21,444.57 L551.21,442.84 L549.16,441.31 L547.10,440.00 L545.04,438.93 L542.99,438.10 L540.99,437.52 L539.05,437.20 L537.18,437.14 L535.41,437.35 L533.75,437.81 L532.22,438.53 L530.83,439.49 L529.60,440.70 L528.54,442.13 L527.66,443.78 L526.96,445.62 L526.46,447.64 L526.16,449.83 L526.06,452.15 L526.16,454.59 L526.46,457.12 L526.96,459.73 L527.66,462.37 L528.54,465.04 L529.60,467.70 L530.83,470.32 L532.22,472.89 L533.75,475.38 L535.41,477.75 L537.18,480.00 L539.05,482.10 L540.99,484.03 L542.99,485.76 L545.04,487.29 L547.10,488.60 L549.16,489.67 L551.21,490.50 L553.21,491.08 L555.15,491.40 L557.02,491.46 L558.79,491.25 L560.45,490.79 L561.98,490.07 L563.37,489.11 L564.60,487.90 L565.66,486.47 L566.54,484.82 L567.24,482.98 L567.74,480.96 L568.04,478.77Z M565.03,474.65 L564.94,472.57 L564.68,470.41 L564.25,468.20 L563.66,465.94 L562.91,463.67 L562.01,461.41 L560.96,459.17 L559.78,456.98 L558.47,454.86 L557.06,452.84 L555.55,450.92 L553.96,449.14 L552.30,447.50 L550.60,446.02 L548.86,444.71 L547.10,443.60 L545.34,442.69 L543.60,441.98 L541.90,441.49 L540.24,441.21 L538.65,441.17 L537.14,441.34 L535.73,441.73 L534.42,442.34 L533.24,443.17 L532.19,444.19 L531.29,445.41 L530.54,446.82 L529.95,448.39 L529.52,450.11 L529.26,451.97 L529.17,453.95 L529.26,456.03 L529.52,458.19 L529.95,460.40 L530.54,462.66 L531.29,464.93 L532.19,467.19 L533.24,469.43 L534.42,471.62 L535.73,473.74 L537.14,475.76 L538.65,477.68 L540.24,479.46 L541.90,481.10 L543.60,482.58 L545.34,483.89 L547.10,485.00 L548.86,485.91 L550.60,486.62 L552.30,487.11 L553.96,487.39 L555.55,487.43 L557.06,487.26 L558.47,486.87 L559.78,486.26 L560.96,485.43 L562.01,484.41 L562.91,483.19 L563.66,481.78 L564.25,480.21 L564.68,478.49 L564.94,476.63Z" fill="#fafcfa" stroke="#000" stroke-width="1.30" fill-rule="evenodd"/>
<ellipse cx="547.10" cy="464.30" rx="15.77" ry="27.31" transform="rotate(-30 547.10 464.30)" fill="none" stroke="#000" stroke-width="0.90" />
<polyline points="549.26,438.19 546.71,438.08 544.40,438.57 542.38,439.65 540.71,441.29 539.44,443.45 538.60,446.07 538.23,449.06 538.32,452.35 538.88,455.85 539.88,459.46 541.31,463.07 543.13,466.59 545.27,469.92 547.69,472.97 550.31,475.65 553.06,477.88 555.86,479.60 558.64,480.77 561.32,481.36 563.83,481.34 566.08,480.72 568.03,479.51 569.62,477.75 570.79,475.49" fill="none" stroke="#000" stroke-width="1.00" stroke-linejoin="round" />
<polyline points="533.76,444.55 542.09,439.74" fill="none" stroke="#333" stroke-width="2.20" stroke-linejoin="round" />
<polyline points="531.49,455.04 539.82,450.23" fill="none" stroke="#333" stroke-width="2.20" stroke-linejoin="round" />
<polyline points="535.50,468.52 543.83,463.71" fill="none" stroke="#333" stroke-width="2.20" stroke-linejoin="round" />
<polyline points="544.33,480.11 552.66,475.30" fill="none" stroke="#333" stroke-width="2.20" stroke-linejoin="round" />
<polyline points="554.79,485.63 563.12,480.82" fill="none" stroke="#333" stroke-width="2.20" stroke-linejoin="round" />
<polygon points="226.56,771.37 227.19,770.93 227.75,770.38 228.23,769.74 228.63,768.99 228.94,768.16 229.17,767.24 229.30,766.25 229.35,765.20 229.30,764.10 229.17,762.95 228.94,761.77 228.63,760.57 228.23,759.37 227.75,758.16 227.19,756.97 226.56,755.81 225.87,754.69 225.12,753.61 224.31,752.59 223.47,751.64 222.59,750.77 221.68,749.98 220.76,749.29 219.82,748.70 218.89,748.21 217.97,747.84 217.06,747.58 216.18,747.43 215.33,747.41 214.53,747.50 213.78,747.71 213.09,748.03 229.54,738.53 230.24,738.21 230.99,738.00 231.79,737.91 232.63,737.93 233.51,738.08 234.42,738.34 235.35,738.71 236.28,739.20 237.21,739.79 238.14,740.48 239.04,741.27 239.92,742.14 240.77,743.09 241.57,744.11 242.32,745.19 243.01,746.31 243.64,747.47 244.20,748.66 244.68,749.87 245.08,751.07 245.39,752.27 245.62,753.45 245.76,754.60 245.81,755.70 245.76,756.75 245.62,757.74 245.39,758.66 245.08,759.49 244.68,760.24 244.20,760.88 243.64,761.43 243.01,761.87" fill="#888" stroke="none" stroke-width="0.00" stroke-linejoin="round" />
<polygon points="213.05,748.05 211.27,745.56 227.73,736.06 229.51,738.55" fill="#fafcfa" stroke="#000" stroke-width="0.90" stroke-linejoin="round" />
<polygon points="228.23,773.94 226.86,771.18 243.32,761.68 244.68,764.44" fill="#fafcfa" stroke="#000" stroke-width="0.90" stroke-linejoin="round" />
<polygon points="214.08,747.61 213.05,748.05 229.51,738.55 230.54,738.11" fill="#888" stroke="#000" stroke-width="0.63" stroke-linejoin="round" />
<polygon points="226.86,771.18 227.71,770.42 244.17,760.92 243.32,761.68" fill="#888" stroke="#000" stroke-width="0.63" stroke-linejoin="round" />
<polygon points="214.73,744.61 213.06,744.78 229.51,735.28 231.18,735.11" fill="#fafcfa" stroke="#000" stroke-width="0.90" stroke-linejoin="round" />
<polygon points="229.70,772.63 230.60,771.17 247.05,761.67 246.15,763.13" fill="#fafcfa" stroke="#000" stroke-width="0.90" stroke-linejoin="round" />
<polygon points="215.93,747.41 214.73,744.61 231.18,735.11 232.38,737.91" fill="#fafcfa" stroke="#000" stroke-width="0.90" stroke-linejoin="round" />
<polygon points="217.22,747.61 215.93,747.41 232.38,737.91 233.67,738.11" fill="#888" stroke="#000" stroke-width="0.63" stroke-linejoin="round" />
<polygon points="230.60,771.17 228.71,768.80 245.16,759.30 247.05,761.67" fill="#fafcfa" stroke="#000" stroke-width="0.90" stroke-linejoin="round" />
<polygon points="228.71,768.80 229.11,767.52 245.56,758.02 245.16,759.30" fill="#888" stroke="#000" stroke-width="0.63" stroke-linejoin="round" />
<polygon points="218.87,745.70 216.96,744.96 233.41,735.46 235.33,736.20" fill="#fafcfa" stroke="#000" stroke-width="0.90" stroke-linejoin="round" />
<polygon points="220.70,749.25 219.33,748.43 235.79,738.93 237.16,739.75" fill="#888" stroke="#000" stroke-width="0.63" stroke-linejoin="round" />
<polygon points="219.33,748.43 218.87,745.70 235.33,736.20 235.79,738.93" fill="#fafcfa" stroke="#000" stroke-width="0.90" stroke-linejoin="round" />
<polygon points="229.35,765.20 229.25,763.56 245.71,754.06 245.81,755.70" fill="#888" stroke="#000" stroke-width="0.63" stroke-linejoin="round" />
<polygon points="231.29,768.95 231.51,766.85 247.97,757.35 247.75,759.45" fill="#fafcfa" stroke="#000" stroke-width="0.90" stroke-linejoin="round" />
<polygon points="231.51,766.85 229.35,765.20 245.81,755.70 247.97,757.35" fill="#fafcfa" stroke="#000" stroke-width="0.90" stroke-linejoin="round" />
<polygon points="224.07,752.30 222.80,750.97 239.26,741.47 240.53,742.80" fill="#888" stroke="#000" stroke-width="0.63" stroke-linejoin="round" />
<polygon points="228.71,760.85 228.12,759.08 244.58,749.58 245.16,751.35" fill="#888" stroke="#000" stroke-width="0.63" stroke-linejoin="round" />
<polygon points="222.80,750.97 223.15,748.68 239.60,739.18 239.26,741.47" fill="#fafcfa" stroke="#000" stroke-width="0.90" stroke-linejoin="round" />
<polygon points="226.86,756.35 225.87,754.69 242.32,745.19 243.32,746.85" fill="#888" stroke="#000" stroke-width="0.63" stroke-linejoin="round" />
<polygon points="230.85,761.56 228.71,760.85 245.16,751.35 247.30,752.06" fill="#fafcfa" stroke="#000" stroke-width="0.90" stroke-linejoin="round" />
<polygon points="223.15,748.68 221.25,747.12 237.70,737.62 239.60,739.18" fill="#fafcfa" stroke="#000" stroke-width="0.90" stroke-linejoin="round" />
<polygon points="231.34,764.02 230.85,761.56 247.30,752.06 247.79,754.52" fill="#fafcfa" stroke="#000" stroke-width="0.90" stroke-linejoin="round" />
<polygon points="225.87,754.69 226.97,753.14 243.43,743.64 242.32,745.19" fill="#fafcfa" stroke="#000" stroke-width="0.90" stroke-linejoin="round" />
<polygon points="228.69,756.02 226.86,756.35 243.32,746.85 245.15,746.52" fill="#fafcfa" stroke="#000" stroke-width="0.90" stroke-linejoin="round" />
<polygon points="226.97,753.14 225.34,750.98 241.80,741.48 243.43,743.64" fill="#fafcfa" stroke="#000" stroke-width="0.90" stroke-linejoin="round" />
<polygon points="229.83,758.50 228.69,756.02 245.15,746.52 246.29,749.00" fill="#fafcfa" stroke="#000" stroke-width="0.90" stroke-linejoin="round" />
<polygon points="229.35,765.20 229.25,763.56 231.34,764.02 230.85,761.56 228.71,760.85 228.12,759.08 229.83,758.50 228.69,756.02 226.86,756.35 225.87,754.69 226.97,753.14 225.34,750.98 224.07,752.30 222.80,750.97 223.15,748.68 221.25,747.12 220.70,749.25 219.33,748.43 218.87,745.70 216.96,744.96 217.22,747.61 215.93,747.41 214.73,744.61 213.06,744.78 214.08,747.61 213.05,748.05 211.27,745.56 210.07,746.63 211.72,749.23 211.09,750.27 208.97,748.42 208.40,750.23 210.46,752.27 210.31,753.76 208.13,752.80 208.27,755.12 210.46,756.31 210.81,758.05 208.88,758.12 209.71,760.62 211.72,760.81 212.53,762.56 211.10,763.65 212.51,766.00 214.08,765.16 215.23,766.69 214.50,768.64 216.29,770.53 217.22,768.77 218.56,769.87 218.62,772.43 220.56,773.60 220.70,771.16 222.06,771.68 222.90,774.50 224.72,774.79 224.07,772.00 225.25,771.87 226.77,774.57 228.23,773.94 226.86,771.18 227.71,770.42 229.70,772.63 230.60,771.17 228.71,768.80 229.11,767.52 231.29,768.95 231.51,766.85" fill="#fafcfa" stroke="#000" stroke-width="0.90" stroke-linejoin="round" />
<polygon points="197.47,790.99 198.22,790.47 198.87,789.83 199.44,789.06 199.91,788.18 200.29,787.19 200.56,786.11 200.72,784.94 200.77,783.70 200.72,782.39 200.56,781.04 200.29,779.65 199.91,778.23 199.44,776.80 198.87,775.38 198.22,773.98 197.47,772.60 196.66,771.27 195.77,770.00 194.82,768.80 193.82,767.68 192.78,766.65 191.71,765.72 190.62,764.90 189.51,764.20 188.41,763.63 187.32,763.18 186.25,762.87 185.21,762.70 184.21,762.67 183.26,762.78 182.37,763.03 181.55,763.41 211.86,745.91 212.68,745.53 213.57,745.28 214.52,745.17 215.52,745.20 216.56,745.37 217.63,745.68 218.72,746.13 219.82,746.70 220.93,747.40 222.02,748.22 223.09,749.15 224.13,750.18 225.13,751.30 226.08,752.50 226.97,753.77 227.79,755.10 228.53,756.48 229.19,757.88 229.75,759.30 230.23,760.73 230.60,762.15 230.87,763.54 231.03,764.89 231.08,766.20 231.03,767.44 230.87,768.61 230.60,769.69 230.23,770.68 229.75,771.56 229.19,772.33 228.53,772.97 227.79,773.49" fill="#fafcfa" stroke="#000" stroke-width="1.25" stroke-linejoin="round" />
<ellipse cx="189.51" cy="777.20" rx="9.19" ry="15.92" transform="rotate(-30 189.51 777.20)" fill="#fafcfa" stroke="#000" stroke-width="1.25" />
<ellipse cx="202.5" cy="756.9" rx="1.6" ry="2.2" fill="#fafcfa" stroke="#000" stroke-width="0.9"/>
<polygon points="175.52,802.96 176.23,802.46 176.86,801.84 177.41,801.10 177.86,800.26 178.22,799.31 178.48,798.27 178.64,797.15 178.69,795.95 178.64,794.69 178.48,793.39 178.22,792.05 177.86,790.69 177.41,789.32 176.86,787.95 176.23,786.60 175.52,785.28 174.73,784.00 173.88,782.78 172.97,781.62 172.01,780.54 171.01,779.55 169.97,778.66 168.92,777.87 167.86,777.20 166.80,776.65 165.75,776.22 164.72,775.92 163.72,775.76 162.76,775.73 161.85,775.83 161.00,776.07 160.21,776.44 181.86,763.94 182.65,763.57 183.50,763.33 184.41,763.23 185.37,763.26 186.37,763.42 187.40,763.72 188.45,764.15 189.51,764.70 190.57,765.37 191.63,766.16 192.66,767.05 193.66,768.04 194.62,769.12 195.53,770.28 196.38,771.50 197.17,772.78 197.88,774.10 198.51,775.45 199.06,776.82 199.51,778.19 199.87,779.55 200.13,780.89 200.29,782.19 200.34,783.45 200.29,784.65 200.13,785.77 199.87,786.81 199.51,787.76 199.06,788.60 198.51,789.34 197.88,789.96 197.17,790.46" fill="#888" stroke="none" stroke-width="0.00" stroke-linejoin="round" />
<polygon points="159.57,776.88 157.69,774.50 179.34,762.00 181.22,764.38" fill="#fafcfa" stroke="#000" stroke-width="0.90" stroke-linejoin="round" />
<polygon points="176.57,805.86 177.90,805.02 199.55,792.52 198.22,793.36" fill="#fafcfa" stroke="#000" stroke-width="0.90" stroke-linejoin="round" />
<polygon points="177.90,805.02 176.41,802.31 198.06,789.81 199.55,792.52" fill="#fafcfa" stroke="#000" stroke-width="0.90" stroke-linejoin="round" />
<polygon points="160.87,773.02 159.32,773.47 180.97,760.97 182.52,760.52" fill="#fafcfa" stroke="#000" stroke-width="0.90" stroke-linejoin="round" />
<polygon points="176.41,802.31 177.19,801.43 198.84,788.93 198.06,789.81" fill="#888" stroke="#000" stroke-width="0.63" stroke-linejoin="round" />
<polygon points="162.28,775.77 160.87,773.02 182.52,760.52 183.93,763.27" fill="#fafcfa" stroke="#000" stroke-width="0.90" stroke-linejoin="round" />
<polygon points="163.51,775.74 162.28,775.77 183.93,763.27 185.16,763.24" fill="#888" stroke="#000" stroke-width="0.63" stroke-linejoin="round" />
<polygon points="179.23,803.53 180.03,801.97 201.68,789.47 200.88,791.03" fill="#fafcfa" stroke="#000" stroke-width="0.90" stroke-linejoin="round" />
<polygon points="180.03,801.97 178.10,799.67 199.75,787.17 201.68,789.47" fill="#fafcfa" stroke="#000" stroke-width="0.90" stroke-linejoin="round" />
<polygon points="178.10,799.67 178.47,798.33 200.12,785.83 199.75,787.17" fill="#888" stroke="#000" stroke-width="0.63" stroke-linejoin="round" />
<polygon points="164.80,773.35 162.96,772.98 184.61,760.48 186.45,760.85" fill="#fafcfa" stroke="#000" stroke-width="0.90" stroke-linejoin="round" />
<polygon points="165.59,776.17 164.80,773.35 186.45,760.85 187.24,763.67" fill="#fafcfa" stroke="#000" stroke-width="0.90" stroke-linejoin="round" />
<polygon points="166.97,776.73 165.59,776.17 187.24,763.67 188.62,764.23" fill="#888" stroke="#000" stroke-width="0.63" stroke-linejoin="round" />
<polygon points="178.69,795.95 178.60,794.29 200.25,781.79 200.34,783.45" fill="#888" stroke="#000" stroke-width="0.63" stroke-linejoin="round" />
<polygon points="180.65,799.70 180.85,797.59 202.50,785.09 202.30,787.20" fill="#fafcfa" stroke="#000" stroke-width="0.90" stroke-linejoin="round" />
<polygon points="180.85,797.59 178.69,795.95 200.34,783.45 202.50,785.09" fill="#fafcfa" stroke="#000" stroke-width="0.90" stroke-linejoin="round" />
<polygon points="170.52,779.12 169.15,778.03 190.80,765.53 192.17,766.62" fill="#888" stroke="#000" stroke-width="0.63" stroke-linejoin="round" />
<polygon points="169.15,778.03 169.06,775.46 190.71,762.96 190.80,765.53" fill="#fafcfa" stroke="#000" stroke-width="0.90" stroke-linejoin="round" />
<polygon points="169.06,775.46 167.13,774.30 188.78,761.80 190.71,762.96" fill="#fafcfa" stroke="#000" stroke-width="0.90" stroke-linejoin="round" />
<polygon points="178.10,791.55 177.56,789.76 199.22,777.26 199.75,779.05" fill="#888" stroke="#000" stroke-width="0.63" stroke-linejoin="round" />
<polygon points="173.78,782.65 172.57,781.16 194.22,768.66 195.43,770.15" fill="#888" stroke="#000" stroke-width="0.63" stroke-linejoin="round" />
<polygon points="180.26,792.36 178.10,791.55 199.75,779.05 201.91,779.86" fill="#fafcfa" stroke="#000" stroke-width="0.90" stroke-linejoin="round" />
<polygon points="176.41,786.95 175.48,785.21 197.13,772.71 198.06,774.45" fill="#888" stroke="#000" stroke-width="0.63" stroke-linejoin="round" />
<polygon points="180.70,794.79 180.26,792.36 201.91,779.86 202.35,782.29" fill="#fafcfa" stroke="#000" stroke-width="0.90" stroke-linejoin="round" />
<polygon points="172.57,781.16 173.20,779.10 194.85,766.60 194.22,768.66" fill="#fafcfa" stroke="#000" stroke-width="0.90" stroke-linejoin="round" />
<polygon points="173.20,779.10 171.38,777.29 193.03,764.79 194.85,766.60" fill="#fafcfa" stroke="#000" stroke-width="0.90" stroke-linejoin="round" />
<polygon points="178.32,786.84 176.41,786.95 198.06,774.45 199.97,774.34" fill="#fafcfa" stroke="#000" stroke-width="0.90" stroke-linejoin="round" />
<polygon points="175.48,785.21 176.76,783.90 198.41,771.40 197.13,772.71" fill="#fafcfa" stroke="#000" stroke-width="0.90" stroke-linejoin="round" />
<polygon points="179.35,789.32 178.32,786.84 199.97,774.34 201.00,776.82" fill="#fafcfa" stroke="#000" stroke-width="0.90" stroke-linejoin="round" />
<polygon points="176.76,783.90 175.25,781.63 196.90,769.13 198.41,771.40" fill="#fafcfa" stroke="#000" stroke-width="0.90" stroke-linejoin="round" />
<polygon points="178.69,795.95 178.60,794.29 180.70,794.79 180.26,792.36 178.10,791.55 177.56,789.76 179.35,789.32 178.32,786.84 176.41,786.95 175.48,785.21 176.76,783.90 175.25,781.63 173.78,782.65 172.57,781.16 173.20,779.10 171.38,777.29 170.52,779.12 169.15,778.03 169.06,775.46 167.13,774.30 166.97,776.73 165.59,776.17 164.80,773.35 162.96,772.98 163.51,775.74 162.28,775.77 160.87,773.02 159.32,773.47 160.53,776.27 159.57,776.88 157.69,774.50 156.61,775.72 158.34,778.25 157.76,779.38 155.62,777.62 155.11,779.48 157.19,781.48 157.04,783.00 154.87,782.05 155.00,784.35 157.19,785.59 157.50,787.34 155.54,787.31 156.28,789.80 158.34,790.15 159.08,791.95 157.53,792.83 158.81,795.24 160.53,794.66 161.62,796.30 160.65,798.01 162.33,800.08 163.51,798.64 164.83,799.94 164.55,802.29 166.45,803.79 166.97,801.64 168.36,802.48 168.81,805.21 170.72,805.98 170.52,803.35 171.85,803.62 172.96,806.44 174.68,806.40 173.78,803.58 174.90,803.26 176.57,805.86 177.90,805.02 176.41,802.31 177.19,801.43 179.23,803.53 180.03,801.97 178.10,799.67 178.47,798.33 180.65,799.70 180.85,797.59" fill="#fafcfa" stroke="#000" stroke-width="0.90" stroke-linejoin="round" />
<polygon points="163.70,810.49 164.44,809.97 165.10,809.33 165.67,808.56 166.14,807.68 166.51,806.69 166.78,805.61 166.94,804.44 167.00,803.20 166.94,801.89 166.78,800.54 166.51,799.15 166.14,797.73 165.67,796.30 165.10,794.88 164.44,793.48 163.70,792.10 162.88,790.77 161.99,789.50 161.05,788.30 160.05,787.18 159.01,786.15 157.93,785.22 156.84,784.40 155.74,783.70 154.63,783.13 153.54,782.68 152.47,782.37 151.43,782.20 150.43,782.17 149.48,782.28 148.60,782.53 147.78,782.91 159.90,775.91 160.72,775.53 161.61,775.28 162.56,775.17 163.55,775.20 164.59,775.37 165.67,775.68 166.76,776.13 167.86,776.70 168.97,777.40 170.06,778.22 171.13,779.15 172.17,780.18 173.17,781.30 174.12,782.50 175.01,783.77 175.82,785.10 176.57,786.48 177.22,787.88 177.79,789.30 178.26,790.73 178.64,792.15 178.90,793.54 179.07,794.89 179.12,796.20 179.07,797.44 178.90,798.61 178.64,799.69 178.26,800.68 177.79,801.56 177.22,802.33 176.57,802.97 175.82,803.49" fill="#fafcfa" stroke="#000" stroke-width="1.25" stroke-linejoin="round" />
<ellipse cx="155.74" cy="796.70" rx="9.19" ry="15.92" transform="rotate(-30 155.74 796.70)" fill="#fafcfa" stroke="#000" stroke-width="1.25" />
<polygon points="147.77,825.91 148.77,825.21 149.65,824.35 150.41,823.33 151.04,822.15 151.54,820.83 151.90,819.38 152.12,817.81 152.19,816.15 152.12,814.40 151.90,812.59 151.54,810.72 151.04,808.83 150.41,806.92 149.65,805.02 148.77,803.14 147.77,801.30 146.68,799.52 145.49,797.82 144.22,796.21 142.89,794.70 141.49,793.32 140.06,792.08 138.60,790.99 137.12,790.05 135.64,789.28 134.18,788.69 132.74,788.27 131.35,788.05 130.02,788.00 128.75,788.15 127.56,788.48 126.46,788.99 147.25,776.99 148.34,776.48 149.53,776.15 150.80,776.00 152.14,776.05 153.53,776.27 154.96,776.69 156.43,777.28 157.90,778.05 159.38,778.99 160.84,780.08 162.28,781.32 163.67,782.70 165.01,784.21 166.28,785.82 167.46,787.52 168.56,789.30 169.55,791.14 170.43,793.02 171.19,794.92 171.83,796.83 172.32,798.72 172.68,800.59 172.90,802.40 172.97,804.15 172.90,805.81 172.68,807.38 172.32,808.83 171.83,810.15 171.19,811.33 170.43,812.35 169.55,813.21 168.56,813.91" fill="#fafcfa" stroke="#000" stroke-width="1.25" stroke-linejoin="round" />
<ellipse cx="137.12" cy="807.45" rx="12.30" ry="21.31" transform="rotate(-30 137.12 807.45)" fill="#fafcfa" stroke="#000" stroke-width="1.25" />
<ellipse cx="137.12" cy="807.45" rx="10.47" ry="18.13" transform="rotate(-30 137.12 807.45)" fill="none" stroke="#000" stroke-width="0.80" />
<polygon points="133.64,826.43 134.33,825.95 134.93,825.36 135.46,824.65 135.89,823.84 136.24,822.93 136.49,821.93 136.64,820.85 136.69,819.70 136.64,818.49 136.49,817.24 136.24,815.96 135.89,814.65 135.46,813.33 134.93,812.02 134.33,810.73 133.64,809.46 132.89,808.23 132.07,807.06 131.19,805.95 130.27,804.91 129.31,803.96 128.32,803.10 127.31,802.35 126.29,801.70 125.27,801.17 124.27,800.76 123.28,800.48 122.32,800.32 121.39,800.29 120.52,800.39 119.70,800.62 118.95,800.97 131.07,793.97 131.83,793.62 132.64,793.39 133.52,793.29 134.44,793.32 135.40,793.48 136.39,793.76 137.40,794.17 138.42,794.70 139.44,795.35 140.45,796.10 141.43,796.96 142.39,797.91 143.32,798.95 144.19,800.06 145.01,801.23 145.77,802.46 146.45,803.73 147.06,805.02 147.58,806.33 148.02,807.65 148.36,808.96 148.61,810.24 148.76,811.49 148.81,812.70 148.76,813.85 148.61,814.93 148.36,815.93 148.02,816.84 147.58,817.65 147.06,818.36 146.45,818.95 145.77,819.43" fill="#fafcfa" stroke="#000" stroke-width="1.25" stroke-linejoin="round" />
<ellipse cx="126.29" cy="813.70" rx="8.49" ry="14.70" transform="rotate(-30 126.29 813.70)" fill="#fafcfa" stroke="#000" stroke-width="1.25" />
<polygon points="116.20,836.22 116.87,835.75 117.47,835.16 117.99,834.47 118.41,833.67 118.75,832.77 119.00,831.79 119.14,830.73 119.19,829.60 119.14,828.41 119.00,827.18 118.75,825.92 118.41,824.64 117.99,823.34 117.47,822.05 116.87,820.77 116.20,819.53 115.46,818.32 114.65,817.17 113.79,816.07 112.88,815.06 111.94,814.12 110.97,813.28 109.97,812.54 108.97,811.90 107.97,811.38 106.98,810.98 106.01,810.70 105.06,810.54 104.16,810.51 103.30,810.61 102.49,810.84 101.75,811.18 120.80,800.18 121.54,799.84 122.35,799.61 123.21,799.51 124.11,799.54 125.06,799.70 126.03,799.98 127.02,800.38 128.03,800.90 129.03,801.54 130.02,802.28 130.99,803.12 131.94,804.06 132.84,805.07 133.70,806.17 134.51,807.32 135.25,808.53 135.93,809.77 136.52,811.05 137.04,812.34 137.47,813.64 137.80,814.92 138.05,816.18 138.20,817.41 138.24,818.60 138.20,819.73 138.05,820.79 137.80,821.77 137.47,822.67 137.04,823.47 136.52,824.16 135.93,824.75 135.25,825.22" fill="#888" stroke="none" stroke-width="0.00" stroke-linejoin="round" />
<polygon points="101.71,811.21 100.10,809.03 119.16,798.03 120.76,800.21" fill="#fafcfa" stroke="#000" stroke-width="0.90" stroke-linejoin="round" />
<polygon points="117.69,838.46 116.53,836.01 135.58,825.01 136.74,827.46" fill="#fafcfa" stroke="#000" stroke-width="0.90" stroke-linejoin="round" />
<polygon points="102.81,810.73 101.71,811.21 120.76,800.21 121.87,799.73" fill="#888" stroke="#000" stroke-width="0.63" stroke-linejoin="round" />
<polygon points="116.53,836.01 117.44,835.20 136.49,824.20 135.58,825.01" fill="#888" stroke="#000" stroke-width="0.63" stroke-linejoin="round" />
<polygon points="103.69,808.05 101.96,808.23 121.01,797.23 122.74,797.05" fill="#fafcfa" stroke="#000" stroke-width="0.90" stroke-linejoin="round" />
<polygon points="119.21,837.11 120.14,835.59 139.20,824.59 138.26,826.11" fill="#fafcfa" stroke="#000" stroke-width="0.90" stroke-linejoin="round" />
<polygon points="104.79,810.52 103.69,808.05 122.74,797.05 123.85,799.52" fill="#fafcfa" stroke="#000" stroke-width="0.90" stroke-linejoin="round" />
<polygon points="106.18,810.74 104.79,810.52 123.85,799.52 125.23,799.74" fill="#888" stroke="#000" stroke-width="0.63" stroke-linejoin="round" />
<polygon points="120.14,835.59 118.50,833.46 137.55,822.46 139.20,824.59" fill="#fafcfa" stroke="#000" stroke-width="0.90" stroke-linejoin="round" />
<polygon points="118.50,833.46 118.93,832.09 137.99,821.09 137.55,822.46" fill="#888" stroke="#000" stroke-width="0.63" stroke-linejoin="round" />
<polygon points="107.99,809.18 106.00,808.41 125.05,797.41 127.04,798.18" fill="#fafcfa" stroke="#000" stroke-width="0.90" stroke-linejoin="round" />
<polygon points="108.44,811.61 107.99,809.18 127.04,798.18 127.50,800.61" fill="#fafcfa" stroke="#000" stroke-width="0.90" stroke-linejoin="round" />
<polygon points="109.92,812.49 108.44,811.61 127.50,800.61 128.97,801.49" fill="#888" stroke="#000" stroke-width="0.63" stroke-linejoin="round" />
<polygon points="120.87,833.29 121.09,831.11 140.14,820.11 139.92,822.29" fill="#fafcfa" stroke="#000" stroke-width="0.90" stroke-linejoin="round" />
<polygon points="119.19,829.60 119.09,827.84 138.14,816.84 138.24,818.60" fill="#888" stroke="#000" stroke-width="0.63" stroke-linejoin="round" />
<polygon points="121.09,831.11 119.19,829.60 138.24,818.60 140.14,820.11" fill="#fafcfa" stroke="#000" stroke-width="0.90" stroke-linejoin="round" />
<polygon points="113.53,815.77 112.17,814.34 131.22,803.34 132.58,804.77" fill="#888" stroke="#000" stroke-width="0.63" stroke-linejoin="round" />
<polygon points="118.50,824.94 117.87,823.04 136.93,812.04 137.55,813.94" fill="#888" stroke="#000" stroke-width="0.63" stroke-linejoin="round" />
<polygon points="112.17,814.34 112.42,812.27 131.47,801.27 131.22,803.34" fill="#fafcfa" stroke="#000" stroke-width="0.90" stroke-linejoin="round" />
<polygon points="112.42,812.27 110.45,810.66 129.50,799.66 131.47,801.27" fill="#fafcfa" stroke="#000" stroke-width="0.90" stroke-linejoin="round" />
<polygon points="120.40,825.63 118.50,824.94 137.55,813.94 139.46,814.63" fill="#fafcfa" stroke="#000" stroke-width="0.90" stroke-linejoin="round" />
<polygon points="116.53,820.11 115.46,818.32 134.51,807.32 135.58,809.11" fill="#888" stroke="#000" stroke-width="0.63" stroke-linejoin="round" />
<polygon points="120.91,828.17 120.40,825.63 139.46,814.63 139.97,817.17" fill="#fafcfa" stroke="#000" stroke-width="0.90" stroke-linejoin="round" />
<polygon points="115.46,818.32 116.39,816.90 135.44,805.90 134.51,807.32" fill="#fafcfa" stroke="#000" stroke-width="0.90" stroke-linejoin="round" />
<polygon points="118.17,819.89 116.53,820.11 135.58,809.11 137.22,808.89" fill="#fafcfa" stroke="#000" stroke-width="0.90" stroke-linejoin="round" />
<polygon points="116.39,816.90 114.70,814.66 133.75,803.66 135.44,805.90" fill="#fafcfa" stroke="#000" stroke-width="0.90" stroke-linejoin="round" />
<polygon points="119.35,822.45 118.17,819.89 137.22,808.89 138.40,811.45" fill="#fafcfa" stroke="#000" stroke-width="0.90" stroke-linejoin="round" />
<polygon points="119.19,829.60 119.09,827.84 120.91,828.17 120.40,825.63 118.50,824.94 117.87,823.04 119.35,822.45 118.17,819.89 116.53,820.11 115.46,818.32 116.39,816.90 114.70,814.66 113.53,815.77 112.17,814.34 112.42,812.27 110.45,810.66 109.92,812.49 108.44,811.61 107.99,809.18 106.00,808.41 106.18,810.74 104.79,810.52 103.69,808.05 101.96,808.23 102.81,810.73 101.71,811.21 100.10,809.03 98.86,810.14 100.28,812.47 99.60,813.58 97.72,812.00 97.13,813.88 98.93,815.73 98.76,817.33 96.85,816.55 96.99,818.95 98.93,820.07 99.30,821.93 97.62,822.06 98.48,824.66 100.28,824.90 101.15,826.77 99.92,827.79 101.38,830.24 102.81,829.56 104.05,831.20 103.45,832.97 105.31,834.93 106.18,833.43 107.62,834.61 107.72,836.90 109.73,838.11 109.92,835.99 111.37,836.55 112.16,839.05 114.05,839.34 113.53,836.89 114.79,836.76 116.17,839.12 117.69,838.46 116.53,836.01 117.44,835.20 119.21,837.11 120.14,835.59 118.50,833.46 118.93,832.09 120.87,833.29 121.09,831.11" fill="#fafcfa" stroke="#000" stroke-width="0.90" stroke-linejoin="round" />
<polygon points="98.01,846.72 98.69,846.25 99.28,845.66 99.80,844.97 100.23,844.17 100.57,843.27 100.81,842.29 100.96,841.23 101.01,840.10 100.96,838.91 100.81,837.68 100.57,836.42 100.23,835.14 99.80,833.84 99.28,832.55 98.69,831.27 98.01,830.03 97.27,828.82 96.46,827.67 95.60,826.57 94.70,825.56 93.75,824.62 92.78,823.78 91.79,823.04 90.79,822.40 89.78,821.88 88.79,821.48 87.82,821.20 86.88,821.04 85.97,821.01 85.11,821.11 84.30,821.34 83.56,821.68 102.61,810.68 103.36,810.34 104.16,810.11 105.02,810.01 105.93,810.04 106.87,810.20 107.85,810.48 108.84,810.88 109.84,811.40 110.84,812.04 111.83,812.78 112.81,813.62 113.75,814.56 114.66,815.57 115.52,816.67 116.32,817.82 117.07,819.03 117.74,820.27 118.34,821.55 118.85,822.84 119.28,824.14 119.62,825.42 119.86,826.68 120.01,827.91 120.06,829.10 120.01,830.23 119.86,831.29 119.62,832.27 119.28,833.17 118.85,833.97 118.34,834.66 117.74,835.25 117.07,835.72" fill="#fafcfa" stroke="#000" stroke-width="1.25" stroke-linejoin="round" />
<ellipse cx="90.79" cy="834.20" rx="8.34" ry="14.45" transform="rotate(-30 90.79 834.20)" fill="#fafcfa" stroke="#000" stroke-width="1.25" />
<ellipse cx="100.3" cy="817.2" rx="1.6" ry="1.4" fill="#fafcfa" stroke="#000" stroke-width="0.9"/>
<polygon points="78.97,855.73 79.56,855.32 80.09,854.80 80.54,854.19 80.92,853.48 81.22,852.70 81.43,851.83 81.56,850.89 81.61,849.90 81.56,848.86 81.43,847.77 81.22,846.66 80.92,845.52 80.54,844.38 80.09,843.25 79.56,842.12 78.97,841.02 78.31,839.96 77.60,838.94 76.85,837.98 76.05,837.08 75.21,836.26 74.36,835.51 73.48,834.86 72.60,834.30 71.72,833.84 70.84,833.49 69.99,833.24 69.15,833.10 68.35,833.08 67.60,833.16 66.89,833.36 66.23,833.67 84.42,823.17 85.07,822.86 85.78,822.66 86.54,822.58 87.34,822.60 88.17,822.74 89.03,822.99 89.90,823.34 90.79,823.80 91.67,824.36 92.54,825.01 93.40,825.76 94.23,826.58 95.03,827.48 95.79,828.44 96.50,829.46 97.16,830.52 97.75,831.62 98.28,832.75 98.73,833.88 99.11,835.02 99.41,836.16 99.62,837.27 99.75,838.36 99.79,839.40 99.75,840.39 99.62,841.33 99.41,842.20 99.11,842.98 98.73,843.69 98.28,844.30 97.75,844.82 97.16,845.23" fill="#fafcfa" stroke="#000" stroke-width="1.25" stroke-linejoin="round" />
<ellipse cx="72.60" cy="844.70" rx="7.35" ry="12.74" transform="rotate(-30 72.60 844.70)" fill="#fafcfa" stroke="#000" stroke-width="1.25" />
<ellipse cx="72.60" cy="844.70" rx="1.41" ry="2.45" transform="rotate(-30 72.60 844.70)" fill="#fafcfa" stroke="#000" stroke-width="0.90" />
<rect x="91.5" y="863" width="5.2" height="9" rx="1.5" fill="#fafcfa" stroke="#000" stroke-width="1.1"/>
<line x1="92" y1="865.5" x2="96.2" y2="865.5" stroke="#000" stroke-width="0.8"/>
<line x1="94.2" y1="850" x2="94.2" y2="862" stroke="#333" stroke-width="0.9" stroke-dasharray="3 2"/>
<polygon points="293.94,742.75 295.02,742.00 295.98,741.05 296.81,739.93 297.50,738.65 298.05,737.21 298.44,735.62 298.68,733.92 298.75,732.10 298.68,730.19 298.44,728.21 298.05,726.18 297.50,724.11 296.81,722.02 295.98,719.94 295.02,717.89 293.94,715.88 292.74,713.94 291.44,712.08 290.06,710.32 288.60,708.68 287.08,707.18 285.51,705.82 283.91,704.62 282.30,703.60 280.69,702.76 279.09,702.11 277.52,701.66 276.00,701.41 274.54,701.37 273.16,701.52 271.86,701.89 270.66,702.45 278.46,697.95 279.66,697.39 280.95,697.02 282.34,696.87 283.80,696.91 285.32,697.16 286.88,697.61 288.48,698.26 290.09,699.10 291.71,700.12 293.30,701.32 294.87,702.68 296.39,704.18 297.85,705.82 299.24,707.58 300.53,709.44 301.73,711.38 302.81,713.39 303.78,715.44 304.61,717.52 305.30,719.61 305.84,721.68 306.23,723.71 306.47,725.69 306.55,727.60 306.47,729.42 306.23,731.12 305.84,732.71 305.30,734.15 304.61,735.43 303.78,736.55 302.81,737.50 301.73,738.25" fill="#888" stroke="none" stroke-width="0.00" stroke-linejoin="round" />
<polygon points="295.23,748.86 293.08,743.18 300.87,738.68 303.02,744.36" fill="#fafcfa" stroke="#000" stroke-width="1.25" stroke-linejoin="round" />
<polygon points="270.18,702.75 266.40,697.96 274.19,693.46 277.97,698.25" fill="#fafcfa" stroke="#000" stroke-width="1.25" stroke-linejoin="round" />
<polygon points="271.52,702.02 270.18,702.75 277.97,698.25 279.32,697.52" fill="#888" stroke="#000" stroke-width="0.88" stroke-linejoin="round" />
<polygon points="298.20,747.24 299.29,746.24 307.08,741.74 305.99,742.74" fill="#fafcfa" stroke="#000" stroke-width="1.25" stroke-linejoin="round" />
<polygon points="270.81,695.97 269.37,696.34 277.17,691.84 278.61,691.47" fill="#fafcfa" stroke="#000" stroke-width="1.25" stroke-linejoin="round" />
<polygon points="299.29,746.24 296.14,740.86 303.94,736.36 307.08,741.74" fill="#fafcfa" stroke="#000" stroke-width="1.25" stroke-linejoin="round" />
<polygon points="273.80,701.42 270.81,695.97 278.61,691.47 281.60,696.92" fill="#fafcfa" stroke="#000" stroke-width="1.25" stroke-linejoin="round" />
<polygon points="296.14,740.86 297.07,739.51 304.86,735.01 303.94,736.36" fill="#888" stroke="#000" stroke-width="0.88" stroke-linejoin="round" />
<polygon points="275.46,701.37 273.80,701.42 281.60,696.92 283.26,696.87" fill="#888" stroke="#000" stroke-width="0.88" stroke-linejoin="round" />
<polygon points="301.33,743.24 301.97,741.70 309.77,737.20 309.12,738.74" fill="#fafcfa" stroke="#000" stroke-width="1.25" stroke-linejoin="round" />
<polygon points="301.97,741.70 298.09,737.07 305.88,732.57 309.77,737.20" fill="#fafcfa" stroke="#000" stroke-width="1.25" stroke-linejoin="round" />
<polygon points="298.09,737.07 298.51,735.20 306.31,730.70 305.88,732.57" fill="#888" stroke="#000" stroke-width="0.88" stroke-linejoin="round" />
<polygon points="276.16,696.13 274.48,695.85 282.28,691.35 283.95,691.63" fill="#fafcfa" stroke="#000" stroke-width="1.25" stroke-linejoin="round" />
<polygon points="278.12,701.81 276.16,696.13 283.95,691.63 285.91,697.31" fill="#fafcfa" stroke="#000" stroke-width="1.25" stroke-linejoin="round" />
<polygon points="279.96,702.44 278.12,701.81 285.91,697.31 287.75,697.94" fill="#888" stroke="#000" stroke-width="0.88" stroke-linejoin="round" />
<polygon points="298.75,732.10 298.65,729.87 306.44,725.37 306.55,727.60" fill="#888" stroke="#000" stroke-width="0.88" stroke-linejoin="round" />
<polygon points="284.64,705.15 282.77,703.88 290.56,699.38 292.44,700.65" fill="#888" stroke="#000" stroke-width="0.88" stroke-linejoin="round" />
<polygon points="303.07,735.62 298.75,732.10 306.55,727.60 310.86,731.12" fill="#fafcfa" stroke="#000" stroke-width="1.25" stroke-linejoin="round" />
<polygon points="282.77,703.88 282.00,698.43 289.80,693.93 290.56,699.38" fill="#fafcfa" stroke="#000" stroke-width="1.25" stroke-linejoin="round" />
<polygon points="302.91,737.58 303.07,735.62 310.86,731.12 310.71,733.08" fill="#fafcfa" stroke="#000" stroke-width="1.25" stroke-linejoin="round" />
<polygon points="282.00,698.43 280.23,697.52 288.02,693.02 289.80,693.93" fill="#fafcfa" stroke="#000" stroke-width="1.25" stroke-linejoin="round" />
<polygon points="298.09,726.36 297.46,723.95 305.25,719.45 305.88,721.86" fill="#888" stroke="#000" stroke-width="0.88" stroke-linejoin="round" />
<polygon points="289.14,709.26 287.38,707.47 295.18,702.97 296.93,704.76" fill="#888" stroke="#000" stroke-width="0.88" stroke-linejoin="round" />
<polygon points="302.48,728.48 298.09,726.36 305.88,721.86 310.27,723.98" fill="#fafcfa" stroke="#000" stroke-width="1.25" stroke-linejoin="round" />
<polygon points="296.14,720.32 295.04,717.93 302.83,713.43 303.94,715.82" fill="#888" stroke="#000" stroke-width="0.88" stroke-linejoin="round" />
<polygon points="293.08,714.46 291.59,712.28 299.38,707.78 300.87,709.96" fill="#888" stroke="#000" stroke-width="0.88" stroke-linejoin="round" />
<polygon points="287.38,707.47 287.87,702.69 295.66,698.19 295.18,702.97" fill="#fafcfa" stroke="#000" stroke-width="1.25" stroke-linejoin="round" />
<polygon points="302.83,730.70 302.48,728.48 310.27,723.98 310.62,726.20" fill="#fafcfa" stroke="#000" stroke-width="1.25" stroke-linejoin="round" />
<polygon points="287.87,702.69 286.14,701.23 293.93,696.73 295.66,698.19" fill="#fafcfa" stroke="#000" stroke-width="1.25" stroke-linejoin="round" />
<polygon points="300.25,720.86 296.14,720.32 303.94,715.82 308.04,716.36" fill="#fafcfa" stroke="#000" stroke-width="1.25" stroke-linejoin="round" />
<polygon points="291.59,712.28 293.29,708.57 301.08,704.07 299.38,707.78" fill="#fafcfa" stroke="#000" stroke-width="1.25" stroke-linejoin="round" />
<polygon points="295.04,717.93 297.81,715.58 305.61,711.08 302.83,713.43" fill="#fafcfa" stroke="#000" stroke-width="1.25" stroke-linejoin="round" />
<polygon points="296.57,713.39 293.08,714.46 300.87,709.96 304.37,708.89" fill="#fafcfa" stroke="#000" stroke-width="1.25" stroke-linejoin="round" />
<polygon points="301.08,723.16 300.25,720.86 308.04,716.36 308.88,718.66" fill="#fafcfa" stroke="#000" stroke-width="1.25" stroke-linejoin="round" />
<polygon points="293.29,708.57 291.74,706.66 299.53,702.16 301.08,704.07" fill="#fafcfa" stroke="#000" stroke-width="1.25" stroke-linejoin="round" />
<polygon points="297.81,715.58 296.57,713.39 304.37,708.89 305.61,711.08" fill="#fafcfa" stroke="#000" stroke-width="1.25" stroke-linejoin="round" />
<path d="M298.75,732.10 L298.65,729.87 L302.83,730.70 L302.48,728.48 L298.09,726.36 L297.46,723.95 L301.08,723.16 L300.25,720.86 L296.14,720.32 L295.04,717.93 L297.81,715.58 L296.57,713.39 L293.08,714.46 L291.59,712.28 L293.29,708.57 L291.74,706.66 L289.14,709.26 L287.38,707.47 L287.87,702.69 L286.14,701.23 L284.64,705.15 L282.77,703.88 L282.00,698.43 L280.23,697.52 L279.96,702.44 L278.12,701.81 L276.16,696.13 L274.48,695.85 L275.46,701.37 L273.80,701.42 L270.81,695.97 L269.37,696.34 L271.52,702.02 L270.18,702.75 L266.40,697.96 L265.31,698.96 L268.46,704.34 L267.53,705.69 L263.27,701.96 L262.63,703.50 L266.51,708.13 L266.09,710.00 L261.69,707.62 L261.53,709.58 L265.85,713.10 L265.95,715.33 L261.77,714.50 L262.12,716.72 L266.51,718.84 L267.14,721.25 L263.52,722.04 L264.35,724.34 L268.46,724.88 L269.56,727.27 L266.79,729.62 L268.03,731.81 L271.52,730.74 L273.01,732.92 L271.31,736.63 L272.86,738.54 L275.46,735.94 L277.22,737.73 L276.73,742.51 L278.46,743.97 L279.96,740.05 L281.83,741.32 L282.60,746.77 L284.37,747.68 L284.64,742.76 L286.48,743.39 L288.44,749.07 L290.12,749.35 L289.14,743.83 L290.80,743.78 L293.79,749.23 L295.23,748.86 L293.08,743.18 L294.42,742.45 L298.20,747.24 L299.29,746.24 L296.14,740.86 L297.07,739.51 L301.33,743.24 L301.97,741.70 L298.09,737.07 L298.51,735.20 L302.91,737.58 L303.07,735.62Z M295.72,730.35 L295.66,728.79 L295.47,727.18 L295.15,725.52 L294.70,723.83 L294.14,722.13 L293.46,720.43 L292.68,718.76 L291.79,717.12 L290.82,715.53 L289.76,714.02 L288.63,712.58 L287.44,711.25 L286.20,710.02 L284.92,708.91 L283.62,707.93 L282.30,707.10 L280.98,706.42 L279.68,705.89 L278.40,705.52 L277.16,705.31 L275.97,705.28 L274.84,705.41 L273.78,705.70 L272.81,706.16 L271.92,706.78 L271.14,707.54 L270.46,708.46 L269.90,709.51 L269.45,710.68 L269.13,711.98 L268.94,713.37 L268.88,714.85 L268.94,716.41 L269.13,718.02 L269.45,719.68 L269.90,721.37 L270.46,723.07 L271.14,724.77 L271.92,726.44 L272.81,728.08 L273.78,729.67 L274.84,731.18 L275.97,732.62 L277.16,733.95 L278.40,735.18 L279.68,736.29 L280.98,737.27 L282.30,738.10 L283.62,738.78 L284.92,739.31 L286.20,739.68 L287.44,739.89 L288.63,739.92 L289.76,739.79 L290.82,739.50 L291.79,739.04 L292.68,738.42 L293.46,737.66 L294.14,736.74 L294.70,735.69 L295.15,734.52 L295.47,733.22 L295.66,731.83Z" fill="#fafcfa" stroke="#000" stroke-width="1.25" fill-rule="evenodd"/>
<ellipse cx="282.30" cy="722.60" rx="10.96" ry="18.98" transform="rotate(-30 282.30 722.60)" fill="#fafcfa" stroke="#000" stroke-width="1.25" />
<polyline points="274.61,706.47 281.97,702.22" fill="none" stroke="#222" stroke-width="2.00" stroke-linejoin="round" />
<polyline points="272.01,708.42 279.37,704.17" fill="none" stroke="#222" stroke-width="2.00" stroke-linejoin="round" />
<polyline points="270.46,711.73 277.83,707.48" fill="none" stroke="#222" stroke-width="2.00" stroke-linejoin="round" />
<polyline points="270.12,716.09 277.48,711.84" fill="none" stroke="#222" stroke-width="2.00" stroke-linejoin="round" />
<polyline points="271.01,721.05 278.37,716.80" fill="none" stroke="#222" stroke-width="2.00" stroke-linejoin="round" />
<polyline points="273.05,726.14 280.41,721.89" fill="none" stroke="#222" stroke-width="2.00" stroke-linejoin="round" />
<polyline points="276.03,730.86 283.39,726.61" fill="none" stroke="#222" stroke-width="2.00" stroke-linejoin="round" />
<polyline points="279.67,734.75 287.04,730.50" fill="none" stroke="#222" stroke-width="2.00" stroke-linejoin="round" />
<polyline points="283.62,737.42 290.98,733.17" fill="none" stroke="#222" stroke-width="2.00" stroke-linejoin="round" />
<polyline points="287.47,738.62 294.83,734.37" fill="none" stroke="#222" stroke-width="2.00" stroke-linejoin="round" />
<polyline points="290.86,738.23 298.22,733.98" fill="none" stroke="#222" stroke-width="2.00" stroke-linejoin="round" />
<polyline points="293.46,736.28 300.82,732.03" fill="none" stroke="#222" stroke-width="2.00" stroke-linejoin="round" />
<polyline points="283.38,700.80 281.62,701.19 280.07,702.01 278.77,703.24 277.77,704.84 277.08,706.79 276.72,709.03 276.71,711.50 277.03,714.13 277.69,716.87 278.67,719.64 279.94,722.37 281.47,724.99 283.21,727.44 285.14,729.64 287.19,731.56 289.31,733.12 291.46,734.31 293.57,735.08 295.59,735.41 297.47,735.31 299.16,734.76 300.62,733.79 301.82,732.42 302.71,730.68" fill="none" stroke="#000" stroke-width="1.20" stroke-linejoin="round" />
<g clip-path="url(#c8)"><line x1="270.18" y1="729.60" x2="294.42" y2="715.60" stroke="#2a2a2a" stroke-width="1.1" stroke-dasharray="8.5 3 1.5 3"/></g>
<polygon points="392.42,909.59 394.01,908.48 395.42,907.10 396.63,905.46 397.64,903.58 398.44,901.47 399.01,899.16 399.36,896.66 399.48,894.00 399.36,891.21 399.01,888.31 398.44,885.33 397.64,882.30 396.63,879.25 395.42,876.21 394.01,873.21 392.42,870.27 390.67,867.43 388.78,864.71 386.75,862.14 384.61,859.74 382.39,857.53 380.10,855.55 377.76,853.80 375.40,852.30 373.04,851.07 370.70,850.12 368.41,849.46 366.19,849.10 364.05,849.03 362.02,849.26 360.13,849.79 358.38,850.61 367.64,845.26 369.39,844.44 371.29,843.91 373.32,843.68 375.45,843.75 377.68,844.11 379.97,844.77 382.31,845.72 384.67,846.95 387.03,848.45 389.36,850.20 391.66,852.18 393.88,854.39 396.02,856.79 398.04,859.36 399.94,862.08 401.69,864.92 403.28,867.86 404.68,870.86 405.90,873.90 406.91,876.95 407.71,879.98 408.28,882.96 408.63,885.86 408.74,888.65 408.63,891.31 408.28,893.81 407.71,896.12 406.91,898.23 405.90,900.11 404.68,901.75 403.28,903.13 401.69,904.24" fill="#777" stroke="none" stroke-width="0.00" stroke-linejoin="round" />
<polygon points="393.73,914.15 391.99,909.83 401.25,904.48 402.99,908.80" fill="#fafcfa" stroke="#000" stroke-width="1.00" stroke-linejoin="round" />
<polygon points="391.99,909.83 393.08,909.17 402.35,903.82 401.25,904.48" fill="#777" stroke="#000" stroke-width="0.70" stroke-linejoin="round" />
<polygon points="359.46,850.06 356.75,846.21 366.01,840.86 368.73,844.71" fill="#fafcfa" stroke="#000" stroke-width="1.00" stroke-linejoin="round" />
<polygon points="360.66,849.61 359.46,850.06 368.73,844.71 369.93,844.26" fill="#777" stroke="#000" stroke-width="0.70" stroke-linejoin="round" />
<polygon points="395.98,912.81 397.44,911.55 406.71,906.20 405.25,907.46" fill="#fafcfa" stroke="#000" stroke-width="1.00" stroke-linejoin="round" />
<polygon points="397.44,911.55 395.16,907.39 404.43,902.04 406.71,906.20" fill="#fafcfa" stroke="#000" stroke-width="1.00" stroke-linejoin="round" />
<polygon points="395.16,907.39 396.01,906.37 405.28,901.02 404.43,902.04" fill="#777" stroke="#000" stroke-width="0.70" stroke-linejoin="round" />
<polygon points="361.16,844.89 359.22,845.27 368.49,839.92 370.43,839.54" fill="#fafcfa" stroke="#000" stroke-width="1.00" stroke-linejoin="round" />
<polygon points="363.42,849.07 361.16,844.89 370.43,839.54 372.69,843.72" fill="#fafcfa" stroke="#000" stroke-width="1.00" stroke-linejoin="round" />
<polygon points="364.80,849.02 363.42,849.07 372.69,843.72 374.06,843.67" fill="#777" stroke="#000" stroke-width="0.70" stroke-linejoin="round" />
<polygon points="399.19,909.45 400.26,907.67 409.52,902.32 408.46,904.10" fill="#fafcfa" stroke="#000" stroke-width="1.00" stroke-linejoin="round" />
<polygon points="400.26,907.67 397.52,903.84 406.79,898.49 409.52,902.32" fill="#fafcfa" stroke="#000" stroke-width="1.00" stroke-linejoin="round" />
<polygon points="397.52,903.84 398.09,902.49 407.36,897.14 406.79,898.49" fill="#777" stroke="#000" stroke-width="0.70" stroke-linejoin="round" />
<polygon points="366.16,845.02 364.00,844.79 373.27,839.44 375.42,839.67" fill="#fafcfa" stroke="#000" stroke-width="1.00" stroke-linejoin="round" />
<polygon points="367.87,849.35 366.16,845.02 375.42,839.67 377.13,844.00" fill="#fafcfa" stroke="#000" stroke-width="1.00" stroke-linejoin="round" />
<polygon points="369.37,849.70 367.87,849.35 377.13,844.00 378.63,844.35" fill="#777" stroke="#000" stroke-width="0.70" stroke-linejoin="round" />
<polygon points="401.43,904.89 402.05,902.66 411.32,897.31 410.69,899.54" fill="#fafcfa" stroke="#000" stroke-width="1.00" stroke-linejoin="round" />
<polygon points="402.05,902.66 398.98,899.31 408.25,893.96 411.32,897.31" fill="#fafcfa" stroke="#000" stroke-width="1.00" stroke-linejoin="round" />
<polygon points="398.98,899.31 399.25,897.69 408.51,892.34 408.25,893.96" fill="#777" stroke="#000" stroke-width="0.70" stroke-linejoin="round" />
<polygon points="371.53,846.58 369.24,845.75 378.51,840.40 380.80,841.23" fill="#fafcfa" stroke="#000" stroke-width="1.00" stroke-linejoin="round" />
<polygon points="374.18,851.63 372.62,850.88 381.89,845.53 383.45,846.28" fill="#777" stroke="#000" stroke-width="0.70" stroke-linejoin="round" />
<polygon points="372.62,850.88 371.53,846.58 380.80,841.23 381.89,845.53" fill="#fafcfa" stroke="#000" stroke-width="1.00" stroke-linejoin="round" />
<polygon points="399.48,894.00 399.42,892.17 408.69,886.82 408.74,888.65" fill="#777" stroke="#000" stroke-width="0.70" stroke-linejoin="round" />
<polygon points="402.76,896.73 399.48,894.00 408.74,888.65 412.02,891.38" fill="#fafcfa" stroke="#000" stroke-width="1.00" stroke-linejoin="round" />
<polygon points="402.60,899.32 402.76,896.73 412.02,891.38 411.86,893.97" fill="#fafcfa" stroke="#000" stroke-width="1.00" stroke-linejoin="round" />
<polygon points="379.05,854.73 377.50,853.62 386.76,848.27 388.31,849.38" fill="#777" stroke="#000" stroke-width="0.70" stroke-linejoin="round" />
<polygon points="377.50,853.62 377.06,849.52 386.33,844.17 386.76,848.27" fill="#fafcfa" stroke="#000" stroke-width="1.00" stroke-linejoin="round" />
<polygon points="377.06,849.52 374.73,848.13 384.00,842.78 386.33,844.17" fill="#fafcfa" stroke="#000" stroke-width="1.00" stroke-linejoin="round" />
<polygon points="398.98,888.12 398.62,886.16 407.89,880.81 408.25,882.77" fill="#777" stroke="#000" stroke-width="0.70" stroke-linejoin="round" />
<polygon points="402.34,890.11 398.98,888.12 408.25,882.77 411.61,884.76" fill="#fafcfa" stroke="#000" stroke-width="1.00" stroke-linejoin="round" />
<polygon points="383.76,858.86 382.28,857.43 391.55,852.08 393.03,853.51" fill="#777" stroke="#000" stroke-width="0.70" stroke-linejoin="round" />
<polygon points="402.65,892.96 402.34,890.11 411.61,884.76 411.92,887.61" fill="#fafcfa" stroke="#000" stroke-width="1.00" stroke-linejoin="round" />
<polygon points="382.28,857.43 382.53,853.71 391.79,848.36 391.55,852.08" fill="#fafcfa" stroke="#000" stroke-width="1.00" stroke-linejoin="round" />
<polygon points="397.52,881.91 396.86,879.90 406.13,874.55 406.79,876.56" fill="#777" stroke="#000" stroke-width="0.70" stroke-linejoin="round" />
<polygon points="382.53,853.71 380.26,851.80 389.52,846.45 391.79,848.36" fill="#fafcfa" stroke="#000" stroke-width="1.00" stroke-linejoin="round" />
<polygon points="388.14,863.86 386.78,862.18 396.05,856.83 397.40,858.51" fill="#777" stroke="#000" stroke-width="0.70" stroke-linejoin="round" />
<polygon points="400.82,883.09 397.52,881.91 406.79,876.56 410.09,877.74" fill="#fafcfa" stroke="#000" stroke-width="1.00" stroke-linejoin="round" />
<polygon points="395.16,875.63 394.23,873.64 403.49,868.29 404.43,870.28" fill="#777" stroke="#000" stroke-width="0.70" stroke-linejoin="round" />
<polygon points="391.99,869.53 390.82,867.66 400.09,862.31 401.25,864.18" fill="#777" stroke="#000" stroke-width="0.70" stroke-linejoin="round" />
<polygon points="386.78,862.18 387.70,858.97 396.97,853.62 396.05,856.83" fill="#fafcfa" stroke="#000" stroke-width="1.00" stroke-linejoin="round" />
<polygon points="401.59,886.07 400.82,883.09 410.09,877.74 410.86,880.72" fill="#fafcfa" stroke="#000" stroke-width="1.00" stroke-linejoin="round" />
<polygon points="398.27,875.94 395.16,875.63 404.43,870.28 407.53,870.59" fill="#fafcfa" stroke="#000" stroke-width="1.00" stroke-linejoin="round" />
<polygon points="387.70,858.97 385.58,856.64 394.84,851.29 396.97,853.62" fill="#fafcfa" stroke="#000" stroke-width="1.00" stroke-linejoin="round" />
<polygon points="390.82,867.66 392.37,865.11 401.64,859.76 400.09,862.31" fill="#fafcfa" stroke="#000" stroke-width="1.00" stroke-linejoin="round" />
<polygon points="394.23,873.64 396.34,871.85 405.61,866.50 403.49,868.29" fill="#fafcfa" stroke="#000" stroke-width="1.00" stroke-linejoin="round" />
<polygon points="394.77,868.96 391.99,869.53 401.25,864.18 404.04,863.61" fill="#fafcfa" stroke="#000" stroke-width="1.00" stroke-linejoin="round" />
<polygon points="399.46,878.94 398.27,875.94 407.53,870.59 408.73,873.59" fill="#fafcfa" stroke="#000" stroke-width="1.00" stroke-linejoin="round" />
<polygon points="392.37,865.11 390.48,862.44 399.75,857.09 401.64,859.76" fill="#fafcfa" stroke="#000" stroke-width="1.00" stroke-linejoin="round" />
<polygon points="396.34,871.85 394.77,868.96 404.04,863.61 405.61,866.50" fill="#fafcfa" stroke="#000" stroke-width="1.00" stroke-linejoin="round" />
<polygon points="399.48,894.00 399.42,892.17 402.65,892.96 402.34,890.11 398.98,888.12 398.62,886.16 401.59,886.07 400.82,883.09 397.52,881.91 396.86,879.90 399.46,878.94 398.27,875.94 395.16,875.63 394.23,873.64 396.34,871.85 394.77,868.96 391.99,869.53 390.82,867.66 392.37,865.11 390.48,862.44 388.14,863.86 386.78,862.18 387.70,858.97 385.58,856.64 383.76,858.86 382.28,857.43 382.53,853.71 380.26,851.80 379.05,854.73 377.50,853.62 377.06,849.52 374.73,848.13 374.18,851.63 372.62,850.88 371.53,846.58 369.24,845.75 369.37,849.70 367.87,849.35 366.16,845.02 364.00,844.79 364.80,849.02 363.42,849.07 361.16,844.89 359.22,845.27 360.66,849.61 359.46,850.06 356.75,846.21 355.11,847.18 357.13,851.45 356.15,852.29 353.10,848.91 351.83,850.43 354.35,854.46 353.64,855.65 350.36,852.89 349.51,854.90 352.43,858.52 352.01,860.01 348.65,857.98 348.26,860.40 351.45,863.46 351.34,865.20 348.04,863.98 348.11,866.71 351.45,869.08 351.66,870.99 348.54,870.64 349.08,873.57 352.43,875.16 352.94,877.16 350.14,877.68 351.13,880.69 354.35,881.44 355.15,883.45 352.78,884.83 354.17,887.79 357.13,887.66 358.19,889.60 356.35,891.78 358.08,894.57 360.66,893.58 361.93,895.36 360.69,898.25 362.70,900.76 364.80,898.94 366.22,900.50 365.64,903.98 367.84,906.11 369.37,903.53 370.89,904.80 370.98,908.73 373.29,910.39 374.18,907.16 375.74,908.09 376.51,912.31 378.83,913.43 379.05,909.68 380.58,910.24 381.99,914.58 384.23,915.11 383.76,911.00 385.21,911.15 387.20,915.42 389.26,915.35 388.14,911.04 389.43,910.79 391.93,914.83 393.73,914.15 391.99,909.83 393.08,909.17 395.98,912.81 397.44,911.55 395.16,907.39 396.01,906.37 399.19,909.45 400.26,907.67 397.52,903.84 398.09,902.49 401.43,904.89 402.05,902.66 398.98,899.31 399.25,897.69 402.60,899.32 402.76,896.73" fill="#fafcfa" stroke="#000" stroke-width="1.15" stroke-linejoin="round" />
<polyline points="397.92,893.10 397.81,890.49 397.48,887.78 396.95,884.99 396.20,882.16 395.26,879.31 394.12,876.46 392.81,873.65 391.32,870.91 389.68,868.25 387.91,865.70 386.01,863.30 384.02,861.05 381.94,858.99 379.79,857.14 377.61,855.50 375.40,854.10 373.19,852.95 371.01,852.06 368.86,851.45 366.78,851.10 364.79,851.04 362.89,851.26 361.12,851.75 359.48,852.52 357.99,853.56 356.68,854.85 355.54,856.38 354.60,858.14 353.85,860.11 353.32,862.28 352.99,864.61 352.88,867.10 352.99,869.71 353.32,872.42 353.85,875.21 354.60,878.04 355.54,880.89 356.68,883.74 357.99,886.55 359.48,889.29 361.12,891.95 362.89,894.50 364.79,896.90 366.78,899.15 368.86,901.21 371.01,903.06 373.19,904.70 375.40,906.10 377.61,907.25 379.79,908.14 381.94,908.75 384.02,909.10 386.01,909.16 387.91,908.94 389.68,908.45 391.32,907.68 392.81,906.64 394.12,905.35 395.26,903.82 396.20,902.06 396.95,900.09 397.48,897.92 397.81,895.59 397.92,893.10" fill="none" stroke="#000" stroke-width="0.80" stroke-linejoin="round" />
<polygon points="385.42,899.69 386.45,898.98 387.36,898.08 388.15,897.02 388.80,895.80 389.32,894.44 389.69,892.94 389.91,891.32 389.99,889.60 389.91,887.79 389.69,885.92 389.32,883.99 388.80,882.03 388.15,880.05 387.36,878.08 386.45,876.14 385.42,874.24 384.29,872.40 383.06,870.63 381.75,868.97 380.37,867.41 378.93,865.99 377.44,864.70 375.93,863.57 374.40,862.60 372.87,861.80 371.36,861.19 369.87,860.76 368.43,860.53 367.05,860.48 365.74,860.63 364.51,860.98 363.38,861.51 366.84,859.51 367.97,858.98 369.20,858.63 370.52,858.48 371.90,858.53 373.34,858.76 374.82,859.19 376.34,859.80 377.86,860.60 379.39,861.57 380.91,862.70 382.39,863.99 383.83,865.41 385.21,866.97 386.52,868.63 387.75,870.40 388.89,872.24 389.91,874.14 390.83,876.08 391.61,878.05 392.27,880.03 392.78,881.99 393.15,883.92 393.38,885.79 393.45,887.60 393.38,889.32 393.15,890.94 392.78,892.44 392.27,893.80 391.61,895.02 390.83,896.08 389.91,896.98 388.89,897.69" fill="#888" stroke="none" stroke-width="0.00" stroke-linejoin="round" />
<polygon points="385.40,902.40 384.61,900.10 388.07,898.10 388.87,900.40" fill="#fafcfa" stroke="#000" stroke-width="0.90" stroke-linejoin="round" />
<polygon points="363.04,861.72 361.47,859.83 364.94,857.83 366.50,859.72" fill="#fafcfa" stroke="#000" stroke-width="0.90" stroke-linejoin="round" />
<polygon points="364.19,861.10 363.04,861.72 366.50,859.72 367.66,859.10" fill="#888" stroke="#000" stroke-width="0.63" stroke-linejoin="round" />
<polygon points="387.33,901.37 388.73,900.11 392.19,898.11 390.79,899.37" fill="#fafcfa" stroke="#000" stroke-width="0.90" stroke-linejoin="round" />
<polygon points="365.24,858.34 363.40,858.80 366.86,856.80 368.71,856.34" fill="#fafcfa" stroke="#000" stroke-width="0.90" stroke-linejoin="round" />
<polygon points="388.73,900.11 387.51,897.90 390.98,895.90 392.19,898.11" fill="#fafcfa" stroke="#000" stroke-width="0.90" stroke-linejoin="round" />
<polygon points="366.50,860.52 365.24,858.34 368.71,856.34 369.97,858.52" fill="#fafcfa" stroke="#000" stroke-width="0.90" stroke-linejoin="round" />
<polygon points="387.51,897.90 388.31,896.76 391.77,894.76 390.98,895.90" fill="#888" stroke="#000" stroke-width="0.63" stroke-linejoin="round" />
<polygon points="367.92,860.49 366.50,860.52 369.97,858.52 371.39,858.49" fill="#888" stroke="#000" stroke-width="0.63" stroke-linejoin="round" />
<polygon points="390.05,898.20 390.89,896.25 394.35,894.25 393.52,896.20" fill="#fafcfa" stroke="#000" stroke-width="0.90" stroke-linejoin="round" />
<polygon points="369.76,858.65 367.61,858.28 371.08,856.28 373.22,856.65" fill="#fafcfa" stroke="#000" stroke-width="0.90" stroke-linejoin="round" />
<polygon points="390.89,896.25 389.36,894.31 392.82,892.31 394.35,894.25" fill="#fafcfa" stroke="#000" stroke-width="0.90" stroke-linejoin="round" />
<polygon points="389.36,894.31 389.73,892.72 393.19,890.72 392.82,892.31" fill="#888" stroke="#000" stroke-width="0.63" stroke-linejoin="round" />
<polygon points="370.61,860.95 369.76,858.65 373.22,856.65 374.07,858.95" fill="#fafcfa" stroke="#000" stroke-width="0.90" stroke-linejoin="round" />
<polygon points="372.18,861.50 370.61,860.95 374.07,858.95 375.65,859.50" fill="#888" stroke="#000" stroke-width="0.63" stroke-linejoin="round" />
<polygon points="391.51,893.61 391.71,891.11 395.18,889.11 394.97,891.61" fill="#fafcfa" stroke="#000" stroke-width="0.90" stroke-linejoin="round" />
<polygon points="391.71,891.11 389.99,889.60 393.45,887.60 395.18,889.11" fill="#fafcfa" stroke="#000" stroke-width="0.90" stroke-linejoin="round" />
<polygon points="389.99,889.60 389.91,887.71 393.37,885.71 393.45,887.60" fill="#888" stroke="#000" stroke-width="0.63" stroke-linejoin="round" />
<polygon points="374.65,860.74 372.38,859.57 375.84,857.57 378.11,858.74" fill="#fafcfa" stroke="#000" stroke-width="0.90" stroke-linejoin="round" />
<polygon points="375.02,862.97 374.65,860.74 378.11,858.74 378.49,860.97" fill="#fafcfa" stroke="#000" stroke-width="0.90" stroke-linejoin="round" />
<polygon points="376.62,864.06 375.02,862.97 378.49,860.97 380.08,862.06" fill="#888" stroke="#000" stroke-width="0.63" stroke-linejoin="round" />
<polygon points="389.36,884.16 388.83,882.11 392.29,880.11 392.82,882.16" fill="#888" stroke="#000" stroke-width="0.63" stroke-linejoin="round" />
<polygon points="380.88,867.97 379.39,866.42 382.85,864.42 384.34,865.97" fill="#888" stroke="#000" stroke-width="0.63" stroke-linejoin="round" />
<polygon points="391.14,885.12 389.36,884.16 392.82,882.16 394.60,883.12" fill="#fafcfa" stroke="#000" stroke-width="0.90" stroke-linejoin="round" />
<polygon points="391.58,887.95 391.14,885.12 394.60,883.12 395.04,885.95" fill="#fafcfa" stroke="#000" stroke-width="0.90" stroke-linejoin="round" />
<polygon points="379.39,866.42 379.52,864.45 382.98,862.45 382.85,864.42" fill="#fafcfa" stroke="#000" stroke-width="0.90" stroke-linejoin="round" />
<polygon points="379.52,864.45 377.30,862.56 380.77,860.56 382.98,862.45" fill="#fafcfa" stroke="#000" stroke-width="0.90" stroke-linejoin="round" />
<polygon points="387.51,878.44 386.58,876.40 390.04,874.40 390.98,876.44" fill="#888" stroke="#000" stroke-width="0.63" stroke-linejoin="round" />
<polygon points="384.61,872.89 383.35,871.02 386.81,869.02 388.07,870.89" fill="#888" stroke="#000" stroke-width="0.63" stroke-linejoin="round" />
<polygon points="389.21,878.77 387.51,878.44 390.98,876.44 392.67,876.77" fill="#fafcfa" stroke="#000" stroke-width="0.90" stroke-linejoin="round" />
<polygon points="383.35,871.02 383.97,869.46 387.44,867.46 386.81,869.02" fill="#fafcfa" stroke="#000" stroke-width="0.90" stroke-linejoin="round" />
<polygon points="386.58,876.40 387.65,875.37 391.11,873.37 390.04,874.40" fill="#fafcfa" stroke="#000" stroke-width="0.90" stroke-linejoin="round" />
<polygon points="386.08,872.57 384.61,872.89 388.07,870.89 389.54,870.57" fill="#fafcfa" stroke="#000" stroke-width="0.90" stroke-linejoin="round" />
<polygon points="390.26,881.71 389.21,878.77 392.67,876.77 393.72,879.71" fill="#fafcfa" stroke="#000" stroke-width="0.90" stroke-linejoin="round" />
<polygon points="383.97,869.46 382.00,867.01 385.46,865.01 387.44,867.46" fill="#fafcfa" stroke="#000" stroke-width="0.90" stroke-linejoin="round" />
<polygon points="387.65,875.37 386.08,872.57 389.54,870.57 391.11,873.37" fill="#fafcfa" stroke="#000" stroke-width="0.90" stroke-linejoin="round" />
<polygon points="389.99,889.60 389.91,887.71 391.58,887.95 391.14,885.12 389.36,884.16 388.83,882.11 390.26,881.71 389.21,878.77 387.51,878.44 386.58,876.40 387.65,875.37 386.08,872.57 384.61,872.89 383.35,871.02 383.97,869.46 382.00,867.01 380.88,867.97 379.39,866.42 379.52,864.45 377.30,862.56 376.62,864.06 375.02,862.97 374.65,860.74 372.38,859.57 372.18,861.50 370.61,860.95 369.76,858.65 367.61,858.28 367.92,860.49 366.50,860.52 365.24,858.34 363.40,858.80 364.19,861.10 363.04,861.72 361.47,859.83 360.07,861.09 361.29,863.30 360.49,864.44 358.75,863.00 357.91,864.95 359.44,866.89 359.07,868.48 357.29,867.59 357.09,870.09 358.81,871.60 358.89,873.49 357.22,873.25 357.66,876.08 359.44,877.04 359.97,879.09 358.54,879.49 359.59,882.43 361.29,882.76 362.22,884.80 361.15,885.83 362.72,888.63 364.19,888.31 365.45,890.18 364.83,891.74 366.80,894.19 367.92,893.23 369.41,894.78 369.28,896.75 371.50,898.64 372.18,897.14 373.78,898.23 374.15,900.46 376.42,901.63 376.62,899.70 378.19,900.25 379.04,902.55 381.19,902.92 380.88,900.71 382.30,900.68 383.56,902.86 385.40,902.40 384.61,900.10 385.76,899.48 387.33,901.37 388.73,900.11 387.51,897.90 388.31,896.76 390.05,898.20 390.89,896.25 389.36,894.31 389.73,892.72 391.51,893.61 391.71,891.11" fill="#fafcfa" stroke="#000" stroke-width="0.90" stroke-linejoin="round" />
<polygon points="388.69,888.85 388.62,887.19 388.41,885.47 388.07,883.71 387.60,881.91 387.00,880.10 386.28,878.29 385.45,876.51 384.50,874.77 383.47,873.08 382.34,871.46 381.14,869.94 379.87,868.51 378.55,867.21 377.19,866.03 375.80,864.99 374.40,864.10 373.00,863.37 371.61,862.81 370.25,862.42 368.93,862.20 367.66,862.16 366.46,862.30 365.33,862.61 364.30,863.10 363.35,863.76 362.52,864.57 361.80,865.55 361.20,866.66 360.73,867.92 360.39,869.29 360.18,870.77 360.11,872.35 360.18,874.01 360.39,875.73 360.73,877.49 361.20,879.29 361.80,881.10 362.52,882.91 363.35,884.69 364.30,886.43 365.33,888.12 366.46,889.74 367.66,891.26 368.93,892.69 370.25,893.99 371.61,895.17 373.00,896.21 374.40,897.10 375.80,897.83 377.19,898.39 378.55,898.78 379.87,899.00 381.14,899.04 382.34,898.90 383.47,898.59 384.50,898.10 385.45,897.44 386.28,896.63 387.00,895.65 387.60,894.54 388.07,893.28 388.41,891.91 388.62,890.43" fill="#1a1a1a" stroke="#000" stroke-width="1.25" stroke-linejoin="round" />
<g clip-path="url(#c9)"><line x1="365.10" y1="864.50" x2="375.50" y2="858.50" stroke="#e8e8e8" stroke-width="1.1"/><line x1="362.69" y1="866.95" x2="373.08" y2="860.95" stroke="#e8e8e8" stroke-width="1.1"/><line x1="361.42" y1="870.73" x2="371.81" y2="864.73" stroke="#e8e8e8" stroke-width="1.1"/><line x1="361.42" y1="875.48" x2="371.81" y2="869.48" stroke="#e8e8e8" stroke-width="1.1"/><line x1="362.69" y1="880.73" x2="373.08" y2="874.73" stroke="#e8e8e8" stroke-width="1.1"/><line x1="365.10" y1="885.97" x2="375.50" y2="879.97" stroke="#e8e8e8" stroke-width="1.1"/><line x1="368.43" y1="890.68" x2="378.82" y2="884.68" stroke="#e8e8e8" stroke-width="1.1"/><line x1="372.34" y1="894.41" x2="382.74" y2="888.41" stroke="#e8e8e8" stroke-width="1.1"/><line x1="376.46" y1="896.78" x2="386.85" y2="890.78" stroke="#e8e8e8" stroke-width="1.1"/><line x1="380.37" y1="897.57" x2="390.76" y2="891.57" stroke="#e8e8e8" stroke-width="1.1"/><line x1="383.70" y1="896.70" x2="394.09" y2="890.70" stroke="#e8e8e8" stroke-width="1.1"/></g>
<polygon points="386.69,887.70 386.60,885.91 388.53,886.33 388.10,883.80 386.09,882.96 385.54,881.03 387.19,880.63 386.17,878.03 384.34,878.00 383.38,876.11 384.60,874.93 383.09,872.51 381.62,873.29 380.35,871.62 381.01,869.78 379.16,867.79 378.20,869.30 376.74,868.02 376.77,865.70 374.76,864.31 374.40,866.41 372.90,865.65 372.30,863.07 370.33,862.43 370.60,864.91 369.20,864.74 368.03,862.15 366.29,862.33 367.18,864.95 366.02,865.38 364.39,863.04 363.05,864.02 364.46,866.52 363.65,867.52 361.73,865.66 360.93,867.33 362.71,869.47 362.34,870.93 360.31,869.73 360.12,871.94 362.11,873.50 362.20,875.29 360.27,874.87 360.70,877.40 362.71,878.24 363.26,880.17 361.61,880.57 362.63,883.17 364.46,883.20 365.42,885.09 364.20,886.27 365.71,888.69 367.18,887.91 368.45,889.58 367.79,891.42 369.64,893.41 370.60,891.90 372.06,893.18 372.03,895.50 374.04,896.89 374.40,894.79 375.90,895.55 376.50,898.13 378.47,898.77 378.20,896.29 379.60,896.46 380.77,899.05 382.51,898.87 381.62,896.25 382.78,895.82 384.41,898.16 385.75,897.18 384.34,894.68 385.15,893.68 387.07,895.54 387.87,893.87 386.09,891.73 386.46,890.27 388.49,891.47 388.68,889.26" fill="none" stroke="#e8e8e8" stroke-width="0.70" stroke-linejoin="round" />
<polygon points="440.91,864.83 441.88,864.16 442.74,863.31 443.48,862.31 444.10,861.16 444.59,859.87 444.94,858.45 445.15,856.93 445.22,855.30 445.15,853.59 444.94,851.82 444.59,850.00 444.10,848.15 443.48,846.28 442.74,844.42 441.88,842.59 440.91,840.79 439.84,839.05 438.68,837.39 437.44,835.81 436.13,834.35 434.77,833.00 433.37,831.78 431.94,830.72 430.50,829.80 429.06,829.05 427.63,828.47 426.23,828.06 424.87,827.84 423.56,827.80 422.32,827.94 421.16,828.27 420.09,828.77 422.17,827.57 423.24,827.07 424.40,826.74 425.64,826.60 426.94,826.64 428.30,826.86 429.71,827.27 431.14,827.85 432.58,828.60 434.02,829.52 435.45,830.58 436.85,831.80 438.21,833.15 439.52,834.61 440.76,836.19 441.92,837.85 442.99,839.59 443.96,841.39 444.82,843.22 445.56,845.08 446.18,846.95 446.67,848.80 447.02,850.62 447.23,852.39 447.30,854.10 447.23,855.73 447.02,857.25 446.67,858.67 446.18,859.96 445.56,861.11 444.82,862.11 443.96,862.96 442.99,863.63" fill="#fafcfa" stroke="#000" stroke-width="1.25" stroke-linejoin="round" />
<path d="M445.22,855.30 L445.15,853.59 L444.94,851.82 L444.59,850.00 L444.10,848.15 L443.48,846.28 L442.74,844.42 L441.88,842.59 L440.91,840.79 L439.84,839.05 L438.68,837.39 L437.44,835.81 L436.13,834.35 L434.77,833.00 L433.37,831.78 L431.94,830.72 L430.50,829.80 L429.06,829.05 L427.63,828.47 L426.23,828.06 L424.87,827.84 L423.56,827.80 L422.32,827.94 L421.16,828.27 L420.09,828.77 L419.12,829.44 L418.26,830.29 L417.52,831.29 L416.90,832.44 L416.41,833.73 L416.06,835.15 L415.85,836.67 L415.78,838.30 L415.85,840.01 L416.06,841.78 L416.41,843.60 L416.90,845.45 L417.52,847.32 L418.26,849.18 L419.12,851.01 L420.09,852.81 L421.16,854.55 L422.32,856.21 L423.56,857.79 L424.87,859.25 L426.23,860.60 L427.63,861.82 L429.06,862.88 L430.50,863.80 L431.94,864.55 L433.37,865.13 L434.77,865.54 L436.13,865.76 L437.44,865.80 L438.68,865.66 L439.84,865.33 L440.91,864.83 L441.88,864.16 L442.74,863.31 L443.48,862.31 L444.10,861.16 L444.59,859.87 L444.94,858.45 L445.15,856.93Z M441.93,853.40 L441.88,852.07 L441.71,850.70 L441.44,849.28 L441.06,847.85 L440.58,846.40 L440.00,844.95 L439.34,843.53 L438.58,842.13 L437.75,840.78 L436.85,839.49 L435.89,838.27 L434.87,837.13 L433.82,836.08 L432.73,835.14 L431.62,834.31 L430.50,833.60 L429.38,833.02 L428.27,832.57 L427.18,832.25 L426.13,832.08 L425.11,832.05 L424.15,832.16 L423.25,832.41 L422.42,832.80 L421.66,833.32 L421.00,833.98 L420.42,834.76 L419.94,835.65 L419.56,836.65 L419.29,837.75 L419.12,838.94 L419.07,840.20 L419.12,841.53 L419.29,842.90 L419.56,844.32 L419.94,845.75 L420.42,847.20 L421.00,848.65 L421.66,850.07 L422.42,851.47 L423.25,852.82 L424.15,854.11 L425.11,855.33 L426.13,856.47 L427.18,857.52 L428.27,858.46 L429.38,859.29 L430.50,860.00 L431.62,860.58 L432.73,861.03 L433.82,861.35 L434.87,861.52 L435.89,861.55 L436.85,861.44 L437.75,861.19 L438.58,860.80 L439.34,860.28 L440.00,859.62 L440.58,858.84 L441.06,857.95 L441.44,856.95 L441.71,855.85 L441.88,854.66Z" fill="#fafcfa" stroke="#000" stroke-width="1.25" fill-rule="evenodd"/>
<polyline points="424.50,831.60 423.51,832.33 422.68,833.28 422.02,834.45 421.54,835.81 421.24,837.33 421.15,839.00 421.24,840.78 421.54,842.64 422.02,844.55 422.68,846.48 423.51,848.40 424.50,850.27 425.62,852.05 426.86,853.73 428.20,855.27 429.62,856.64 431.09,857.83 432.58,858.80 434.07,859.55 435.54,860.06 436.95,860.32 438.29,860.33 439.54,860.09 440.66,859.60" fill="none" stroke="#000" stroke-width="1.00" stroke-linejoin="round" />
<polygon points="485.37,849.94 486.77,848.96 488.01,847.75 489.08,846.30 489.97,844.64 490.67,842.78 491.17,840.74 491.48,838.54 491.58,836.20 491.48,833.74 491.17,831.18 490.67,828.56 489.97,825.89 489.08,823.20 488.01,820.52 486.77,817.88 485.37,815.29 483.83,812.78 482.15,810.38 480.37,808.12 478.48,806.00 476.52,804.06 474.50,802.31 472.44,800.77 470.37,799.45 468.29,798.37 466.23,797.53 464.21,796.95 462.25,796.63 460.36,796.57 458.58,796.77 456.90,797.24 455.36,797.96 463.59,793.21 465.13,792.49 466.80,792.02 468.59,791.82 470.47,791.88 472.43,792.20 474.45,792.78 476.51,793.62 478.59,794.70 480.67,796.02 482.73,797.56 484.75,799.31 486.71,801.25 488.59,803.37 490.38,805.63 492.05,808.03 493.60,810.54 494.99,813.13 496.23,815.77 497.30,818.45 498.19,821.14 498.90,823.81 499.40,826.43 499.71,828.99 499.81,831.45 499.71,833.79 499.40,835.99 498.90,838.03 498.19,839.89 497.30,841.55 496.23,843.00 494.99,844.21 493.60,845.19" fill="#fafcfa" stroke="#000" stroke-width="1.25" stroke-linejoin="round" />
<path d="M491.58,836.20 L491.48,833.74 L491.17,831.18 L490.67,828.56 L489.97,825.89 L489.08,823.20 L488.01,820.52 L486.77,817.88 L485.37,815.29 L483.83,812.78 L482.15,810.38 L480.37,808.12 L478.48,806.00 L476.52,804.06 L474.50,802.31 L472.44,800.77 L470.37,799.45 L468.29,798.37 L466.23,797.53 L464.21,796.95 L462.25,796.63 L460.36,796.57 L458.58,796.77 L456.90,797.24 L455.36,797.96 L453.96,798.94 L452.72,800.15 L451.65,801.60 L450.76,803.26 L450.06,805.12 L449.56,807.16 L449.25,809.36 L449.15,811.70 L449.25,814.16 L449.56,816.72 L450.06,819.34 L450.76,822.01 L451.65,824.70 L452.72,827.38 L453.96,830.02 L455.36,832.61 L456.90,835.12 L458.58,837.52 L460.36,839.78 L462.25,841.90 L464.21,843.84 L466.23,845.59 L468.29,847.13 L470.37,848.45 L472.44,849.53 L474.50,850.37 L476.52,850.95 L478.48,851.27 L480.37,851.33 L482.15,851.13 L483.83,850.66 L485.37,849.94 L486.77,848.96 L488.01,847.75 L489.08,846.30 L489.97,844.64 L490.67,842.78 L491.17,840.74 L491.48,838.54Z M488.55,834.45 L488.46,832.34 L488.20,830.15 L487.77,827.90 L487.17,825.61 L486.40,823.31 L485.49,821.01 L484.42,818.74 L483.22,816.53 L481.90,814.38 L480.47,812.32 L478.94,810.38 L477.32,808.57 L475.64,806.90 L473.91,805.40 L472.15,804.08 L470.37,802.95 L468.58,802.02 L466.82,801.31 L465.09,800.81 L463.41,800.53 L461.79,800.48 L460.26,800.66 L458.83,801.06 L457.51,801.68 L456.31,802.51 L455.24,803.55 L454.33,804.79 L453.56,806.21 L452.96,807.81 L452.53,809.55 L452.27,811.44 L452.18,813.45 L452.27,815.56 L452.53,817.75 L452.96,820.00 L453.56,822.29 L454.33,824.59 L455.24,826.89 L456.31,829.16 L457.51,831.37 L458.83,833.52 L460.26,835.58 L461.79,837.52 L463.41,839.33 L465.09,841.00 L466.82,842.50 L468.58,843.82 L470.37,844.95 L472.15,845.88 L473.91,846.59 L475.64,847.09 L477.32,847.37 L478.94,847.42 L480.47,847.24 L481.90,846.84 L483.22,846.22 L484.42,845.39 L485.49,844.35 L486.40,843.11 L487.17,841.69 L487.77,840.09 L488.20,838.35 L488.46,836.46Z" fill="#fafcfa" stroke="#000" stroke-width="1.25" fill-rule="evenodd"/>
<polygon points="478.23,806.00 477.84,805.58 477.43,805.17 477.03,804.77 476.62,804.37 476.22,803.98 475.80,803.60 475.39,803.23 474.97,802.86 484.59,797.31 485.00,797.68 485.42,798.05 485.83,798.43 486.24,798.82 486.64,799.22 487.05,799.62 487.45,800.03 487.85,800.45" fill="#fafcfa" stroke="none" stroke-width="1.00" stroke-linejoin="round" />
<polygon points="478.73,805.61 478.33,805.19 477.93,804.77 477.52,804.36 477.11,803.96 476.70,803.57 476.28,803.19 475.87,802.81 475.45,802.44 474.46,806.43 474.81,806.73 475.15,807.04 475.48,807.35 475.82,807.67 476.16,808.00 476.49,808.33 476.82,808.67 477.14,809.02" fill="#fafcfa" stroke="none" stroke-width="1.00" stroke-linejoin="round" />
<polyline points="477.47,808.72 478.66,806.18 486.88,801.43" fill="none" stroke="#000" stroke-width="1.15" stroke-linejoin="round" />
<polyline points="474.76,806.11 482.99,801.36" fill="none" stroke="#000" stroke-width="1.00" stroke-linejoin="round" />
<polyline points="483.73,798.39 482.99,801.36" fill="none" stroke="#000" stroke-width="1.00" stroke-linejoin="round" />
<polygon points="481.06,847.47 482.26,846.64 483.32,845.60 484.24,844.36 485.00,842.94 485.60,841.34 486.04,839.60 486.30,837.71 486.39,835.70 486.30,833.59 486.04,831.40 485.60,829.15 485.00,826.86 484.24,824.56 483.32,822.26 482.26,819.99 481.06,817.78 479.74,815.63 478.30,813.57 476.77,811.63 475.16,809.82 473.48,808.15 471.75,806.65 469.98,805.33 468.20,804.20 466.42,803.27 464.65,802.56 462.92,802.06 461.24,801.78 459.63,801.73 458.10,801.91 456.66,802.31 455.34,802.93 457.51,801.68 458.83,801.06 460.26,800.66 461.79,800.48 463.41,800.53 465.09,800.81 466.82,801.31 468.58,802.02 470.37,802.95 472.15,804.08 473.91,805.40 475.64,806.90 477.32,808.57 478.94,810.38 480.47,812.32 481.90,814.38 483.22,816.53 484.42,818.74 485.49,821.01 486.40,823.31 487.17,825.61 487.77,827.90 488.20,830.15 488.46,832.34 488.55,834.45 488.46,836.46 488.20,838.35 487.77,840.09 487.17,841.69 486.40,843.11 485.49,844.35 484.42,845.39 483.22,846.22" fill="#fafcfa" stroke="#000" stroke-width="1.25" stroke-linejoin="round" />
<path d="M486.39,835.70 L486.30,833.59 L486.04,831.40 L485.60,829.15 L485.00,826.86 L484.24,824.56 L483.32,822.26 L482.26,819.99 L481.06,817.78 L479.74,815.63 L478.30,813.57 L476.77,811.63 L475.16,809.82 L473.48,808.15 L471.75,806.65 L469.98,805.33 L468.20,804.20 L466.42,803.27 L464.65,802.56 L462.92,802.06 L461.24,801.78 L459.63,801.73 L458.10,801.91 L456.66,802.31 L455.34,802.93 L454.14,803.76 L453.08,804.80 L452.16,806.04 L451.40,807.46 L450.80,809.06 L450.36,810.80 L450.10,812.69 L450.01,814.70 L450.10,816.81 L450.36,819.00 L450.80,821.25 L451.40,823.54 L452.16,825.84 L453.08,828.14 L454.14,830.41 L455.34,832.62 L456.66,834.77 L458.10,836.83 L459.63,838.77 L461.24,840.58 L462.92,842.25 L464.65,843.75 L466.42,845.07 L468.20,846.20 L469.98,847.13 L471.75,847.84 L473.48,848.34 L475.16,848.62 L476.77,848.67 L478.30,848.49 L479.74,848.09 L481.06,847.47 L482.26,846.64 L483.32,845.60 L484.24,844.36 L485.00,842.94 L485.60,841.34 L486.04,839.60 L486.30,837.71Z M480.84,832.50 L480.78,831.03 L480.60,829.51 L480.30,827.95 L479.88,826.36 L479.35,824.76 L478.71,823.16 L477.97,821.58 L477.14,820.04 L476.22,818.55 L475.22,817.12 L474.16,815.77 L473.04,814.50 L471.87,813.35 L470.67,812.30 L469.44,811.39 L468.20,810.60 L466.96,809.95 L465.73,809.46 L464.53,809.11 L463.36,808.92 L462.24,808.88 L461.18,809.00 L460.18,809.28 L459.26,809.71 L458.43,810.29 L457.69,811.02 L457.05,811.88 L456.52,812.87 L456.10,813.98 L455.80,815.19 L455.62,816.50 L455.56,817.90 L455.62,819.37 L455.80,820.89 L456.10,822.45 L456.52,824.04 L457.05,825.64 L457.69,827.24 L458.43,828.82 L459.26,830.36 L460.18,831.85 L461.18,833.28 L462.24,834.63 L463.36,835.90 L464.53,837.05 L465.73,838.10 L466.96,839.01 L468.20,839.80 L469.44,840.45 L470.67,840.94 L471.87,841.29 L473.04,841.48 L474.16,841.52 L475.22,841.40 L476.22,841.12 L477.14,840.69 L477.97,840.11 L478.71,839.38 L479.35,838.52 L479.88,837.53 L480.30,836.42 L480.60,835.21 L480.78,833.90Z" fill="#fafcfa" stroke="#000" stroke-width="1.25" fill-rule="evenodd"/>
<ellipse cx="468.20" cy="825.20" rx="12.94" ry="22.41" transform="rotate(-30 468.20 825.20)" fill="none" stroke="#111" stroke-width="2.6" stroke-dasharray="1.2 1.1"/>
<ellipse cx="468.20" cy="825.20" rx="14.07" ry="24.37" transform="rotate(-30 468.20 825.20)" fill="none" stroke="#000" stroke-width="0.90" />
<ellipse cx="468.20" cy="825.20" rx="11.46" ry="19.84" transform="rotate(-30 468.20 825.20)" fill="none" stroke="#000" stroke-width="0.90" />
<polyline points="467.05,805.21 465.96,806.02 465.04,807.08 464.31,808.37 463.78,809.87 463.46,811.56 463.35,813.40 463.46,815.37 463.78,817.43 464.31,819.54 465.04,821.68 465.96,823.80 467.05,825.86 468.30,827.84 469.67,829.69 471.16,831.40 472.72,832.91 474.34,834.22 475.99,835.30 477.64,836.13 479.27,836.69 480.83,836.98 482.32,836.99 483.69,836.73 484.93,836.19" fill="none" stroke="#000" stroke-width="0.90" stroke-linejoin="round" />
<polygon points="528.25,817.51 529.39,816.72 530.40,815.73 531.28,814.55 532.00,813.19 532.57,811.68 532.99,810.01 533.24,808.21 533.32,806.30 533.24,804.29 532.99,802.21 532.57,800.06 532.00,797.89 531.28,795.69 530.40,793.50 529.39,791.34 528.25,789.23 526.99,787.18 525.62,785.23 524.16,783.38 522.63,781.65 521.03,780.06 519.38,778.64 517.70,777.38 516.00,776.30 514.30,775.42 512.62,774.73 510.97,774.26 509.37,774.00 507.84,773.95 506.38,774.11 505.01,774.50 503.75,775.09 506.52,773.49 507.78,772.90 509.15,772.51 510.61,772.35 512.14,772.40 513.74,772.66 515.39,773.13 517.07,773.82 518.77,774.70 520.47,775.78 522.15,777.04 523.80,778.46 525.40,780.05 526.94,781.78 528.39,783.63 529.76,785.58 531.02,787.63 532.16,789.74 533.17,791.90 534.05,794.09 534.77,796.29 535.35,798.46 535.76,800.61 536.01,802.69 536.09,804.70 536.01,806.61 535.76,808.41 535.35,810.08 534.77,811.59 534.05,812.95 533.17,814.13 532.16,815.12 531.02,815.91" fill="#fafcfa" stroke="#000" stroke-width="1.25" stroke-linejoin="round" />
<path d="M533.32,806.30 L533.24,804.29 L532.99,802.21 L532.57,800.06 L532.00,797.89 L531.28,795.69 L530.40,793.50 L529.39,791.34 L528.25,789.23 L526.99,787.18 L525.62,785.23 L524.16,783.38 L522.63,781.65 L521.03,780.06 L519.38,778.64 L517.70,777.38 L516.00,776.30 L514.30,775.42 L512.62,774.73 L510.97,774.26 L509.37,774.00 L507.84,773.95 L506.38,774.11 L505.01,774.50 L503.75,775.09 L502.61,775.88 L501.60,776.87 L500.72,778.05 L500.00,779.41 L499.43,780.92 L499.01,782.59 L498.76,784.39 L498.68,786.30 L498.76,788.31 L499.01,790.39 L499.43,792.54 L500.00,794.71 L500.72,796.91 L501.60,799.10 L502.61,801.26 L503.75,803.37 L505.01,805.42 L506.38,807.37 L507.84,809.22 L509.37,810.95 L510.97,812.54 L512.62,813.96 L514.30,815.22 L516.00,816.30 L517.70,817.18 L519.38,817.87 L521.03,818.34 L522.63,818.60 L524.16,818.65 L525.62,818.49 L526.99,818.10 L528.25,817.51 L529.39,816.72 L530.40,815.73 L531.28,814.55 L532.00,813.19 L532.57,811.68 L532.99,810.01 L533.24,808.21Z M529.34,804.00 L529.27,802.45 L529.08,800.85 L528.76,799.20 L528.32,797.52 L527.76,795.83 L527.09,794.15 L526.31,792.48 L525.43,790.86 L524.46,789.28 L523.41,787.77 L522.29,786.35 L521.10,785.02 L519.87,783.80 L518.60,782.70 L517.31,781.73 L516.00,780.90 L514.69,780.22 L513.40,779.69 L512.13,779.33 L510.90,779.13 L509.71,779.09 L508.59,779.22 L507.54,779.51 L506.57,779.97 L505.69,780.58 L504.91,781.34 L504.24,782.25 L503.68,783.29 L503.24,784.46 L502.92,785.74 L502.73,787.13 L502.66,788.60 L502.73,790.15 L502.92,791.75 L503.24,793.40 L503.68,795.08 L504.24,796.77 L504.91,798.45 L505.69,800.12 L506.57,801.74 L507.54,803.32 L508.59,804.83 L509.71,806.25 L510.90,807.58 L512.13,808.80 L513.40,809.90 L514.69,810.87 L516.00,811.70 L517.31,812.38 L518.60,812.91 L519.87,813.27 L521.10,813.47 L522.29,813.51 L523.41,813.38 L524.46,813.09 L525.43,812.63 L526.31,812.02 L527.09,811.26 L527.76,810.35 L528.32,809.31 L528.76,808.14 L529.08,806.86 L529.27,805.47Z" fill="#fafcfa" stroke="#000" stroke-width="1.25" fill-rule="evenodd"/>
<polyline points="509.34,778.37 508.19,779.22 507.22,780.33 506.45,781.69 505.89,783.28 505.55,785.06 505.43,787.00 505.55,789.08 505.89,791.25 506.45,793.48 507.22,795.73 508.19,797.97 509.34,800.14 510.65,802.23 512.10,804.19 513.67,805.98 515.32,807.58 517.03,808.96 518.77,810.10 520.51,810.97 522.22,811.57 523.88,811.87 525.44,811.89 526.89,811.61 528.20,811.03" fill="none" stroke="#000" stroke-width="1.00" stroke-linejoin="round" />
<polygon points="557.00,745.00 574.00,724.70 581.00,720.60 591.80,726.50 591.80,732.40 588.00,735.50 592.00,741.50 600.00,744.00 610.60,738.00 622.40,744.70 622.40,768.80 614.00,774.70 598.80,780.60 572.00,789.00" fill="#fafcfa" stroke="#000" stroke-width="1.25" stroke-linejoin="round" />
<polyline points="574.00,724.70 576.50,729.50 588.00,735.50" fill="none" stroke="#000" stroke-width="1.00" stroke-linejoin="round" />
<polyline points="584.00,730.00 588.00,728.50" fill="none" stroke="#000" stroke-width="0.90" stroke-linejoin="round" />
<polyline points="610.60,738.00 611.50,745.50 622.40,744.70" fill="none" stroke="#000" stroke-width="1.00" stroke-linejoin="round" />
<polyline points="611.50,745.50 611.50,774.00" fill="none" stroke="#000" stroke-width="1.60" stroke-linejoin="round" />
<polyline points="622.40,755.00 620.50,757.00 620.50,762.00 622.40,764.00" fill="none" stroke="#000" stroke-width="0.90" stroke-linejoin="round" />
<polyline points="576.50,729.50 582.00,738.50 592.00,744.00 600.00,746.00 611.50,745.50" fill="none" stroke="#000" stroke-width="0.90" stroke-linejoin="round" />
<polyline points="580.17,784.04 582.60,784.16 584.82,783.72 586.78,782.75 588.42,781.27 589.71,779.31 590.60,776.92 591.08,774.16 591.14,771.11 590.77,767.84 589.99,764.44 588.81,760.99 587.26,757.59 585.39,754.31 583.23,751.24 580.85,748.46 578.31,746.05 575.67,744.05 573.00,742.53 570.37,741.53 567.84,741.06 565.48,741.14 563.34,741.77 561.50,742.93 559.98,744.59" fill="none" stroke="#000" stroke-width="1.10" stroke-linejoin="round" />
<polyline points="582.38,783.02 584.29,782.63 585.98,781.81 587.44,780.59 588.62,778.99 589.50,777.04 590.06,774.79 590.30,772.28 590.20,769.56 589.76,766.70 589.01,763.75 587.95,760.78 586.60,757.85 584.99,755.01 583.17,752.34 581.15,749.88 579.00,747.69 576.75,745.82 574.46,744.30 572.16,743.17 569.91,742.44 567.76,742.15 565.75,742.28 563.92,742.85 562.32,743.83" fill="none" stroke="#000" stroke-width="0.80" stroke-linejoin="round" />
<polygon points="576.21,785.63 577.18,784.96 578.04,784.11 578.78,783.11 579.40,781.96 579.88,780.67 580.24,779.25 580.45,777.73 580.52,776.10 580.45,774.39 580.24,772.62 579.88,770.80 579.40,768.95 578.78,767.08 578.04,765.22 577.18,763.39 576.21,761.59 575.14,759.85 573.98,758.19 572.74,756.61 571.43,755.15 570.07,753.80 568.67,752.58 567.24,751.52 565.80,750.60 564.35,749.85 562.92,749.27 561.52,748.86 560.16,748.64 558.86,748.60 557.62,748.74 556.46,749.07 555.39,749.57 562.31,745.57 563.38,745.07 564.55,744.74 565.78,744.60 567.09,744.64 568.45,744.86 569.85,745.27 571.28,745.85 572.72,746.60 574.17,747.52 575.60,748.58 577.00,749.80 578.36,751.15 579.66,752.61 580.90,754.19 582.06,755.85 583.13,757.59 584.10,759.39 584.97,761.22 585.71,763.08 586.33,764.95 586.81,766.80 587.16,768.62 587.38,770.39 587.45,772.10 587.38,773.73 587.16,775.25 586.81,776.67 586.33,777.96 585.71,779.11 584.97,780.11 584.10,780.96 583.13,781.63" fill="#fafcfa" stroke="#000" stroke-width="1.25" stroke-linejoin="round" />
<ellipse cx="565.80" cy="767.60" rx="12.02" ry="20.82" transform="rotate(-30 565.80 767.60)" fill="#fafcfa" stroke="#000" stroke-width="1.25" />
<polygon points="569.30,785.66 570.11,785.10 570.83,784.39 571.45,783.56 571.96,782.59 572.37,781.52 572.66,780.33 572.84,779.06 572.90,777.70 572.84,776.27 572.66,774.79 572.37,773.27 571.96,771.73 571.45,770.17 570.83,768.61 570.11,767.08 569.30,765.58 568.40,764.13 567.43,762.74 566.40,761.42 565.31,760.20 564.17,759.07 563.00,758.06 561.81,757.16 560.60,756.40 559.39,755.77 558.20,755.29 557.03,754.95 555.89,754.76 554.80,754.73 553.77,754.85 552.80,755.12 551.90,755.54 557.10,752.54 557.99,752.12 558.96,751.85 560.00,751.73 561.09,751.76 562.23,751.95 563.40,752.29 564.59,752.77 565.80,753.40 567.00,754.16 568.20,755.06 569.37,756.07 570.50,757.20 571.59,758.42 572.63,759.74 573.60,761.13 574.49,762.58 575.30,764.08 576.02,765.61 576.64,767.17 577.16,768.73 577.56,770.27 577.86,771.79 578.03,773.27 578.09,774.70 578.03,776.06 577.86,777.33 577.56,778.52 577.16,779.59 576.64,780.56 576.02,781.39 575.30,782.10 574.49,782.66" fill="#fafcfa" stroke="#000" stroke-width="1.25" stroke-linejoin="round" />
<ellipse cx="560.60" cy="770.60" rx="10.04" ry="17.39" transform="rotate(-30 560.60 770.60)" fill="#fafcfa" stroke="#000" stroke-width="1.25" />
<ellipse cx="560.60" cy="770.60" rx="8.34" ry="14.45" transform="rotate(-30 560.60 770.60)" fill="none" stroke="#000" stroke-width="1.10" />
<ellipse cx="560.60" cy="770.60" rx="7.64" ry="13.23" transform="rotate(-30 560.60 770.60)" fill="none" stroke="#000" stroke-width="0.70" />
<polygon points="649.63,731.16 650.16,730.79 650.62,730.34 651.03,729.79 651.36,729.17 651.62,728.47 651.81,727.71 651.93,726.88 651.97,726.00 651.93,725.08 651.81,724.12 651.62,723.13 651.36,722.13 651.03,721.12 650.62,720.11 650.16,719.12 649.63,718.15 649.05,717.21 648.43,716.31 647.76,715.45 647.05,714.66 646.31,713.93 645.55,713.27 644.78,712.70 644.00,712.20 643.22,711.79 642.45,711.48 641.69,711.26 640.95,711.14 640.24,711.12 639.57,711.19 638.95,711.37 638.37,711.64 638.63,711.49 639.21,711.22 639.83,711.04 640.50,710.97 641.21,710.99 641.95,711.11 642.71,711.33 643.48,711.64 644.26,712.05 645.04,712.55 645.81,713.12 646.57,713.78 647.31,714.51 648.02,715.30 648.69,716.16 649.31,717.06 649.89,718.00 650.42,718.97 650.88,719.96 651.29,720.97 651.62,721.98 651.88,722.98 652.07,723.97 652.19,724.93 652.23,725.85 652.19,726.73 652.07,727.56 651.88,728.32 651.62,729.02 651.29,729.64 650.88,730.19 650.42,730.64 649.89,731.01" fill="#fafcfa" stroke="#000" stroke-width="1.30" stroke-linejoin="round" />
<path d="M651.97,726.00 L651.93,725.08 L651.81,724.12 L651.62,723.13 L651.36,722.13 L651.03,721.12 L650.62,720.11 L650.16,719.12 L649.63,718.15 L649.05,717.21 L648.43,716.31 L647.76,715.45 L647.05,714.66 L646.31,713.93 L645.55,713.27 L644.78,712.70 L644.00,712.20 L643.22,711.79 L642.45,711.48 L641.69,711.26 L640.95,711.14 L640.24,711.12 L639.57,711.19 L638.95,711.37 L638.37,711.64 L637.84,712.01 L637.38,712.46 L636.97,713.01 L636.64,713.63 L636.38,714.33 L636.19,715.09 L636.07,715.92 L636.03,716.80 L636.07,717.72 L636.19,718.68 L636.38,719.67 L636.64,720.67 L636.97,721.68 L637.38,722.69 L637.84,723.68 L638.37,724.65 L638.95,725.59 L639.57,726.49 L640.24,727.35 L640.95,728.14 L641.69,728.87 L642.45,729.53 L643.22,730.10 L644.00,730.60 L644.78,731.01 L645.55,731.32 L646.31,731.54 L647.05,731.66 L647.76,731.68 L648.43,731.61 L649.05,731.43 L649.63,731.16 L650.16,730.79 L650.62,730.34 L651.03,729.79 L651.36,729.17 L651.62,728.47 L651.81,727.71 L651.93,726.88Z M650.93,725.40 L650.89,724.60 L650.80,723.76 L650.63,722.91 L650.40,722.03 L650.11,721.16 L649.76,720.28 L649.36,719.42 L648.90,718.57 L648.40,717.75 L647.85,716.97 L647.27,716.23 L646.65,715.54 L646.01,714.91 L645.35,714.33 L644.68,713.83 L644.00,713.40 L643.32,713.05 L642.65,712.77 L641.99,712.58 L641.35,712.48 L640.73,712.46 L640.15,712.53 L639.60,712.68 L639.10,712.91 L638.64,713.23 L638.24,713.63 L637.89,714.10 L637.60,714.64 L637.37,715.25 L637.20,715.92 L637.11,716.64 L637.07,717.40 L637.11,718.20 L637.20,719.04 L637.37,719.89 L637.60,720.77 L637.89,721.64 L638.24,722.52 L638.64,723.38 L639.10,724.23 L639.60,725.05 L640.15,725.83 L640.73,726.57 L641.35,727.26 L641.99,727.89 L642.65,728.47 L643.32,728.97 L644.00,729.40 L644.68,729.75 L645.35,730.03 L646.01,730.22 L646.65,730.32 L647.27,730.34 L647.85,730.27 L648.40,730.12 L648.90,729.89 L649.36,729.57 L649.76,729.17 L650.11,728.70 L650.40,728.16 L650.63,727.55 L650.80,726.88 L650.89,726.16Z" fill="#fafcfa" stroke="#000" stroke-width="1.30" fill-rule="evenodd"/>
<polygon points="681.11,713.96 681.73,713.53 682.28,712.99 682.75,712.35 683.14,711.62 683.45,710.80 683.67,709.90 683.81,708.93 683.85,707.90 683.81,706.82 683.67,705.69 683.45,704.53 683.14,703.36 682.75,702.17 682.28,700.99 681.73,699.82 681.11,698.68 680.43,697.58 679.70,696.52 678.91,695.52 678.08,694.59 677.22,693.73 676.32,692.96 675.42,692.28 674.50,691.70 673.58,691.22 672.68,690.85 671.78,690.60 670.92,690.46 670.09,690.43 669.30,690.52 668.57,690.73 667.89,691.04 669.27,690.24 669.95,689.93 670.69,689.72 671.48,689.63 672.31,689.66 673.17,689.80 674.06,690.05 674.97,690.42 675.89,690.90 676.80,691.48 677.71,692.16 678.60,692.93 679.46,693.79 680.29,694.72 681.08,695.72 681.82,696.78 682.50,697.88 683.12,699.02 683.66,700.19 684.13,701.37 684.53,702.56 684.84,703.73 685.06,704.89 685.19,706.02 685.24,707.10 685.19,708.13 685.06,709.10 684.84,710.00 684.53,710.82 684.13,711.55 683.66,712.19 683.12,712.73 682.50,713.16" fill="#fafcfa" stroke="#000" stroke-width="1.10" stroke-linejoin="round" />
<path d="M683.85,707.90 L683.81,706.82 L683.67,705.69 L683.45,704.53 L683.14,703.36 L682.75,702.17 L682.28,700.99 L681.73,699.82 L681.11,698.68 L680.43,697.58 L679.70,696.52 L678.91,695.52 L678.08,694.59 L677.22,693.73 L676.32,692.96 L675.42,692.28 L674.50,691.70 L673.58,691.22 L672.68,690.85 L671.78,690.60 L670.92,690.46 L670.09,690.43 L669.30,690.52 L668.57,690.73 L667.89,691.04 L667.27,691.47 L666.72,692.01 L666.25,692.65 L665.86,693.38 L665.55,694.20 L665.33,695.10 L665.19,696.07 L665.15,697.10 L665.19,698.18 L665.33,699.31 L665.55,700.47 L665.86,701.64 L666.25,702.83 L666.72,704.01 L667.27,705.18 L667.89,706.32 L668.57,707.42 L669.30,708.48 L670.09,709.48 L670.92,710.41 L671.78,711.27 L672.68,712.04 L673.58,712.72 L674.50,713.30 L675.42,713.78 L676.32,714.15 L677.22,714.40 L678.08,714.54 L678.91,714.57 L679.70,714.48 L680.43,714.27 L681.11,713.96 L681.73,713.53 L682.28,712.99 L682.75,712.35 L683.14,711.62 L683.45,710.80 L683.67,709.90 L683.81,708.93Z M677.10,704.00 L677.09,703.70 L677.05,703.39 L676.99,703.06 L676.90,702.74 L676.79,702.41 L676.66,702.08 L676.51,701.76 L676.34,701.44 L676.15,701.13 L675.94,700.84 L675.72,700.56 L675.49,700.30 L675.25,700.06 L675.01,699.85 L674.75,699.66 L674.50,699.50 L674.25,699.37 L673.99,699.27 L673.75,699.19 L673.51,699.15 L673.28,699.15 L673.06,699.17 L672.85,699.23 L672.66,699.32 L672.49,699.44 L672.34,699.59 L672.21,699.76 L672.10,699.97 L672.01,700.19 L671.95,700.44 L671.91,700.71 L671.90,701.00 L671.91,701.30 L671.95,701.61 L672.01,701.94 L672.10,702.26 L672.21,702.59 L672.34,702.92 L672.49,703.24 L672.66,703.56 L672.85,703.87 L673.06,704.16 L673.28,704.44 L673.51,704.70 L673.75,704.94 L673.99,705.15 L674.25,705.34 L674.50,705.50 L674.75,705.63 L675.01,705.73 L675.25,705.81 L675.49,705.85 L675.72,705.85 L675.94,705.83 L676.15,705.77 L676.34,705.68 L676.51,705.56 L676.66,705.41 L676.79,705.24 L676.90,705.03 L676.99,704.81 L677.05,704.56 L677.09,704.29Z" fill="#fafcfa" stroke="#000" stroke-width="1.10" fill-rule="evenodd"/>
<polyline points="674.05,698.52 673.82,698.68 673.64,698.90 673.49,699.17 673.38,699.47 673.31,699.82 673.29,700.20 673.31,700.60 673.38,701.03 673.49,701.46 673.64,701.90 673.82,702.34 674.05,702.76 674.30,703.17 674.59,703.55 674.89,703.90 675.21,704.21 675.55,704.48 675.89,704.70 676.22,704.87 676.56,704.99 676.88,705.05 677.18,705.05 677.47,704.99 677.72,704.88" fill="none" stroke="#000" stroke-width="0.88" stroke-linejoin="round" />
<polyline points="707.34,682.00 716.00,677.00" fill="none" stroke="#000" stroke-width="4.60" stroke-linejoin="round" />
<line x1="707.01" y1="679.40" x2="709.41" y2="683.60" stroke="#fafcfa" stroke-width="0.5"/>
<line x1="708.48" y1="678.55" x2="710.88" y2="682.75" stroke="#fafcfa" stroke-width="0.5"/>
<line x1="709.95" y1="677.70" x2="712.35" y2="681.90" stroke="#fafcfa" stroke-width="0.5"/>
<line x1="711.42" y1="676.85" x2="713.82" y2="681.05" stroke="#fafcfa" stroke-width="0.5"/>
<line x1="712.89" y1="676.00" x2="715.29" y2="680.20" stroke="#fafcfa" stroke-width="0.5"/>
<line x1="714.37" y1="675.15" x2="716.77" y2="679.35" stroke="#fafcfa" stroke-width="0.5"/>
<polygon points="718.82,681.88 719.08,681.70 719.31,681.47 719.51,681.20 719.68,680.89 719.81,680.54 719.91,680.15 719.96,679.74 719.98,679.30 719.96,678.84 719.91,678.36 719.81,677.87 719.68,677.36 719.51,676.86 719.31,676.36 719.08,675.86 718.82,675.37 718.53,674.90 718.21,674.45 717.88,674.03 717.52,673.63 717.16,673.27 716.78,672.94 716.39,672.65 716.00,672.40 715.61,672.20 715.22,672.04 714.84,671.93 714.48,671.87 714.12,671.86 713.79,671.90 713.47,671.99 713.18,672.12 715.78,670.62 716.07,670.49 716.38,670.40 716.72,670.36 717.07,670.37 717.44,670.43 717.82,670.54 718.21,670.70 718.60,670.90 718.99,671.15 719.38,671.44 719.75,671.77 720.12,672.13 720.48,672.53 720.81,672.95 721.13,673.40 721.41,673.87 721.68,674.36 721.91,674.86 722.11,675.36 722.28,675.86 722.41,676.37 722.51,676.86 722.56,677.34 722.58,677.80 722.56,678.24 722.51,678.65 722.41,679.04 722.28,679.39 722.11,679.70 721.91,679.97 721.68,680.20 721.41,680.38" fill="#fafcfa" stroke="#000" stroke-width="1.00" stroke-linejoin="round" />
<ellipse cx="716.00" cy="677.00" rx="3.25" ry="5.63" transform="rotate(-30 716.00 677.00)" fill="#fafcfa" stroke="#000" stroke-width="1.00" />
<ellipse cx="716.00" cy="677.00" rx="1.70" ry="2.94" transform="rotate(-30 716.00 677.00)" fill="none" stroke="#000" stroke-width="0.80" />
<text x="361.0" y="31.6" font-size="13.8" text-anchor="middle" >1</text>
<polyline points="369.50,31.50 375.90,31.50 402.00,47.00" fill="none" stroke="#111" stroke-width="1.10" stroke-linejoin="round" />
<text x="346.5" y="63.0" font-size="13.8" text-anchor="middle" >2</text>
<polyline points="354.00,63.50 364.00,63.50 377.00,88.80" fill="none" stroke="#111" stroke-width="1.10" stroke-linejoin="round" />
<text x="305.0" y="93.5" font-size="13.8" text-anchor="middle" >3</text>
<polyline points="313.50,92.50 320.60,92.50 337.00,119.40" fill="none" stroke="#111" stroke-width="1.10" stroke-linejoin="round" />
<text x="226.0" y="141.6" font-size="13.8" text-anchor="middle" >4</text>
<polyline points="235.00,139.50 240.80,139.50 255.00,167.00" fill="none" stroke="#111" stroke-width="1.10" stroke-linejoin="round" />
<text x="259.0" y="111.6" font-size="13.8" text-anchor="middle" >5</text>
<polyline points="266.50,110.50 273.00,110.50 287.00,136.00" fill="none" stroke="#111" stroke-width="1.10" stroke-linejoin="round" />
<text x="473.0" y="158.7" font-size="13.8" text-anchor="middle" >10</text>
<polyline points="484.80,158.50 492.40,158.50 506.50,184.00" fill="none" stroke="#111" stroke-width="1.10" stroke-linejoin="round" />
<text x="554.0" y="153.5" font-size="13.8" text-anchor="middle" >6</text>
<polyline points="562.50,153.50 568.80,153.50 586.50,181.30" fill="none" stroke="#111" stroke-width="1.10" stroke-linejoin="round" />
<text x="584.0" y="102.6" font-size="13.8" text-anchor="middle" >26</text>
<polyline points="596.00,102.50 604.00,102.50 619.60,129.00" fill="none" stroke="#111" stroke-width="1.10" stroke-linejoin="round" />
<text x="653.0" y="97.8" font-size="13.8" text-anchor="middle" >25</text>
<polyline points="664.60,97.50 672.00,97.50 688.70,125.00" fill="none" stroke="#111" stroke-width="1.10" stroke-linejoin="round" />
<text x="121.4" y="473.5" font-size="13.8" text-anchor="middle" >8</text>
<polyline points="90.60,447.60 107.00,472.50 113.00,472.50" fill="none" stroke="#111" stroke-width="1.10" stroke-linejoin="round" />
<text x="467.7" y="597.0" font-size="13.8" text-anchor="middle" >15</text>
<polyline points="432.90,569.80 453.30,595.50 459.00,595.50" fill="none" stroke="#111" stroke-width="1.10" stroke-linejoin="round" />
<text x="608.0" y="517.0" font-size="13.8" text-anchor="middle" >15</text>
<polyline points="570.50,490.00 594.30,515.50 599.40,515.50" fill="none" stroke="#111" stroke-width="1.10" stroke-linejoin="round" />
<text x="338.5" y="773.6" font-size="13.8" text-anchor="middle" >11</text>
<polyline points="295.40,749.00 319.00,771.50 326.80,771.50" fill="none" stroke="#111" stroke-width="1.10" stroke-linejoin="round" />
<text x="196.0" y="846.0" font-size="13.8" text-anchor="middle" >12</text>
<polyline points="159.50,819.60 177.80,843.50 185.60,843.50" fill="none" stroke="#111" stroke-width="1.10" stroke-linejoin="round" />
<text x="131.0" y="900.6" font-size="13.8" text-anchor="middle" >13</text>
<polyline points="94.00,874.50 112.40,899.50 120.30,899.50" fill="none" stroke="#111" stroke-width="1.10" stroke-linejoin="round" />
<text x="679.0" y="651.0" font-size="13.8" text-anchor="middle" >17</text>
<polyline points="690.60,651.50 697.40,651.50 712.50,675.70" fill="none" stroke="#111" stroke-width="1.10" stroke-linejoin="round" />
<text x="632.0" y="666.0" font-size="13.8" text-anchor="middle" >18</text>
<polyline points="642.50,665.50 650.80,665.50 667.30,692.20" fill="none" stroke="#111" stroke-width="1.10" stroke-linejoin="round" />
<text x="683.8" y="760.8" font-size="13.8" text-anchor="middle" >19</text>
<polyline points="648.00,730.60 665.90,759.50 671.40,759.50" fill="none" stroke="#111" stroke-width="1.10" stroke-linejoin="round" />
<text x="633.0" y="807.4" font-size="13.8" text-anchor="middle" >20</text>
<polyline points="598.60,781.40 613.70,806.50 620.60,806.50" fill="none" stroke="#111" stroke-width="1.10" stroke-linejoin="round" />
<text x="469.5" y="747.5" font-size="13.8" text-anchor="middle" >21</text>
<polyline points="482.40,746.50 489.60,746.50 505.40,773.00" fill="none" stroke="#111" stroke-width="1.10" stroke-linejoin="round" />
<text x="423.4" y="766.0" font-size="13.8" text-anchor="middle" >22</text>
<polyline points="435.00,765.50 441.20,765.50 458.00,791.80" fill="none" stroke="#111" stroke-width="1.10" stroke-linejoin="round" />
<text x="386.0" y="801.3" font-size="13.8" text-anchor="middle" >23</text>
<polyline points="399.00,801.50 404.70,801.50 422.00,827.70" fill="none" stroke="#111" stroke-width="1.10" stroke-linejoin="round" />
<text x="325.8" y="817.5" font-size="13.8" text-anchor="middle" >24</text>
<polyline points="337.50,817.50 344.00,817.50 360.40,844.00" fill="none" stroke="#111" stroke-width="1.10" stroke-linejoin="round" />
</svg></body></html>
